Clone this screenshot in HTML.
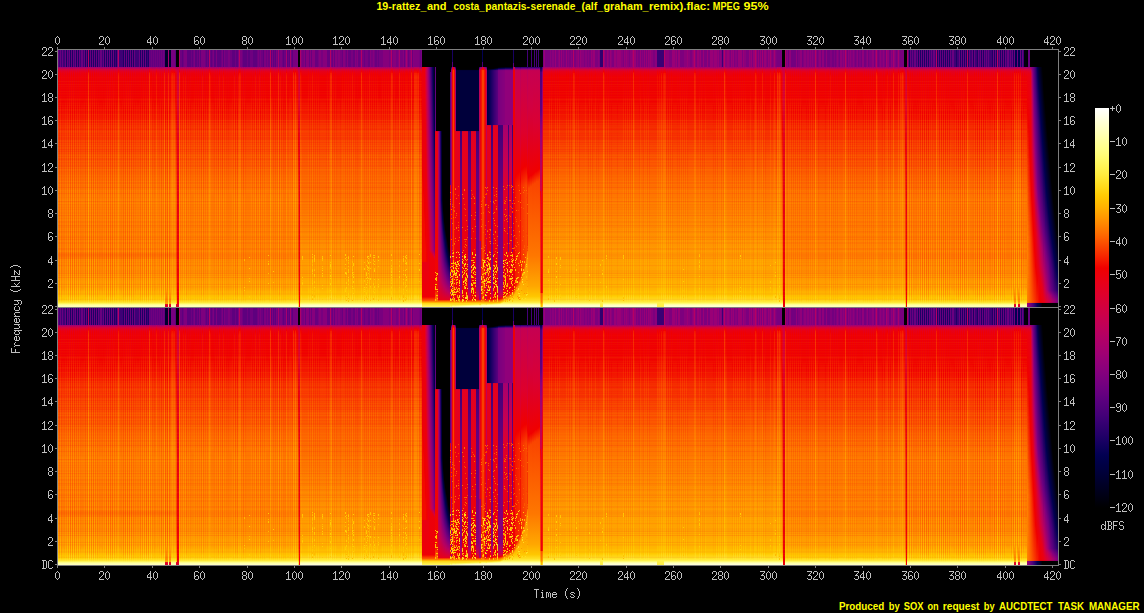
<!DOCTYPE html><html><head><meta charset="utf-8"><title>spectrogram</title><style>html,body{margin:0;padding:0;background:#000;overflow:hidden}svg{display:block}.t{font-family:"Liberation Sans",sans-serif;font-weight:bold;font-size:11px;fill:#ffff00}</style></head><body>
<svg width="1144" height="613" viewBox="0 0 1144 613" shape-rendering="crispEdges">
<defs><linearGradient id="G" gradientUnits="userSpaceOnUse" x1="0" y1="67" x2="0" y2="307"/>
<linearGradient id="g0" href="#G"><stop offset=".002" stop-color="#a8006d"/><stop offset=".01" stop-color="#d4003d"/><stop offset=".019" stop-color="#e70019"/><stop offset=".027" stop-color="#ed0008"/><stop offset=".052" stop-color="#f00001"/><stop offset=".127" stop-color="#f10300"/><stop offset=".256" stop-color="#f93b00"/><stop offset=".527" stop-color="#ff8300"/><stop offset=".773" stop-color="#ff8a00"/><stop offset=".881" stop-color="#ff9f00"/><stop offset=".956" stop-color="#ffc700"/><stop offset=".973" stop-color="#ffd715"/><stop offset=".981" stop-color="#ffe732"/><stop offset=".985" stop-color="#fff556"/><stop offset=".99" stop-color="#ffff90"/><stop offset=".994" stop-color="#ffffad"/><stop offset=".998" stop-color="#ffffb7"/></linearGradient>
<linearGradient id="g1" href="#G"><stop offset=".002" stop-color="#9f0072"/><stop offset=".006" stop-color="#bc005c"/><stop offset=".015" stop-color="#da0033"/><stop offset=".027" stop-color="#ea0012"/><stop offset=".04" stop-color="#ec000c"/><stop offset=".169" stop-color="#f00000"/><stop offset=".26" stop-color="#f62600"/><stop offset=".544" stop-color="#fd6d00"/><stop offset=".819" stop-color="#fd6d00"/><stop offset=".931" stop-color="#ff9000"/><stop offset=".956" stop-color="#fa0"/><stop offset=".969" stop-color="#ffc400"/><stop offset=".973" stop-color="#ffce06"/><stop offset=".981" stop-color="#ffe42d"/><stop offset=".985" stop-color="#fff556"/><stop offset=".99" stop-color="#ffff90"/><stop offset=".994" stop-color="#ffffad"/><stop offset=".998" stop-color="#ffffb7"/></linearGradient>
<linearGradient id="g2" href="#G"><stop offset=".002" stop-color="#a30070"/><stop offset=".01" stop-color="#d10042"/><stop offset=".019" stop-color="#e4001e"/><stop offset=".027" stop-color="#eb000e"/><stop offset=".044" stop-color="#ee0007"/><stop offset=".144" stop-color="#f00000"/><stop offset=".294" stop-color="#f93b00"/><stop offset=".556" stop-color="#fe7c00"/><stop offset=".769" stop-color="#fe7700"/><stop offset=".819" stop-color="#fe8000"/><stop offset=".923" stop-color="#ff9d00"/><stop offset=".965" stop-color="#ffc600"/><stop offset=".973" stop-color="#ffd30e"/><stop offset=".981" stop-color="#ffe52f"/><stop offset=".985" stop-color="#fff556"/><stop offset=".99" stop-color="#ffff90"/><stop offset=".994" stop-color="#ffffad"/><stop offset=".998" stop-color="#ffffb7"/></linearGradient>
<linearGradient id="g3" href="#G"><stop offset=".002" stop-color="#a10071"/><stop offset=".01" stop-color="#cf0045"/><stop offset=".019" stop-color="#e30021"/><stop offset=".04" stop-color="#ed000a"/><stop offset=".156" stop-color="#f00000"/><stop offset=".269" stop-color="#f72e00"/><stop offset=".552" stop-color="#fe7500"/><stop offset=".798" stop-color="#fe7200"/><stop offset=".931" stop-color="#f90"/><stop offset=".969" stop-color="#ffc900"/><stop offset=".981" stop-color="#ffe42d"/><stop offset=".985" stop-color="#fff556"/><stop offset=".99" stop-color="#ffff90"/><stop offset=".994" stop-color="#ffffad"/><stop offset=".998" stop-color="#ffffb7"/></linearGradient>
<linearGradient id="g4" href="#G"><stop offset=".002" stop-color="#a6006e"/><stop offset=".01" stop-color="#d20040"/><stop offset=".019" stop-color="#e6001c"/><stop offset=".027" stop-color="#ec000b"/><stop offset=".048" stop-color="#ef0004"/><stop offset=".131" stop-color="#f00000"/><stop offset=".265" stop-color="#f93800"/><stop offset=".531" stop-color="#fe7e00"/><stop offset=".798" stop-color="#ff8500"/><stop offset=".906" stop-color="#ff9f00"/><stop offset=".96" stop-color="#ffc400"/><stop offset=".973" stop-color="#ffd612"/><stop offset=".981" stop-color="#ffe732"/><stop offset=".985" stop-color="#fff556"/><stop offset=".99" stop-color="#ffff90"/><stop offset=".994" stop-color="#ffffad"/><stop offset=".998" stop-color="#ffffb7"/></linearGradient>
<linearGradient id="g5" href="#G"><stop offset=".002" stop-color="#a9006c"/><stop offset=".01" stop-color="#d4003c"/><stop offset=".019" stop-color="#e70018"/><stop offset=".027" stop-color="#ee0006"/><stop offset=".04" stop-color="#f00000"/><stop offset=".127" stop-color="#f20800"/><stop offset=".265" stop-color="#fa4300"/><stop offset=".531" stop-color="#ff8a00"/><stop offset=".765" stop-color="#ff9000"/><stop offset=".89" stop-color="#fa0"/><stop offset=".948" stop-color="#ffc600"/><stop offset=".977" stop-color="#ffdf23"/><stop offset=".981" stop-color="#ffe834"/><stop offset=".985" stop-color="#fff556"/><stop offset=".99" stop-color="#ffff90"/><stop offset=".994" stop-color="#ffffad"/><stop offset=".998" stop-color="#ffffb7"/></linearGradient>
<linearGradient id="g6" href="#G"><stop offset=".002" stop-color="#9e0073"/><stop offset=".01" stop-color="#cc0048"/><stop offset=".019" stop-color="#e10025"/><stop offset=".04" stop-color="#eb000f"/><stop offset=".181" stop-color="#f00000"/><stop offset=".281" stop-color="#f62600"/><stop offset=".552" stop-color="#fd6900"/><stop offset=".806" stop-color="#fd6100"/><stop offset=".931" stop-color="#ff8700"/><stop offset=".956" stop-color="#ffa200"/><stop offset=".969" stop-color="#ffc000"/><stop offset=".973" stop-color="#ffcb01"/><stop offset=".981" stop-color="#ffe32a"/><stop offset=".99" stop-color="#ffff90"/><stop offset=".994" stop-color="#ffffad"/><stop offset=".998" stop-color="#ffffb7"/></linearGradient>
<linearGradient id="g7" href="#G"><stop offset=".002" stop-color="#bc005c"/><stop offset=".01" stop-color="#e20024"/><stop offset=".019" stop-color="#f10500"/><stop offset=".027" stop-color="#f62600"/><stop offset=".04" stop-color="#f83300"/><stop offset=".123" stop-color="#f83500"/><stop offset=".26" stop-color="#fd6900"/><stop offset=".402" stop-color="#ff8a00"/><stop offset=".552" stop-color="#ffa600"/><stop offset=".769" stop-color="#ffa400"/><stop offset=".935" stop-color="#ffc700"/><stop offset=".977" stop-color="#ffe228"/><stop offset=".985" stop-color="#fff556"/><stop offset=".99" stop-color="#ffff90"/><stop offset=".994" stop-color="#ffffad"/><stop offset=".998" stop-color="#ffffb7"/></linearGradient>
<linearGradient id="g8" href="#G"><stop offset=".002" stop-color="#a7006e"/><stop offset=".01" stop-color="#d3003f"/><stop offset=".019" stop-color="#e6001a"/><stop offset=".04" stop-color="#ef0004"/><stop offset=".135" stop-color="#f00000"/><stop offset=".269" stop-color="#f83300"/><stop offset=".556" stop-color="#fe7500"/><stop offset=".74" stop-color="#fd6600"/><stop offset=".823" stop-color="#fd6d00"/><stop offset=".931" stop-color="#ff8e00"/><stop offset=".952" stop-color="#ffa200"/><stop offset=".969" stop-color="#ffc400"/><stop offset=".973" stop-color="#ffcc04"/><stop offset=".981" stop-color="#ffe42d"/><stop offset=".985" stop-color="#fff556"/><stop offset=".99" stop-color="#ffff90"/><stop offset=".994" stop-color="#ffffad"/><stop offset=".998" stop-color="#ffffb7"/></linearGradient>
<linearGradient id="g9" href="#G"><stop offset=".002" stop-color="#b70061"/><stop offset=".006" stop-color="#d00043"/><stop offset=".015" stop-color="#e90015"/><stop offset=".023" stop-color="#f20800"/><stop offset=".027" stop-color="#f41800"/><stop offset=".04" stop-color="#f62300"/><stop offset=".123" stop-color="#f62600"/><stop offset=".265" stop-color="#fc5a00"/><stop offset=".448" stop-color="#ff8300"/><stop offset=".548" stop-color="#ff9500"/><stop offset=".79" stop-color="#ff8e00"/><stop offset=".906" stop-color="#ffa600"/><stop offset=".96" stop-color="#ffc900"/><stop offset=".973" stop-color="#ffd715"/><stop offset=".981" stop-color="#ffe732"/><stop offset=".985" stop-color="#fff556"/><stop offset=".99" stop-color="#ffff90"/><stop offset=".994" stop-color="#ffffad"/><stop offset=".998" stop-color="#ffffb7"/></linearGradient>
<linearGradient id="g10" href="#G"><stop offset=".002" stop-color="#aa006c"/><stop offset=".01" stop-color="#d5003b"/><stop offset=".019" stop-color="#e80016"/><stop offset=".04" stop-color="#f10300"/><stop offset=".123" stop-color="#f10500"/><stop offset=".273" stop-color="#f94000"/><stop offset=".535" stop-color="#fe7e00"/><stop offset=".769" stop-color="#fe7700"/><stop offset=".823" stop-color="#fe8000"/><stop offset=".923" stop-color="#ff9b00"/><stop offset=".965" stop-color="#ffc400"/><stop offset=".973" stop-color="#ffd10b"/><stop offset=".981" stop-color="#ffe52f"/><stop offset=".985" stop-color="#fff556"/><stop offset=".99" stop-color="#ffff90"/><stop offset=".994" stop-color="#ffffad"/><stop offset=".998" stop-color="#ffffb7"/></linearGradient>
<linearGradient id="g11" href="#G"><stop offset=".002" stop-color="#ba005e"/><stop offset=".01" stop-color="#e10026"/><stop offset=".019" stop-color="#f10300"/><stop offset=".027" stop-color="#f62300"/><stop offset=".04" stop-color="#f72e00"/><stop offset=".123" stop-color="#f83000"/><stop offset=".215" stop-color="#fc5500"/><stop offset=".394" stop-color="#ff8300"/><stop offset=".544" stop-color="#ff9f00"/><stop offset=".765" stop-color="#ff9b00"/><stop offset=".906" stop-color="#ffb500"/><stop offset=".944" stop-color="#ffc700"/><stop offset=".973" stop-color="#ffdb1c"/><stop offset=".981" stop-color="#ffe834"/><stop offset=".985" stop-color="#fff556"/><stop offset=".99" stop-color="#ffff90"/><stop offset=".994" stop-color="#ffffad"/><stop offset=".998" stop-color="#ffffb7"/></linearGradient>
<linearGradient id="g12" href="#G"><stop offset=".002" stop-color="#a8006d"/><stop offset=".01" stop-color="#d4003d"/><stop offset=".019" stop-color="#e70018"/><stop offset=".04" stop-color="#f00001"/><stop offset=".123" stop-color="#f00000"/><stop offset=".265" stop-color="#f93800"/><stop offset=".527" stop-color="#fe7700"/><stop offset=".765" stop-color="#fd6d00"/><stop offset=".835" stop-color="#fe7900"/><stop offset=".931" stop-color="#ff9700"/><stop offset=".969" stop-color="#ffc700"/><stop offset=".981" stop-color="#ffe42d"/><stop offset=".985" stop-color="#fff556"/><stop offset=".99" stop-color="#ffff90"/><stop offset=".994" stop-color="#ffffad"/><stop offset=".998" stop-color="#ffffb7"/></linearGradient>
<linearGradient id="g13" href="#G"><stop offset=".002" stop-color="#b20065"/><stop offset=".01" stop-color="#db0031"/><stop offset=".019" stop-color="#ec000b"/><stop offset=".027" stop-color="#f20b00"/><stop offset=".04" stop-color="#f41600"/><stop offset=".123" stop-color="#f41800"/><stop offset=".277" stop-color="#fb5200"/><stop offset=".523" stop-color="#ff8a00"/><stop offset=".765" stop-color="#ff8500"/><stop offset=".877" stop-color="#f90"/><stop offset=".931" stop-color="#ffac00"/><stop offset=".96" stop-color="#ffc600"/><stop offset=".973" stop-color="#ffd612"/><stop offset=".981" stop-color="#ffe732"/><stop offset=".985" stop-color="#fff556"/><stop offset=".99" stop-color="#ffff90"/><stop offset=".994" stop-color="#ffffad"/><stop offset=".998" stop-color="#ffffb7"/></linearGradient>
<linearGradient id="g14" href="#G"><stop offset=".002" stop-color="#b70061"/><stop offset=".006" stop-color="#d00043"/><stop offset=".015" stop-color="#e90015"/><stop offset=".023" stop-color="#f20800"/><stop offset=".027" stop-color="#f41800"/><stop offset=".04" stop-color="#f62300"/><stop offset=".123" stop-color="#f72800"/><stop offset=".265" stop-color="#fc5f00"/><stop offset=".494" stop-color="#ff9500"/><stop offset=".773" stop-color="#ff9f00"/><stop offset=".94" stop-color="#ffc700"/><stop offset=".973" stop-color="#ffdd1e"/><stop offset=".981" stop-color="#ffe834"/><stop offset=".985" stop-color="#fff556"/><stop offset=".99" stop-color="#ffff90"/><stop offset=".994" stop-color="#ffffad"/><stop offset=".998" stop-color="#ffffb7"/></linearGradient>
<linearGradient id="g15" href="#G"><stop offset=".002" stop-color="#9c0074"/><stop offset=".006" stop-color="#b9005f"/><stop offset=".015" stop-color="#d80037"/><stop offset=".027" stop-color="#e70018"/><stop offset=".04" stop-color="#ea0012"/><stop offset=".198" stop-color="#f00000"/><stop offset=".273" stop-color="#f51e00"/><stop offset=".548" stop-color="#fd6100"/><stop offset=".806" stop-color="#fc5700"/><stop offset=".89" stop-color="#fd6b00"/><stop offset=".948" stop-color="#ff8e00"/><stop offset=".973" stop-color="#ff8c00"/><stop offset=".981" stop-color="#ff9b00"/><stop offset=".985" stop-color="#ffb400"/><stop offset=".99" stop-color="#de002c"/><stop offset=".998" stop-color="#de002c"/></linearGradient>
<linearGradient id="g16" href="#G"><stop offset=".002" stop-color="#a8006d"/><stop offset=".01" stop-color="#d4003d"/><stop offset=".019" stop-color="#e70019"/><stop offset=".027" stop-color="#ed0008"/><stop offset=".052" stop-color="#f00001"/><stop offset=".127" stop-color="#f10300"/><stop offset=".256" stop-color="#f93b00"/><stop offset=".527" stop-color="#ff8300"/><stop offset=".752" stop-color="#ff8700"/><stop offset=".919" stop-color="#ffae00"/><stop offset=".948" stop-color="#ff8e00"/><stop offset=".969" stop-color="#ff8a00"/><stop offset=".977" stop-color="#ff9000"/><stop offset=".985" stop-color="#ffb400"/><stop offset=".99" stop-color="#de002c"/><stop offset=".998" stop-color="#de002c"/></linearGradient>
<linearGradient id="g17" href="#G"><stop offset=".002" stop-color="#9e0073"/><stop offset=".01" stop-color="#cc0048"/><stop offset=".019" stop-color="#e10025"/><stop offset=".04" stop-color="#eb000f"/><stop offset=".181" stop-color="#f00000"/><stop offset=".281" stop-color="#f62600"/><stop offset=".552" stop-color="#fd6900"/><stop offset=".806" stop-color="#fd6100"/><stop offset=".89" stop-color="#fe7500"/><stop offset=".944" stop-color="#ff9300"/><stop offset=".969" stop-color="#ff8a00"/><stop offset=".977" stop-color="#ff9000"/><stop offset=".985" stop-color="#ffb400"/><stop offset=".99" stop-color="#de002c"/><stop offset=".998" stop-color="#de002c"/></linearGradient>
<linearGradient id="g18" href="#G"><stop offset=".002" stop-color="#a6006e"/><stop offset=".01" stop-color="#d20040"/><stop offset=".019" stop-color="#e6001c"/><stop offset=".027" stop-color="#ec000b"/><stop offset=".048" stop-color="#ef0004"/><stop offset=".131" stop-color="#f00000"/><stop offset=".265" stop-color="#f93800"/><stop offset=".531" stop-color="#fe7e00"/><stop offset=".773" stop-color="#fe8000"/><stop offset=".919" stop-color="#ffa600"/><stop offset=".969" stop-color="#ff8a00"/><stop offset=".977" stop-color="#ff9000"/><stop offset=".985" stop-color="#ffb400"/><stop offset=".99" stop-color="#de002c"/><stop offset=".998" stop-color="#de002c"/></linearGradient>
<linearGradient id="g19" href="#G"><stop offset=".002" stop-color="#b20065"/><stop offset=".01" stop-color="#db0031"/><stop offset=".019" stop-color="#ec000b"/><stop offset=".027" stop-color="#f20b00"/><stop offset=".04" stop-color="#f41800"/><stop offset=".127" stop-color="#f51b00"/><stop offset=".26" stop-color="#fb4d00"/><stop offset=".531" stop-color="#ff8a00"/><stop offset=".773" stop-color="#fe8000"/><stop offset=".865" stop-color="#ff9000"/><stop offset=".935" stop-color="#ffa800"/><stop offset=".965" stop-color="#ffc700"/><stop offset=".981" stop-color="#ffe52f"/><stop offset=".985" stop-color="#fff556"/><stop offset=".99" stop-color="#ffff90"/><stop offset=".994" stop-color="#ffffad"/><stop offset=".998" stop-color="#ffffb7"/></linearGradient>
<linearGradient id="g20" href="#G"><stop offset=".002" stop-color="#b60062"/><stop offset=".006" stop-color="#cf0045"/><stop offset=".015" stop-color="#e80016"/><stop offset=".023" stop-color="#f10500"/><stop offset=".027" stop-color="#f41600"/><stop offset=".04" stop-color="#f52000"/><stop offset=".127" stop-color="#f62600"/><stop offset=".265" stop-color="#fc5a00"/><stop offset=".519" stop-color="#ff9300"/><stop offset=".765" stop-color="#ff9000"/><stop offset=".894" stop-color="#ffa800"/><stop offset=".952" stop-color="#ffc600"/><stop offset=".973" stop-color="#ffd817"/><stop offset=".981" stop-color="#ffe732"/><stop offset=".985" stop-color="#fff556"/><stop offset=".99" stop-color="#ffff90"/><stop offset=".994" stop-color="#ffffad"/><stop offset=".998" stop-color="#ffffb7"/></linearGradient>
<linearGradient id="g21" href="#G"><stop offset=".002" stop-color="#b40063"/><stop offset=".01" stop-color="#dd002e"/><stop offset=".023" stop-color="#f00000"/><stop offset=".027" stop-color="#f31000"/><stop offset=".04" stop-color="#f51b00"/><stop offset=".127" stop-color="#f52000"/><stop offset=".269" stop-color="#fc5500"/><stop offset=".402" stop-color="#fe7500"/><stop offset=".544" stop-color="#ff9000"/><stop offset=".794" stop-color="#ff8c00"/><stop offset=".894" stop-color="#ff9f00"/><stop offset=".96" stop-color="#ffc700"/><stop offset=".973" stop-color="#ffd612"/><stop offset=".981" stop-color="#ffe732"/><stop offset=".985" stop-color="#fff556"/><stop offset=".99" stop-color="#ffff90"/><stop offset=".994" stop-color="#ffffad"/><stop offset=".998" stop-color="#ffffb7"/></linearGradient>
<linearGradient id="g22" href="#G"><stop offset=".002" stop-color="#9a0075"/><stop offset=".01" stop-color="#c9004d"/><stop offset=".019" stop-color="#df002a"/><stop offset=".027" stop-color="#e6001a"/><stop offset=".052" stop-color="#e90013"/><stop offset=".21" stop-color="#f00000"/><stop offset=".556" stop-color="#fc5c00"/><stop offset=".765" stop-color="#fa4800"/><stop offset=".819" stop-color="#fb4f00"/><stop offset=".89" stop-color="#fd6100"/><stop offset=".94" stop-color="#fe7c00"/><stop offset=".96" stop-color="#ff9700"/><stop offset=".981" stop-color="#ffc900"/><stop offset=".985" stop-color="#ffe126"/><stop offset=".99" stop-color="#de002c"/><stop offset=".998" stop-color="#de002c"/></linearGradient>
<linearGradient id="g23" href="#G"><stop offset=".002" stop-color="#ae0068"/><stop offset=".015" stop-color="#d20040"/><stop offset=".344" stop-color="#e70019"/><stop offset=".985" stop-color="#ef0003"/><stop offset=".99" stop-color="#de002c"/><stop offset=".998" stop-color="#de002c"/></linearGradient>
<linearGradient id="g24" href="#G"><stop offset=".002" stop-color="#ba005e"/><stop offset=".01" stop-color="#e10026"/><stop offset=".019" stop-color="#f00000"/><stop offset=".027" stop-color="#f52000"/><stop offset=".04" stop-color="#f72b00"/><stop offset=".123" stop-color="#f72e00"/><stop offset=".277" stop-color="#fd6400"/><stop offset=".394" stop-color="#fe7e00"/><stop offset=".54" stop-color="#f90"/><stop offset=".794" stop-color="#f90"/><stop offset=".894" stop-color="#ffac00"/><stop offset=".952" stop-color="#ffc900"/><stop offset=".973" stop-color="#ffdb1c"/><stop offset=".981" stop-color="#ffe937"/><stop offset=".985" stop-color="#fff65b"/><stop offset=".99" stop-color="#ffff95"/><stop offset=".994" stop-color="#ffffb2"/><stop offset=".998" stop-color="#ffb"/></linearGradient>
<linearGradient id="g25" href="#G"><stop offset=".002" stop-color="#a10071"/><stop offset=".01" stop-color="#cf0045"/><stop offset=".019" stop-color="#e30021"/><stop offset=".027" stop-color="#ea0011"/><stop offset=".048" stop-color="#ed000a"/><stop offset=".16" stop-color="#f00000"/><stop offset=".294" stop-color="#f83300"/><stop offset=".54" stop-color="#fe7000"/><stop offset=".798" stop-color="#fe7700"/><stop offset=".923" stop-color="#f90"/><stop offset=".965" stop-color="#ffc400"/><stop offset=".973" stop-color="#ffd30e"/><stop offset=".981" stop-color="#ffe732"/><stop offset=".985" stop-color="#fff65b"/><stop offset=".99" stop-color="#ffff95"/><stop offset=".994" stop-color="#ffffb2"/><stop offset=".998" stop-color="#ffb"/></linearGradient>
<linearGradient id="g26" href="#G"><stop offset=".002" stop-color="#aa006c"/><stop offset=".01" stop-color="#d5003b"/><stop offset=".019" stop-color="#e80016"/><stop offset=".04" stop-color="#f00000"/><stop offset=".123" stop-color="#f10500"/><stop offset=".277" stop-color="#fa4300"/><stop offset=".54" stop-color="#ff8300"/><stop offset=".769" stop-color="#ff8500"/><stop offset=".881" stop-color="#ff9b00"/><stop offset=".931" stop-color="#ffae00"/><stop offset=".96" stop-color="#ffc700"/><stop offset=".973" stop-color="#ffd817"/><stop offset=".981" stop-color="#ffe937"/><stop offset=".985" stop-color="#fff65b"/><stop offset=".99" stop-color="#ffff95"/><stop offset=".994" stop-color="#ffffb2"/><stop offset=".998" stop-color="#ffb"/></linearGradient>
<linearGradient id="g27" href="#G"><stop offset=".002" stop-color="#ae0068"/><stop offset=".01" stop-color="#d80036"/><stop offset=".019" stop-color="#ea0011"/><stop offset=".027" stop-color="#f00000"/><stop offset=".048" stop-color="#f30d00"/><stop offset=".123" stop-color="#f31000"/><stop offset=".244" stop-color="#fa4300"/><stop offset=".494" stop-color="#ff8300"/><stop offset=".556" stop-color="#ff8e00"/><stop offset=".785" stop-color="#ff9000"/><stop offset=".89" stop-color="#ffa600"/><stop offset=".952" stop-color="#ffc700"/><stop offset=".973" stop-color="#ffda1a"/><stop offset=".981" stop-color="#ffe937"/><stop offset=".985" stop-color="#fff65b"/><stop offset=".99" stop-color="#ffff95"/><stop offset=".994" stop-color="#ffffb2"/><stop offset=".998" stop-color="#ffb"/></linearGradient>
<linearGradient id="g28" href="#G"><stop offset=".002" stop-color="#9d0074"/><stop offset=".01" stop-color="#cc0049"/><stop offset=".019" stop-color="#e10026"/><stop offset=".027" stop-color="#e80016"/><stop offset=".048" stop-color="#eb000f"/><stop offset=".185" stop-color="#f00000"/><stop offset=".285" stop-color="#f62600"/><stop offset=".556" stop-color="#fd6900"/><stop offset=".798" stop-color="#fd6d00"/><stop offset=".923" stop-color="#ff9000"/><stop offset=".944" stop-color="#ff9f00"/><stop offset=".969" stop-color="#ffc700"/><stop offset=".981" stop-color="#ffe732"/><stop offset=".985" stop-color="#fff65b"/><stop offset=".99" stop-color="#ffff95"/><stop offset=".994" stop-color="#ffffb2"/><stop offset=".998" stop-color="#ffb"/></linearGradient>
<linearGradient id="g29" href="#G"><stop offset=".002" stop-color="#a6006e"/><stop offset=".01" stop-color="#d20040"/><stop offset=".019" stop-color="#e6001c"/><stop offset=".027" stop-color="#ec000b"/><stop offset=".048" stop-color="#ef0004"/><stop offset=".135" stop-color="#f00000"/><stop offset=".285" stop-color="#f93b00"/><stop offset=".515" stop-color="#fe7500"/><stop offset=".798" stop-color="#fe8000"/><stop offset=".923" stop-color="#ffa200"/><stop offset=".965" stop-color="#ffc900"/><stop offset=".981" stop-color="#ffe834"/><stop offset=".985" stop-color="#fff65b"/><stop offset=".99" stop-color="#ffff95"/><stop offset=".994" stop-color="#ffffb2"/><stop offset=".998" stop-color="#ffb"/></linearGradient>
<linearGradient id="g30" href="#G"><stop offset=".002" stop-color="#b9005f"/><stop offset=".015" stop-color="#ea0012"/><stop offset=".023" stop-color="#f30d00"/><stop offset=".027" stop-color="#f51e00"/><stop offset=".04" stop-color="#f72800"/><stop offset=".127" stop-color="#f72b00"/><stop offset=".24" stop-color="#fc5500"/><stop offset=".373" stop-color="#fe7500"/><stop offset=".548" stop-color="#ff9500"/><stop offset=".773" stop-color="#ff9000"/><stop offset=".894" stop-color="#ffa600"/><stop offset=".935" stop-color="#ffb500"/><stop offset=".956" stop-color="#ffc900"/><stop offset=".973" stop-color="#ffda1a"/><stop offset=".981" stop-color="#ffe937"/><stop offset=".985" stop-color="#fff65b"/><stop offset=".99" stop-color="#ffff95"/><stop offset=".994" stop-color="#ffffb2"/><stop offset=".998" stop-color="#ffb"/></linearGradient>
<linearGradient id="g31" href="#G"><stop offset=".002" stop-color="#ae0068"/><stop offset=".01" stop-color="#d80036"/><stop offset=".019" stop-color="#ea0011"/><stop offset=".027" stop-color="#f00000"/><stop offset=".04" stop-color="#f20b00"/><stop offset=".123" stop-color="#f31000"/><stop offset=".273" stop-color="#fa4800"/><stop offset=".527" stop-color="#ff8300"/><stop offset=".773" stop-color="#ff8500"/><stop offset=".89" stop-color="#ff9b00"/><stop offset=".931" stop-color="#ffac00"/><stop offset=".96" stop-color="#ffc600"/><stop offset=".973" stop-color="#ffd715"/><stop offset=".981" stop-color="#ffe834"/><stop offset=".985" stop-color="#fff65b"/><stop offset=".99" stop-color="#ffff95"/><stop offset=".994" stop-color="#ffffb2"/><stop offset=".998" stop-color="#ffb"/></linearGradient>
<linearGradient id="g32" href="#G"><stop offset=".002" stop-color="#b50063"/><stop offset=".01" stop-color="#dd002d"/><stop offset=".019" stop-color="#ee0007"/><stop offset=".023" stop-color="#f10300"/><stop offset=".027" stop-color="#f31300"/><stop offset=".04" stop-color="#f51e00"/><stop offset=".127" stop-color="#f52000"/><stop offset=".265" stop-color="#fb5200"/><stop offset=".419" stop-color="#fe7500"/><stop offset=".548" stop-color="#ff8c00"/><stop offset=".773" stop-color="#ff8700"/><stop offset=".894" stop-color="#ff9d00"/><stop offset=".935" stop-color="#ffae00"/><stop offset=".96" stop-color="#ffc600"/><stop offset=".973" stop-color="#ffd715"/><stop offset=".981" stop-color="#ffe834"/><stop offset=".985" stop-color="#fff65b"/><stop offset=".99" stop-color="#ffff95"/><stop offset=".994" stop-color="#ffffb2"/><stop offset=".998" stop-color="#ffb"/></linearGradient>
<linearGradient id="g33" href="#G"><stop offset=".002" stop-color="#b20065"/><stop offset=".01" stop-color="#db0031"/><stop offset=".019" stop-color="#ec000b"/><stop offset=".027" stop-color="#f20b00"/><stop offset=".04" stop-color="#f41600"/><stop offset=".123" stop-color="#f51b00"/><stop offset=".281" stop-color="#fc5500"/><stop offset=".515" stop-color="#ff8a00"/><stop offset=".79" stop-color="#ff9000"/><stop offset=".89" stop-color="#ffa400"/><stop offset=".956" stop-color="#ffc900"/><stop offset=".973" stop-color="#ffda1a"/><stop offset=".981" stop-color="#ffe937"/><stop offset=".985" stop-color="#fff65b"/><stop offset=".99" stop-color="#ffff95"/><stop offset=".994" stop-color="#ffffb2"/><stop offset=".998" stop-color="#ffb"/></linearGradient>
<linearGradient id="g34" href="#G"><stop offset=".002" stop-color="#bd005b"/><stop offset=".01" stop-color="#e30022"/><stop offset=".019" stop-color="#f20800"/><stop offset=".027" stop-color="#f72800"/><stop offset=".04" stop-color="#f83300"/><stop offset=".127" stop-color="#f83500"/><stop offset=".256" stop-color="#fd6400"/><stop offset=".431" stop-color="#ff8a00"/><stop offset=".548" stop-color="#ff9d00"/><stop offset=".773" stop-color="#f90"/><stop offset=".894" stop-color="#ffae00"/><stop offset=".948" stop-color="#ffc700"/><stop offset=".973" stop-color="#ffdb1c"/><stop offset=".981" stop-color="#ffe937"/><stop offset=".985" stop-color="#fff65b"/><stop offset=".99" stop-color="#ffff95"/><stop offset=".994" stop-color="#ffffb2"/><stop offset=".998" stop-color="#ffb"/></linearGradient>
<linearGradient id="g35" href="#G"><stop offset=".002" stop-color="#aa006c"/><stop offset=".01" stop-color="#d5003b"/><stop offset=".019" stop-color="#e80016"/><stop offset=".04" stop-color="#f00000"/><stop offset=".123" stop-color="#f10500"/><stop offset=".281" stop-color="#f94000"/><stop offset=".54" stop-color="#fe7c00"/><stop offset=".773" stop-color="#fe7c00"/><stop offset=".835" stop-color="#ff8700"/><stop offset=".923" stop-color="#ff9f00"/><stop offset=".965" stop-color="#ffc700"/><stop offset=".973" stop-color="#ffd410"/><stop offset=".981" stop-color="#ffe834"/><stop offset=".985" stop-color="#fff65b"/><stop offset=".99" stop-color="#ffff95"/><stop offset=".994" stop-color="#ffffb2"/><stop offset=".998" stop-color="#ffb"/></linearGradient>
<linearGradient id="g36" href="#G"><stop offset=".002" stop-color="#b80060"/><stop offset=".006" stop-color="#d10042"/><stop offset=".015" stop-color="#e90013"/><stop offset=".023" stop-color="#f20b00"/><stop offset=".027" stop-color="#f51b00"/><stop offset=".04" stop-color="#f62600"/><stop offset=".127" stop-color="#f72800"/><stop offset=".277" stop-color="#fc5f00"/><stop offset=".44" stop-color="#ff8300"/><stop offset=".552" stop-color="#ff9700"/><stop offset=".798" stop-color="#ff9700"/><stop offset=".894" stop-color="#fa0"/><stop offset=".952" stop-color="#ffc700"/><stop offset=".973" stop-color="#ffdb1c"/><stop offset=".981" stop-color="#ffe937"/><stop offset=".985" stop-color="#fff65b"/><stop offset=".99" stop-color="#ffff95"/><stop offset=".994" stop-color="#ffffb2"/><stop offset=".998" stop-color="#ffb"/></linearGradient>
<linearGradient id="g37" href="#G"><stop offset=".002" stop-color="#b40063"/><stop offset=".01" stop-color="#dd002e"/><stop offset=".023" stop-color="#f00000"/><stop offset=".027" stop-color="#f31000"/><stop offset=".04" stop-color="#f51b00"/><stop offset=".127" stop-color="#f51e00"/><stop offset=".277" stop-color="#fc5500"/><stop offset=".394" stop-color="#fe7000"/><stop offset=".552" stop-color="#ff8e00"/><stop offset=".798" stop-color="#ff8e00"/><stop offset=".923" stop-color="#ffac00"/><stop offset=".96" stop-color="#ffc900"/><stop offset=".973" stop-color="#ffd817"/><stop offset=".981" stop-color="#ffe937"/><stop offset=".985" stop-color="#fff65b"/><stop offset=".99" stop-color="#ffff95"/><stop offset=".994" stop-color="#ffffb2"/><stop offset=".998" stop-color="#ffb"/></linearGradient>
<linearGradient id="g38" href="#G"><stop offset=".002" stop-color="#ac006a"/><stop offset=".01" stop-color="#d70038"/><stop offset=".019" stop-color="#e90013"/><stop offset=".035" stop-color="#f00000"/><stop offset=".127" stop-color="#f20800"/><stop offset=".277" stop-color="#f94000"/><stop offset=".552" stop-color="#fe7c00"/><stop offset=".765" stop-color="#fe7700"/><stop offset=".877" stop-color="#ff8c00"/><stop offset=".931" stop-color="#ff9f00"/><stop offset=".965" stop-color="#ffc600"/><stop offset=".973" stop-color="#ffd30e"/><stop offset=".981" stop-color="#ffe834"/><stop offset=".985" stop-color="#fff65b"/><stop offset=".99" stop-color="#ffff95"/><stop offset=".994" stop-color="#ffffb2"/><stop offset=".998" stop-color="#ffb"/></linearGradient>
<linearGradient id="g39" href="#G"><stop offset=".002" stop-color="#ae0068"/><stop offset=".01" stop-color="#d80036"/><stop offset=".019" stop-color="#ea0011"/><stop offset=".027" stop-color="#f00000"/><stop offset=".04" stop-color="#f20b00"/><stop offset=".123" stop-color="#f30d00"/><stop offset=".265" stop-color="#fa4300"/><stop offset=".527" stop-color="#fe7c00"/><stop offset=".777" stop-color="#fe7c00"/><stop offset=".877" stop-color="#ff8e00"/><stop offset=".935" stop-color="#ffa400"/><stop offset=".965" stop-color="#ffc600"/><stop offset=".973" stop-color="#ffd410"/><stop offset=".981" stop-color="#ffe834"/><stop offset=".985" stop-color="#fff65b"/><stop offset=".99" stop-color="#ffff95"/><stop offset=".994" stop-color="#ffffb2"/><stop offset=".998" stop-color="#ffb"/></linearGradient>
<linearGradient id="g40" href="#G"><stop offset=".002" stop-color="#8b007b"/><stop offset=".006" stop-color="#aa006c"/><stop offset=".015" stop-color="#cc0049"/><stop offset=".027" stop-color="#de002c"/><stop offset=".04" stop-color="#e10026"/><stop offset=".123" stop-color="#e20024"/><stop offset=".31" stop-color="#f00000"/><stop offset=".556" stop-color="#f94000"/><stop offset=".769" stop-color="#f94000"/><stop offset=".84" stop-color="#fb4f00"/><stop offset=".931" stop-color="#fe7000"/><stop offset=".96" stop-color="#ff9300"/><stop offset=".981" stop-color="#ffc600"/><stop offset=".99" stop-color="#fff047"/><stop offset=".998" stop-color="#fff047"/></linearGradient>
<linearGradient id="g41" href="#G"><stop offset=".002" stop-color="#ae0068"/><stop offset=".015" stop-color="#d20040"/><stop offset=".29" stop-color="#e4001e"/><stop offset=".998" stop-color="#ef0003"/></linearGradient>
<linearGradient id="g42" href="#G"><stop offset=".002" stop-color="#b20065"/><stop offset=".01" stop-color="#db0031"/><stop offset=".019" stop-color="#ec000b"/><stop offset=".027" stop-color="#f20b00"/><stop offset=".04" stop-color="#f41600"/><stop offset=".123" stop-color="#f41800"/><stop offset=".265" stop-color="#fb4d00"/><stop offset=".515" stop-color="#ff8300"/><stop offset=".777" stop-color="#ff8500"/><stop offset=".877" stop-color="#ff9700"/><stop offset=".935" stop-color="#ffac00"/><stop offset=".96" stop-color="#ffc400"/><stop offset=".973" stop-color="#ffd715"/><stop offset=".981" stop-color="#ffe834"/><stop offset=".985" stop-color="#fff65b"/><stop offset=".99" stop-color="#ffff95"/><stop offset=".994" stop-color="#ffffb2"/><stop offset=".998" stop-color="#ffb"/></linearGradient>
<linearGradient id="g43" href="#G"><stop offset=".002" stop-color="#ad0069"/><stop offset=".01" stop-color="#d80037"/><stop offset=".019" stop-color="#ea0012"/><stop offset=".031" stop-color="#f10300"/><stop offset=".131" stop-color="#f30d00"/><stop offset=".381" stop-color="#fc5f00"/><stop offset=".802" stop-color="#ff9b00"/><stop offset=".89" stop-color="#ffae00"/><stop offset=".948" stop-color="#ffc900"/><stop offset=".977" stop-color="#ffe937"/><stop offset=".981" stop-color="#fff14a"/><stop offset=".985" stop-color="#fffb6e"/><stop offset=".99" stop-color="#ffffa8"/><stop offset=".994" stop-color="#ffffc5"/><stop offset=".998" stop-color="#ffffcf"/></linearGradient>
<linearGradient id="g44" href="#G"><stop offset=".002" stop-color="#a9006c"/><stop offset=".01" stop-color="#d4003c"/><stop offset=".019" stop-color="#e70018"/><stop offset=".04" stop-color="#f00001"/><stop offset=".123" stop-color="#f00000"/><stop offset=".273" stop-color="#f93800"/><stop offset=".431" stop-color="#fc5f00"/><stop offset=".86" stop-color="#ff9f00"/><stop offset=".931" stop-color="#ffb500"/><stop offset=".952" stop-color="#ffc700"/><stop offset=".96" stop-color="#ffcf09"/><stop offset=".977" stop-color="#ffe834"/><stop offset=".981" stop-color="#fff047"/><stop offset=".985" stop-color="#fffb6e"/><stop offset=".99" stop-color="#ffffa8"/><stop offset=".994" stop-color="#ffffc5"/><stop offset=".998" stop-color="#ffffcf"/></linearGradient>
<linearGradient id="g45" href="#G"><stop offset=".002" stop-color="#a5006f"/><stop offset=".01" stop-color="#d10041"/><stop offset=".019" stop-color="#e5001d"/><stop offset=".027" stop-color="#ec000c"/><stop offset=".04" stop-color="#ee0007"/><stop offset=".152" stop-color="#f00000"/><stop offset=".273" stop-color="#f72e00"/><stop offset=".431" stop-color="#fc5500"/><stop offset=".79" stop-color="#ff8700"/><stop offset=".89" stop-color="#ff9d00"/><stop offset=".956" stop-color="#ffc400"/><stop offset=".973" stop-color="#ffde21"/><stop offset=".981" stop-color="#ffef45"/><stop offset=".985" stop-color="#fffb6e"/><stop offset=".99" stop-color="#ffffa8"/><stop offset=".994" stop-color="#ffffc5"/><stop offset=".998" stop-color="#ffffcf"/></linearGradient>
<linearGradient id="g46" href="#G"><stop offset=".002" stop-color="#b10066"/><stop offset=".01" stop-color="#da0032"/><stop offset=".019" stop-color="#ec000c"/><stop offset=".027" stop-color="#f20800"/><stop offset=".04" stop-color="#f31300"/><stop offset=".131" stop-color="#f41800"/><stop offset=".381" stop-color="#fd6900"/><stop offset=".777" stop-color="#ff9f00"/><stop offset=".94" stop-color="#ffc900"/><stop offset=".977" stop-color="#ffea39"/><stop offset=".981" stop-color="#fff14a"/><stop offset=".985" stop-color="#fffb6e"/><stop offset=".99" stop-color="#ffffa8"/><stop offset=".994" stop-color="#ffffc5"/><stop offset=".998" stop-color="#ffffcf"/></linearGradient>
<linearGradient id="g47" href="#G"><stop offset=".002" stop-color="#b80060"/><stop offset=".006" stop-color="#d10042"/><stop offset=".015" stop-color="#e90013"/><stop offset=".023" stop-color="#f20b00"/><stop offset=".027" stop-color="#f51b00"/><stop offset=".04" stop-color="#f62600"/><stop offset=".123" stop-color="#f62300"/><stop offset=".36" stop-color="#fd6900"/><stop offset=".798" stop-color="#ff9b00"/><stop offset=".894" stop-color="#ffae00"/><stop offset=".948" stop-color="#ffc700"/><stop offset=".969" stop-color="#ffdd1e"/><stop offset=".981" stop-color="#fff047"/><stop offset=".985" stop-color="#fffb6e"/><stop offset=".99" stop-color="#ffffa8"/><stop offset=".994" stop-color="#ffffc5"/><stop offset=".998" stop-color="#ffffcf"/></linearGradient>
<linearGradient id="g48" href="#G"><stop offset=".002" stop-color="#b9005f"/><stop offset=".015" stop-color="#ea0012"/><stop offset=".023" stop-color="#f30d00"/><stop offset=".027" stop-color="#f51e00"/><stop offset=".04" stop-color="#f72800"/><stop offset=".123" stop-color="#f72800"/><stop offset=".348" stop-color="#fe7000"/><stop offset=".523" stop-color="#ff8e00"/><stop offset=".71" stop-color="#ff9d00"/><stop offset=".931" stop-color="#ffc900"/><stop offset=".977" stop-color="#ffeb3b"/><stop offset=".981" stop-color="#fff24c"/><stop offset=".985" stop-color="#fffb6e"/><stop offset=".99" stop-color="#ffffa8"/><stop offset=".994" stop-color="#ffffc5"/><stop offset=".998" stop-color="#ffffcf"/></linearGradient>
<linearGradient id="g49" href="#G"><stop offset=".002" stop-color="#bc005c"/><stop offset=".01" stop-color="#e20024"/><stop offset=".019" stop-color="#f10500"/><stop offset=".027" stop-color="#f62600"/><stop offset=".04" stop-color="#f83000"/><stop offset=".123" stop-color="#f72e00"/><stop offset=".373" stop-color="#fe7500"/><stop offset=".765" stop-color="#ff9f00"/><stop offset=".94" stop-color="#ffc700"/><stop offset=".96" stop-color="#ffd817"/><stop offset=".977" stop-color="#ffea39"/><stop offset=".981" stop-color="#fff14a"/><stop offset=".985" stop-color="#fffb6e"/><stop offset=".99" stop-color="#ffffa8"/><stop offset=".994" stop-color="#ffffc5"/><stop offset=".998" stop-color="#ffffcf"/></linearGradient>
<linearGradient id="g50" href="#G"><stop offset=".002" stop-color="#ad0069"/><stop offset=".01" stop-color="#d80037"/><stop offset=".019" stop-color="#ea0012"/><stop offset=".031" stop-color="#f10300"/><stop offset=".123" stop-color="#f20800"/><stop offset=".26" stop-color="#f93b00"/><stop offset=".41" stop-color="#fc5f00"/><stop offset=".869" stop-color="#ff9f00"/><stop offset=".923" stop-color="#ffb000"/><stop offset=".956" stop-color="#ffc900"/><stop offset=".973" stop-color="#ffdf23"/><stop offset=".981" stop-color="#fff047"/><stop offset=".985" stop-color="#fffb6e"/><stop offset=".99" stop-color="#ffffa8"/><stop offset=".994" stop-color="#ffffc5"/><stop offset=".998" stop-color="#ffffcf"/></linearGradient>
<linearGradient id="g51" href="#G"><stop offset=".002" stop-color="#b50063"/><stop offset=".01" stop-color="#dd002d"/><stop offset=".019" stop-color="#ee0007"/><stop offset=".023" stop-color="#f10300"/><stop offset=".027" stop-color="#f31300"/><stop offset=".04" stop-color="#f51e00"/><stop offset=".123" stop-color="#f51e00"/><stop offset=".36" stop-color="#fd6900"/><stop offset=".781" stop-color="#ff9f00"/><stop offset=".94" stop-color="#ffc700"/><stop offset=".96" stop-color="#ffd817"/><stop offset=".977" stop-color="#ffea39"/><stop offset=".981" stop-color="#fff14a"/><stop offset=".985" stop-color="#fffb6e"/><stop offset=".99" stop-color="#ffffa8"/><stop offset=".994" stop-color="#ffffc5"/><stop offset=".998" stop-color="#ffffcf"/></linearGradient>
<linearGradient id="g52" href="#G"><stop offset=".002" stop-color="#b70061"/><stop offset=".006" stop-color="#d00043"/><stop offset=".015" stop-color="#e90015"/><stop offset=".023" stop-color="#f20800"/><stop offset=".027" stop-color="#f41800"/><stop offset=".04" stop-color="#f52000"/><stop offset=".123" stop-color="#f52000"/><stop offset=".36" stop-color="#fd6900"/><stop offset=".802" stop-color="#ff9f00"/><stop offset=".944" stop-color="#ffc700"/><stop offset=".96" stop-color="#ffd612"/><stop offset=".977" stop-color="#ffe937"/><stop offset=".981" stop-color="#fff14a"/><stop offset=".985" stop-color="#fffb6e"/><stop offset=".99" stop-color="#ffffa8"/><stop offset=".994" stop-color="#ffffc5"/><stop offset=".998" stop-color="#ffffcf"/></linearGradient>
<linearGradient id="g53" href="#G"><stop offset=".002" stop-color="#af0068"/><stop offset=".01" stop-color="#d90035"/><stop offset=".019" stop-color="#eb000f"/><stop offset=".027" stop-color="#f10300"/><stop offset=".131" stop-color="#f30d00"/><stop offset=".385" stop-color="#fc5a00"/><stop offset=".89" stop-color="#ff9f00"/><stop offset=".956" stop-color="#ffc600"/><stop offset=".96" stop-color="#ffcb01"/><stop offset=".977" stop-color="#ffe732"/><stop offset=".981" stop-color="#fff047"/><stop offset=".985" stop-color="#fffb6e"/><stop offset=".99" stop-color="#ffffa8"/><stop offset=".994" stop-color="#ffffc5"/><stop offset=".998" stop-color="#ffffcf"/></linearGradient>
<linearGradient id="g54" href="#G"><stop offset=".002" stop-color="#bb005d"/><stop offset=".01" stop-color="#e10025"/><stop offset=".019" stop-color="#f10300"/><stop offset=".027" stop-color="#f62300"/><stop offset=".04" stop-color="#f72b00"/><stop offset=".123" stop-color="#f72b00"/><stop offset=".348" stop-color="#fe7000"/><stop offset=".531" stop-color="#ff8e00"/><stop offset=".744" stop-color="#ff9f00"/><stop offset=".935" stop-color="#ffc700"/><stop offset=".96" stop-color="#ffda1a"/><stop offset=".977" stop-color="#ffea39"/><stop offset=".981" stop-color="#fff14a"/><stop offset=".985" stop-color="#fffb6e"/><stop offset=".99" stop-color="#ffffa8"/><stop offset=".994" stop-color="#ffffc5"/><stop offset=".998" stop-color="#ffffcf"/></linearGradient>
<linearGradient id="g55" href="#G"><stop offset=".002" stop-color="#b9005f"/><stop offset=".015" stop-color="#ea0012"/><stop offset=".023" stop-color="#f30d00"/><stop offset=".027" stop-color="#f51e00"/><stop offset=".04" stop-color="#f72800"/><stop offset=".127" stop-color="#f72800"/><stop offset=".348" stop-color="#fd6b00"/><stop offset=".54" stop-color="#ff8a00"/><stop offset=".785" stop-color="#ff9f00"/><stop offset=".906" stop-color="#ffb700"/><stop offset=".944" stop-color="#ffc900"/><stop offset=".977" stop-color="#ffea39"/><stop offset=".981" stop-color="#fff14a"/><stop offset=".985" stop-color="#fffb6e"/><stop offset=".99" stop-color="#ffffa8"/><stop offset=".994" stop-color="#ffffc5"/><stop offset=".998" stop-color="#ffffcf"/></linearGradient>
<linearGradient id="g56" href="#G"><stop offset=".002" stop-color="#b50063"/><stop offset=".01" stop-color="#dd002d"/><stop offset=".019" stop-color="#ee0007"/><stop offset=".023" stop-color="#f10300"/><stop offset=".027" stop-color="#f31300"/><stop offset=".04" stop-color="#f51e00"/><stop offset=".127" stop-color="#f51e00"/><stop offset=".36" stop-color="#fd6400"/><stop offset=".81" stop-color="#ff9b00"/><stop offset=".923" stop-color="#ffb500"/><stop offset=".952" stop-color="#ffc900"/><stop offset=".977" stop-color="#ffe834"/><stop offset=".981" stop-color="#fff047"/><stop offset=".985" stop-color="#fffb6e"/><stop offset=".99" stop-color="#ffffa8"/><stop offset=".994" stop-color="#ffffc5"/><stop offset=".998" stop-color="#ffffcf"/></linearGradient>
<linearGradient id="g57" href="#G"><stop offset=".002" stop-color="#ec000b"/><stop offset=".373" stop-color="#ec000b"/><stop offset=".452" stop-color="#f00000"/><stop offset=".49" stop-color="#f20b00"/><stop offset=".81" stop-color="#f20b00"/><stop offset=".815" stop-color="#ea0011"/><stop offset=".956" stop-color="#ee0006"/><stop offset=".96" stop-color="#f30d00"/><stop offset=".973" stop-color="#fc5500"/><stop offset=".981" stop-color="#ffb000"/><stop offset=".985" stop-color="#ffd817"/><stop offset=".998" stop-color="#fff65b"/></linearGradient>
<linearGradient id="g58" href="#G"><stop offset=".002" stop-color="#ec000b"/><stop offset=".431" stop-color="#ec000b"/><stop offset=".515" stop-color="#f00000"/><stop offset=".556" stop-color="#f20b00"/><stop offset=".81" stop-color="#f20b00"/><stop offset=".815" stop-color="#ea0011"/><stop offset=".956" stop-color="#ee0006"/><stop offset=".96" stop-color="#f30d00"/><stop offset=".973" stop-color="#fc5500"/><stop offset=".981" stop-color="#ffb000"/><stop offset=".985" stop-color="#ffd817"/><stop offset=".998" stop-color="#fff65b"/></linearGradient>
<linearGradient id="g59" href="#G"><stop offset=".002" stop-color="#ec000b"/><stop offset=".494" stop-color="#ec000b"/><stop offset=".602" stop-color="#f00000"/><stop offset=".656" stop-color="#f20b00"/><stop offset=".81" stop-color="#f20b00"/><stop offset=".815" stop-color="#ea0011"/><stop offset=".956" stop-color="#ee0006"/><stop offset=".96" stop-color="#f30d00"/><stop offset=".973" stop-color="#fc5500"/><stop offset=".981" stop-color="#ffb000"/><stop offset=".985" stop-color="#ffd817"/><stop offset=".998" stop-color="#fff65b"/></linearGradient>
<linearGradient id="g60" href="#G"><stop offset=".002" stop-color="#dd002e"/><stop offset=".281" stop-color="#ec000b"/><stop offset=".702" stop-color="#f00000"/><stop offset=".756" stop-color="#f20b00"/><stop offset=".81" stop-color="#f20b00"/><stop offset=".815" stop-color="#ea0011"/><stop offset=".956" stop-color="#ee0006"/><stop offset=".96" stop-color="#f30d00"/><stop offset=".973" stop-color="#fc5500"/><stop offset=".981" stop-color="#ffb000"/><stop offset=".985" stop-color="#ffd817"/><stop offset=".998" stop-color="#fff65b"/></linearGradient>
<linearGradient id="g61" href="#G"><stop offset=".002" stop-color="#c8004e"/><stop offset=".49" stop-color="#ec000b"/><stop offset=".81" stop-color="#f10300"/><stop offset=".815" stop-color="#ea0011"/><stop offset=".823" stop-color="#ea0011"/><stop offset=".956" stop-color="#ee0006"/><stop offset=".96" stop-color="#f30d00"/><stop offset=".973" stop-color="#fc5500"/><stop offset=".981" stop-color="#ffb000"/><stop offset=".985" stop-color="#ffd817"/><stop offset=".998" stop-color="#fff65b"/></linearGradient>
<linearGradient id="g62" href="#G"><stop offset=".002" stop-color="#b00067"/><stop offset=".456" stop-color="#dc0030"/><stop offset=".606" stop-color="#ec000b"/><stop offset=".81" stop-color="#ee0007"/><stop offset=".823" stop-color="#ea0011"/><stop offset=".956" stop-color="#ee0006"/><stop offset=".96" stop-color="#f30d00"/><stop offset=".973" stop-color="#fc5500"/><stop offset=".981" stop-color="#ffb000"/><stop offset=".985" stop-color="#ffd817"/><stop offset=".998" stop-color="#fff65b"/></linearGradient>
<linearGradient id="g63" href="#G"><stop offset=".002" stop-color="#940078"/><stop offset=".498" stop-color="#cf0045"/><stop offset=".71" stop-color="#ec000b"/><stop offset=".823" stop-color="#ea0011"/><stop offset=".956" stop-color="#ee0006"/><stop offset=".96" stop-color="#f30d00"/><stop offset=".973" stop-color="#fc5500"/><stop offset=".981" stop-color="#ffb000"/><stop offset=".985" stop-color="#ffd817"/><stop offset=".998" stop-color="#fff65b"/></linearGradient>
<linearGradient id="g64" href="#G"><stop offset=".002" stop-color="#75007f"/><stop offset=".448" stop-color="#b50063"/><stop offset=".756" stop-color="#e6001c"/><stop offset=".765" stop-color="#e70019"/><stop offset=".769" stop-color="#ec000b"/><stop offset=".956" stop-color="#ee0006"/><stop offset=".96" stop-color="#f30d00"/><stop offset=".973" stop-color="#fc5500"/><stop offset=".981" stop-color="#ffb000"/><stop offset=".985" stop-color="#ffd817"/><stop offset=".998" stop-color="#fff65b"/></linearGradient>
<linearGradient id="g65" href="#G"><stop offset=".002" stop-color="#54007c"/><stop offset=".281" stop-color="#81007e"/><stop offset=".523" stop-color="#aa006c"/><stop offset=".76" stop-color="#d90035"/><stop offset=".765" stop-color="#da0033"/><stop offset=".777" stop-color="#ec000b"/><stop offset=".956" stop-color="#ee0006"/><stop offset=".96" stop-color="#f30d00"/><stop offset=".973" stop-color="#fc5500"/><stop offset=".981" stop-color="#ffb000"/><stop offset=".985" stop-color="#ffd817"/><stop offset=".998" stop-color="#fff65b"/></linearGradient>
<linearGradient id="g66" href="#G"><stop offset=".002" stop-color="#310070"/><stop offset=".26" stop-color="#60007f"/><stop offset=".515" stop-color="#90007a"/><stop offset=".76" stop-color="#c9004d"/><stop offset=".765" stop-color="#ca004b"/><stop offset=".781" stop-color="#eb000f"/><stop offset=".785" stop-color="#ec000b"/><stop offset=".956" stop-color="#ee0006"/><stop offset=".96" stop-color="#f30d00"/><stop offset=".973" stop-color="#fc5500"/><stop offset=".981" stop-color="#ffb000"/><stop offset=".985" stop-color="#ffd817"/><stop offset=".998" stop-color="#fff65b"/></linearGradient>
<linearGradient id="g67" href="#G"><stop offset=".002" stop-color="#0d005a"/><stop offset=".331" stop-color="#50007c"/><stop offset=".581" stop-color="#8a007c"/><stop offset=".765" stop-color="#b80060"/><stop offset=".79" stop-color="#ec000b"/><stop offset=".956" stop-color="#ee0006"/><stop offset=".96" stop-color="#f30d00"/><stop offset=".973" stop-color="#fc5500"/><stop offset=".981" stop-color="#ffb000"/><stop offset=".985" stop-color="#ffd817"/><stop offset=".998" stop-color="#fff65b"/></linearGradient>
<linearGradient id="g68" href="#G"><stop offset=".002" stop-color="#00003d"/><stop offset=".127" stop-color="#020052"/><stop offset=".39" stop-color="#3f0076"/><stop offset=".64" stop-color="#81007e"/><stop offset=".765" stop-color="#a30070"/><stop offset=".781" stop-color="#d00043"/><stop offset=".798" stop-color="#ec000b"/><stop offset=".956" stop-color="#ee0006"/><stop offset=".96" stop-color="#f30d00"/><stop offset=".973" stop-color="#fc5500"/><stop offset=".981" stop-color="#ffb000"/><stop offset=".985" stop-color="#ffd817"/><stop offset=".998" stop-color="#fff65b"/></linearGradient>
<linearGradient id="g69" href="#G"><stop offset=".002" stop-color="#00001c"/><stop offset=".269" stop-color="#000050"/><stop offset=".569" stop-color="#50007c"/><stop offset=".702" stop-color="#7b007f"/><stop offset=".765" stop-color="#8d007a"/><stop offset=".79" stop-color="#d20040"/><stop offset=".806" stop-color="#ec000b"/><stop offset=".956" stop-color="#ee0006"/><stop offset=".96" stop-color="#f30d00"/><stop offset=".973" stop-color="#fc5500"/><stop offset=".981" stop-color="#ffb000"/><stop offset=".985" stop-color="#ffd817"/><stop offset=".998" stop-color="#fff65b"/></linearGradient>
<linearGradient id="g70" href="#G"><stop offset=".002" stop-color="#64007f"/><stop offset=".265" stop-color="#64007f"/><stop offset=".269" stop-color="#e80016"/><stop offset=".873" stop-color="#f10500"/><stop offset=".931" stop-color="#f41600"/><stop offset=".973" stop-color="#fe7c00"/><stop offset=".977" stop-color="#fe7c00"/><stop offset=".981" stop-color="#ffb000"/><stop offset=".985" stop-color="#ffd817"/><stop offset=".998" stop-color="#fff65b"/></linearGradient>
<linearGradient id="g71" href="#G"><stop offset=".002" stop-color="#000"/><stop offset=".265" stop-color="#000"/><stop offset=".269" stop-color="#e80016"/><stop offset=".873" stop-color="#f10500"/><stop offset=".931" stop-color="#f41600"/><stop offset=".973" stop-color="#fe7c00"/><stop offset=".977" stop-color="#fe7c00"/><stop offset=".981" stop-color="#ffb000"/><stop offset=".985" stop-color="#ffd817"/><stop offset=".998" stop-color="#fff65b"/></linearGradient>
<linearGradient id="g72" href="#G"><stop offset=".002" stop-color="#000"/><stop offset=".265" stop-color="#000"/><stop offset=".269" stop-color="#ac006a"/><stop offset=".798" stop-color="#be0059"/><stop offset=".969" stop-color="#e70019"/><stop offset=".973" stop-color="#f94000"/><stop offset=".981" stop-color="#ffb000"/><stop offset=".985" stop-color="#ffd817"/><stop offset=".998" stop-color="#fff65b"/></linearGradient>
<linearGradient id="g73" href="#G"><stop offset=".002" stop-color="#000"/><stop offset=".265" stop-color="#000"/><stop offset=".269" stop-color="#6b007f"/><stop offset=".306" stop-color="#6e0080"/><stop offset=".556" stop-color="#7e007e"/><stop offset=".802" stop-color="#af0068"/><stop offset=".877" stop-color="#c8004e"/><stop offset=".969" stop-color="#e70019"/><stop offset=".973" stop-color="#f94000"/><stop offset=".981" stop-color="#ffb000"/><stop offset=".985" stop-color="#ffd817"/><stop offset=".998" stop-color="#fff65b"/></linearGradient>
<linearGradient id="g74" href="#G"><stop offset=".002" stop-color="#000"/><stop offset=".265" stop-color="#000"/><stop offset=".269" stop-color="#210067"/><stop offset=".552" stop-color="#3f0076"/><stop offset=".656" stop-color="#6e0080"/><stop offset=".823" stop-color="#a7006e"/><stop offset=".894" stop-color="#c60051"/><stop offset=".969" stop-color="#e6001a"/><stop offset=".973" stop-color="#f94000"/><stop offset=".981" stop-color="#ffb000"/><stop offset=".985" stop-color="#ffd817"/><stop offset=".998" stop-color="#fff65b"/></linearGradient>
<linearGradient id="g75" href="#G"><stop offset=".002" stop-color="#000"/><stop offset=".265" stop-color="#000"/><stop offset=".269" stop-color="#000029"/><stop offset=".556" stop-color="#00004f"/><stop offset=".677" stop-color="#50007c"/><stop offset=".798" stop-color="#8a007c"/><stop offset=".89" stop-color="#bb005d"/><stop offset=".969" stop-color="#e6001a"/><stop offset=".973" stop-color="#f94000"/><stop offset=".981" stop-color="#ffb000"/><stop offset=".985" stop-color="#ffd817"/><stop offset=".998" stop-color="#fff65b"/></linearGradient>
<linearGradient id="g76" href="#G"><stop offset=".002" stop-color="#000"/><stop offset=".473" stop-color="#000001"/><stop offset=".556" stop-color="#000012"/><stop offset=".631" stop-color="#00004f"/><stop offset=".71" stop-color="#440078"/><stop offset=".823" stop-color="#85007d"/><stop offset=".898" stop-color="#b70061"/><stop offset=".969" stop-color="#e6001c"/><stop offset=".973" stop-color="#f94000"/><stop offset=".981" stop-color="#ffb000"/><stop offset=".985" stop-color="#ffd817"/><stop offset=".998" stop-color="#fff65b"/></linearGradient>
<linearGradient id="g77" href="#G"><stop offset=".002" stop-color="#000"/><stop offset=".598" stop-color="#000"/><stop offset=".677" stop-color="#00004e"/><stop offset=".74" stop-color="#390074"/><stop offset=".84" stop-color="#81007e"/><stop offset=".91" stop-color="#b9005f"/><stop offset=".969" stop-color="#e5001d"/><stop offset=".973" stop-color="#f94000"/><stop offset=".981" stop-color="#ffb000"/><stop offset=".985" stop-color="#ffd817"/><stop offset=".998" stop-color="#fff65b"/></linearGradient>
<linearGradient id="g78" href="#G"><stop offset=".002" stop-color="#000"/><stop offset=".644" stop-color="#000"/><stop offset=".71" stop-color="#00004e"/><stop offset=".777" stop-color="#390074"/><stop offset=".852" stop-color="#7b007f"/><stop offset=".915" stop-color="#b60062"/><stop offset=".969" stop-color="#e5001d"/><stop offset=".973" stop-color="#f94000"/><stop offset=".981" stop-color="#ffb000"/><stop offset=".985" stop-color="#ffd817"/><stop offset=".998" stop-color="#fff65b"/></linearGradient>
<linearGradient id="g79" href="#G"><stop offset=".002" stop-color="#000"/><stop offset=".677" stop-color="#000"/><stop offset=".723" stop-color="#000040"/><stop offset=".744" stop-color="#000050"/><stop offset=".819" stop-color="#49007a"/><stop offset=".873" stop-color="#81007e"/><stop offset=".927" stop-color="#bc005c"/><stop offset=".969" stop-color="#e4001e"/><stop offset=".973" stop-color="#f94000"/><stop offset=".981" stop-color="#ffb000"/><stop offset=".985" stop-color="#ffd817"/><stop offset=".998" stop-color="#fff65b"/></linearGradient>
<linearGradient id="g80" href="#G"><stop offset=".002" stop-color="#000"/><stop offset=".702" stop-color="#000"/><stop offset=".723" stop-color="#000021"/><stop offset=".769" stop-color="#00004e"/><stop offset=".831" stop-color="#440078"/><stop offset=".885" stop-color="#80007e"/><stop offset=".927" stop-color="#b60062"/><stop offset=".969" stop-color="#e40020"/><stop offset=".973" stop-color="#f94000"/><stop offset=".981" stop-color="#ffb000"/><stop offset=".985" stop-color="#ffd817"/><stop offset=".998" stop-color="#fff65b"/></linearGradient>
<linearGradient id="g81" href="#G"><stop offset=".002" stop-color="#000"/><stop offset=".723" stop-color="#000"/><stop offset=".79" stop-color="#00004d"/><stop offset=".856" stop-color="#50007c"/><stop offset=".894" stop-color="#7f007e"/><stop offset=".935" stop-color="#bb005d"/><stop offset=".969" stop-color="#e40020"/><stop offset=".973" stop-color="#f94000"/><stop offset=".981" stop-color="#ffb000"/><stop offset=".985" stop-color="#ffd817"/><stop offset=".998" stop-color="#fff65b"/></linearGradient>
<linearGradient id="g82" href="#G"><stop offset=".002" stop-color="#000"/><stop offset=".748" stop-color="#000"/><stop offset=".81" stop-color="#000050"/><stop offset=".852" stop-color="#3b0074"/><stop offset=".898" stop-color="#7b007f"/><stop offset=".935" stop-color="#b60062"/><stop offset=".969" stop-color="#e30021"/><stop offset=".973" stop-color="#f94000"/><stop offset=".981" stop-color="#ffb000"/><stop offset=".985" stop-color="#ffd817"/><stop offset=".998" stop-color="#fff65b"/></linearGradient>
<linearGradient id="g83" href="#G"><stop offset=".002" stop-color="#000"/><stop offset=".765" stop-color="#000"/><stop offset=".823" stop-color="#00004e"/><stop offset=".865" stop-color="#3c0075"/><stop offset=".906" stop-color="#80007e"/><stop offset=".944" stop-color="#be005a"/><stop offset=".969" stop-color="#e30022"/><stop offset=".973" stop-color="#f94000"/><stop offset=".981" stop-color="#ffb000"/><stop offset=".985" stop-color="#ffd817"/><stop offset=".998" stop-color="#fff65b"/></linearGradient>
<linearGradient id="g84" href="#G"><stop offset=".002" stop-color="#000"/><stop offset=".019" stop-color="#000"/><stop offset=".023" stop-color="#64007f"/><stop offset=".49" stop-color="#64007f"/><stop offset=".494" stop-color="#f00000"/><stop offset=".969" stop-color="#f00000"/><stop offset=".981" stop-color="#ffb000"/><stop offset=".985" stop-color="#ffd817"/><stop offset=".994" stop-color="#fff24f"/><stop offset=".998" stop-color="#ffff90"/></linearGradient>
<linearGradient id="g85" href="#G"><stop offset=".002" stop-color="#1e0065"/><stop offset=".006" stop-color="#4f007b"/><stop offset=".01" stop-color="#7d007e"/><stop offset=".015" stop-color="#a6006e"/><stop offset=".969" stop-color="#a6006e"/><stop offset=".973" stop-color="#f94000"/><stop offset=".981" stop-color="#ffb000"/><stop offset=".985" stop-color="#ffd817"/><stop offset=".994" stop-color="#ffef45"/><stop offset=".998" stop-color="#fffc75"/></linearGradient>
<linearGradient id="g86" href="#G"><stop offset=".002" stop-color="#d5003b"/><stop offset=".015" stop-color="#f20b00"/><stop offset=".969" stop-color="#f20b00"/><stop offset=".981" stop-color="#ffb000"/><stop offset=".985" stop-color="#ffd817"/><stop offset=".99" stop-color="#ffe42d"/><stop offset=".994" stop-color="#fff658"/><stop offset=".998" stop-color="#ffff97"/></linearGradient>
<linearGradient id="g87" href="#G"><stop offset=".002" stop-color="#e30021"/><stop offset=".006" stop-color="#ec000b"/><stop offset=".01" stop-color="#f41600"/><stop offset=".015" stop-color="#f94000"/><stop offset=".969" stop-color="#f94000"/><stop offset=".973" stop-color="#fa4500"/><stop offset=".981" stop-color="#ffb000"/><stop offset=".985" stop-color="#ffd817"/><stop offset=".99" stop-color="#ffe42d"/><stop offset=".998" stop-color="#ffffa1"/></linearGradient>
<linearGradient id="g88" href="#G"><stop offset=".002" stop-color="#9d0074"/><stop offset=".006" stop-color="#c10056"/><stop offset=".015" stop-color="#f20b00"/><stop offset=".969" stop-color="#f20b00"/><stop offset=".981" stop-color="#ffb000"/><stop offset=".985" stop-color="#ffd817"/><stop offset=".99" stop-color="#ffe42d"/><stop offset=".994" stop-color="#fff75d"/><stop offset=".998" stop-color="#ffff9e"/></linearGradient>
<linearGradient id="g89" href="#G"><stop offset=".002" stop-color="#29006c"/><stop offset=".006" stop-color="#59007e"/><stop offset=".01" stop-color="#86007c"/><stop offset=".015" stop-color="#ae0068"/><stop offset=".265" stop-color="#ae0068"/><stop offset=".269" stop-color="#e6001c"/><stop offset=".969" stop-color="#e6001c"/><stop offset=".973" stop-color="#f94000"/><stop offset=".981" stop-color="#ffb000"/><stop offset=".985" stop-color="#ffd817"/><stop offset=".99" stop-color="#ffe42d"/><stop offset=".994" stop-color="#fff454"/><stop offset=".998" stop-color="#ffff9c"/></linearGradient>
<linearGradient id="g90" href="#G"><stop offset=".002" stop-color="#000"/><stop offset=".01" stop-color="#000"/><stop offset=".015" stop-color="#00003b"/><stop offset=".265" stop-color="#00003b"/><stop offset=".269" stop-color="#e30021"/><stop offset=".969" stop-color="#ee0006"/><stop offset=".981" stop-color="#ffb000"/><stop offset=".985" stop-color="#ffd817"/><stop offset=".99" stop-color="#ffe42d"/><stop offset=".998" stop-color="#ffffa3"/></linearGradient>
<linearGradient id="g91" href="#G"><stop offset=".002" stop-color="#000"/><stop offset=".01" stop-color="#000"/><stop offset=".015" stop-color="#00003b"/><stop offset=".265" stop-color="#00003b"/><stop offset=".269" stop-color="#e30021"/><stop offset=".969" stop-color="#ee0006"/><stop offset=".981" stop-color="#ffb000"/><stop offset=".985" stop-color="#ffd817"/><stop offset=".99" stop-color="#ffe42d"/><stop offset=".998" stop-color="#ffffa6"/></linearGradient>
<linearGradient id="g92" href="#G"><stop offset=".002" stop-color="#000"/><stop offset=".01" stop-color="#000"/><stop offset=".015" stop-color="#00003b"/><stop offset=".265" stop-color="#00003b"/><stop offset=".269" stop-color="#e30021"/><stop offset=".969" stop-color="#ee0006"/><stop offset=".981" stop-color="#ffb000"/><stop offset=".985" stop-color="#ffd817"/><stop offset=".99" stop-color="#ffe42d"/><stop offset=".998" stop-color="#ffffa8"/></linearGradient>
<linearGradient id="g93" href="#G"><stop offset=".002" stop-color="#000"/><stop offset=".01" stop-color="#000"/><stop offset=".015" stop-color="#00003b"/><stop offset=".265" stop-color="#00003b"/><stop offset=".269" stop-color="#e30021"/><stop offset=".969" stop-color="#ee0006"/><stop offset=".981" stop-color="#ffb000"/><stop offset=".985" stop-color="#ffd817"/><stop offset=".99" stop-color="#ffe42d"/><stop offset=".994" stop-color="#fffa69"/><stop offset=".998" stop-color="#ffffad"/></linearGradient>
<linearGradient id="g94" href="#G"><stop offset=".002" stop-color="#000"/><stop offset=".01" stop-color="#000"/><stop offset=".015" stop-color="#00003b"/><stop offset=".265" stop-color="#00003b"/><stop offset=".269" stop-color="#3f0076"/><stop offset=".44" stop-color="#60007f"/><stop offset=".91" stop-color="#8b007b"/><stop offset=".944" stop-color="#c10056"/><stop offset=".956" stop-color="#d20040"/><stop offset=".969" stop-color="#e70019"/><stop offset=".973" stop-color="#f94000"/><stop offset=".981" stop-color="#ffb000"/><stop offset=".985" stop-color="#ffd817"/><stop offset=".99" stop-color="#ffe42d"/><stop offset=".994" stop-color="#fffa69"/><stop offset=".998" stop-color="#ffffaf"/></linearGradient>
<linearGradient id="g95" href="#G"><stop offset=".002" stop-color="#000"/><stop offset=".01" stop-color="#000"/><stop offset=".015" stop-color="#00003b"/><stop offset=".265" stop-color="#00003b"/><stop offset=".269" stop-color="#3f0076"/><stop offset=".44" stop-color="#60007f"/><stop offset=".91" stop-color="#8b007b"/><stop offset=".944" stop-color="#c10056"/><stop offset=".956" stop-color="#d20040"/><stop offset=".969" stop-color="#e70019"/><stop offset=".973" stop-color="#f94000"/><stop offset=".981" stop-color="#ffb000"/><stop offset=".985" stop-color="#ffd817"/><stop offset=".99" stop-color="#ffe42d"/><stop offset=".994" stop-color="#fffb6c"/><stop offset=".998" stop-color="#ffffb2"/></linearGradient>
<linearGradient id="g96" href="#G"><stop offset=".002" stop-color="#000"/><stop offset=".01" stop-color="#000"/><stop offset=".015" stop-color="#00003b"/><stop offset=".265" stop-color="#00003b"/><stop offset=".269" stop-color="#e30021"/><stop offset=".969" stop-color="#ee0006"/><stop offset=".981" stop-color="#ffb000"/><stop offset=".985" stop-color="#ffd817"/><stop offset=".99" stop-color="#ffe42d"/><stop offset=".994" stop-color="#fffb71"/><stop offset=".998" stop-color="#ffffb4"/></linearGradient>
<linearGradient id="g97" href="#G"><stop offset=".002" stop-color="#000"/><stop offset=".01" stop-color="#000"/><stop offset=".015" stop-color="#00003b"/><stop offset=".265" stop-color="#00003b"/><stop offset=".269" stop-color="#e30021"/><stop offset=".969" stop-color="#ee0006"/><stop offset=".981" stop-color="#ffb000"/><stop offset=".985" stop-color="#ffd817"/><stop offset=".99" stop-color="#ffe42d"/><stop offset=".994" stop-color="#fffc75"/><stop offset=".998" stop-color="#ffffb9"/></linearGradient>
<linearGradient id="g98" href="#G"><stop offset=".002" stop-color="#000"/><stop offset=".01" stop-color="#000"/><stop offset=".015" stop-color="#00003b"/><stop offset=".265" stop-color="#00003b"/><stop offset=".269" stop-color="#e30021"/><stop offset=".969" stop-color="#ee0006"/><stop offset=".981" stop-color="#ffb000"/><stop offset=".985" stop-color="#ffd817"/><stop offset=".99" stop-color="#ffe42d"/><stop offset=".994" stop-color="#fffd78"/><stop offset=".998" stop-color="#ffb"/></linearGradient>
<linearGradient id="g99" href="#G"><stop offset=".002" stop-color="#000"/><stop offset=".01" stop-color="#000"/><stop offset=".015" stop-color="#00003b"/><stop offset=".265" stop-color="#00003b"/><stop offset=".269" stop-color="#e30021"/><stop offset=".969" stop-color="#ee0006"/><stop offset=".981" stop-color="#ffb000"/><stop offset=".985" stop-color="#ffd817"/><stop offset=".99" stop-color="#ffe42d"/><stop offset=".994" stop-color="#fffd7a"/><stop offset=".998" stop-color="#ffffbe"/></linearGradient>
<linearGradient id="g100" href="#G"><stop offset=".002" stop-color="#000"/><stop offset=".01" stop-color="#000"/><stop offset=".015" stop-color="#00003b"/><stop offset=".265" stop-color="#00003b"/><stop offset=".269" stop-color="#e30021"/><stop offset=".969" stop-color="#ee0006"/><stop offset=".981" stop-color="#ffb000"/><stop offset=".985" stop-color="#ffd817"/><stop offset=".99" stop-color="#ffe52f"/><stop offset=".994" stop-color="#fffe7f"/><stop offset=".998" stop-color="#ffffc3"/></linearGradient>
<linearGradient id="g101" href="#G"><stop offset=".002" stop-color="#000"/><stop offset=".01" stop-color="#000"/><stop offset=".015" stop-color="#00003b"/><stop offset=".265" stop-color="#00003b"/><stop offset=".269" stop-color="#e30021"/><stop offset=".969" stop-color="#ee0006"/><stop offset=".981" stop-color="#ffb000"/><stop offset=".985" stop-color="#ffd817"/><stop offset=".99" stop-color="#ffe732"/><stop offset=".994" stop-color="#fffe81"/><stop offset=".998" stop-color="#ffffc5"/></linearGradient>
<linearGradient id="g102" href="#G"><stop offset=".002" stop-color="#000"/><stop offset=".01" stop-color="#000"/><stop offset=".015" stop-color="#00003b"/><stop offset=".265" stop-color="#00003b"/><stop offset=".269" stop-color="#3f0076"/><stop offset=".44" stop-color="#60007f"/><stop offset=".91" stop-color="#8b007b"/><stop offset=".944" stop-color="#c10056"/><stop offset=".956" stop-color="#d20040"/><stop offset=".969" stop-color="#e70019"/><stop offset=".973" stop-color="#f94000"/><stop offset=".981" stop-color="#ffb000"/><stop offset=".985" stop-color="#ffd817"/><stop offset=".99" stop-color="#ffe732"/><stop offset=".994" stop-color="#fffe81"/><stop offset=".998" stop-color="#ffffc7"/></linearGradient>
<linearGradient id="g103" href="#G"><stop offset=".002" stop-color="#000"/><stop offset=".01" stop-color="#000"/><stop offset=".015" stop-color="#00003b"/><stop offset=".265" stop-color="#00003b"/><stop offset=".269" stop-color="#3f0076"/><stop offset=".44" stop-color="#60007f"/><stop offset=".91" stop-color="#8b007b"/><stop offset=".944" stop-color="#c10056"/><stop offset=".956" stop-color="#d20040"/><stop offset=".969" stop-color="#e70019"/><stop offset=".973" stop-color="#f94000"/><stop offset=".981" stop-color="#ffb000"/><stop offset=".985" stop-color="#ffd817"/><stop offset=".99" stop-color="#ffe834"/><stop offset=".994" stop-color="#fffe86"/><stop offset=".998" stop-color="#ffffca"/></linearGradient>
<linearGradient id="g104" href="#G"><stop offset=".002" stop-color="#000"/><stop offset=".01" stop-color="#000"/><stop offset=".015" stop-color="#00003b"/><stop offset=".265" stop-color="#00003b"/><stop offset=".269" stop-color="#3f0076"/><stop offset=".44" stop-color="#60007f"/><stop offset=".91" stop-color="#8b007b"/><stop offset=".952" stop-color="#cc0048"/><stop offset=".969" stop-color="#e70018"/><stop offset=".973" stop-color="#f94000"/><stop offset=".981" stop-color="#ffb000"/><stop offset=".985" stop-color="#ffd817"/><stop offset=".99" stop-color="#ffea39"/><stop offset=".994" stop-color="#ffff89"/><stop offset=".998" stop-color="#ffffca"/></linearGradient>
<linearGradient id="g105" href="#G"><stop offset=".002" stop-color="#000"/><stop offset=".01" stop-color="#000"/><stop offset=".015" stop-color="#00003b"/><stop offset=".265" stop-color="#00003b"/><stop offset=".269" stop-color="#e30021"/><stop offset=".969" stop-color="#ef0003"/><stop offset=".981" stop-color="#ffb000"/><stop offset=".985" stop-color="#ffd817"/><stop offset=".99" stop-color="#ffec3e"/><stop offset=".994" stop-color="#ffff8e"/><stop offset=".998" stop-color="#ffffca"/></linearGradient>
<linearGradient id="g106" href="#G"><stop offset=".002" stop-color="#000"/><stop offset=".01" stop-color="#000"/><stop offset=".015" stop-color="#00003b"/><stop offset=".265" stop-color="#00003b"/><stop offset=".269" stop-color="#e30021"/><stop offset=".969" stop-color="#ef0003"/><stop offset=".981" stop-color="#ffb000"/><stop offset=".985" stop-color="#ffd817"/><stop offset=".99" stop-color="#ffed40"/><stop offset=".994" stop-color="#ffff90"/><stop offset=".998" stop-color="#ffffca"/></linearGradient>
<linearGradient id="g107" href="#G"><stop offset=".002" stop-color="#000"/><stop offset=".01" stop-color="#000"/><stop offset=".015" stop-color="#00003b"/><stop offset=".265" stop-color="#00003b"/><stop offset=".269" stop-color="#e30021"/><stop offset=".969" stop-color="#f00001"/><stop offset=".981" stop-color="#ffb000"/><stop offset=".985" stop-color="#ffd817"/><stop offset=".99" stop-color="#ffee43"/><stop offset=".994" stop-color="#ffff92"/><stop offset=".998" stop-color="#ffffca"/></linearGradient>
<linearGradient id="g108" href="#G"><stop offset=".002" stop-color="#000"/><stop offset=".01" stop-color="#000"/><stop offset=".015" stop-color="#00003b"/><stop offset=".265" stop-color="#00003b"/><stop offset=".269" stop-color="#e30021"/><stop offset=".969" stop-color="#f00000"/><stop offset=".981" stop-color="#ffb000"/><stop offset=".985" stop-color="#ffd817"/><stop offset=".99" stop-color="#ffef45"/><stop offset=".994" stop-color="#ffff97"/><stop offset=".998" stop-color="#ffffca"/></linearGradient>
<linearGradient id="g109" href="#G"><stop offset=".002" stop-color="#000"/><stop offset=".01" stop-color="#000"/><stop offset=".015" stop-color="#00003b"/><stop offset=".265" stop-color="#00003b"/><stop offset=".269" stop-color="#e30021"/><stop offset=".965" stop-color="#ee0006"/><stop offset=".969" stop-color="#f10300"/><stop offset=".981" stop-color="#ffb000"/><stop offset=".985" stop-color="#ffd817"/><stop offset=".99" stop-color="#fff14a"/><stop offset=".994" stop-color="#ffff9a"/><stop offset=".998" stop-color="#ffffca"/></linearGradient>
<linearGradient id="g110" href="#G"><stop offset=".002" stop-color="#000"/><stop offset=".01" stop-color="#000"/><stop offset=".015" stop-color="#00003b"/><stop offset=".265" stop-color="#00003b"/><stop offset=".269" stop-color="#3f0076"/><stop offset=".44" stop-color="#60007f"/><stop offset=".91" stop-color="#8b007b"/><stop offset=".952" stop-color="#cc0048"/><stop offset=".969" stop-color="#ea0011"/><stop offset=".973" stop-color="#f94000"/><stop offset=".981" stop-color="#ffb000"/><stop offset=".985" stop-color="#ffd817"/><stop offset=".99" stop-color="#fff14a"/><stop offset=".994" stop-color="#ffff9c"/><stop offset=".998" stop-color="#ffffca"/></linearGradient>
<linearGradient id="g111" href="#G"><stop offset=".002" stop-color="#000"/><stop offset=".01" stop-color="#000"/><stop offset=".015" stop-color="#00003b"/><stop offset=".265" stop-color="#00003b"/><stop offset=".269" stop-color="#3f0076"/><stop offset=".44" stop-color="#60007f"/><stop offset=".91" stop-color="#8b007b"/><stop offset=".952" stop-color="#cc0048"/><stop offset=".965" stop-color="#e10026"/><stop offset=".969" stop-color="#eb000f"/><stop offset=".973" stop-color="#f94000"/><stop offset=".981" stop-color="#ffb000"/><stop offset=".985" stop-color="#ffd817"/><stop offset=".99" stop-color="#fff24c"/><stop offset=".994" stop-color="#ffff9e"/><stop offset=".998" stop-color="#ffffca"/></linearGradient>
<linearGradient id="g112" href="#G"><stop offset=".002" stop-color="#000"/><stop offset=".01" stop-color="#000"/><stop offset=".015" stop-color="#00003b"/><stop offset=".265" stop-color="#00003b"/><stop offset=".269" stop-color="#3f0076"/><stop offset=".44" stop-color="#60007f"/><stop offset=".91" stop-color="#8b007b"/><stop offset=".952" stop-color="#cc0048"/><stop offset=".965" stop-color="#e10026"/><stop offset=".969" stop-color="#eb000e"/><stop offset=".973" stop-color="#f94000"/><stop offset=".981" stop-color="#ffb000"/><stop offset=".985" stop-color="#ffd817"/><stop offset=".99" stop-color="#fff24f"/><stop offset=".994" stop-color="#ffffa3"/><stop offset=".998" stop-color="#ffffca"/></linearGradient>
<linearGradient id="g113" href="#G"><stop offset=".002" stop-color="#3f0076"/><stop offset=".006" stop-color="#6e0080"/><stop offset=".01" stop-color="#990076"/><stop offset=".015" stop-color="#be005a"/><stop offset=".723" stop-color="#be005a"/><stop offset=".727" stop-color="#9d0074"/><stop offset=".965" stop-color="#9d0074"/><stop offset=".969" stop-color="#ae0068"/><stop offset=".973" stop-color="#f94000"/><stop offset=".981" stop-color="#ffb000"/><stop offset=".985" stop-color="#ffd817"/><stop offset=".99" stop-color="#ffe42d"/><stop offset=".994" stop-color="#ffff97"/><stop offset=".998" stop-color="#ffffca"/></linearGradient>
<linearGradient id="g114" href="#G"><stop offset=".002" stop-color="#8b007b"/><stop offset=".006" stop-color="#b20065"/><stop offset=".015" stop-color="#ea0011"/><stop offset=".723" stop-color="#ea0011"/><stop offset=".727" stop-color="#9d0074"/><stop offset=".965" stop-color="#9d0074"/><stop offset=".969" stop-color="#af0068"/><stop offset=".973" stop-color="#f94000"/><stop offset=".981" stop-color="#ffb000"/><stop offset=".985" stop-color="#ffd817"/><stop offset=".99" stop-color="#ffe42d"/><stop offset=".994" stop-color="#ffff9c"/><stop offset=".998" stop-color="#ffffca"/></linearGradient>
<linearGradient id="g115" href="#G"><stop offset=".002" stop-color="#a10071"/><stop offset=".01" stop-color="#e10026"/><stop offset=".015" stop-color="#f41600"/><stop offset=".965" stop-color="#f41600"/><stop offset=".973" stop-color="#fb4f00"/><stop offset=".981" stop-color="#ffb000"/><stop offset=".985" stop-color="#ffd817"/><stop offset=".99" stop-color="#fff860"/><stop offset=".994" stop-color="#ffffad"/><stop offset=".998" stop-color="#ffffca"/></linearGradient>
<linearGradient id="g116" href="#G"><stop offset=".002" stop-color="#db0031"/><stop offset=".01" stop-color="#f20b00"/><stop offset=".015" stop-color="#f94000"/><stop offset=".965" stop-color="#f94000"/><stop offset=".969" stop-color="#fb5200"/><stop offset=".981" stop-color="#ffb000"/><stop offset=".985" stop-color="#ffd817"/><stop offset=".99" stop-color="#fffa69"/><stop offset=".994" stop-color="#ffffb2"/><stop offset=".998" stop-color="#ffffca"/></linearGradient>
<linearGradient id="g117" href="#G"><stop offset=".002" stop-color="#db0031"/><stop offset=".01" stop-color="#f20b00"/><stop offset=".015" stop-color="#f94000"/><stop offset=".965" stop-color="#f94000"/><stop offset=".981" stop-color="#ffb000"/><stop offset=".985" stop-color="#ffd817"/><stop offset=".99" stop-color="#fffb6c"/><stop offset=".994" stop-color="#ffffb4"/><stop offset=".998" stop-color="#ffffca"/></linearGradient>
<linearGradient id="g118" href="#G"><stop offset=".002" stop-color="#a10071"/><stop offset=".01" stop-color="#e10026"/><stop offset=".015" stop-color="#f41600"/><stop offset=".965" stop-color="#f41600"/><stop offset=".973" stop-color="#fc5500"/><stop offset=".981" stop-color="#ffb000"/><stop offset=".985" stop-color="#ffd817"/><stop offset=".99" stop-color="#fff967"/><stop offset=".994" stop-color="#ffffb7"/><stop offset=".998" stop-color="#ffffca"/></linearGradient>
<linearGradient id="g119" href="#G"><stop offset=".002" stop-color="#8b007b"/><stop offset=".006" stop-color="#b20065"/><stop offset=".015" stop-color="#ea0011"/><stop offset=".965" stop-color="#ea0011"/><stop offset=".969" stop-color="#f10300"/><stop offset=".981" stop-color="#ffb000"/><stop offset=".985" stop-color="#ffd817"/><stop offset=".99" stop-color="#fff862"/><stop offset=".994" stop-color="#ffffb9"/><stop offset=".998" stop-color="#ffffca"/></linearGradient>
<linearGradient id="g120" href="#G"><stop offset=".002" stop-color="#49007a"/><stop offset=".006" stop-color="#78007f"/><stop offset=".01" stop-color="#a10071"/><stop offset=".015" stop-color="#c50052"/><stop offset=".965" stop-color="#c50052"/><stop offset=".969" stop-color="#d6003a"/><stop offset=".973" stop-color="#f94000"/><stop offset=".981" stop-color="#ffb000"/><stop offset=".985" stop-color="#ffd817"/><stop offset=".99" stop-color="#fff351"/><stop offset=".994" stop-color="#ffffb9"/><stop offset=".998" stop-color="#ffffca"/></linearGradient>
<linearGradient id="g121" href="#G"><stop offset=".002" stop-color="#000"/><stop offset=".01" stop-color="#000004"/><stop offset=".015" stop-color="#000043"/><stop offset=".24" stop-color="#000043"/><stop offset=".244" stop-color="#e30021"/><stop offset=".965" stop-color="#ee0006"/><stop offset=".973" stop-color="#fa4300"/><stop offset=".981" stop-color="#ffb000"/><stop offset=".985" stop-color="#ffd817"/><stop offset=".99" stop-color="#fffb6c"/><stop offset=".994" stop-color="#ffffbe"/><stop offset=".998" stop-color="#ffffca"/></linearGradient>
<linearGradient id="g122" href="#G"><stop offset=".002" stop-color="#000"/><stop offset=".01" stop-color="#00000f"/><stop offset=".015" stop-color="#00004d"/><stop offset=".24" stop-color="#00004d"/><stop offset=".244" stop-color="#e30021"/><stop offset=".965" stop-color="#ee0006"/><stop offset=".973" stop-color="#fa4500"/><stop offset=".981" stop-color="#ffb000"/><stop offset=".985" stop-color="#ffd817"/><stop offset=".99" stop-color="#fffb6e"/><stop offset=".994" stop-color="#ffffc0"/><stop offset=".998" stop-color="#ffffca"/></linearGradient>
<linearGradient id="g123" href="#G"><stop offset=".002" stop-color="#000"/><stop offset=".006" stop-color="#000"/><stop offset=".01" stop-color="#00001a"/><stop offset=".015" stop-color="#060055"/><stop offset=".24" stop-color="#060055"/><stop offset=".244" stop-color="#e30021"/><stop offset=".965" stop-color="#ef0004"/><stop offset=".973" stop-color="#fb4a00"/><stop offset=".981" stop-color="#ffb000"/><stop offset=".985" stop-color="#ffd817"/><stop offset=".99" stop-color="#fffc73"/><stop offset=".994" stop-color="#ffffc0"/><stop offset=".998" stop-color="#ffffca"/></linearGradient>
<linearGradient id="g124" href="#G"><stop offset=".002" stop-color="#000"/><stop offset=".006" stop-color="#000"/><stop offset=".01" stop-color="#000024"/><stop offset=".015" stop-color="#10005c"/><stop offset=".24" stop-color="#10005c"/><stop offset=".244" stop-color="#e30021"/><stop offset=".965" stop-color="#f00001"/><stop offset=".973" stop-color="#fb4d00"/><stop offset=".981" stop-color="#ffb000"/><stop offset=".985" stop-color="#ffd817"/><stop offset=".99" stop-color="#fffd78"/><stop offset=".994" stop-color="#ffffc0"/><stop offset=".998" stop-color="#ffffca"/></linearGradient>
<linearGradient id="g125" href="#G"><stop offset=".002" stop-color="#000"/><stop offset=".006" stop-color="#000"/><stop offset=".01" stop-color="#00002e"/><stop offset=".015" stop-color="#1b0063"/><stop offset=".24" stop-color="#1b0063"/><stop offset=".244" stop-color="#3f0076"/><stop offset=".394" stop-color="#59007e"/><stop offset=".523" stop-color="#6f007f"/><stop offset=".91" stop-color="#8b007b"/><stop offset=".944" stop-color="#c10056"/><stop offset=".956" stop-color="#d20040"/><stop offset=".965" stop-color="#e40020"/><stop offset=".969" stop-color="#f20800"/><stop offset=".981" stop-color="#ffb000"/><stop offset=".985" stop-color="#ffd817"/><stop offset=".99" stop-color="#fffd7d"/><stop offset=".994" stop-color="#ffffc0"/><stop offset=".998" stop-color="#ffffca"/></linearGradient>
<linearGradient id="g126" href="#G"><stop offset=".002" stop-color="#000"/><stop offset=".006" stop-color="#000"/><stop offset=".01" stop-color="#000037"/><stop offset=".015" stop-color="#250069"/><stop offset=".24" stop-color="#250069"/><stop offset=".244" stop-color="#3f0076"/><stop offset=".394" stop-color="#59007e"/><stop offset=".523" stop-color="#6f007f"/><stop offset=".91" stop-color="#8b007b"/><stop offset=".952" stop-color="#cc0048"/><stop offset=".965" stop-color="#e4001e"/><stop offset=".969" stop-color="#f20b00"/><stop offset=".973" stop-color="#fb4d00"/><stop offset=".981" stop-color="#ffb000"/><stop offset=".985" stop-color="#ffdb1c"/><stop offset=".99" stop-color="#fffe81"/><stop offset=".994" stop-color="#ffffc0"/><stop offset=".998" stop-color="#ffffca"/></linearGradient>
<linearGradient id="g127" href="#G"><stop offset=".002" stop-color="#000"/><stop offset=".006" stop-color="#000001"/><stop offset=".01" stop-color="#000041"/><stop offset=".015" stop-color="#30006f"/><stop offset=".24" stop-color="#30006f"/><stop offset=".244" stop-color="#e30021"/><stop offset=".96" stop-color="#ee0006"/><stop offset=".965" stop-color="#f10500"/><stop offset=".981" stop-color="#ffb000"/><stop offset=".985" stop-color="#ffde21"/><stop offset=".99" stop-color="#fffe86"/><stop offset=".994" stop-color="#ffffc0"/><stop offset=".998" stop-color="#ffffca"/></linearGradient>
<linearGradient id="g128" href="#G"><stop offset=".002" stop-color="#000"/><stop offset=".006" stop-color="#00000c"/><stop offset=".01" stop-color="#00004a"/><stop offset=".015" stop-color="#3b0074"/><stop offset=".24" stop-color="#3b0074"/><stop offset=".244" stop-color="#e30021"/><stop offset=".96" stop-color="#ee0006"/><stop offset=".965" stop-color="#f20800"/><stop offset=".981" stop-color="#ffb200"/><stop offset=".985" stop-color="#ffe126"/><stop offset=".99" stop-color="#ffff8b"/><stop offset=".994" stop-color="#ffffc0"/><stop offset=".998" stop-color="#ffffca"/></linearGradient>
<linearGradient id="g129" href="#G"><stop offset=".002" stop-color="#000"/><stop offset=".006" stop-color="#000016"/><stop offset=".01" stop-color="#020052"/><stop offset=".015" stop-color="#440078"/><stop offset=".24" stop-color="#440078"/><stop offset=".244" stop-color="#e30021"/><stop offset=".96" stop-color="#ee0006"/><stop offset=".965" stop-color="#f20b00"/><stop offset=".981" stop-color="#ffb400"/><stop offset=".985" stop-color="#ffe32a"/><stop offset=".99" stop-color="#ffff90"/><stop offset=".994" stop-color="#ffffc0"/><stop offset=".998" stop-color="#ffffca"/></linearGradient>
<linearGradient id="g130" href="#G"><stop offset=".002" stop-color="#000"/><stop offset=".006" stop-color="#000021"/><stop offset=".01" stop-color="#0d005a"/><stop offset=".015" stop-color="#4f007b"/><stop offset=".24" stop-color="#4f007b"/><stop offset=".244" stop-color="#e30021"/><stop offset=".96" stop-color="#ee0006"/><stop offset=".965" stop-color="#f30d00"/><stop offset=".981" stop-color="#ffb500"/><stop offset=".985" stop-color="#ffe42d"/><stop offset=".99" stop-color="#ffff92"/><stop offset=".994" stop-color="#ffffc0"/><stop offset=".998" stop-color="#ffffca"/></linearGradient>
<linearGradient id="g131" href="#G"><stop offset=".002" stop-color="#000"/><stop offset=".006" stop-color="#00002a"/><stop offset=".01" stop-color="#170061"/><stop offset=".015" stop-color="#58007d"/><stop offset=".24" stop-color="#58007d"/><stop offset=".244" stop-color="#e30021"/><stop offset=".96" stop-color="#ee0006"/><stop offset=".965" stop-color="#f31300"/><stop offset=".981" stop-color="#ffb900"/><stop offset=".985" stop-color="#ffe732"/><stop offset=".99" stop-color="#ffff97"/><stop offset=".994" stop-color="#ffffc0"/><stop offset=".998" stop-color="#ffffca"/></linearGradient>
<linearGradient id="g132" href="#G"><stop offset=".002" stop-color="#00000c"/><stop offset=".006" stop-color="#00004a"/><stop offset=".01" stop-color="#3b0074"/><stop offset=".015" stop-color="#79007f"/><stop offset=".24" stop-color="#79007f"/><stop offset=".244" stop-color="#3f0076"/><stop offset=".523" stop-color="#6f007f"/><stop offset=".91" stop-color="#8b007b"/><stop offset=".935" stop-color="#b50063"/><stop offset=".956" stop-color="#d20040"/><stop offset=".96" stop-color="#da0033"/><stop offset=".965" stop-color="#ea0012"/><stop offset=".969" stop-color="#f62300"/><stop offset=".973" stop-color="#fc5f00"/><stop offset=".981" stop-color="#ffb900"/><stop offset=".985" stop-color="#ffe834"/><stop offset=".99" stop-color="#ffff9c"/><stop offset=".994" stop-color="#ffffc0"/><stop offset=".998" stop-color="#ffffca"/></linearGradient>
<linearGradient id="g133" href="#G"><stop offset=".002" stop-color="#00000f"/><stop offset=".006" stop-color="#00004d"/><stop offset=".01" stop-color="#3d0075"/><stop offset=".015" stop-color="#7b007f"/><stop offset=".24" stop-color="#7b007f"/><stop offset=".244" stop-color="#3f0076"/><stop offset=".523" stop-color="#6f007f"/><stop offset=".91" stop-color="#8b007b"/><stop offset=".935" stop-color="#b50063"/><stop offset=".956" stop-color="#d20040"/><stop offset=".96" stop-color="#da0033"/><stop offset=".965" stop-color="#ea0011"/><stop offset=".969" stop-color="#f62600"/><stop offset=".973" stop-color="#fd6400"/><stop offset=".981" stop-color="#fb0"/><stop offset=".985" stop-color="#ffe937"/><stop offset=".99" stop-color="#ffffa1"/><stop offset=".994" stop-color="#ffffc0"/><stop offset=".998" stop-color="#ffffca"/></linearGradient>
<linearGradient id="g134" href="#G"><stop offset=".002" stop-color="#000012"/><stop offset=".006" stop-color="#00004f"/><stop offset=".01" stop-color="#400076"/><stop offset=".015" stop-color="#7e007e"/><stop offset=".24" stop-color="#7e007e"/><stop offset=".244" stop-color="#3f0076"/><stop offset=".523" stop-color="#6f007f"/><stop offset=".91" stop-color="#8b007b"/><stop offset=".935" stop-color="#b50063"/><stop offset=".956" stop-color="#d20040"/><stop offset=".96" stop-color="#dd002d"/><stop offset=".965" stop-color="#ed0008"/><stop offset=".973" stop-color="#fe7000"/><stop offset=".981" stop-color="#ffc600"/><stop offset=".985" stop-color="#fff047"/><stop offset=".99" stop-color="#ffffa3"/><stop offset=".994" stop-color="#ffffc0"/><stop offset=".998" stop-color="#ffffca"/></linearGradient>
<linearGradient id="g135" href="#G"><stop offset=".002" stop-color="#000015"/><stop offset=".006" stop-color="#010051"/><stop offset=".01" stop-color="#430077"/><stop offset=".015" stop-color="#80007e"/><stop offset=".24" stop-color="#80007e"/><stop offset=".244" stop-color="#3f0076"/><stop offset=".523" stop-color="#6f007f"/><stop offset=".91" stop-color="#8b007b"/><stop offset=".952" stop-color="#cc0048"/><stop offset=".956" stop-color="#d20040"/><stop offset=".96" stop-color="#e40020"/><stop offset=".965" stop-color="#f20b00"/><stop offset=".973" stop-color="#ff8300"/><stop offset=".977" stop-color="#ffae00"/><stop offset=".981" stop-color="#ffd612"/><stop offset=".985" stop-color="#fff862"/><stop offset=".99" stop-color="#ffffa3"/><stop offset=".994" stop-color="#ffffc0"/><stop offset=".998" stop-color="#ffffca"/></linearGradient>
<linearGradient id="g136" href="#G"><stop offset=".002" stop-color="#000018"/><stop offset=".006" stop-color="#040053"/><stop offset=".01" stop-color="#450078"/><stop offset=".015" stop-color="#83007d"/><stop offset=".24" stop-color="#83007d"/><stop offset=".244" stop-color="#3f0076"/><stop offset=".523" stop-color="#6f007f"/><stop offset=".91" stop-color="#8b007b"/><stop offset=".952" stop-color="#cc0048"/><stop offset=".956" stop-color="#d80036"/><stop offset=".96" stop-color="#ea0011"/><stop offset=".965" stop-color="#f62600"/><stop offset=".969" stop-color="#fd6400"/><stop offset=".977" stop-color="#ffbf00"/><stop offset=".981" stop-color="#ffe32a"/><stop offset=".985" stop-color="#fffa69"/><stop offset=".99" stop-color="#ffffa3"/><stop offset=".994" stop-color="#ffffc0"/><stop offset=".998" stop-color="#ffffca"/></linearGradient>
<linearGradient id="g137" href="#G"><stop offset=".002" stop-color="#00001a"/><stop offset=".006" stop-color="#060055"/><stop offset=".01" stop-color="#480079"/><stop offset=".015" stop-color="#85007d"/><stop offset=".24" stop-color="#85007d"/><stop offset=".244" stop-color="#a6006e"/><stop offset=".394" stop-color="#c60051"/><stop offset=".494" stop-color="#de002c"/><stop offset=".952" stop-color="#ee0007"/><stop offset=".956" stop-color="#f41600"/><stop offset=".977" stop-color="#ffcf09"/><stop offset=".981" stop-color="#ffee43"/><stop offset=".985" stop-color="#fffa69"/><stop offset=".99" stop-color="#ffffa3"/><stop offset=".994" stop-color="#ffffc0"/><stop offset=".998" stop-color="#ffffca"/></linearGradient>
<linearGradient id="g138" href="#G"><stop offset=".002" stop-color="#00001d"/><stop offset=".006" stop-color="#090057"/><stop offset=".01" stop-color="#4b007a"/><stop offset=".015" stop-color="#87007c"/><stop offset=".24" stop-color="#87007c"/><stop offset=".244" stop-color="#a6006e"/><stop offset=".394" stop-color="#c60051"/><stop offset=".494" stop-color="#de002c"/><stop offset=".948" stop-color="#ee0007"/><stop offset=".952" stop-color="#f10500"/><stop offset=".973" stop-color="#ffbd00"/><stop offset=".977" stop-color="#ffdd1e"/><stop offset=".985" stop-color="#fffa69"/><stop offset=".99" stop-color="#ffffa3"/><stop offset=".994" stop-color="#ffffc0"/><stop offset=".998" stop-color="#ffffca"/></linearGradient>
<linearGradient id="g139" href="#G"><stop offset=".002" stop-color="#000026"/><stop offset=".006" stop-color="#13005e"/><stop offset=".01" stop-color="#54007c"/><stop offset=".015" stop-color="#90007a"/><stop offset=".24" stop-color="#90007a"/><stop offset=".244" stop-color="#a6006e"/><stop offset=".394" stop-color="#c60051"/><stop offset=".494" stop-color="#de002c"/><stop offset=".948" stop-color="#ee0006"/><stop offset=".952" stop-color="#f41800"/><stop offset=".973" stop-color="#ffcb01"/><stop offset=".977" stop-color="#ffe52f"/><stop offset=".981" stop-color="#ffee43"/><stop offset=".985" stop-color="#fffa69"/><stop offset=".99" stop-color="#ffffa3"/><stop offset=".994" stop-color="#ffffc0"/><stop offset=".998" stop-color="#ffffca"/></linearGradient>
<linearGradient id="g140" href="#G"><stop offset=".002" stop-color="#000026"/><stop offset=".006" stop-color="#13005e"/><stop offset=".01" stop-color="#54007c"/><stop offset=".015" stop-color="#90007a"/><stop offset=".24" stop-color="#90007a"/><stop offset=".244" stop-color="#a6006e"/><stop offset=".394" stop-color="#c60051"/><stop offset=".494" stop-color="#de002c"/><stop offset=".944" stop-color="#ed0008"/><stop offset=".948" stop-color="#f20800"/><stop offset=".969" stop-color="#ffb900"/><stop offset=".973" stop-color="#ffd817"/><stop offset=".981" stop-color="#ffee43"/><stop offset=".985" stop-color="#fffa69"/><stop offset=".99" stop-color="#ffffa3"/><stop offset=".994" stop-color="#ffffc0"/><stop offset=".998" stop-color="#ffffca"/></linearGradient>
<linearGradient id="g141" href="#G"><stop offset=".002" stop-color="#000026"/><stop offset=".006" stop-color="#13005e"/><stop offset=".01" stop-color="#54007c"/><stop offset=".015" stop-color="#90007a"/><stop offset=".24" stop-color="#90007a"/><stop offset=".244" stop-color="#a6006e"/><stop offset=".394" stop-color="#c60051"/><stop offset=".494" stop-color="#de002c"/><stop offset=".944" stop-color="#ef0003"/><stop offset=".969" stop-color="#ffc900"/><stop offset=".973" stop-color="#ffde21"/><stop offset=".981" stop-color="#ffee43"/><stop offset=".985" stop-color="#fffa69"/><stop offset=".99" stop-color="#ffffa3"/><stop offset=".994" stop-color="#ffffc0"/><stop offset=".998" stop-color="#ffffca"/></linearGradient>
<linearGradient id="g142" href="#G"><stop offset=".002" stop-color="#000026"/><stop offset=".006" stop-color="#13005e"/><stop offset=".01" stop-color="#54007c"/><stop offset=".015" stop-color="#90007a"/><stop offset=".24" stop-color="#90007a"/><stop offset=".244" stop-color="#3f0076"/><stop offset=".506" stop-color="#6d007f"/><stop offset=".769" stop-color="#81007e"/><stop offset=".773" stop-color="#e80016"/><stop offset=".94" stop-color="#e80016"/><stop offset=".944" stop-color="#ee0007"/><stop offset=".948" stop-color="#f41800"/><stop offset=".965" stop-color="#ffb400"/><stop offset=".969" stop-color="#ffd410"/><stop offset=".981" stop-color="#ffee43"/><stop offset=".985" stop-color="#fffa69"/><stop offset=".99" stop-color="#ffffa3"/><stop offset=".994" stop-color="#ffffc0"/><stop offset=".998" stop-color="#ffffca"/></linearGradient>
<linearGradient id="g143" href="#G"><stop offset=".002" stop-color="#000026"/><stop offset=".006" stop-color="#13005e"/><stop offset=".01" stop-color="#54007c"/><stop offset=".015" stop-color="#90007a"/><stop offset=".24" stop-color="#90007a"/><stop offset=".244" stop-color="#a6006e"/><stop offset=".394" stop-color="#c60051"/><stop offset=".494" stop-color="#de002c"/><stop offset=".94" stop-color="#f00001"/><stop offset=".965" stop-color="#ffc600"/><stop offset=".981" stop-color="#ffee43"/><stop offset=".985" stop-color="#fffa69"/><stop offset=".99" stop-color="#ffffa3"/><stop offset=".994" stop-color="#ffffc0"/><stop offset=".998" stop-color="#ffffca"/></linearGradient>
<linearGradient id="g144" href="#G"><stop offset=".002" stop-color="#000026"/><stop offset=".006" stop-color="#13005e"/><stop offset=".01" stop-color="#54007c"/><stop offset=".015" stop-color="#90007a"/><stop offset=".24" stop-color="#90007a"/><stop offset=".244" stop-color="#a6006e"/><stop offset=".394" stop-color="#c60051"/><stop offset=".494" stop-color="#de002c"/><stop offset=".935" stop-color="#ed0008"/><stop offset=".94" stop-color="#f31000"/><stop offset=".96" stop-color="#ffb400"/><stop offset=".965" stop-color="#ffd30e"/><stop offset=".981" stop-color="#ffee43"/><stop offset=".985" stop-color="#fffa69"/><stop offset=".99" stop-color="#ffffa3"/><stop offset=".994" stop-color="#ffffc0"/><stop offset=".998" stop-color="#ffffca"/></linearGradient>
<linearGradient id="g145" href="#G"><stop offset=".002" stop-color="#000026"/><stop offset=".006" stop-color="#13005e"/><stop offset=".01" stop-color="#54007c"/><stop offset=".015" stop-color="#90007a"/><stop offset=".24" stop-color="#90007a"/><stop offset=".244" stop-color="#a6006e"/><stop offset=".394" stop-color="#c60051"/><stop offset=".494" stop-color="#de002c"/><stop offset=".927" stop-color="#ed000a"/><stop offset=".935" stop-color="#f00000"/><stop offset=".96" stop-color="#ffc200"/><stop offset=".965" stop-color="#ffd30e"/><stop offset=".981" stop-color="#ffee43"/><stop offset=".985" stop-color="#fffa69"/><stop offset=".99" stop-color="#ffffa3"/><stop offset=".994" stop-color="#ffffc0"/><stop offset=".998" stop-color="#ffffca"/></linearGradient>
<linearGradient id="g146" href="#G"><stop offset=".002" stop-color="#000026"/><stop offset=".006" stop-color="#13005e"/><stop offset=".01" stop-color="#54007c"/><stop offset=".015" stop-color="#90007a"/><stop offset=".24" stop-color="#90007a"/><stop offset=".244" stop-color="#3f0076"/><stop offset=".506" stop-color="#6d007f"/><stop offset=".769" stop-color="#81007e"/><stop offset=".773" stop-color="#e80016"/><stop offset=".927" stop-color="#e80016"/><stop offset=".931" stop-color="#e90015"/><stop offset=".935" stop-color="#ef0003"/><stop offset=".96" stop-color="#ffcc04"/><stop offset=".973" stop-color="#ffde21"/><stop offset=".981" stop-color="#ffee43"/><stop offset=".985" stop-color="#fffa69"/><stop offset=".99" stop-color="#ffffa3"/><stop offset=".994" stop-color="#ffffc0"/><stop offset=".998" stop-color="#ffffca"/></linearGradient>
<linearGradient id="g147" href="#G"><stop offset=".002" stop-color="#ba005e"/><stop offset=".015" stop-color="#ee0006"/><stop offset=".927" stop-color="#ef0003"/><stop offset=".956" stop-color="#ffc700"/><stop offset=".973" stop-color="#ffde21"/><stop offset=".981" stop-color="#ffee43"/><stop offset=".985" stop-color="#fffa69"/><stop offset=".99" stop-color="#ffffa3"/><stop offset=".994" stop-color="#ffffc0"/><stop offset=".998" stop-color="#ffffca"/></linearGradient>
<linearGradient id="g148" href="#G"><stop offset=".002" stop-color="#ba005e"/><stop offset=".015" stop-color="#ee0006"/><stop offset=".919" stop-color="#ee0006"/><stop offset=".923" stop-color="#f30d00"/><stop offset=".948" stop-color="#fb0"/><stop offset=".96" stop-color="#ffcc04"/><stop offset=".973" stop-color="#ffde21"/><stop offset=".981" stop-color="#ffee43"/><stop offset=".985" stop-color="#fffa69"/><stop offset=".99" stop-color="#ffffa3"/><stop offset=".994" stop-color="#ffffc0"/><stop offset=".998" stop-color="#ffffca"/></linearGradient>
<linearGradient id="g149" href="#G"><stop offset=".002" stop-color="#390074"/><stop offset=".006" stop-color="#6e0080"/><stop offset=".01" stop-color="#9e0073"/><stop offset=".015" stop-color="#c60051"/><stop offset=".169" stop-color="#d20040"/><stop offset=".456" stop-color="#f00000"/><stop offset=".494" stop-color="#f31300"/><stop offset=".91" stop-color="#f51b00"/><stop offset=".915" stop-color="#f62300"/><stop offset=".94" stop-color="#ffae00"/><stop offset=".956" stop-color="#ffc700"/><stop offset=".969" stop-color="#ffd817"/><stop offset=".981" stop-color="#ffee43"/><stop offset=".985" stop-color="#fffa69"/><stop offset=".99" stop-color="#ffffa3"/><stop offset=".994" stop-color="#ffffc0"/><stop offset=".998" stop-color="#ffffca"/></linearGradient>
<linearGradient id="g150" href="#G"><stop offset=".002" stop-color="#390074"/><stop offset=".006" stop-color="#6e0080"/><stop offset=".01" stop-color="#9e0073"/><stop offset=".015" stop-color="#c60051"/><stop offset=".169" stop-color="#d20040"/><stop offset=".448" stop-color="#f00000"/><stop offset=".498" stop-color="#f41800"/><stop offset=".906" stop-color="#f52000"/><stop offset=".935" stop-color="#ffb500"/><stop offset=".96" stop-color="#ffcc04"/><stop offset=".973" stop-color="#ffde21"/><stop offset=".981" stop-color="#ffee43"/><stop offset=".985" stop-color="#fffa69"/><stop offset=".99" stop-color="#ffffa3"/><stop offset=".994" stop-color="#ffffc0"/><stop offset=".998" stop-color="#ffffca"/></linearGradient>
<linearGradient id="g151" href="#G"><stop offset=".002" stop-color="#390074"/><stop offset=".006" stop-color="#6e0080"/><stop offset=".01" stop-color="#9e0073"/><stop offset=".015" stop-color="#c60051"/><stop offset=".227" stop-color="#d90035"/><stop offset=".444" stop-color="#f00000"/><stop offset=".485" stop-color="#f41800"/><stop offset=".523" stop-color="#f51e00"/><stop offset=".894" stop-color="#f62300"/><stop offset=".902" stop-color="#f83000"/><stop offset=".927" stop-color="#fa0"/><stop offset=".956" stop-color="#ffc700"/><stop offset=".973" stop-color="#ffde21"/><stop offset=".981" stop-color="#ffee43"/><stop offset=".985" stop-color="#fffa69"/><stop offset=".99" stop-color="#ffffa3"/><stop offset=".994" stop-color="#ffffc0"/><stop offset=".998" stop-color="#ffffca"/></linearGradient>
<linearGradient id="g152" href="#G"><stop offset=".002" stop-color="#390074"/><stop offset=".006" stop-color="#6e0080"/><stop offset=".01" stop-color="#9e0073"/><stop offset=".015" stop-color="#c60051"/><stop offset=".227" stop-color="#d90035"/><stop offset=".44" stop-color="#f00000"/><stop offset=".494" stop-color="#f52000"/><stop offset=".89" stop-color="#f72800"/><stop offset=".894" stop-color="#f72e00"/><stop offset=".923" stop-color="#ffb000"/><stop offset=".956" stop-color="#ffc700"/><stop offset=".973" stop-color="#ffde21"/><stop offset=".981" stop-color="#ffee43"/><stop offset=".985" stop-color="#fffa69"/><stop offset=".99" stop-color="#ffffa3"/><stop offset=".994" stop-color="#ffffc0"/><stop offset=".998" stop-color="#ffffca"/></linearGradient>
<linearGradient id="g153" href="#G"><stop offset=".002" stop-color="#390074"/><stop offset=".006" stop-color="#6e0080"/><stop offset=".01" stop-color="#9e0073"/><stop offset=".015" stop-color="#c60051"/><stop offset=".227" stop-color="#d90035"/><stop offset=".435" stop-color="#f00000"/><stop offset=".494" stop-color="#f62600"/><stop offset=".881" stop-color="#f72e00"/><stop offset=".885" stop-color="#f83300"/><stop offset=".915" stop-color="#ffac00"/><stop offset=".956" stop-color="#ffc700"/><stop offset=".973" stop-color="#ffde21"/><stop offset=".981" stop-color="#ffee43"/><stop offset=".985" stop-color="#fffa69"/><stop offset=".99" stop-color="#ffffa3"/><stop offset=".994" stop-color="#ffffc0"/><stop offset=".998" stop-color="#ffffca"/></linearGradient>
<linearGradient id="g154" href="#G"><stop offset=".002" stop-color="#2c006d"/><stop offset=".006" stop-color="#61007f"/><stop offset=".01" stop-color="#930078"/><stop offset=".015" stop-color="#bd005b"/><stop offset=".331" stop-color="#dd002d"/><stop offset=".469" stop-color="#f00000"/><stop offset=".494" stop-color="#f31000"/><stop offset=".873" stop-color="#f41800"/><stop offset=".902" stop-color="#ffa400"/><stop offset=".96" stop-color="#ffcc04"/><stop offset=".973" stop-color="#ffde21"/><stop offset=".981" stop-color="#ffee43"/><stop offset=".985" stop-color="#fffa69"/><stop offset=".99" stop-color="#ffffa3"/><stop offset=".994" stop-color="#ffffc0"/><stop offset=".998" stop-color="#ffffca"/></linearGradient>
<linearGradient id="g155" href="#G"><stop offset=".002" stop-color="#390074"/><stop offset=".006" stop-color="#6e0080"/><stop offset=".01" stop-color="#9e0073"/><stop offset=".015" stop-color="#c60051"/><stop offset=".273" stop-color="#de002c"/><stop offset=".427" stop-color="#f00000"/><stop offset=".494" stop-color="#f83000"/><stop offset=".86" stop-color="#f83500"/><stop offset=".865" stop-color="#f93b00"/><stop offset=".894" stop-color="#ffa600"/><stop offset=".956" stop-color="#ffc700"/><stop offset=".973" stop-color="#ffde21"/><stop offset=".981" stop-color="#ffee43"/><stop offset=".985" stop-color="#fffa69"/><stop offset=".99" stop-color="#ffffa3"/><stop offset=".994" stop-color="#ffffc0"/><stop offset=".998" stop-color="#ffffca"/></linearGradient>
<linearGradient id="g156" href="#G"><stop offset=".002" stop-color="#390074"/><stop offset=".006" stop-color="#6e0080"/><stop offset=".01" stop-color="#9e0073"/><stop offset=".015" stop-color="#c60051"/><stop offset=".273" stop-color="#de002c"/><stop offset=".423" stop-color="#f00000"/><stop offset=".494" stop-color="#f83300"/><stop offset=".852" stop-color="#f93b00"/><stop offset=".885" stop-color="#ffa400"/><stop offset=".931" stop-color="#ffb200"/><stop offset=".956" stop-color="#ffc700"/><stop offset=".973" stop-color="#ffde21"/><stop offset=".981" stop-color="#ffee43"/><stop offset=".985" stop-color="#fffa69"/><stop offset=".99" stop-color="#ffffa3"/><stop offset=".994" stop-color="#ffffc0"/><stop offset=".998" stop-color="#ffffca"/></linearGradient>
<linearGradient id="g157" href="#G"><stop offset=".002" stop-color="#390074"/><stop offset=".006" stop-color="#6e0080"/><stop offset=".01" stop-color="#9e0073"/><stop offset=".015" stop-color="#c60051"/><stop offset=".273" stop-color="#de002c"/><stop offset=".419" stop-color="#f00000"/><stop offset=".494" stop-color="#f93800"/><stop offset=".84" stop-color="#f94000"/><stop offset=".848" stop-color="#fb4f00"/><stop offset=".873" stop-color="#ffa200"/><stop offset=".927" stop-color="#ffb000"/><stop offset=".956" stop-color="#ffc700"/><stop offset=".973" stop-color="#ffde21"/><stop offset=".981" stop-color="#ffee43"/><stop offset=".985" stop-color="#fffa69"/><stop offset=".99" stop-color="#ffffa3"/><stop offset=".994" stop-color="#ffffc0"/><stop offset=".998" stop-color="#ffffca"/></linearGradient>
<linearGradient id="g158" href="#G"><stop offset=".002" stop-color="#390074"/><stop offset=".006" stop-color="#6e0080"/><stop offset=".01" stop-color="#9e0073"/><stop offset=".015" stop-color="#c60051"/><stop offset=".273" stop-color="#de002c"/><stop offset=".415" stop-color="#f00000"/><stop offset=".494" stop-color="#f93d00"/><stop offset=".819" stop-color="#fa4300"/><stop offset=".827" stop-color="#fa4500"/><stop offset=".856" stop-color="#ff9d00"/><stop offset=".927" stop-color="#ffb000"/><stop offset=".956" stop-color="#ffc700"/><stop offset=".973" stop-color="#ffde21"/><stop offset=".981" stop-color="#ffee43"/><stop offset=".985" stop-color="#fffa69"/><stop offset=".99" stop-color="#ffffa3"/><stop offset=".994" stop-color="#ffffc0"/><stop offset=".998" stop-color="#ffffca"/></linearGradient>
<linearGradient id="g159" href="#G"><stop offset=".002" stop-color="#390074"/><stop offset=".006" stop-color="#6e0080"/><stop offset=".01" stop-color="#9e0073"/><stop offset=".015" stop-color="#c60051"/><stop offset=".273" stop-color="#de002c"/><stop offset=".415" stop-color="#f00000"/><stop offset=".494" stop-color="#fa4300"/><stop offset=".802" stop-color="#fa4800"/><stop offset=".806" stop-color="#fb4a00"/><stop offset=".835" stop-color="#f90"/><stop offset=".927" stop-color="#ffb000"/><stop offset=".956" stop-color="#ffc700"/><stop offset=".973" stop-color="#ffde21"/><stop offset=".981" stop-color="#ffee43"/><stop offset=".985" stop-color="#fffa69"/><stop offset=".99" stop-color="#ffffa3"/><stop offset=".994" stop-color="#ffffc0"/><stop offset=".998" stop-color="#ffffca"/></linearGradient>
<linearGradient id="g160" href="#G"><stop offset=".002" stop-color="#390074"/><stop offset=".006" stop-color="#6e0080"/><stop offset=".01" stop-color="#9e0073"/><stop offset=".015" stop-color="#c60051"/><stop offset=".273" stop-color="#de002c"/><stop offset=".41" stop-color="#f00000"/><stop offset=".498" stop-color="#fa4800"/><stop offset=".781" stop-color="#fb4d00"/><stop offset=".81" stop-color="#ff9300"/><stop offset=".927" stop-color="#ffb000"/><stop offset=".956" stop-color="#ffc700"/><stop offset=".973" stop-color="#ffde21"/><stop offset=".981" stop-color="#ffee43"/><stop offset=".985" stop-color="#fffa69"/><stop offset=".99" stop-color="#ffffa3"/><stop offset=".994" stop-color="#ffffc0"/><stop offset=".998" stop-color="#ffffca"/></linearGradient>
<linearGradient id="g161" href="#G"><stop offset=".002" stop-color="#2c006d"/><stop offset=".006" stop-color="#61007f"/><stop offset=".01" stop-color="#930078"/><stop offset=".015" stop-color="#bd005b"/><stop offset=".331" stop-color="#dd002d"/><stop offset=".44" stop-color="#f00000"/><stop offset=".494" stop-color="#f83000"/><stop offset=".748" stop-color="#f83500"/><stop offset=".781" stop-color="#ff9000"/><stop offset=".898" stop-color="#ffa600"/><stop offset=".956" stop-color="#ffc700"/><stop offset=".973" stop-color="#ffde21"/><stop offset=".981" stop-color="#ffee43"/><stop offset=".985" stop-color="#fffa69"/><stop offset=".99" stop-color="#ffffa3"/><stop offset=".994" stop-color="#ffffc0"/><stop offset=".998" stop-color="#ffffca"/></linearGradient>
<linearGradient id="g162" href="#G"><stop offset=".002" stop-color="#390074"/><stop offset=".006" stop-color="#6e0080"/><stop offset=".01" stop-color="#9e0073"/><stop offset=".015" stop-color="#c60051"/><stop offset=".169" stop-color="#d20040"/><stop offset=".423" stop-color="#f00000"/><stop offset=".46" stop-color="#f00000"/><stop offset=".506" stop-color="#fb4a00"/><stop offset=".785" stop-color="#fe7700"/><stop offset=".915" stop-color="#ffa800"/><stop offset=".956" stop-color="#ffc700"/><stop offset=".973" stop-color="#ffde21"/><stop offset=".981" stop-color="#ffee43"/><stop offset=".985" stop-color="#fffa69"/><stop offset=".99" stop-color="#ffffa3"/><stop offset=".994" stop-color="#ffffc0"/><stop offset=".998" stop-color="#ffffca"/></linearGradient>
<linearGradient id="g163" href="#G"><stop offset=".002" stop-color="#390074"/><stop offset=".006" stop-color="#6e0080"/><stop offset=".01" stop-color="#9e0073"/><stop offset=".015" stop-color="#c60051"/><stop offset=".169" stop-color="#d20040"/><stop offset=".456" stop-color="#f00000"/><stop offset=".506" stop-color="#fb4a00"/><stop offset=".785" stop-color="#fe7700"/><stop offset=".915" stop-color="#ffa800"/><stop offset=".956" stop-color="#ffc700"/><stop offset=".973" stop-color="#ffde21"/><stop offset=".981" stop-color="#ffee43"/><stop offset=".985" stop-color="#fffa69"/><stop offset=".99" stop-color="#ffffa3"/><stop offset=".994" stop-color="#ffffc0"/><stop offset=".998" stop-color="#ffffca"/></linearGradient>
<linearGradient id="g164" href="#G"><stop offset=".002" stop-color="#390074"/><stop offset=".006" stop-color="#6e0080"/><stop offset=".01" stop-color="#9e0073"/><stop offset=".015" stop-color="#c60051"/><stop offset=".169" stop-color="#d20040"/><stop offset=".452" stop-color="#f00000"/><stop offset=".498" stop-color="#fa4800"/><stop offset=".785" stop-color="#fe7700"/><stop offset=".915" stop-color="#ffa800"/><stop offset=".956" stop-color="#ffc700"/><stop offset=".973" stop-color="#ffde21"/><stop offset=".981" stop-color="#ffee43"/><stop offset=".985" stop-color="#fffa69"/><stop offset=".99" stop-color="#ffffa3"/><stop offset=".994" stop-color="#ffffc0"/><stop offset=".998" stop-color="#ffffca"/></linearGradient>
<linearGradient id="g165" href="#G"><stop offset=".002" stop-color="#390074"/><stop offset=".006" stop-color="#6e0080"/><stop offset=".01" stop-color="#9e0073"/><stop offset=".015" stop-color="#c60051"/><stop offset=".169" stop-color="#d20040"/><stop offset=".448" stop-color="#f00000"/><stop offset=".49" stop-color="#fa4500"/><stop offset=".785" stop-color="#fe7700"/><stop offset=".915" stop-color="#ffa800"/><stop offset=".956" stop-color="#ffc700"/><stop offset=".973" stop-color="#ffde21"/><stop offset=".981" stop-color="#ffee43"/><stop offset=".985" stop-color="#fffa69"/><stop offset=".99" stop-color="#ffffa3"/><stop offset=".994" stop-color="#ffffc0"/><stop offset=".998" stop-color="#ffffca"/></linearGradient>
<linearGradient id="g166" href="#G"><stop offset=".002" stop-color="#390074"/><stop offset=".006" stop-color="#6e0080"/><stop offset=".01" stop-color="#9e0073"/><stop offset=".015" stop-color="#c60051"/><stop offset=".227" stop-color="#d90035"/><stop offset=".444" stop-color="#f00000"/><stop offset=".49" stop-color="#fa4500"/><stop offset=".785" stop-color="#fe7700"/><stop offset=".915" stop-color="#ffa800"/><stop offset=".956" stop-color="#ffc700"/><stop offset=".973" stop-color="#ffde21"/><stop offset=".981" stop-color="#ffee43"/><stop offset=".985" stop-color="#fffa69"/><stop offset=".99" stop-color="#ffffa3"/><stop offset=".994" stop-color="#ffffc0"/><stop offset=".998" stop-color="#ffffca"/></linearGradient>
<linearGradient id="g167" href="#G"><stop offset=".002" stop-color="#390074"/><stop offset=".006" stop-color="#6e0080"/><stop offset=".01" stop-color="#9e0073"/><stop offset=".015" stop-color="#c60051"/><stop offset=".227" stop-color="#d90035"/><stop offset=".44" stop-color="#f00000"/><stop offset=".485" stop-color="#fa4500"/><stop offset=".785" stop-color="#fe7700"/><stop offset=".915" stop-color="#ffa800"/><stop offset=".956" stop-color="#ffc700"/><stop offset=".973" stop-color="#ffde21"/><stop offset=".981" stop-color="#ffee43"/><stop offset=".985" stop-color="#fffa69"/><stop offset=".99" stop-color="#ffffa3"/><stop offset=".994" stop-color="#ffffc0"/><stop offset=".998" stop-color="#ffffca"/></linearGradient>
<linearGradient id="g168" href="#G"><stop offset=".002" stop-color="#390074"/><stop offset=".006" stop-color="#6e0080"/><stop offset=".01" stop-color="#9e0073"/><stop offset=".015" stop-color="#c60051"/><stop offset=".227" stop-color="#d90035"/><stop offset=".435" stop-color="#f00000"/><stop offset=".485" stop-color="#fa4500"/><stop offset=".785" stop-color="#fe7700"/><stop offset=".915" stop-color="#ffa800"/><stop offset=".956" stop-color="#ffc700"/><stop offset=".973" stop-color="#ffde21"/><stop offset=".981" stop-color="#ffee43"/><stop offset=".985" stop-color="#fffa69"/><stop offset=".99" stop-color="#ffffa3"/><stop offset=".994" stop-color="#ffffc0"/><stop offset=".998" stop-color="#ffffca"/></linearGradient>
<linearGradient id="g169" href="#G"><stop offset=".002" stop-color="#390074"/><stop offset=".006" stop-color="#6e0080"/><stop offset=".01" stop-color="#9e0073"/><stop offset=".015" stop-color="#c60051"/><stop offset=".227" stop-color="#d90035"/><stop offset=".435" stop-color="#f00000"/><stop offset=".477" stop-color="#fa4300"/><stop offset=".785" stop-color="#fe7700"/><stop offset=".915" stop-color="#ffa800"/><stop offset=".956" stop-color="#ffc700"/><stop offset=".973" stop-color="#ffde21"/><stop offset=".981" stop-color="#ffee43"/><stop offset=".985" stop-color="#fffa69"/><stop offset=".99" stop-color="#ffffa3"/><stop offset=".994" stop-color="#ffffc0"/><stop offset=".998" stop-color="#ffffca"/></linearGradient>
<linearGradient id="g170" href="#G"><stop offset=".002" stop-color="#390074"/><stop offset=".006" stop-color="#6e0080"/><stop offset=".01" stop-color="#9e0073"/><stop offset=".015" stop-color="#c60051"/><stop offset=".227" stop-color="#d90035"/><stop offset=".431" stop-color="#f00000"/><stop offset=".477" stop-color="#fa4300"/><stop offset=".785" stop-color="#fe7700"/><stop offset=".915" stop-color="#ffa800"/><stop offset=".956" stop-color="#ffc700"/><stop offset=".973" stop-color="#ffde21"/><stop offset=".981" stop-color="#ffee43"/><stop offset=".985" stop-color="#fffa69"/><stop offset=".99" stop-color="#ffffa3"/><stop offset=".994" stop-color="#ffffc0"/><stop offset=".998" stop-color="#ffffca"/></linearGradient>
<linearGradient id="g171" href="#G"><stop offset=".002" stop-color="#390074"/><stop offset=".006" stop-color="#6e0080"/><stop offset=".01" stop-color="#9e0073"/><stop offset=".015" stop-color="#c60051"/><stop offset=".227" stop-color="#d90035"/><stop offset=".427" stop-color="#f00000"/><stop offset=".477" stop-color="#fa4300"/><stop offset=".785" stop-color="#fe7700"/><stop offset=".915" stop-color="#ffa800"/><stop offset=".956" stop-color="#ffc700"/><stop offset=".973" stop-color="#ffde21"/><stop offset=".981" stop-color="#ffee43"/><stop offset=".985" stop-color="#fffa69"/><stop offset=".99" stop-color="#ffffa3"/><stop offset=".994" stop-color="#ffffc0"/><stop offset=".998" stop-color="#ffffca"/></linearGradient>
<linearGradient id="g172" href="#G"><stop offset=".002" stop-color="#390074"/><stop offset=".006" stop-color="#6e0080"/><stop offset=".01" stop-color="#9e0073"/><stop offset=".015" stop-color="#c60051"/><stop offset=".227" stop-color="#d90035"/><stop offset=".423" stop-color="#f00000"/><stop offset=".469" stop-color="#f94000"/><stop offset=".785" stop-color="#fe7700"/><stop offset=".915" stop-color="#ffa800"/><stop offset=".956" stop-color="#ffc700"/><stop offset=".973" stop-color="#ffde21"/><stop offset=".981" stop-color="#ffee43"/><stop offset=".985" stop-color="#fffa69"/><stop offset=".99" stop-color="#ffffa3"/><stop offset=".994" stop-color="#ffffc0"/><stop offset=".998" stop-color="#ffffca"/></linearGradient>
<linearGradient id="g173" href="#G"><stop offset=".002" stop-color="#00004e"/><stop offset=".023" stop-color="#4f007b"/><stop offset=".181" stop-color="#5e007e"/><stop offset=".24" stop-color="#89007c"/><stop offset=".306" stop-color="#9d0074"/><stop offset=".502" stop-color="#cf0045"/><stop offset=".515" stop-color="#d4003c"/><stop offset=".519" stop-color="#ee0006"/><stop offset=".573" stop-color="#f41600"/><stop offset=".89" stop-color="#f94000"/><stop offset=".94" stop-color="#fb5200"/><stop offset=".944" stop-color="#ff8500"/><stop offset=".965" stop-color="#ff9b00"/><stop offset=".981" stop-color="#ffbd00"/><stop offset=".985" stop-color="#ffd10b"/><stop offset=".99" stop-color="#ffe937"/><stop offset=".998" stop-color="#fff454"/></linearGradient>
<linearGradient id="g174" href="#G"><stop offset=".002" stop-color="#00004e"/><stop offset=".023" stop-color="#4f007b"/><stop offset=".181" stop-color="#5e007e"/><stop offset=".244" stop-color="#8b007b"/><stop offset=".331" stop-color="#a30070"/><stop offset=".494" stop-color="#cc0049"/><stop offset=".548" stop-color="#e10026"/><stop offset=".94" stop-color="#ec000c"/><stop offset=".944" stop-color="#fc5500"/><stop offset=".977" stop-color="#fe7700"/><stop offset=".981" stop-color="#fe8000"/><stop offset=".99" stop-color="#ffac00"/><stop offset=".998" stop-color="#fb0"/></linearGradient>
<linearGradient id="g175" href="#G"><stop offset=".002" stop-color="#49007a"/><stop offset=".023" stop-color="#940078"/><stop offset=".181" stop-color="#a10071"/><stop offset=".244" stop-color="#c50052"/><stop offset=".344" stop-color="#da0033"/><stop offset=".465" stop-color="#ec000b"/><stop offset=".515" stop-color="#ec000b"/><stop offset=".519" stop-color="#f20800"/><stop offset=".923" stop-color="#f51b00"/><stop offset=".94" stop-color="#f52000"/><stop offset=".944" stop-color="#fd6d00"/><stop offset=".981" stop-color="#ff9f00"/><stop offset=".99" stop-color="#ffcf09"/><stop offset=".998" stop-color="#ffde21"/></linearGradient>
<linearGradient id="g176" href="#G"><stop offset=".002" stop-color="#a7006e"/><stop offset=".01" stop-color="#d3003f"/><stop offset=".019" stop-color="#e6001a"/><stop offset=".04" stop-color="#ef0004"/><stop offset=".14" stop-color="#f00000"/><stop offset=".394" stop-color="#fc5500"/><stop offset=".527" stop-color="#fe7500"/><stop offset=".881" stop-color="#ffa800"/><stop offset=".931" stop-color="#ffb700"/><stop offset=".952" stop-color="#ffc900"/><stop offset=".973" stop-color="#ffe228"/><stop offset=".981" stop-color="#fff14a"/><stop offset=".985" stop-color="#fffb71"/><stop offset=".99" stop-color="#ffa"/><stop offset=".994" stop-color="#ffffc7"/><stop offset=".998" stop-color="#ffffd1"/></linearGradient>
<linearGradient id="g177" href="#G"><stop offset=".002" stop-color="#ab006b"/><stop offset=".01" stop-color="#d6003a"/><stop offset=".019" stop-color="#e90015"/><stop offset=".035" stop-color="#f00000"/><stop offset=".123" stop-color="#f10500"/><stop offset=".265" stop-color="#f93b00"/><stop offset=".515" stop-color="#fe7c00"/><stop offset=".881" stop-color="#ffb000"/><stop offset=".944" stop-color="#ffc900"/><stop offset=".977" stop-color="#ffea39"/><stop offset=".981" stop-color="#fff24c"/><stop offset=".985" stop-color="#fffb71"/><stop offset=".99" stop-color="#ffa"/><stop offset=".994" stop-color="#ffffc7"/><stop offset=".998" stop-color="#ffffd1"/></linearGradient>
<linearGradient id="g178" href="#G"><stop offset=".002" stop-color="#a20070"/><stop offset=".01" stop-color="#d00043"/><stop offset=".019" stop-color="#e40020"/><stop offset=".027" stop-color="#eb000f"/><stop offset=".04" stop-color="#ed000a"/><stop offset=".169" stop-color="#f00000"/><stop offset=".265" stop-color="#f62600"/><stop offset=".515" stop-color="#fd6900"/><stop offset=".881" stop-color="#ff9f00"/><stop offset=".931" stop-color="#ffb000"/><stop offset=".956" stop-color="#ffc700"/><stop offset=".977" stop-color="#ffe834"/><stop offset=".981" stop-color="#fff14a"/><stop offset=".985" stop-color="#fffb71"/><stop offset=".99" stop-color="#ffa"/><stop offset=".994" stop-color="#ffffc7"/><stop offset=".998" stop-color="#ffffd1"/></linearGradient>
<linearGradient id="g179" href="#G"><stop offset=".002" stop-color="#b60062"/><stop offset=".006" stop-color="#cf0045"/><stop offset=".015" stop-color="#e80016"/><stop offset=".023" stop-color="#f10500"/><stop offset=".027" stop-color="#f41600"/><stop offset=".04" stop-color="#f52000"/><stop offset=".123" stop-color="#f51e00"/><stop offset=".435" stop-color="#fe7500"/><stop offset=".885" stop-color="#ffb000"/><stop offset=".948" stop-color="#ffc900"/><stop offset=".96" stop-color="#ffd410"/><stop offset=".977" stop-color="#ffea39"/><stop offset=".981" stop-color="#fff24c"/><stop offset=".985" stop-color="#fffb71"/><stop offset=".99" stop-color="#ffa"/><stop offset=".994" stop-color="#ffffc7"/><stop offset=".998" stop-color="#ffffd1"/></linearGradient>
<linearGradient id="g180" href="#G"><stop offset=".002" stop-color="#b30064"/><stop offset=".015" stop-color="#e6001a"/><stop offset=".023" stop-color="#f00001"/><stop offset=".027" stop-color="#f30d00"/><stop offset=".04" stop-color="#f41800"/><stop offset=".123" stop-color="#f41800"/><stop offset=".269" stop-color="#fb4d00"/><stop offset=".502" stop-color="#ff8500"/><stop offset=".877" stop-color="#ffb500"/><stop offset=".935" stop-color="#ffc700"/><stop offset=".96" stop-color="#ffda1a"/><stop offset=".977" stop-color="#ffeb3b"/><stop offset=".981" stop-color="#fff24c"/><stop offset=".985" stop-color="#fffb71"/><stop offset=".99" stop-color="#ffa"/><stop offset=".994" stop-color="#ffffc7"/><stop offset=".998" stop-color="#ffffd1"/></linearGradient>
<linearGradient id="g181" href="#G"><stop offset=".002" stop-color="#a7006e"/><stop offset=".006" stop-color="#c20055"/><stop offset=".015" stop-color="#df002a"/><stop offset=".027" stop-color="#ed000a"/><stop offset=".135" stop-color="#f00000"/><stop offset=".394" stop-color="#fc5500"/><stop offset=".527" stop-color="#fe7500"/><stop offset=".881" stop-color="#ffa800"/><stop offset=".931" stop-color="#ffb700"/><stop offset=".952" stop-color="#ffc900"/><stop offset=".973" stop-color="#ffe228"/><stop offset=".981" stop-color="#fff14a"/><stop offset=".998" stop-color="#fff047"/></linearGradient>
<linearGradient id="g182" href="#G"><stop offset=".002" stop-color="#ba005e"/><stop offset=".01" stop-color="#e10026"/><stop offset=".019" stop-color="#f00000"/><stop offset=".027" stop-color="#f52000"/><stop offset=".04" stop-color="#f72b00"/><stop offset=".123" stop-color="#f72800"/><stop offset=".273" stop-color="#fc5a00"/><stop offset=".494" stop-color="#ff8a00"/><stop offset=".794" stop-color="#fa0"/><stop offset=".935" stop-color="#ffc700"/><stop offset=".952" stop-color="#ffd30e"/><stop offset=".977" stop-color="#ffeb3b"/><stop offset=".981" stop-color="#fff24c"/><stop offset=".985" stop-color="#fffb71"/><stop offset=".99" stop-color="#ffa"/><stop offset=".994" stop-color="#ffffc7"/><stop offset=".998" stop-color="#ffffd1"/></linearGradient>
<linearGradient id="g183" href="#G"><stop offset=".002" stop-color="#af0068"/><stop offset=".01" stop-color="#d90035"/><stop offset=".019" stop-color="#eb000f"/><stop offset=".027" stop-color="#f10300"/><stop offset=".04" stop-color="#f30d00"/><stop offset=".123" stop-color="#f30d00"/><stop offset=".269" stop-color="#fa4300"/><stop offset=".502" stop-color="#fe7c00"/><stop offset=".89" stop-color="#ffb000"/><stop offset=".948" stop-color="#ffc900"/><stop offset=".977" stop-color="#ffea39"/><stop offset=".981" stop-color="#fff24c"/><stop offset=".985" stop-color="#fffb71"/><stop offset=".99" stop-color="#ffa"/><stop offset=".994" stop-color="#ffffc7"/><stop offset=".998" stop-color="#ffffd1"/></linearGradient>
<linearGradient id="g184" href="#G"><stop offset=".002" stop-color="#ab006b"/><stop offset=".01" stop-color="#d6003a"/><stop offset=".019" stop-color="#e90015"/><stop offset=".035" stop-color="#f00000"/><stop offset=".123" stop-color="#f10300"/><stop offset=".269" stop-color="#f93800"/><stop offset=".515" stop-color="#fe7500"/><stop offset=".89" stop-color="#ffa800"/><stop offset=".952" stop-color="#ffc700"/><stop offset=".969" stop-color="#ffdb1c"/><stop offset=".981" stop-color="#fff14a"/><stop offset=".985" stop-color="#fffb71"/><stop offset=".99" stop-color="#ffa"/><stop offset=".994" stop-color="#ffffc7"/><stop offset=".998" stop-color="#ffffd1"/></linearGradient>
<linearGradient id="g185" href="#G"><stop offset=".002" stop-color="#af0068"/><stop offset=".01" stop-color="#d90035"/><stop offset=".019" stop-color="#eb000f"/><stop offset=".027" stop-color="#f10300"/><stop offset=".04" stop-color="#f30d00"/><stop offset=".123" stop-color="#f30d00"/><stop offset=".269" stop-color="#fa4300"/><stop offset=".502" stop-color="#fe7c00"/><stop offset=".89" stop-color="#ffb000"/><stop offset=".948" stop-color="#ffc900"/><stop offset=".973" stop-color="#ffe32a"/><stop offset=".981" stop-color="#fff24c"/><stop offset=".998" stop-color="#fff047"/></linearGradient>
<linearGradient id="g186" href="#G"><stop offset=".002" stop-color="#ab006b"/><stop offset=".01" stop-color="#d6003a"/><stop offset=".019" stop-color="#e90015"/><stop offset=".035" stop-color="#f00000"/><stop offset=".123" stop-color="#f10300"/><stop offset=".269" stop-color="#f93800"/><stop offset=".515" stop-color="#fe7500"/><stop offset=".89" stop-color="#ffa800"/><stop offset=".952" stop-color="#ffc700"/><stop offset=".969" stop-color="#ffdb1c"/><stop offset=".981" stop-color="#fff14a"/><stop offset=".998" stop-color="#fff047"/></linearGradient>
<linearGradient id="g187" href="#G"><stop offset=".002" stop-color="#b30064"/><stop offset=".015" stop-color="#e6001a"/><stop offset=".023" stop-color="#f00001"/><stop offset=".027" stop-color="#f30d00"/><stop offset=".04" stop-color="#f41800"/><stop offset=".123" stop-color="#f41800"/><stop offset=".269" stop-color="#fb4d00"/><stop offset=".502" stop-color="#ff8500"/><stop offset=".877" stop-color="#ffb500"/><stop offset=".935" stop-color="#ffc700"/><stop offset=".96" stop-color="#ffda1a"/><stop offset=".973" stop-color="#ffe52f"/><stop offset=".981" stop-color="#fff24c"/><stop offset=".998" stop-color="#fff047"/></linearGradient>
<linearGradient id="g188" href="#G"><stop offset=".002" stop-color="#be005a"/><stop offset=".01" stop-color="#e30021"/><stop offset=".019" stop-color="#f20b00"/><stop offset=".027" stop-color="#f72b00"/><stop offset=".04" stop-color="#f83500"/><stop offset=".123" stop-color="#f83300"/><stop offset=".273" stop-color="#fd6400"/><stop offset=".527" stop-color="#f90"/><stop offset=".923" stop-color="#ffc900"/><stop offset=".948" stop-color="#ffd612"/><stop offset=".977" stop-color="#ffec3e"/><stop offset=".981" stop-color="#fff24f"/><stop offset=".985" stop-color="#fffb71"/><stop offset=".99" stop-color="#ffa"/><stop offset=".994" stop-color="#ffffc7"/><stop offset=".998" stop-color="#ffffd1"/></linearGradient>
<linearGradient id="g189" href="#G"><stop offset=".002" stop-color="#b50063"/><stop offset=".01" stop-color="#dd002d"/><stop offset=".019" stop-color="#ee0007"/><stop offset=".023" stop-color="#f10300"/><stop offset=".027" stop-color="#f31300"/><stop offset=".04" stop-color="#f51b00"/><stop offset=".123" stop-color="#f51b00"/><stop offset=".431" stop-color="#fe7500"/><stop offset=".89" stop-color="#ffb400"/><stop offset=".944" stop-color="#ffc900"/><stop offset=".977" stop-color="#ffea39"/><stop offset=".981" stop-color="#fff24c"/><stop offset=".985" stop-color="#fffb71"/><stop offset=".99" stop-color="#ffa"/><stop offset=".994" stop-color="#ffffc7"/><stop offset=".998" stop-color="#ffffd1"/></linearGradient>
<linearGradient id="g190" href="#G"><stop offset=".002" stop-color="#b10066"/><stop offset=".01" stop-color="#da0032"/><stop offset=".019" stop-color="#ec000c"/><stop offset=".027" stop-color="#f20800"/><stop offset=".123" stop-color="#f31000"/><stop offset=".285" stop-color="#fa4800"/><stop offset=".51" stop-color="#fe7c00"/><stop offset=".89" stop-color="#ffac00"/><stop offset=".948" stop-color="#ffc600"/><stop offset=".956" stop-color="#ffce06"/><stop offset=".977" stop-color="#ffe937"/><stop offset=".981" stop-color="#fff14a"/><stop offset=".985" stop-color="#fffb71"/><stop offset=".99" stop-color="#ffa"/><stop offset=".994" stop-color="#ffffc7"/><stop offset=".998" stop-color="#ffffd1"/></linearGradient>
<linearGradient id="g191" href="#G"><stop offset=".002" stop-color="#bb005d"/><stop offset=".01" stop-color="#e10025"/><stop offset=".019" stop-color="#f10300"/><stop offset=".027" stop-color="#f62300"/><stop offset=".04" stop-color="#f72e00"/><stop offset=".127" stop-color="#f72e00"/><stop offset=".256" stop-color="#fc5a00"/><stop offset=".523" stop-color="#ff9500"/><stop offset=".798" stop-color="#ffb000"/><stop offset=".931" stop-color="#ffc900"/><stop offset=".96" stop-color="#ffdd1e"/><stop offset=".977" stop-color="#ffec3e"/><stop offset=".981" stop-color="#fff24f"/><stop offset=".985" stop-color="#fffb71"/><stop offset=".99" stop-color="#ffa"/><stop offset=".994" stop-color="#ffffc7"/><stop offset=".998" stop-color="#ffffd1"/></linearGradient>
<linearGradient id="g192" href="#G"><stop offset=".002" stop-color="#b30064"/><stop offset=".015" stop-color="#e6001a"/><stop offset=".023" stop-color="#f00001"/><stop offset=".027" stop-color="#f30d00"/><stop offset=".04" stop-color="#f41800"/><stop offset=".127" stop-color="#f41800"/><stop offset=".265" stop-color="#fa4800"/><stop offset=".523" stop-color="#ff8300"/><stop offset=".798" stop-color="#ff9f00"/><stop offset=".89" stop-color="#ffae00"/><stop offset=".948" stop-color="#ffc700"/><stop offset=".965" stop-color="#ffd817"/><stop offset=".981" stop-color="#fff14a"/><stop offset=".985" stop-color="#fffb71"/><stop offset=".99" stop-color="#ffa"/><stop offset=".994" stop-color="#ffffc7"/><stop offset=".998" stop-color="#ffffd1"/></linearGradient>
<linearGradient id="g193" href="#G"><stop offset=".002" stop-color="#950077"/><stop offset=".006" stop-color="#b30064"/><stop offset=".015" stop-color="#d3003f"/><stop offset=".027" stop-color="#e40020"/><stop offset=".04" stop-color="#e6001a"/><stop offset=".131" stop-color="#e70018"/><stop offset=".256" stop-color="#f00000"/><stop offset=".527" stop-color="#fb4d00"/><stop offset=".881" stop-color="#ff8500"/><stop offset=".931" stop-color="#ff9700"/><stop offset=".948" stop-color="#ffa600"/><stop offset=".965" stop-color="#ffc600"/><stop offset=".973" stop-color="#ffd817"/><stop offset=".981" stop-color="#ffef45"/><stop offset=".99" stop-color="#ffa"/><stop offset=".994" stop-color="#ffffc7"/><stop offset=".998" stop-color="#ffffd1"/></linearGradient>
<linearGradient id="g194" href="#G"><stop offset=".002" stop-color="#b60062"/><stop offset=".006" stop-color="#cf0045"/><stop offset=".015" stop-color="#e80016"/><stop offset=".023" stop-color="#f10500"/><stop offset=".027" stop-color="#f41600"/><stop offset=".04" stop-color="#f52000"/><stop offset=".127" stop-color="#f52000"/><stop offset=".423" stop-color="#fe7500"/><stop offset=".544" stop-color="#ff8c00"/><stop offset=".794" stop-color="#ff9000"/><stop offset=".906" stop-color="#ffa800"/><stop offset=".956" stop-color="#ffc700"/><stop offset=".973" stop-color="#ffd817"/><stop offset=".981" stop-color="#ffe937"/><stop offset=".985" stop-color="#fff65b"/><stop offset=".99" stop-color="#ffff95"/><stop offset=".994" stop-color="#ffffb2"/><stop offset=".998" stop-color="#ffb"/></linearGradient>
<linearGradient id="g195" href="#G"><stop offset=".002" stop-color="#a6006e"/><stop offset=".01" stop-color="#d20040"/><stop offset=".019" stop-color="#e6001c"/><stop offset=".027" stop-color="#ec000b"/><stop offset=".04" stop-color="#ee0006"/><stop offset=".148" stop-color="#f00000"/><stop offset=".285" stop-color="#f83300"/><stop offset=".54" stop-color="#fe7500"/><stop offset=".798" stop-color="#fe8000"/><stop offset=".923" stop-color="#ffa200"/><stop offset=".965" stop-color="#ffc900"/><stop offset=".981" stop-color="#ffe834"/><stop offset=".985" stop-color="#fff65b"/><stop offset=".99" stop-color="#ffff95"/><stop offset=".994" stop-color="#ffffb2"/><stop offset=".998" stop-color="#ffb"/></linearGradient>
<linearGradient id="g196" href="#G"><stop offset=".002" stop-color="#a10071"/><stop offset=".01" stop-color="#cf0045"/><stop offset=".019" stop-color="#e30021"/><stop offset=".04" stop-color="#ec000b"/><stop offset=".177" stop-color="#f00000"/><stop offset=".294" stop-color="#f72b00"/><stop offset=".54" stop-color="#fd6b00"/><stop offset=".798" stop-color="#fe7700"/><stop offset=".923" stop-color="#f90"/><stop offset=".965" stop-color="#ffc400"/><stop offset=".973" stop-color="#ffd30e"/><stop offset=".981" stop-color="#ffe732"/><stop offset=".985" stop-color="#fff65b"/><stop offset=".99" stop-color="#ffff95"/><stop offset=".994" stop-color="#ffffb2"/><stop offset=".998" stop-color="#ffb"/></linearGradient>
<linearGradient id="g197" href="#G"><stop offset=".002" stop-color="#aa006c"/><stop offset=".01" stop-color="#d5003b"/><stop offset=".019" stop-color="#e80016"/><stop offset=".04" stop-color="#f00000"/><stop offset=".127" stop-color="#f10300"/><stop offset=".277" stop-color="#f93b00"/><stop offset=".527" stop-color="#fe7c00"/><stop offset=".769" stop-color="#ff8500"/><stop offset=".881" stop-color="#ff9b00"/><stop offset=".931" stop-color="#ffae00"/><stop offset=".96" stop-color="#ffc700"/><stop offset=".973" stop-color="#ffd817"/><stop offset=".981" stop-color="#ffe937"/><stop offset=".985" stop-color="#fff65b"/><stop offset=".99" stop-color="#ffff95"/><stop offset=".994" stop-color="#ffffb2"/><stop offset=".998" stop-color="#ffb"/></linearGradient>
<linearGradient id="g198" href="#G"><stop offset=".002" stop-color="#bd005b"/><stop offset=".01" stop-color="#e30022"/><stop offset=".019" stop-color="#f20800"/><stop offset=".027" stop-color="#f72800"/><stop offset=".04" stop-color="#f83300"/><stop offset=".123" stop-color="#f83000"/><stop offset=".265" stop-color="#fc5f00"/><stop offset=".46" stop-color="#ff8a00"/><stop offset=".548" stop-color="#f90"/><stop offset=".79" stop-color="#ff9b00"/><stop offset=".894" stop-color="#ffae00"/><stop offset=".948" stop-color="#ffc700"/><stop offset=".973" stop-color="#ffdb1c"/><stop offset=".981" stop-color="#ffe937"/><stop offset=".985" stop-color="#fff65b"/><stop offset=".99" stop-color="#ffff95"/><stop offset=".994" stop-color="#ffffb2"/><stop offset=".998" stop-color="#ffb"/></linearGradient>
<linearGradient id="g199" href="#G"><stop offset=".002" stop-color="#aa006c"/><stop offset=".01" stop-color="#d5003b"/><stop offset=".019" stop-color="#e80016"/><stop offset=".04" stop-color="#f00000"/><stop offset=".123" stop-color="#f00000"/><stop offset=".281" stop-color="#f93800"/><stop offset=".527" stop-color="#fe7500"/><stop offset=".835" stop-color="#ff8700"/><stop offset=".923" stop-color="#ff9f00"/><stop offset=".965" stop-color="#ffc700"/><stop offset=".973" stop-color="#ffd410"/><stop offset=".981" stop-color="#ffe834"/><stop offset=".985" stop-color="#fff65b"/><stop offset=".99" stop-color="#ffff95"/><stop offset=".994" stop-color="#ffffb2"/><stop offset=".998" stop-color="#ffb"/></linearGradient>
<linearGradient id="g200" href="#G"><stop offset=".002" stop-color="#ae0068"/><stop offset=".01" stop-color="#d80036"/><stop offset=".019" stop-color="#ea0011"/><stop offset=".027" stop-color="#f00000"/><stop offset=".04" stop-color="#f20b00"/><stop offset=".127" stop-color="#f30d00"/><stop offset=".269" stop-color="#fa4300"/><stop offset=".527" stop-color="#ff8500"/><stop offset=".785" stop-color="#ff9000"/><stop offset=".89" stop-color="#ffa600"/><stop offset=".952" stop-color="#ffc700"/><stop offset=".973" stop-color="#ffda1a"/><stop offset=".981" stop-color="#ffe937"/><stop offset=".985" stop-color="#fff65b"/><stop offset=".99" stop-color="#ffff95"/><stop offset=".994" stop-color="#ffffb2"/><stop offset=".998" stop-color="#ffb"/></linearGradient>
<linearGradient id="g201" href="#G"><stop offset=".002" stop-color="#b9005f"/><stop offset=".015" stop-color="#ea0012"/><stop offset=".023" stop-color="#f30d00"/><stop offset=".027" stop-color="#f51e00"/><stop offset=".04" stop-color="#f72800"/><stop offset=".123" stop-color="#f62600"/><stop offset=".265" stop-color="#fc5500"/><stop offset=".506" stop-color="#ff8a00"/><stop offset=".773" stop-color="#ff9000"/><stop offset=".894" stop-color="#ffa600"/><stop offset=".935" stop-color="#ffb500"/><stop offset=".956" stop-color="#ffc900"/><stop offset=".973" stop-color="#ffda1a"/><stop offset=".981" stop-color="#ffe937"/><stop offset=".985" stop-color="#fff65b"/><stop offset=".99" stop-color="#ffff95"/><stop offset=".994" stop-color="#ffffb2"/><stop offset=".998" stop-color="#ffb"/></linearGradient>
<linearGradient id="g202" href="#G"><stop offset=".002" stop-color="#ae0068"/><stop offset=".01" stop-color="#d80036"/><stop offset=".019" stop-color="#ea0011"/><stop offset=".027" stop-color="#f00000"/><stop offset=".04" stop-color="#f20b00"/><stop offset=".131" stop-color="#f30d00"/><stop offset=".281" stop-color="#fa4300"/><stop offset=".527" stop-color="#fe7e00"/><stop offset=".773" stop-color="#ff8500"/><stop offset=".89" stop-color="#ff9b00"/><stop offset=".931" stop-color="#ffac00"/><stop offset=".96" stop-color="#ffc600"/><stop offset=".973" stop-color="#ffd715"/><stop offset=".981" stop-color="#ffe834"/><stop offset=".985" stop-color="#fff65b"/><stop offset=".99" stop-color="#ffff95"/><stop offset=".994" stop-color="#ffffb2"/><stop offset=".998" stop-color="#ffb"/></linearGradient>
<linearGradient id="g203" href="#G"><stop offset=".002" stop-color="#ac006a"/><stop offset=".01" stop-color="#d70038"/><stop offset=".019" stop-color="#e90015"/><stop offset=".035" stop-color="#f00000"/><stop offset=".123" stop-color="#f10300"/><stop offset=".277" stop-color="#f93800"/><stop offset=".535" stop-color="#fe7500"/><stop offset=".765" stop-color="#fe7700"/><stop offset=".877" stop-color="#ff8c00"/><stop offset=".931" stop-color="#ff9f00"/><stop offset=".965" stop-color="#ffc600"/><stop offset=".973" stop-color="#ffd30e"/><stop offset=".981" stop-color="#ffe834"/><stop offset=".985" stop-color="#fff65b"/><stop offset=".99" stop-color="#ffff95"/><stop offset=".994" stop-color="#ffffb2"/><stop offset=".998" stop-color="#ffb"/></linearGradient>
<linearGradient id="g204" href="#G"><stop offset=".002" stop-color="#b80060"/><stop offset=".006" stop-color="#d10042"/><stop offset=".015" stop-color="#e90013"/><stop offset=".023" stop-color="#f20800"/><stop offset=".027" stop-color="#f41800"/><stop offset=".04" stop-color="#f62300"/><stop offset=".123" stop-color="#f62300"/><stop offset=".269" stop-color="#fc5500"/><stop offset=".51" stop-color="#ff8c00"/><stop offset=".798" stop-color="#ff9700"/><stop offset=".894" stop-color="#fa0"/><stop offset=".952" stop-color="#ffc700"/><stop offset=".973" stop-color="#ffdb1c"/><stop offset=".981" stop-color="#ffe937"/><stop offset=".985" stop-color="#fff65b"/><stop offset=".99" stop-color="#ffff95"/><stop offset=".994" stop-color="#ffffb2"/><stop offset=".998" stop-color="#ffb"/></linearGradient>
<linearGradient id="g205" href="#G"><stop offset=".002" stop-color="#b40063"/><stop offset=".015" stop-color="#e70019"/><stop offset=".023" stop-color="#f00001"/><stop offset=".027" stop-color="#f30d00"/><stop offset=".04" stop-color="#f41800"/><stop offset=".123" stop-color="#f41800"/><stop offset=".277" stop-color="#fb4d00"/><stop offset=".51" stop-color="#ff8300"/><stop offset=".765" stop-color="#ff8a00"/><stop offset=".877" stop-color="#ff9d00"/><stop offset=".931" stop-color="#ffb000"/><stop offset=".96" stop-color="#ffc900"/><stop offset=".973" stop-color="#ffd817"/><stop offset=".981" stop-color="#ffe937"/><stop offset=".985" stop-color="#fff65b"/><stop offset=".99" stop-color="#ffff95"/><stop offset=".994" stop-color="#ffffb2"/><stop offset=".998" stop-color="#ffb"/></linearGradient>
<linearGradient id="g206" href="#G"><stop offset=".002" stop-color="#b20065"/><stop offset=".01" stop-color="#db0031"/><stop offset=".019" stop-color="#ec000b"/><stop offset=".027" stop-color="#f20b00"/><stop offset=".04" stop-color="#f41600"/><stop offset=".127" stop-color="#f41600"/><stop offset=".277" stop-color="#fa4800"/><stop offset=".544" stop-color="#ff8300"/><stop offset=".777" stop-color="#ff8500"/><stop offset=".877" stop-color="#ff9700"/><stop offset=".935" stop-color="#ffac00"/><stop offset=".96" stop-color="#ffc400"/><stop offset=".973" stop-color="#ffd715"/><stop offset=".981" stop-color="#ffe834"/><stop offset=".985" stop-color="#fff65b"/><stop offset=".99" stop-color="#ffff95"/><stop offset=".994" stop-color="#ffffb2"/><stop offset=".998" stop-color="#ffb"/></linearGradient>
<linearGradient id="g207" href="#G"><stop offset=".002" stop-color="#ba005e"/><stop offset=".01" stop-color="#e10026"/><stop offset=".019" stop-color="#f00000"/><stop offset=".027" stop-color="#f52000"/><stop offset=".04" stop-color="#f72b00"/><stop offset=".127" stop-color="#f72b00"/><stop offset=".39" stop-color="#fe7700"/><stop offset=".544" stop-color="#ff9500"/><stop offset=".794" stop-color="#f90"/><stop offset=".894" stop-color="#ffac00"/><stop offset=".952" stop-color="#ffc900"/><stop offset=".973" stop-color="#ffdb1c"/><stop offset=".981" stop-color="#ffe937"/><stop offset=".985" stop-color="#fff65b"/><stop offset=".99" stop-color="#ffff95"/><stop offset=".994" stop-color="#ffffb2"/><stop offset=".998" stop-color="#ffb"/></linearGradient>
<linearGradient id="g208" href="#G"><stop offset=".002" stop-color="#8b007b"/><stop offset=".006" stop-color="#aa006c"/><stop offset=".015" stop-color="#cc0049"/><stop offset=".027" stop-color="#de002c"/><stop offset=".04" stop-color="#e10026"/><stop offset=".127" stop-color="#e10025"/><stop offset=".335" stop-color="#f00000"/><stop offset=".556" stop-color="#f93b00"/><stop offset=".769" stop-color="#f94000"/><stop offset=".84" stop-color="#fb4f00"/><stop offset=".931" stop-color="#fe7000"/><stop offset=".96" stop-color="#ff9300"/><stop offset=".981" stop-color="#ffc600"/><stop offset=".99" stop-color="#fff047"/><stop offset=".998" stop-color="#fff047"/></linearGradient>
<linearGradient id="g209" href="#G"><stop offset=".002" stop-color="#af0068"/><stop offset=".01" stop-color="#d90035"/><stop offset=".019" stop-color="#eb000f"/><stop offset=".027" stop-color="#f10300"/><stop offset=".123" stop-color="#f20b00"/><stop offset=".294" stop-color="#fa4300"/><stop offset=".556" stop-color="#fe7c00"/><stop offset=".815" stop-color="#fe7200"/><stop offset=".923" stop-color="#ff9000"/><stop offset=".952" stop-color="#ffa800"/><stop offset=".969" stop-color="#ffc600"/><stop offset=".973" stop-color="#ffce06"/><stop offset=".981" stop-color="#ffe42d"/><stop offset=".985" stop-color="#fff556"/><stop offset=".99" stop-color="#ffff90"/><stop offset=".994" stop-color="#ffffad"/><stop offset=".998" stop-color="#ffffb7"/></linearGradient>
<linearGradient id="g210" href="#G"><stop offset=".002" stop-color="#a9006c"/><stop offset=".01" stop-color="#d4003c"/><stop offset=".019" stop-color="#e70018"/><stop offset=".027" stop-color="#ee0006"/><stop offset=".04" stop-color="#f00000"/><stop offset=".131" stop-color="#f10500"/><stop offset=".265" stop-color="#f93b00"/><stop offset=".531" stop-color="#ff8500"/><stop offset=".765" stop-color="#ff8e00"/><stop offset=".89" stop-color="#fa0"/><stop offset=".948" stop-color="#ffc600"/><stop offset=".977" stop-color="#ffdf23"/><stop offset=".981" stop-color="#ffe834"/><stop offset=".985" stop-color="#fff556"/><stop offset=".99" stop-color="#ffff90"/><stop offset=".994" stop-color="#ffffad"/><stop offset=".998" stop-color="#ffffb7"/></linearGradient>
<linearGradient id="g211" href="#G"><stop offset=".002" stop-color="#9f0072"/><stop offset=".01" stop-color="#cd0047"/><stop offset=".019" stop-color="#e20024"/><stop offset=".027" stop-color="#e90013"/><stop offset=".048" stop-color="#ec000c"/><stop offset=".185" stop-color="#f00000"/><stop offset=".544" stop-color="#fd6900"/><stop offset=".815" stop-color="#fd6b00"/><stop offset=".931" stop-color="#ff9000"/><stop offset=".956" stop-color="#fa0"/><stop offset=".969" stop-color="#ffc400"/><stop offset=".973" stop-color="#ffce06"/><stop offset=".981" stop-color="#ffe42d"/><stop offset=".985" stop-color="#fff556"/><stop offset=".99" stop-color="#ffff90"/><stop offset=".994" stop-color="#ffffad"/><stop offset=".998" stop-color="#ffffb7"/></linearGradient>
<linearGradient id="g212" href="#G"><stop offset=".002" stop-color="#a8006d"/><stop offset=".01" stop-color="#d4003d"/><stop offset=".019" stop-color="#e70019"/><stop offset=".027" stop-color="#ed0008"/><stop offset=".04" stop-color="#ef0003"/><stop offset=".131" stop-color="#f00000"/><stop offset=".281" stop-color="#f93b00"/><stop offset=".527" stop-color="#fe7e00"/><stop offset=".806" stop-color="#ff8e00"/><stop offset=".919" stop-color="#ffac00"/><stop offset=".956" stop-color="#ffc700"/><stop offset=".973" stop-color="#ffd715"/><stop offset=".981" stop-color="#ffe732"/><stop offset=".985" stop-color="#fff556"/><stop offset=".99" stop-color="#ffff90"/><stop offset=".994" stop-color="#ffffad"/><stop offset=".998" stop-color="#ffffb7"/></linearGradient>
<linearGradient id="g213" href="#G"><stop offset=".002" stop-color="#a10071"/><stop offset=".01" stop-color="#cf0045"/><stop offset=".019" stop-color="#e30021"/><stop offset=".04" stop-color="#ec000b"/><stop offset=".173" stop-color="#f00000"/><stop offset=".269" stop-color="#f62600"/><stop offset=".552" stop-color="#fe7000"/><stop offset=".794" stop-color="#fe7000"/><stop offset=".931" stop-color="#f90"/><stop offset=".969" stop-color="#ffc900"/><stop offset=".981" stop-color="#ffe42d"/><stop offset=".985" stop-color="#fff556"/><stop offset=".99" stop-color="#ffff90"/><stop offset=".994" stop-color="#ffffad"/><stop offset=".998" stop-color="#ffffb7"/></linearGradient>
<linearGradient id="g214" href="#G"><stop offset=".002" stop-color="#a30070"/><stop offset=".01" stop-color="#d10042"/><stop offset=".019" stop-color="#e4001e"/><stop offset=".04" stop-color="#ed0008"/><stop offset=".156" stop-color="#f00000"/><stop offset=".277" stop-color="#f72e00"/><stop offset=".544" stop-color="#fe7500"/><stop offset=".794" stop-color="#fe7900"/><stop offset=".919" stop-color="#ff9b00"/><stop offset=".965" stop-color="#ffc600"/><stop offset=".973" stop-color="#ffd30e"/><stop offset=".981" stop-color="#ffe52f"/><stop offset=".985" stop-color="#fff556"/><stop offset=".99" stop-color="#ffff90"/><stop offset=".994" stop-color="#ffffad"/><stop offset=".998" stop-color="#ffffb7"/></linearGradient>
<linearGradient id="g215" href="#G"><stop offset=".002" stop-color="#a6006e"/><stop offset=".01" stop-color="#d20040"/><stop offset=".019" stop-color="#e6001c"/><stop offset=".027" stop-color="#ec000b"/><stop offset=".04" stop-color="#ee0006"/><stop offset=".144" stop-color="#f00000"/><stop offset=".327" stop-color="#fa4300"/><stop offset=".548" stop-color="#fe7c00"/><stop offset=".806" stop-color="#ff8500"/><stop offset=".902" stop-color="#ff9d00"/><stop offset=".96" stop-color="#ffc400"/><stop offset=".973" stop-color="#ffd612"/><stop offset=".981" stop-color="#ffe732"/><stop offset=".985" stop-color="#fff556"/><stop offset=".99" stop-color="#ffff90"/><stop offset=".994" stop-color="#ffffad"/><stop offset=".998" stop-color="#ffffb7"/></linearGradient>
<linearGradient id="g216" href="#G"><stop offset=".002" stop-color="#9e0073"/><stop offset=".01" stop-color="#cc0048"/><stop offset=".019" stop-color="#e10025"/><stop offset=".04" stop-color="#eb000f"/><stop offset=".202" stop-color="#f00000"/><stop offset=".556" stop-color="#fd6400"/><stop offset=".815" stop-color="#fd6100"/><stop offset=".931" stop-color="#ff8700"/><stop offset=".956" stop-color="#ffa200"/><stop offset=".969" stop-color="#ffc000"/><stop offset=".973" stop-color="#ffcb01"/><stop offset=".981" stop-color="#ffe32a"/><stop offset=".99" stop-color="#ffff90"/><stop offset=".994" stop-color="#ffffad"/><stop offset=".998" stop-color="#ffffb7"/></linearGradient>
<linearGradient id="g217" href="#G"><stop offset=".002" stop-color="#b9005f"/><stop offset=".015" stop-color="#ea0012"/><stop offset=".023" stop-color="#f30d00"/><stop offset=".027" stop-color="#f51e00"/><stop offset=".04" stop-color="#f62600"/><stop offset=".123" stop-color="#f62600"/><stop offset=".273" stop-color="#fc5a00"/><stop offset=".481" stop-color="#ff8a00"/><stop offset=".556" stop-color="#ff9700"/><stop offset=".773" stop-color="#ff9300"/><stop offset=".89" stop-color="#ffa800"/><stop offset=".952" stop-color="#ffc700"/><stop offset=".973" stop-color="#ffd817"/><stop offset=".981" stop-color="#ffe732"/><stop offset=".985" stop-color="#fff556"/><stop offset=".99" stop-color="#ffff90"/><stop offset=".994" stop-color="#ffffad"/><stop offset=".998" stop-color="#ffffb7"/></linearGradient>
<linearGradient id="g218" href="#G"><stop offset=".002" stop-color="#a8006d"/><stop offset=".01" stop-color="#d4003d"/><stop offset=".019" stop-color="#e70019"/><stop offset=".027" stop-color="#ed0008"/><stop offset=".04" stop-color="#ef0003"/><stop offset=".135" stop-color="#f00000"/><stop offset=".265" stop-color="#f83000"/><stop offset=".544" stop-color="#fe7500"/><stop offset=".798" stop-color="#fe7000"/><stop offset=".919" stop-color="#ff9000"/><stop offset=".952" stop-color="#fa0"/><stop offset=".969" stop-color="#ffc700"/><stop offset=".981" stop-color="#ffe42d"/><stop offset=".985" stop-color="#fff556"/><stop offset=".99" stop-color="#ffff90"/><stop offset=".994" stop-color="#ffffad"/><stop offset=".998" stop-color="#ffffb7"/></linearGradient>
<linearGradient id="g219" href="#G"><stop offset=".002" stop-color="#bc005c"/><stop offset=".01" stop-color="#e20024"/><stop offset=".019" stop-color="#f10500"/><stop offset=".027" stop-color="#f62600"/><stop offset=".04" stop-color="#f83000"/><stop offset=".123" stop-color="#f83000"/><stop offset=".26" stop-color="#fd6100"/><stop offset=".481" stop-color="#ff9500"/><stop offset=".552" stop-color="#ffa200"/><stop offset=".765" stop-color="#ffa200"/><stop offset=".935" stop-color="#ffc700"/><stop offset=".977" stop-color="#ffe228"/><stop offset=".985" stop-color="#fff556"/><stop offset=".99" stop-color="#ffff90"/><stop offset=".994" stop-color="#ffffad"/><stop offset=".998" stop-color="#ffffb7"/></linearGradient>
<linearGradient id="g220" href="#G"><stop offset=".002" stop-color="#a7006e"/><stop offset=".01" stop-color="#d3003f"/><stop offset=".019" stop-color="#e6001a"/><stop offset=".04" stop-color="#ef0004"/><stop offset=".148" stop-color="#f00000"/><stop offset=".277" stop-color="#f72e00"/><stop offset=".556" stop-color="#fe7000"/><stop offset=".74" stop-color="#fd6400"/><stop offset=".819" stop-color="#fd6b00"/><stop offset=".935" stop-color="#ff9000"/><stop offset=".956" stop-color="#ffa800"/><stop offset=".969" stop-color="#ffc400"/><stop offset=".973" stop-color="#ffcc04"/><stop offset=".981" stop-color="#ffe42d"/><stop offset=".985" stop-color="#fff556"/><stop offset=".99" stop-color="#ffff90"/><stop offset=".994" stop-color="#ffffad"/><stop offset=".998" stop-color="#ffffb7"/></linearGradient>
<linearGradient id="g221" href="#G"><stop offset=".002" stop-color="#b40063"/><stop offset=".01" stop-color="#dd002e"/><stop offset=".023" stop-color="#f00000"/><stop offset=".027" stop-color="#f31000"/><stop offset=".04" stop-color="#f51b00"/><stop offset=".131" stop-color="#f52000"/><stop offset=".265" stop-color="#fb5200"/><stop offset=".535" stop-color="#ff9500"/><stop offset=".76" stop-color="#f90"/><stop offset=".915" stop-color="#fb0"/><stop offset=".931" stop-color="#ff9f00"/><stop offset=".96" stop-color="#ff8a00"/><stop offset=".977" stop-color="#ff9000"/><stop offset=".985" stop-color="#ffb400"/><stop offset=".99" stop-color="#de002c"/><stop offset=".998" stop-color="#de002c"/></linearGradient>
<linearGradient id="g222" href="#G"><stop offset=".002" stop-color="#a9006c"/><stop offset=".01" stop-color="#d4003c"/><stop offset=".019" stop-color="#e70018"/><stop offset=".04" stop-color="#f00001"/><stop offset=".131" stop-color="#f00000"/><stop offset=".265" stop-color="#f83000"/><stop offset=".527" stop-color="#fe7000"/><stop offset=".819" stop-color="#fd6d00"/><stop offset=".94" stop-color="#ff9700"/><stop offset=".969" stop-color="#ff8a00"/><stop offset=".977" stop-color="#ff9000"/><stop offset=".985" stop-color="#ffb400"/><stop offset=".99" stop-color="#de002c"/><stop offset=".998" stop-color="#de002c"/></linearGradient>
<linearGradient id="g223" href="#G"><stop offset=".002" stop-color="#b40063"/><stop offset=".01" stop-color="#dd002e"/><stop offset=".023" stop-color="#f00000"/><stop offset=".027" stop-color="#f31000"/><stop offset=".04" stop-color="#f51b00"/><stop offset=".131" stop-color="#f52000"/><stop offset=".265" stop-color="#fb5200"/><stop offset=".494" stop-color="#ff8c00"/><stop offset=".552" stop-color="#ff9700"/><stop offset=".76" stop-color="#f90"/><stop offset=".902" stop-color="#ffb500"/><stop offset=".944" stop-color="#ffc900"/><stop offset=".973" stop-color="#ffdd1e"/><stop offset=".981" stop-color="#ffe834"/><stop offset=".985" stop-color="#fff556"/><stop offset=".99" stop-color="#ffff90"/><stop offset=".994" stop-color="#ffffad"/><stop offset=".998" stop-color="#ffffb7"/></linearGradient>
<linearGradient id="g224" href="#G"><stop offset=".002" stop-color="#a9006c"/><stop offset=".01" stop-color="#d4003c"/><stop offset=".019" stop-color="#e70018"/><stop offset=".04" stop-color="#f00001"/><stop offset=".131" stop-color="#f00000"/><stop offset=".265" stop-color="#f83000"/><stop offset=".527" stop-color="#fe7000"/><stop offset=".819" stop-color="#fd6d00"/><stop offset=".931" stop-color="#ff9000"/><stop offset=".952" stop-color="#ffa400"/><stop offset=".969" stop-color="#ffc400"/><stop offset=".973" stop-color="#ffcc04"/><stop offset=".981" stop-color="#ffe42d"/><stop offset=".985" stop-color="#fff556"/><stop offset=".99" stop-color="#ffff90"/><stop offset=".994" stop-color="#ffffad"/><stop offset=".998" stop-color="#ffffb7"/></linearGradient>
<linearGradient id="g225" href="#G"><stop offset=".002" stop-color="#ab006b"/><stop offset=".01" stop-color="#d6003a"/><stop offset=".019" stop-color="#e90015"/><stop offset=".035" stop-color="#f00000"/><stop offset=".123" stop-color="#f10300"/><stop offset=".273" stop-color="#f93800"/><stop offset=".535" stop-color="#fe7700"/><stop offset=".773" stop-color="#fe7000"/><stop offset=".935" stop-color="#ff9b00"/><stop offset=".969" stop-color="#ff8a00"/><stop offset=".977" stop-color="#ff9000"/><stop offset=".985" stop-color="#ffb400"/><stop offset=".99" stop-color="#de002c"/><stop offset=".998" stop-color="#de002c"/></linearGradient>
<linearGradient id="g226" href="#G"><stop offset=".002" stop-color="#b20065"/><stop offset=".01" stop-color="#db0031"/><stop offset=".019" stop-color="#ec000b"/><stop offset=".027" stop-color="#f20b00"/><stop offset=".04" stop-color="#f41600"/><stop offset=".123" stop-color="#f41800"/><stop offset=".285" stop-color="#fb5200"/><stop offset=".519" stop-color="#ff8c00"/><stop offset=".773" stop-color="#ff9300"/><stop offset=".89" stop-color="#fa0"/><stop offset=".952" stop-color="#ffc900"/><stop offset=".977" stop-color="#ffdf23"/><stop offset=".981" stop-color="#ffe834"/><stop offset=".985" stop-color="#fff556"/><stop offset=".99" stop-color="#ffff90"/><stop offset=".994" stop-color="#ffffad"/><stop offset=".998" stop-color="#ffffb7"/></linearGradient>
<linearGradient id="g227" href="#G"><stop offset=".002" stop-color="#a00072"/><stop offset=".01" stop-color="#ce0046"/><stop offset=".019" stop-color="#e30022"/><stop offset=".04" stop-color="#ec000c"/><stop offset=".194" stop-color="#f00000"/><stop offset=".531" stop-color="#fc5f00"/><stop offset=".715" stop-color="#fe7c00"/><stop offset=".89" stop-color="#fe8000"/><stop offset=".981" stop-color="#fe8000"/><stop offset=".985" stop-color="#990076"/><stop offset=".998" stop-color="#990076"/></linearGradient>
<linearGradient id="g228" href="#G"><stop offset=".002" stop-color="#9f0072"/><stop offset=".01" stop-color="#cd0047"/><stop offset=".019" stop-color="#e20024"/><stop offset=".027" stop-color="#e90013"/><stop offset=".04" stop-color="#eb000f"/><stop offset=".244" stop-color="#f00000"/><stop offset=".706" stop-color="#fd6900"/><stop offset=".981" stop-color="#fe7700"/><stop offset=".985" stop-color="#8b007b"/><stop offset=".998" stop-color="#8b007b"/></linearGradient>
<linearGradient id="g229" href="#G"><stop offset=".002" stop-color="#9e0073"/><stop offset=".006" stop-color="#bb005d"/><stop offset=".015" stop-color="#d90035"/><stop offset=".031" stop-color="#e90013"/><stop offset=".344" stop-color="#f00000"/><stop offset=".723" stop-color="#fc5a00"/><stop offset=".981" stop-color="#fd6d00"/><stop offset=".985" stop-color="#7d007e"/><stop offset=".998" stop-color="#7d007e"/></linearGradient>
<linearGradient id="g230" href="#G"><stop offset=".002" stop-color="#9d0074"/><stop offset=".01" stop-color="#cc0049"/><stop offset=".019" stop-color="#e10026"/><stop offset=".027" stop-color="#e80016"/><stop offset=".444" stop-color="#f00000"/><stop offset=".727" stop-color="#fa4800"/><stop offset=".981" stop-color="#fd6400"/><stop offset=".985" stop-color="#6e0080"/><stop offset=".998" stop-color="#6e0080"/></linearGradient>
<linearGradient id="g231" href="#G"><stop offset=".002" stop-color="#8e007a"/><stop offset=".015" stop-color="#b80060"/><stop offset=".027" stop-color="#c7004f"/><stop offset=".144" stop-color="#da0033"/><stop offset=".535" stop-color="#f00000"/><stop offset=".719" stop-color="#f83300"/><stop offset=".981" stop-color="#fc5a00"/><stop offset=".985" stop-color="#5e007e"/><stop offset=".998" stop-color="#5e007e"/></linearGradient>
<linearGradient id="g232" href="#G"><stop offset=".002" stop-color="#7f007e"/><stop offset=".027" stop-color="#9a0075"/><stop offset=".156" stop-color="#be005a"/><stop offset=".348" stop-color="#d6003a"/><stop offset=".448" stop-color="#e70019"/><stop offset=".61" stop-color="#f00000"/><stop offset=".748" stop-color="#f62600"/><stop offset=".981" stop-color="#fb4f00"/><stop offset=".985" stop-color="#4f007b"/><stop offset=".998" stop-color="#4f007b"/></linearGradient>
<linearGradient id="g233" href="#G"><stop offset=".002" stop-color="#6b007f"/><stop offset=".115" stop-color="#8a007c"/><stop offset=".34" stop-color="#be0059"/><stop offset=".548" stop-color="#e80016"/><stop offset=".681" stop-color="#f00000"/><stop offset=".981" stop-color="#fa4500"/><stop offset=".985" stop-color="#3f0076"/><stop offset=".998" stop-color="#3f0076"/></linearGradient>
<linearGradient id="g234" href="#G"><stop offset=".002" stop-color="#51007c"/><stop offset=".19" stop-color="#7b007f"/><stop offset=".352" stop-color="#a7006e"/><stop offset=".515" stop-color="#cf0045"/><stop offset=".602" stop-color="#e70019"/><stop offset=".756" stop-color="#f00000"/><stop offset=".981" stop-color="#f93b00"/><stop offset=".985" stop-color="#2e006e"/><stop offset=".998" stop-color="#2e006e"/></linearGradient>
<linearGradient id="g235" href="#G"><stop offset=".002" stop-color="#370072"/><stop offset=".16" stop-color="#60007f"/><stop offset=".352" stop-color="#8a007c"/><stop offset=".515" stop-color="#ba005e"/><stop offset=".685" stop-color="#e90013"/><stop offset=".831" stop-color="#f00000"/><stop offset=".898" stop-color="#f51e00"/><stop offset=".981" stop-color="#f83000"/><stop offset=".985" stop-color="#1e0065"/><stop offset=".998" stop-color="#1e0065"/></linearGradient>
<linearGradient id="g236" href="#G"><stop offset=".002" stop-color="#1b0063"/><stop offset=".181" stop-color="#50007c"/><stop offset=".44" stop-color="#8a007c"/><stop offset=".531" stop-color="#aa006c"/><stop offset=".698" stop-color="#e30022"/><stop offset=".86" stop-color="#f00000"/><stop offset=".981" stop-color="#f62600"/><stop offset=".985" stop-color="#0d005a"/><stop offset=".998" stop-color="#0d005a"/></linearGradient>
<linearGradient id="g237" href="#G"><stop offset=".002" stop-color="#000050"/><stop offset=".223" stop-color="#470079"/><stop offset=".502" stop-color="#81007e"/><stop offset=".59" stop-color="#af0068"/><stop offset=".698" stop-color="#d70038"/><stop offset=".89" stop-color="#f00000"/><stop offset=".969" stop-color="#f51b00"/><stop offset=".981" stop-color="#f51b00"/><stop offset=".985" stop-color="#00004e"/><stop offset=".998" stop-color="#00004e"/></linearGradient>
<linearGradient id="g238" href="#G"><stop offset=".002" stop-color="#000038"/><stop offset=".073" stop-color="#000050"/><stop offset=".231" stop-color="#350072"/><stop offset=".54" stop-color="#7a007f"/><stop offset=".619" stop-color="#a7006e"/><stop offset=".719" stop-color="#d00043"/><stop offset=".869" stop-color="#ec000c"/><stop offset=".96" stop-color="#f30d00"/><stop offset=".981" stop-color="#f31000"/><stop offset=".985" stop-color="#000040"/><stop offset=".998" stop-color="#000040"/></linearGradient>
<linearGradient id="g239" href="#G"><stop offset=".002" stop-color="#000025"/><stop offset=".131" stop-color="#00004f"/><stop offset=".26" stop-color="#29006c"/><stop offset=".581" stop-color="#7a007f"/><stop offset=".64" stop-color="#9b0075"/><stop offset=".731" stop-color="#c70050"/><stop offset=".823" stop-color="#dc0030"/><stop offset=".869" stop-color="#e90013"/><stop offset=".96" stop-color="#f10300"/><stop offset=".981" stop-color="#f10500"/><stop offset=".985" stop-color="#000031"/><stop offset=".998" stop-color="#000031"/></linearGradient>
<linearGradient id="g240" href="#G"><stop offset=".002" stop-color="#000019"/><stop offset=".194" stop-color="#000050"/><stop offset=".36" stop-color="#310070"/><stop offset=".59" stop-color="#6e0080"/><stop offset=".635" stop-color="#81007e"/><stop offset=".74" stop-color="#bc005c"/><stop offset=".827" stop-color="#d3003f"/><stop offset=".885" stop-color="#e80016"/><stop offset=".96" stop-color="#ef0004"/><stop offset=".981" stop-color="#ef0003"/><stop offset=".985" stop-color="#000021"/><stop offset=".998" stop-color="#000021"/></linearGradient>
<linearGradient id="g241" href="#G"><stop offset=".002" stop-color="#00000c"/><stop offset=".252" stop-color="#000050"/><stop offset=".406" stop-color="#2d006e"/><stop offset=".631" stop-color="#6e0080"/><stop offset=".756" stop-color="#b40063"/><stop offset=".827" stop-color="#c9004d"/><stop offset=".91" stop-color="#e80016"/><stop offset=".965" stop-color="#ed000a"/><stop offset=".981" stop-color="#ed0008"/><stop offset=".985" stop-color="#001"/><stop offset=".998" stop-color="#001"/></linearGradient>
<linearGradient id="g242" href="#G"><stop offset=".002" stop-color="#000"/><stop offset=".31" stop-color="#000050"/><stop offset=".452" stop-color="#29006c"/><stop offset=".66" stop-color="#6e0080"/><stop offset=".765" stop-color="#a9006c"/><stop offset=".835" stop-color="#c10056"/><stop offset=".931" stop-color="#e80016"/><stop offset=".965" stop-color="#eb000f"/><stop offset=".981" stop-color="#eb000e"/><stop offset=".985" stop-color="#000"/><stop offset=".998" stop-color="#000"/></linearGradient>
<linearGradient id="g243" href="#G"><stop offset=".002" stop-color="#000"/><stop offset=".077" stop-color="#000001"/><stop offset=".369" stop-color="#000050"/><stop offset=".531" stop-color="#2e006e"/><stop offset=".69" stop-color="#6e0080"/><stop offset=".844" stop-color="#b9005f"/><stop offset=".965" stop-color="#e90015"/><stop offset=".981" stop-color="#e90013"/><stop offset=".985" stop-color="#000"/><stop offset=".998" stop-color="#000"/></linearGradient>
<linearGradient id="g244" href="#G"><stop offset=".002" stop-color="#000"/><stop offset=".123" stop-color="#000"/><stop offset=".423" stop-color="#000050"/><stop offset=".69" stop-color="#60007f"/><stop offset=".777" stop-color="#90007a"/><stop offset=".869" stop-color="#b60062"/><stop offset=".923" stop-color="#ce0046"/><stop offset=".973" stop-color="#e6001c"/><stop offset=".981" stop-color="#e6001c"/><stop offset=".985" stop-color="#000"/><stop offset=".998" stop-color="#000"/></linearGradient>
<linearGradient id="g245" href="#G"><stop offset=".002" stop-color="#000"/><stop offset=".173" stop-color="#000"/><stop offset=".481" stop-color="#010051"/><stop offset=".644" stop-color="#390074"/><stop offset=".769" stop-color="#7b007f"/><stop offset=".898" stop-color="#b50063"/><stop offset=".931" stop-color="#c50052"/><stop offset=".973" stop-color="#e00028"/><stop offset=".981" stop-color="#e00028"/><stop offset=".985" stop-color="#000"/><stop offset=".998" stop-color="#000"/></linearGradient>
<linearGradient id="g246" href="#G"><stop offset=".002" stop-color="#000"/><stop offset=".231" stop-color="#000001"/><stop offset=".523" stop-color="#00004f"/><stop offset=".702" stop-color="#49007a"/><stop offset=".798" stop-color="#7b007f"/><stop offset=".931" stop-color="#b60062"/><stop offset=".973" stop-color="#da0032"/><stop offset=".981" stop-color="#da0032"/><stop offset=".985" stop-color="#000"/><stop offset=".998" stop-color="#000"/></linearGradient>
<linearGradient id="g247" href="#G"><stop offset=".002" stop-color="#000"/><stop offset=".277" stop-color="#000"/><stop offset=".565" stop-color="#00004f"/><stop offset=".715" stop-color="#410077"/><stop offset=".823" stop-color="#7a007f"/><stop offset=".927" stop-color="#a30070"/><stop offset=".952" stop-color="#c60051"/><stop offset=".973" stop-color="#d4003d"/><stop offset=".981" stop-color="#d4003d"/><stop offset=".985" stop-color="#000"/><stop offset=".998" stop-color="#000"/></linearGradient>
<linearGradient id="g248" href="#G"><stop offset=".002" stop-color="#000"/><stop offset=".327" stop-color="#000"/><stop offset=".606" stop-color="#00004f"/><stop offset=".744" stop-color="#410077"/><stop offset=".827" stop-color="#6e0080"/><stop offset=".931" stop-color="#940078"/><stop offset=".948" stop-color="#b60062"/><stop offset=".973" stop-color="#cc0048"/><stop offset=".981" stop-color="#cc0048"/><stop offset=".985" stop-color="#000"/><stop offset=".998" stop-color="#000"/></linearGradient>
<linearGradient id="g249" href="#G"><stop offset=".002" stop-color="#000"/><stop offset=".377" stop-color="#000"/><stop offset=".648" stop-color="#000050"/><stop offset=".777" stop-color="#440078"/><stop offset=".869" stop-color="#6e0080"/><stop offset=".931" stop-color="#81007e"/><stop offset=".948" stop-color="#aa006c"/><stop offset=".973" stop-color="#c60051"/><stop offset=".981" stop-color="#c60051"/><stop offset=".985" stop-color="#000"/><stop offset=".998" stop-color="#000"/></linearGradient>
<linearGradient id="g250" href="#G"><stop offset=".002" stop-color="#000"/><stop offset=".423" stop-color="#000"/><stop offset=".677" stop-color="#000050"/><stop offset=".806" stop-color="#440078"/><stop offset=".931" stop-color="#73007f"/><stop offset=".952" stop-color="#a5006f"/><stop offset=".973" stop-color="#be005a"/><stop offset=".981" stop-color="#be005a"/><stop offset=".985" stop-color="#000"/><stop offset=".998" stop-color="#000"/></linearGradient>
<linearGradient id="g251" href="#G"><stop offset=".002" stop-color="#000"/><stop offset=".473" stop-color="#000"/><stop offset=".706" stop-color="#00004f"/><stop offset=".835" stop-color="#440078"/><stop offset=".931" stop-color="#67007f"/><stop offset=".952" stop-color="#990076"/><stop offset=".973" stop-color="#b60062"/><stop offset=".981" stop-color="#b60062"/><stop offset=".985" stop-color="#000"/><stop offset=".998" stop-color="#000"/></linearGradient>
<linearGradient id="g252" href="#G"><stop offset=".002" stop-color="#000"/><stop offset=".519" stop-color="#000"/><stop offset=".735" stop-color="#00004f"/><stop offset=".844" stop-color="#390074"/><stop offset=".931" stop-color="#5d007e"/><stop offset=".948" stop-color="#81007e"/><stop offset=".973" stop-color="#ad0069"/><stop offset=".981" stop-color="#ad0069"/><stop offset=".985" stop-color="#000"/><stop offset=".998" stop-color="#000"/></linearGradient>
<linearGradient id="g253" href="#G"><stop offset=".002" stop-color="#000"/><stop offset=".56" stop-color="#000"/><stop offset=".769" stop-color="#000050"/><stop offset=".856" stop-color="#310070"/><stop offset=".931" stop-color="#51007c"/><stop offset=".952" stop-color="#7f007e"/><stop offset=".973" stop-color="#a5006f"/><stop offset=".981" stop-color="#a5006f"/><stop offset=".985" stop-color="#000"/><stop offset=".998" stop-color="#000"/></linearGradient>
<linearGradient id="g254" href="#G"><stop offset=".002" stop-color="#000"/><stop offset=".602" stop-color="#000"/><stop offset=".798" stop-color="#000050"/><stop offset=".931" stop-color="#450078"/><stop offset=".956" stop-color="#7b007f"/><stop offset=".973" stop-color="#9b0075"/><stop offset=".981" stop-color="#9b0075"/><stop offset=".985" stop-color="#000"/><stop offset=".998" stop-color="#000"/></linearGradient>
<linearGradient id="g255" href="#G"><stop offset=".002" stop-color="#000"/><stop offset=".64" stop-color="#000"/><stop offset=".827" stop-color="#00004f"/><stop offset=".931" stop-color="#3b0074"/><stop offset=".948" stop-color="#61007f"/><stop offset=".973" stop-color="#910079"/><stop offset=".981" stop-color="#910079"/><stop offset=".985" stop-color="#000"/><stop offset=".998" stop-color="#000"/></linearGradient>
<linearGradient id="g256" href="#G"><stop offset=".002" stop-color="#000"/><stop offset=".673" stop-color="#000"/><stop offset=".848" stop-color="#000050"/><stop offset=".931" stop-color="#2e006e"/><stop offset=".952" stop-color="#60007f"/><stop offset=".973" stop-color="#87007c"/><stop offset=".981" stop-color="#87007c"/><stop offset=".985" stop-color="#000"/><stop offset=".998" stop-color="#000"/></linearGradient>
<linearGradient id="g257" href="#G"><stop offset=".002" stop-color="#000"/><stop offset=".702" stop-color="#000"/><stop offset=".806" stop-color="#000029"/><stop offset=".869" stop-color="#000050"/><stop offset=".931" stop-color="#230068"/><stop offset=".965" stop-color="#6e0080"/><stop offset=".981" stop-color="#7d007e"/><stop offset=".985" stop-color="#000"/><stop offset=".998" stop-color="#000"/></linearGradient>
<linearGradient id="L" x1="0" y1="0" x2="0" y2="1"><stop offset="0" stop-color="#fff"/><stop offset=".017" stop-color="#ffffec"/><stop offset=".033" stop-color="#ffffd8"/><stop offset=".05" stop-color="#ffffc5"/><stop offset=".067" stop-color="#ffffb2"/><stop offset=".083" stop-color="#ffff9e"/><stop offset=".1" stop-color="#ffff8b"/><stop offset=".117" stop-color="#fffd78"/><stop offset=".133" stop-color="#fff964"/><stop offset=".15" stop-color="#fff351"/><stop offset=".167" stop-color="#ffec3e"/><stop offset=".183" stop-color="#ffe32a"/><stop offset=".2" stop-color="#ffd817"/><stop offset=".217" stop-color="#ffcc04"/><stop offset=".233" stop-color="#ffbf00"/><stop offset=".25" stop-color="#ffb000"/><stop offset=".267" stop-color="#ff9f00"/><stop offset=".283" stop-color="#ff8e00"/><stop offset=".3" stop-color="#fe7c00"/><stop offset=".317" stop-color="#fd6900"/><stop offset=".333" stop-color="#fc5500"/><stop offset=".35" stop-color="#f94000"/><stop offset=".367" stop-color="#f72b00"/><stop offset=".383" stop-color="#f41600"/><stop offset=".4" stop-color="#f00000"/><stop offset=".417" stop-color="#ec000b"/><stop offset=".433" stop-color="#e80016"/><stop offset=".45" stop-color="#e30021"/><stop offset=".467" stop-color="#de002c"/><stop offset=".483" stop-color="#d80036"/><stop offset=".5" stop-color="#d20040"/><stop offset=".517" stop-color="#cc0049"/><stop offset=".533" stop-color="#c50052"/><stop offset=".55" stop-color="#be005a"/><stop offset=".567" stop-color="#b60062"/><stop offset=".583" stop-color="#ae0068"/><stop offset=".6" stop-color="#a6006e"/><stop offset=".617" stop-color="#9d0074"/><stop offset=".633" stop-color="#940078"/><stop offset=".65" stop-color="#8b007b"/><stop offset=".667" stop-color="#81007e"/><stop offset=".683" stop-color="#78007f"/><stop offset=".7" stop-color="#6e0080"/><stop offset=".717" stop-color="#64007f"/><stop offset=".733" stop-color="#59007e"/><stop offset=".75" stop-color="#4f007b"/><stop offset=".767" stop-color="#440078"/><stop offset=".783" stop-color="#390074"/><stop offset=".8" stop-color="#2e006e"/><stop offset=".817" stop-color="#230068"/><stop offset=".833" stop-color="#180062"/><stop offset=".85" stop-color="#0d005a"/><stop offset=".867" stop-color="#020052"/><stop offset=".883" stop-color="#000049"/><stop offset=".9" stop-color="#000040"/><stop offset=".917" stop-color="#000036"/><stop offset=".933" stop-color="#00002c"/><stop offset=".95" stop-color="#000021"/><stop offset=".967" stop-color="#000016"/><stop offset=".983" stop-color="#00000b"/><stop offset="1" stop-color="#000"/></linearGradient>
<path id="c48" d="M2 0h1v1h-1zM1 1h1v1h-1zM3 1h1v1h-1zM0 2h1v1h-1zM4 2h1v1h-1zM0 3h1v1h-1zM4 3h1v1h-1zM0 4h1v1h-1zM4 4h1v1h-1zM0 5h1v1h-1zM4 5h1v1h-1zM0 6h1v1h-1zM4 6h1v1h-1zM1 7h1v1h-1zM3 7h1v1h-1zM2 8h1v1h-1z"/>
<path id="c49" d="M2 0h1v1h-1zM1 1h2v1h-2zM0 2h1v1h-1zM2 2h1v1h-1zM2 3h1v1h-1zM2 4h1v1h-1zM2 5h1v1h-1zM2 6h1v1h-1zM2 7h1v1h-1zM0 8h5v1h-5z"/>
<path id="c50" d="M1 0h3v1h-3zM0 1h1v1h-1zM4 1h1v1h-1zM0 2h1v1h-1zM4 2h1v1h-1zM4 3h1v1h-1zM3 4h1v1h-1zM2 5h1v1h-1zM1 6h1v1h-1zM0 7h1v1h-1zM0 8h5v1h-5z"/>
<path id="c51" d="M0 0h5v1h-5zM4 1h1v1h-1zM3 2h1v1h-1zM2 3h1v1h-1zM1 4h3v1h-3zM4 5h1v1h-1zM4 6h1v1h-1zM0 7h1v1h-1zM4 7h1v1h-1zM1 8h3v1h-3z"/>
<path id="c52" d="M3 0h1v1h-1zM3 1h1v1h-1zM2 2h2v1h-2zM1 3h1v1h-1zM3 3h1v1h-1zM0 4h1v1h-1zM3 4h1v1h-1zM0 5h1v1h-1zM3 5h1v1h-1zM0 6h5v1h-5zM3 7h1v1h-1zM3 8h1v1h-1z"/>
<path id="c53" d="M0 0h5v1h-5zM0 1h1v1h-1zM0 2h1v1h-1zM0 3h1v1h-1zM2 3h2v1h-2zM0 4h2v1h-2zM4 4h1v1h-1zM4 5h1v1h-1zM4 6h1v1h-1zM0 7h1v1h-1zM4 7h1v1h-1zM1 8h3v1h-3z"/>
<path id="c54" d="M1 0h3v1h-3zM0 1h1v1h-1zM4 1h1v1h-1zM0 2h1v1h-1zM0 3h1v1h-1zM0 4h1v1h-1zM2 4h2v1h-2zM0 5h2v1h-2zM4 5h1v1h-1zM0 6h1v1h-1zM4 6h1v1h-1zM0 7h1v1h-1zM4 7h1v1h-1zM1 8h3v1h-3z"/>
<path id="c55" d="M0 0h5v1h-5zM4 1h1v1h-1zM3 2h1v1h-1zM3 3h1v1h-1zM2 4h1v1h-1zM2 5h1v1h-1zM1 6h1v1h-1zM1 7h1v1h-1zM1 8h1v1h-1z"/>
<path id="c56" d="M1 0h3v1h-3zM0 1h1v1h-1zM4 1h1v1h-1zM0 2h1v1h-1zM4 2h1v1h-1zM0 3h1v1h-1zM4 3h1v1h-1zM1 4h3v1h-3zM0 5h1v1h-1zM4 5h1v1h-1zM0 6h1v1h-1zM4 6h1v1h-1zM0 7h1v1h-1zM4 7h1v1h-1zM1 8h3v1h-3z"/>
<path id="c57" d="M1 0h3v1h-3zM0 1h1v1h-1zM4 1h1v1h-1zM0 2h1v1h-1zM4 2h1v1h-1zM0 3h1v1h-1zM3 3h2v1h-2zM1 4h2v1h-2zM4 4h1v1h-1zM4 5h1v1h-1zM4 6h1v1h-1zM0 7h1v1h-1zM4 7h1v1h-1zM1 8h3v1h-3z"/>
<path id="c43" d="M2 2h1v1h-1zM2 3h1v1h-1zM0 4h5v1h-5zM2 5h1v1h-1zM2 6h1v1h-1z"/>
<path id="c45" d="M0 4h5v1h-5z"/>
<path id="c68" d="M0 0h4v1h-4zM1 1h1v1h-1zM4 1h1v1h-1zM1 2h1v1h-1zM4 2h1v1h-1zM1 3h1v1h-1zM4 3h1v1h-1zM1 4h1v1h-1zM4 4h1v1h-1zM1 5h1v1h-1zM4 5h1v1h-1zM1 6h1v1h-1zM4 6h1v1h-1zM1 7h1v1h-1zM4 7h1v1h-1zM0 8h4v1h-4z"/>
<path id="c67" d="M1 0h3v1h-3zM0 1h1v1h-1zM4 1h1v1h-1zM0 2h1v1h-1zM0 3h1v1h-1zM0 4h1v1h-1zM0 5h1v1h-1zM0 6h1v1h-1zM0 7h1v1h-1zM4 7h1v1h-1zM1 8h3v1h-3z"/>
<path id="c66" d="M0 0h4v1h-4zM1 1h1v1h-1zM4 1h1v1h-1zM1 2h1v1h-1zM4 2h1v1h-1zM1 3h1v1h-1zM4 3h1v1h-1zM1 4h3v1h-3zM1 5h1v1h-1zM4 5h1v1h-1zM1 6h1v1h-1zM4 6h1v1h-1zM1 7h1v1h-1zM4 7h1v1h-1zM0 8h4v1h-4z"/>
<path id="c70" d="M0 0h5v1h-5zM0 1h1v1h-1zM0 2h1v1h-1zM0 3h1v1h-1zM0 4h4v1h-4zM0 5h1v1h-1zM0 6h1v1h-1zM0 7h1v1h-1zM0 8h1v1h-1z"/>
<path id="c83" d="M1 0h3v1h-3zM0 1h1v1h-1zM4 1h1v1h-1zM0 2h1v1h-1zM0 3h1v1h-1zM1 4h3v1h-3zM4 5h1v1h-1zM4 6h1v1h-1zM0 7h1v1h-1zM4 7h1v1h-1zM1 8h3v1h-3z"/>
<path id="c84" d="M0 0h5v1h-5zM2 1h1v1h-1zM2 2h1v1h-1zM2 3h1v1h-1zM2 4h1v1h-1zM2 5h1v1h-1zM2 6h1v1h-1zM2 7h1v1h-1zM2 8h1v1h-1z"/>
<path id="c72" d="M0 0h1v1h-1zM4 0h1v1h-1zM0 1h1v1h-1zM4 1h1v1h-1zM0 2h1v1h-1zM4 2h1v1h-1zM0 3h1v1h-1zM4 3h1v1h-1zM0 4h5v1h-5zM0 5h1v1h-1zM4 5h1v1h-1zM0 6h1v1h-1zM4 6h1v1h-1zM0 7h1v1h-1zM4 7h1v1h-1zM0 8h1v1h-1zM4 8h1v1h-1z"/>
<path id="c100" d="M4 0h1v1h-1zM4 1h1v1h-1zM4 2h1v1h-1zM1 3h2v1h-2zM4 3h1v1h-1zM0 4h1v1h-1zM3 4h2v1h-2zM0 5h1v1h-1zM4 5h1v1h-1zM0 6h1v1h-1zM4 6h1v1h-1zM0 7h1v1h-1zM3 7h2v1h-2zM1 8h2v1h-2zM4 8h1v1h-1z"/>
<path id="c107" d="M0 0h1v1h-1zM0 1h1v1h-1zM0 2h1v1h-1zM0 3h1v1h-1zM3 3h1v1h-1zM0 4h1v1h-1zM2 4h1v1h-1zM0 5h2v1h-2zM0 6h1v1h-1zM2 6h1v1h-1zM0 7h1v1h-1zM3 7h1v1h-1zM0 8h1v1h-1zM4 8h1v1h-1z"/>
<path id="c105" d="M2 1h1v1h-1zM1 3h2v1h-2zM2 4h1v1h-1zM2 5h1v1h-1zM2 6h1v1h-1zM2 7h1v1h-1zM1 8h3v1h-3z"/>
<path id="c109" d="M0 3h2v1h-2zM3 3h1v1h-1zM0 4h1v1h-1zM2 4h1v1h-1zM4 4h1v1h-1zM0 5h1v1h-1zM2 5h1v1h-1zM4 5h1v1h-1zM0 6h1v1h-1zM2 6h1v1h-1zM4 6h1v1h-1zM0 7h1v1h-1zM2 7h1v1h-1zM4 7h1v1h-1zM0 8h1v1h-1zM4 8h1v1h-1z"/>
<path id="c101" d="M1 3h3v1h-3zM0 4h1v1h-1zM4 4h1v1h-1zM0 5h5v1h-5zM0 6h1v1h-1zM0 7h1v1h-1zM4 7h1v1h-1zM1 8h3v1h-3z"/>
<path id="c115" d="M1 3h3v1h-3zM0 4h1v1h-1zM4 4h1v1h-1zM1 5h2v1h-2zM3 6h1v1h-1zM0 7h1v1h-1zM4 7h1v1h-1zM1 8h3v1h-3z"/>
<path id="c114" d="M0 3h1v1h-1zM2 3h2v1h-2zM1 4h1v1h-1zM4 4h1v1h-1zM1 5h1v1h-1zM1 6h1v1h-1zM1 7h1v1h-1zM1 8h1v1h-1z"/>
<path id="c113" d="M1 3h2v1h-2zM4 3h1v1h-1zM0 4h1v1h-1zM3 4h2v1h-2zM0 5h1v1h-1zM4 5h1v1h-1zM0 6h1v1h-1zM4 6h1v1h-1zM0 7h1v1h-1zM3 7h2v1h-2zM1 8h2v1h-2zM4 8h1v1h-1zM4 9h1v1h-1zM4 10h1v1h-1z"/>
<path id="c117" d="M0 3h1v1h-1zM4 3h1v1h-1zM0 4h1v1h-1zM4 4h1v1h-1zM0 5h1v1h-1zM4 5h1v1h-1zM0 6h1v1h-1zM4 6h1v1h-1zM0 7h1v1h-1zM3 7h2v1h-2zM1 8h2v1h-2zM4 8h1v1h-1z"/>
<path id="c110" d="M0 3h1v1h-1zM2 3h2v1h-2zM0 4h2v1h-2zM4 4h1v1h-1zM0 5h1v1h-1zM4 5h1v1h-1zM0 6h1v1h-1zM4 6h1v1h-1zM0 7h1v1h-1zM4 7h1v1h-1zM0 8h1v1h-1zM4 8h1v1h-1z"/>
<path id="c99" d="M1 3h3v1h-3zM0 4h1v1h-1zM4 4h1v1h-1zM0 5h1v1h-1zM0 6h1v1h-1zM0 7h1v1h-1zM4 7h1v1h-1zM1 8h3v1h-3z"/>
<path id="c121" d="M0 3h1v1h-1zM4 3h1v1h-1zM0 4h1v1h-1zM4 4h1v1h-1zM0 5h1v1h-1zM4 5h1v1h-1zM0 6h1v1h-1zM3 6h2v1h-2zM1 7h2v1h-2zM4 7h1v1h-1zM4 8h1v1h-1zM0 9h1v1h-1zM4 9h1v1h-1zM1 10h3v1h-3z"/>
<path id="c122" d="M0 3h5v1h-5zM3 4h1v1h-1zM2 5h1v1h-1zM1 6h1v1h-1zM0 7h1v1h-1zM0 8h5v1h-5z"/>
<path id="c40" d="M3 -1h1v1h-1zM2 0h1v1h-1zM2 1h1v1h-1zM1 2h1v1h-1zM1 3h1v1h-1zM1 4h1v1h-1zM1 5h1v1h-1zM1 6h1v1h-1zM2 7h1v1h-1zM2 8h1v1h-1zM3 9h1v1h-1z"/>
<path id="c41" d="M1 -1h1v1h-1zM2 0h1v1h-1zM2 1h1v1h-1zM3 2h1v1h-1zM3 3h1v1h-1zM3 4h1v1h-1zM3 5h1v1h-1zM3 6h1v1h-1zM2 7h1v1h-1zM2 8h1v1h-1zM1 9h1v1h-1z"/>
</defs>
<rect width="1144" height="613" fill="#000"/>
<g id="ch">
<rect x="58" y="50" width="1" height="17" fill="#69007f"/>
<rect x="59" y="50" width="1" height="17" fill="#3f0076"/>
<rect x="60" y="50" width="1" height="17" fill="#69007f"/>
<rect x="61" y="50" width="1" height="17" fill="#3f0076"/>
<rect x="62" y="50" width="1" height="17" fill="#69007f"/>
<rect x="63" y="50" width="2" height="17" fill="#3f0076"/>
<rect x="65" y="50" width="1" height="17" fill="#69007f"/>
<rect x="66" y="50" width="1" height="17" fill="#1e0065"/>
<rect x="67" y="50" width="1" height="17" fill="#69007f"/>
<rect x="68" y="50" width="1" height="17" fill="#3f0076"/>
<rect x="69" y="50" width="1" height="17" fill="#69007f"/>
<rect x="70" y="50" width="1" height="17" fill="#1e0065"/>
<rect x="71" y="50" width="1" height="17" fill="#69007f"/>
<rect x="72" y="50" width="1" height="17" fill="#1e0065"/>
<rect x="73" y="50" width="1" height="17" fill="#69007f"/>
<rect x="74" y="50" width="1" height="17" fill="#3f0076"/>
<rect x="75" y="50" width="1" height="17" fill="#69007f"/>
<rect x="76" y="50" width="1" height="17" fill="#1e0065"/>
<rect x="77" y="50" width="1" height="17" fill="#69007f"/>
<rect x="78" y="50" width="1" height="17" fill="#1e0065"/>
<rect x="79" y="50" width="1" height="17" fill="#69007f"/>
<rect x="80" y="50" width="1" height="17" fill="#3f0076"/>
<rect x="81" y="50" width="2" height="17" fill="#69007f"/>
<rect x="83" y="50" width="1" height="17" fill="#3f0076"/>
<rect x="84" y="50" width="1" height="17" fill="#69007f"/>
<rect x="85" y="50" width="1" height="17" fill="#1e0065"/>
<rect x="86" y="50" width="1" height="17" fill="#69007f"/>
<rect x="87" y="50" width="1" height="17" fill="#1e0065"/>
<rect x="88" y="50" width="1" height="17" fill="#b60062"/>
<rect x="89" y="50" width="1" height="17" fill="#1e0065"/>
<rect x="90" y="50" width="1" height="17" fill="#69007f"/>
<rect x="91" y="50" width="1" height="17" fill="#1e0065"/>
<rect x="92" y="50" width="1" height="17" fill="#69007f"/>
<rect x="93" y="50" width="1" height="17" fill="#1e0065"/>
<rect x="94" y="50" width="1" height="17" fill="#69007f"/>
<rect x="95" y="50" width="1" height="17" fill="#1e0065"/>
<rect x="96" y="50" width="1" height="17" fill="#69007f"/>
<rect x="97" y="50" width="1" height="17" fill="#1e0065"/>
<rect x="98" y="50" width="1" height="17" fill="#69007f"/>
<rect x="99" y="50" width="1" height="17" fill="#3f0076"/>
<rect x="100" y="50" width="2" height="17" fill="#69007f"/>
<rect x="102" y="50" width="1" height="17" fill="#3f0076"/>
<rect x="103" y="50" width="1" height="17" fill="#69007f"/>
<rect x="104" y="50" width="1" height="17" fill="#1e0065"/>
<rect x="105" y="50" width="1" height="17" fill="#69007f"/>
<rect x="106" y="50" width="1" height="17" fill="#1e0065"/>
<rect x="107" y="50" width="1" height="17" fill="#69007f"/>
<rect x="108" y="50" width="1" height="17" fill="#1e0065"/>
<rect x="109" y="50" width="1" height="17" fill="#69007f"/>
<rect x="110" y="50" width="1" height="17" fill="#1e0065"/>
<rect x="111" y="50" width="1" height="17" fill="#69007f"/>
<rect x="112" y="50" width="1" height="17" fill="#1e0065"/>
<rect x="113" y="50" width="1" height="17" fill="#69007f"/>
<rect x="114" y="50" width="1" height="17" fill="#1e0065"/>
<rect x="115" y="50" width="1" height="17" fill="#3f0076"/>
<rect x="116" y="50" width="1" height="17" fill="#1e0065"/>
<rect x="117" y="50" width="1" height="17" fill="#69007f"/>
<rect x="118" y="50" width="1" height="17" fill="#b60062"/>
<rect x="119" y="50" width="4" height="17" fill="#3f0076"/>
<rect x="123" y="50" width="1" height="17" fill="#1e0065"/>
<rect x="124" y="50" width="1" height="17" fill="#69007f"/>
<rect x="125" y="50" width="1" height="17" fill="#1e0065"/>
<rect x="126" y="50" width="1" height="17" fill="#69007f"/>
<rect x="127" y="50" width="1" height="17" fill="#1e0065"/>
<rect x="128" y="50" width="1" height="17" fill="#69007f"/>
<rect x="129" y="50" width="1" height="17" fill="#1e0065"/>
<rect x="130" y="50" width="1" height="17" fill="#69007f"/>
<rect x="131" y="50" width="1" height="17" fill="#1e0065"/>
<rect x="132" y="50" width="1" height="17" fill="#69007f"/>
<rect x="133" y="50" width="1" height="17" fill="#1e0065"/>
<rect x="134" y="50" width="1" height="17" fill="#69007f"/>
<rect x="135" y="50" width="4" height="17" fill="#3f0076"/>
<rect x="139" y="50" width="1" height="17" fill="#69007f"/>
<rect x="140" y="50" width="1" height="17" fill="#1e0065"/>
<rect x="141" y="50" width="1" height="17" fill="#69007f"/>
<rect x="142" y="50" width="1" height="17" fill="#1e0065"/>
<rect x="143" y="50" width="1" height="17" fill="#69007f"/>
<rect x="144" y="50" width="1" height="17" fill="#1e0065"/>
<rect x="145" y="50" width="1" height="17" fill="#69007f"/>
<rect x="146" y="50" width="1" height="17" fill="#1e0065"/>
<rect x="147" y="50" width="1" height="17" fill="#3f0076"/>
<rect x="148" y="50" width="1" height="17" fill="#1e0065"/>
<rect x="149" y="50" width="1" height="17" fill="#70007f"/>
<rect x="150" y="50" width="1" height="17" fill="#61007f"/>
<rect x="151" y="50" width="1" height="17" fill="#70007f"/>
<rect x="152" y="50" width="1" height="17" fill="#61007f"/>
<rect x="153" y="50" width="1" height="17" fill="#70007f"/>
<rect x="154" y="50" width="1" height="17" fill="#61007f"/>
<rect x="155" y="50" width="1" height="17" fill="#70007f"/>
<rect x="156" y="50" width="1" height="17" fill="#61007f"/>
<rect x="157" y="50" width="1" height="17" fill="#70007f"/>
<rect x="158" y="50" width="1" height="17" fill="#61007f"/>
<rect x="159" y="50" width="1" height="17" fill="#70007f"/>
<rect x="160" y="50" width="1" height="17" fill="#61007f"/>
<rect x="161" y="50" width="1" height="17" fill="#70007f"/>
<rect x="162" y="50" width="1" height="17" fill="#61007f"/>
<rect x="163" y="50" width="1" height="17" fill="#70007f"/>
<rect x="164" y="50" width="1" height="17" fill="#61007f"/>
<rect x="165" y="50" width="3" height="17" fill="#00002c"/>
<rect x="168" y="50" width="1" height="17" fill="#a6006e"/>
<rect x="169" y="50" width="2" height="17" fill="#00002c"/>
<rect x="171" y="50" width="4" height="17" fill="#78007f"/>
<rect x="175" y="50" width="1" height="17" fill="#5e007e"/>
<rect x="179" y="50" width="1" height="17" fill="#ae0068"/>
<rect x="180" y="50" width="2" height="17" fill="#6e0080"/>
<rect x="182" y="50" width="1" height="17" fill="#5e007e"/>
<rect x="183" y="50" width="1" height="17" fill="#6e0080"/>
<rect x="184" y="50" width="3" height="17" fill="#7d007e"/>
<rect x="187" y="50" width="4" height="17" fill="#5e007e"/>
<rect x="191" y="50" width="1" height="17" fill="#6e0080"/>
<rect x="192" y="50" width="1" height="17" fill="#5e007e"/>
<rect x="193" y="50" width="1" height="17" fill="#6e0080"/>
<rect x="194" y="50" width="1" height="17" fill="#7d007e"/>
<rect x="195" y="50" width="2" height="17" fill="#5e007e"/>
<rect x="197" y="50" width="1" height="17" fill="#6e0080"/>
<rect x="198" y="50" width="1" height="17" fill="#5e007e"/>
<rect x="199" y="50" width="1" height="17" fill="#7d007e"/>
<rect x="200" y="50" width="1" height="17" fill="#5e007e"/>
<rect x="201" y="50" width="4" height="17" fill="#7d007e"/>
<rect x="205" y="50" width="1" height="17" fill="#6e0080"/>
<rect x="206" y="50" width="1" height="17" fill="#5e007e"/>
<rect x="207" y="50" width="1" height="17" fill="#6e0080"/>
<rect x="208" y="50" width="1" height="17" fill="#5e007e"/>
<rect x="209" y="50" width="1" height="17" fill="#b60062"/>
<rect x="210" y="50" width="1" height="17" fill="#6e0080"/>
<rect x="211" y="50" width="1" height="17" fill="#5e007e"/>
<rect x="212" y="50" width="1" height="17" fill="#6e0080"/>
<rect x="213" y="50" width="1" height="17" fill="#7d007e"/>
<rect x="214" y="50" width="2" height="17" fill="#5e007e"/>
<rect x="216" y="50" width="1" height="17" fill="#7d007e"/>
<rect x="217" y="50" width="4" height="17" fill="#5e007e"/>
<rect x="221" y="50" width="1" height="17" fill="#6e0080"/>
<rect x="222" y="50" width="1" height="17" fill="#7d007e"/>
<rect x="223" y="50" width="1" height="17" fill="#5e007e"/>
<rect x="224" y="50" width="1" height="17" fill="#7d007e"/>
<rect x="225" y="50" width="3" height="17" fill="#6e0080"/>
<rect x="228" y="50" width="2" height="17" fill="#7d007e"/>
<rect x="230" y="50" width="2" height="17" fill="#6e0080"/>
<rect x="232" y="50" width="3" height="17" fill="#5e007e"/>
<rect x="235" y="50" width="1" height="17" fill="#6e0080"/>
<rect x="236" y="50" width="2" height="17" fill="#5e007e"/>
<rect x="238" y="50" width="1" height="17" fill="#7d007e"/>
<rect x="239" y="50" width="1" height="17" fill="#b60062"/>
<rect x="240" y="50" width="2" height="17" fill="#7d007e"/>
<rect x="242" y="50" width="1" height="17" fill="#6e0080"/>
<rect x="243" y="50" width="4" height="17" fill="#5e007e"/>
<rect x="247" y="50" width="1" height="17" fill="#6e0080"/>
<rect x="248" y="50" width="2" height="17" fill="#5e007e"/>
<rect x="250" y="50" width="3" height="17" fill="#6e0080"/>
<rect x="253" y="50" width="4" height="17" fill="#5e007e"/>
<rect x="257" y="50" width="1" height="17" fill="#6e0080"/>
<rect x="258" y="50" width="1" height="17" fill="#7d007e"/>
<rect x="259" y="50" width="1" height="17" fill="#6e0080"/>
<rect x="260" y="50" width="1" height="17" fill="#7d007e"/>
<rect x="261" y="50" width="2" height="17" fill="#6e0080"/>
<rect x="263" y="50" width="1" height="17" fill="#5e007e"/>
<rect x="264" y="50" width="2" height="17" fill="#7d007e"/>
<rect x="266" y="50" width="1" height="17" fill="#6e0080"/>
<rect x="267" y="50" width="1" height="17" fill="#7d007e"/>
<rect x="268" y="50" width="2" height="17" fill="#6e0080"/>
<rect x="270" y="50" width="1" height="17" fill="#b60062"/>
<rect x="271" y="50" width="1" height="17" fill="#5e007e"/>
<rect x="272" y="50" width="1" height="17" fill="#7d007e"/>
<rect x="273" y="50" width="1" height="17" fill="#5e007e"/>
<rect x="274" y="50" width="1" height="17" fill="#6e0080"/>
<rect x="275" y="50" width="1" height="17" fill="#5e007e"/>
<rect x="276" y="50" width="1" height="17" fill="#7d007e"/>
<rect x="277" y="50" width="1" height="17" fill="#6e0080"/>
<rect x="278" y="50" width="1" height="17" fill="#a6006e"/>
<rect x="279" y="50" width="1" height="17" fill="#6e0080"/>
<rect x="280" y="50" width="2" height="17" fill="#7d007e"/>
<rect x="282" y="50" width="1" height="17" fill="#6e0080"/>
<rect x="283" y="50" width="1" height="17" fill="#5e007e"/>
<rect x="284" y="50" width="2" height="17" fill="#6e0080"/>
<rect x="286" y="50" width="1" height="17" fill="#a6006e"/>
<rect x="287" y="50" width="1" height="17" fill="#5e007e"/>
<rect x="288" y="50" width="1" height="17" fill="#6e0080"/>
<rect x="289" y="50" width="1" height="17" fill="#5e007e"/>
<rect x="290" y="50" width="1" height="17" fill="#a6006e"/>
<rect x="291" y="50" width="1" height="17" fill="#6e0080"/>
<rect x="292" y="50" width="1" height="17" fill="#5e007e"/>
<rect x="293" y="50" width="4" height="17" fill="#78007f"/>
<rect x="297" y="50" width="1" height="17" fill="#7d007e"/>
<rect x="300" y="50" width="1" height="17" fill="#ae0068"/>
<rect x="301" y="50" width="1" height="17" fill="#86007c"/>
<rect x="302" y="50" width="2" height="17" fill="#78007f"/>
<rect x="304" y="50" width="1" height="17" fill="#86007c"/>
<rect x="305" y="50" width="1" height="17" fill="#69007f"/>
<rect x="306" y="50" width="3" height="17" fill="#86007c"/>
<rect x="309" y="50" width="1" height="17" fill="#69007f"/>
<rect x="310" y="50" width="1" height="17" fill="#86007c"/>
<rect x="311" y="50" width="1" height="17" fill="#69007f"/>
<rect x="312" y="50" width="3" height="17" fill="#86007c"/>
<rect x="315" y="50" width="3" height="17" fill="#69007f"/>
<rect x="318" y="50" width="1" height="17" fill="#78007f"/>
<rect x="319" y="50" width="2" height="17" fill="#86007c"/>
<rect x="321" y="50" width="2" height="17" fill="#78007f"/>
<rect x="323" y="50" width="4" height="17" fill="#86007c"/>
<rect x="327" y="50" width="3" height="17" fill="#69007f"/>
<rect x="330" y="50" width="1" height="17" fill="#b60062"/>
<rect x="331" y="50" width="1" height="17" fill="#78007f"/>
<rect x="332" y="50" width="1" height="17" fill="#69007f"/>
<rect x="333" y="50" width="1" height="17" fill="#86007c"/>
<rect x="334" y="50" width="1" height="17" fill="#69007f"/>
<rect x="335" y="50" width="2" height="17" fill="#86007c"/>
<rect x="337" y="50" width="1" height="17" fill="#78007f"/>
<rect x="338" y="50" width="2" height="17" fill="#86007c"/>
<rect x="340" y="50" width="2" height="17" fill="#78007f"/>
<rect x="342" y="50" width="1" height="17" fill="#69007f"/>
<rect x="343" y="50" width="2" height="17" fill="#86007c"/>
<rect x="345" y="50" width="1" height="17" fill="#78007f"/>
<rect x="346" y="50" width="1" height="17" fill="#69007f"/>
<rect x="347" y="50" width="1" height="17" fill="#86007c"/>
<rect x="348" y="50" width="3" height="17" fill="#69007f"/>
<rect x="351" y="50" width="2" height="17" fill="#78007f"/>
<rect x="353" y="50" width="2" height="17" fill="#69007f"/>
<rect x="355" y="50" width="1" height="17" fill="#86007c"/>
<rect x="356" y="50" width="1" height="17" fill="#78007f"/>
<rect x="357" y="50" width="1" height="17" fill="#86007c"/>
<rect x="358" y="50" width="2" height="17" fill="#69007f"/>
<rect x="360" y="50" width="1" height="17" fill="#78007f"/>
<rect x="361" y="50" width="1" height="17" fill="#b60062"/>
<rect x="362" y="50" width="2" height="17" fill="#78007f"/>
<rect x="364" y="50" width="1" height="17" fill="#69007f"/>
<rect x="365" y="50" width="3" height="17" fill="#78007f"/>
<rect x="368" y="50" width="2" height="17" fill="#69007f"/>
<rect x="370" y="50" width="1" height="17" fill="#86007c"/>
<rect x="371" y="50" width="2" height="17" fill="#78007f"/>
<rect x="373" y="50" width="1" height="17" fill="#86007c"/>
<rect x="374" y="50" width="1" height="17" fill="#78007f"/>
<rect x="375" y="50" width="2" height="17" fill="#69007f"/>
<rect x="377" y="50" width="1" height="17" fill="#78007f"/>
<rect x="378" y="50" width="1" height="17" fill="#69007f"/>
<rect x="379" y="50" width="4" height="17" fill="#78007f"/>
<rect x="383" y="50" width="6" height="17" fill="#86007c"/>
<rect x="389" y="50" width="1" height="17" fill="#78007f"/>
<rect x="390" y="50" width="1" height="17" fill="#86007c"/>
<rect x="391" y="50" width="1" height="17" fill="#b60062"/>
<rect x="392" y="50" width="1" height="17" fill="#78007f"/>
<rect x="393" y="50" width="3" height="17" fill="#86007c"/>
<rect x="396" y="50" width="2" height="17" fill="#78007f"/>
<rect x="398" y="50" width="1" height="17" fill="#86007c"/>
<rect x="399" y="50" width="1" height="17" fill="#a6006e"/>
<rect x="400" y="50" width="3" height="17" fill="#78007f"/>
<rect x="403" y="50" width="1" height="17" fill="#86007c"/>
<rect x="404" y="50" width="1" height="17" fill="#69007f"/>
<rect x="405" y="50" width="1" height="17" fill="#86007c"/>
<rect x="406" y="50" width="1" height="17" fill="#a6006e"/>
<rect x="407" y="50" width="1" height="17" fill="#86007c"/>
<rect x="408" y="50" width="1" height="17" fill="#69007f"/>
<rect x="409" y="50" width="1" height="17" fill="#78007f"/>
<rect x="410" y="50" width="1" height="17" fill="#86007c"/>
<rect x="411" y="50" width="1" height="17" fill="#a6006e"/>
<rect x="412" y="50" width="1" height="17" fill="#69007f"/>
<rect x="413" y="50" width="1" height="17" fill="#86007c"/>
<rect x="414" y="50" width="5" height="17" fill="#81007e"/>
<rect x="419" y="50" width="1" height="17" fill="#78007f"/>
<rect x="420" y="50" width="1" height="17" fill="#69007f"/>
<rect x="421" y="50" width="1" height="17" fill="#78007f"/>
<rect x="452" y="50" width="1" height="12" fill="#180062"/>
<rect x="452" y="62" width="1" height="5" fill="#4f007b"/>
<rect x="482" y="50" width="1" height="12" fill="#020052"/>
<rect x="482" y="62" width="1" height="5" fill="#440078"/>
<rect x="513" y="50" width="1" height="13" fill="#180062"/>
<rect x="513" y="63" width="1" height="4" fill="#59007e"/>
<rect x="527" y="50" width="1" height="17" fill="#440078"/>
<rect x="531" y="50" width="1" height="17" fill="#440078"/>
<rect x="534" y="50" width="1" height="17" fill="#440078"/>
<rect x="536" y="50" width="1" height="17" fill="#440078"/>
<rect x="538" y="50" width="1" height="17" fill="#440078"/>
<rect x="543" y="50" width="1" height="17" fill="#7d007e"/>
<rect x="544" y="50" width="1" height="17" fill="#990076"/>
<rect x="545" y="50" width="5" height="17" fill="#7d007e"/>
<rect x="550" y="50" width="1" height="17" fill="#8b007b"/>
<rect x="551" y="50" width="1" height="17" fill="#7d007e"/>
<rect x="552" y="50" width="2" height="17" fill="#8b007b"/>
<rect x="554" y="50" width="1" height="17" fill="#7d007e"/>
<rect x="555" y="50" width="1" height="17" fill="#990076"/>
<rect x="556" y="50" width="2" height="17" fill="#7d007e"/>
<rect x="558" y="50" width="1" height="17" fill="#8b007b"/>
<rect x="559" y="50" width="1" height="17" fill="#990076"/>
<rect x="560" y="50" width="1" height="17" fill="#7d007e"/>
<rect x="561" y="50" width="1" height="17" fill="#990076"/>
<rect x="562" y="50" width="1" height="17" fill="#7d007e"/>
<rect x="563" y="50" width="1" height="17" fill="#8b007b"/>
<rect x="564" y="50" width="2" height="17" fill="#7d007e"/>
<rect x="566" y="50" width="1" height="17" fill="#990076"/>
<rect x="567" y="50" width="1" height="17" fill="#7d007e"/>
<rect x="568" y="50" width="1" height="17" fill="#8b007b"/>
<rect x="569" y="50" width="2" height="17" fill="#7d007e"/>
<rect x="571" y="50" width="1" height="17" fill="#8b007b"/>
<rect x="572" y="50" width="1" height="17" fill="#7d007e"/>
<rect x="573" y="50" width="1" height="17" fill="#b60062"/>
<rect x="574" y="50" width="2" height="17" fill="#7d007e"/>
<rect x="576" y="50" width="2" height="17" fill="#8b007b"/>
<rect x="578" y="50" width="1" height="17" fill="#990076"/>
<rect x="579" y="50" width="1" height="17" fill="#7d007e"/>
<rect x="580" y="50" width="1" height="17" fill="#990076"/>
<rect x="581" y="50" width="3" height="17" fill="#8b007b"/>
<rect x="584" y="50" width="1" height="17" fill="#7d007e"/>
<rect x="585" y="50" width="2" height="17" fill="#8b007b"/>
<rect x="587" y="50" width="1" height="17" fill="#7d007e"/>
<rect x="588" y="50" width="1" height="17" fill="#8b007b"/>
<rect x="589" y="50" width="2" height="17" fill="#7d007e"/>
<rect x="591" y="50" width="1" height="17" fill="#990076"/>
<rect x="592" y="50" width="1" height="17" fill="#8b007b"/>
<rect x="593" y="50" width="2" height="17" fill="#990076"/>
<rect x="595" y="50" width="3" height="17" fill="#7d007e"/>
<rect x="598" y="50" width="1" height="17" fill="#8b007b"/>
<rect x="599" y="50" width="1" height="17" fill="#7d007e"/>
<rect x="600" y="50" width="3" height="17" fill="#2e006e"/>
<rect x="603" y="50" width="1" height="17" fill="#b60062"/>
<rect x="604" y="50" width="1" height="17" fill="#990076"/>
<rect x="605" y="50" width="2" height="17" fill="#7d007e"/>
<rect x="607" y="50" width="1" height="17" fill="#990076"/>
<rect x="608" y="50" width="1" height="17" fill="#8b007b"/>
<rect x="609" y="50" width="1" height="17" fill="#7d007e"/>
<rect x="610" y="50" width="1" height="17" fill="#990076"/>
<rect x="611" y="50" width="1" height="17" fill="#8b007b"/>
<rect x="612" y="50" width="2" height="17" fill="#7d007e"/>
<rect x="614" y="50" width="2" height="17" fill="#990076"/>
<rect x="616" y="50" width="1" height="17" fill="#8b007b"/>
<rect x="617" y="50" width="4" height="17" fill="#990076"/>
<rect x="621" y="50" width="2" height="17" fill="#8b007b"/>
<rect x="623" y="50" width="1" height="17" fill="#7d007e"/>
<rect x="624" y="50" width="1" height="17" fill="#990076"/>
<rect x="625" y="50" width="1" height="17" fill="#8b007b"/>
<rect x="626" y="50" width="1" height="17" fill="#990076"/>
<rect x="627" y="50" width="2" height="17" fill="#8b007b"/>
<rect x="629" y="50" width="1" height="17" fill="#7d007e"/>
<rect x="630" y="50" width="2" height="17" fill="#8b007b"/>
<rect x="632" y="50" width="1" height="17" fill="#990076"/>
<rect x="633" y="50" width="1" height="17" fill="#b60062"/>
<rect x="634" y="50" width="2" height="17" fill="#990076"/>
<rect x="636" y="50" width="1" height="17" fill="#7d007e"/>
<rect x="637" y="50" width="1" height="17" fill="#8b007b"/>
<rect x="638" y="50" width="2" height="17" fill="#7d007e"/>
<rect x="640" y="50" width="1" height="17" fill="#990076"/>
<rect x="641" y="50" width="1" height="17" fill="#7d007e"/>
<rect x="642" y="50" width="1" height="17" fill="#8b007b"/>
<rect x="643" y="50" width="1" height="17" fill="#7d007e"/>
<rect x="644" y="50" width="1" height="17" fill="#990076"/>
<rect x="645" y="50" width="1" height="17" fill="#7d007e"/>
<rect x="646" y="50" width="1" height="17" fill="#990076"/>
<rect x="647" y="50" width="1" height="17" fill="#7d007e"/>
<rect x="648" y="50" width="1" height="17" fill="#990076"/>
<rect x="649" y="50" width="1" height="17" fill="#8b007b"/>
<rect x="650" y="50" width="1" height="17" fill="#990076"/>
<rect x="651" y="50" width="2" height="17" fill="#8b007b"/>
<rect x="653" y="50" width="2" height="17" fill="#7d007e"/>
<rect x="655" y="50" width="2" height="17" fill="#8b007b"/>
<rect x="657" y="50" width="7" height="17" fill="#390074"/>
<rect x="664" y="50" width="1" height="17" fill="#b60062"/>
<rect x="665" y="50" width="4" height="17" fill="#8b007b"/>
<rect x="669" y="50" width="3" height="17" fill="#7d007e"/>
<rect x="672" y="50" width="3" height="17" fill="#990076"/>
<rect x="675" y="50" width="1" height="17" fill="#8b007b"/>
<rect x="676" y="50" width="1" height="17" fill="#990076"/>
<rect x="677" y="50" width="1" height="17" fill="#7d007e"/>
<rect x="678" y="50" width="2" height="17" fill="#990076"/>
<rect x="680" y="50" width="4" height="17" fill="#7d007e"/>
<rect x="684" y="50" width="3" height="17" fill="#8b007b"/>
<rect x="687" y="50" width="1" height="17" fill="#990076"/>
<rect x="688" y="50" width="2" height="17" fill="#8b007b"/>
<rect x="690" y="50" width="2" height="17" fill="#7d007e"/>
<rect x="692" y="50" width="1" height="17" fill="#8b007b"/>
<rect x="693" y="50" width="1" height="17" fill="#990076"/>
<rect x="694" y="50" width="1" height="17" fill="#b60062"/>
<rect x="695" y="50" width="1" height="17" fill="#8b007b"/>
<rect x="696" y="50" width="1" height="17" fill="#7d007e"/>
<rect x="697" y="50" width="2" height="17" fill="#990076"/>
<rect x="699" y="50" width="1" height="17" fill="#8b007b"/>
<rect x="700" y="50" width="1" height="17" fill="#990076"/>
<rect x="701" y="50" width="2" height="17" fill="#7d007e"/>
<rect x="703" y="50" width="1" height="17" fill="#990076"/>
<rect x="704" y="50" width="3" height="17" fill="#7d007e"/>
<rect x="707" y="50" width="1" height="17" fill="#990076"/>
<rect x="708" y="50" width="2" height="17" fill="#7d007e"/>
<rect x="710" y="50" width="3" height="17" fill="#990076"/>
<rect x="713" y="50" width="1" height="17" fill="#8b007b"/>
<rect x="714" y="50" width="3" height="17" fill="#990076"/>
<rect x="717" y="50" width="1" height="17" fill="#8b007b"/>
<rect x="718" y="50" width="1" height="17" fill="#990076"/>
<rect x="719" y="50" width="1" height="17" fill="#7d007e"/>
<rect x="720" y="50" width="1" height="17" fill="#8b007b"/>
<rect x="721" y="50" width="1" height="17" fill="#7d007e"/>
<rect x="722" y="50" width="1" height="17" fill="#390074"/>
<rect x="723" y="50" width="1" height="17" fill="#8b007b"/>
<rect x="724" y="50" width="1" height="17" fill="#b60062"/>
<rect x="725" y="50" width="2" height="17" fill="#8b007b"/>
<rect x="727" y="50" width="2" height="17" fill="#990076"/>
<rect x="729" y="50" width="1" height="17" fill="#8b007b"/>
<rect x="730" y="50" width="1" height="17" fill="#7d007e"/>
<rect x="731" y="50" width="1" height="17" fill="#990076"/>
<rect x="732" y="50" width="1" height="17" fill="#8b007b"/>
<rect x="733" y="50" width="1" height="17" fill="#990076"/>
<rect x="734" y="50" width="1" height="17" fill="#7d007e"/>
<rect x="735" y="50" width="2" height="17" fill="#8b007b"/>
<rect x="737" y="50" width="1" height="17" fill="#7d007e"/>
<rect x="738" y="50" width="4" height="17" fill="#990076"/>
<rect x="742" y="50" width="1" height="17" fill="#7d007e"/>
<rect x="743" y="50" width="1" height="17" fill="#990076"/>
<rect x="744" y="50" width="2" height="17" fill="#8b007b"/>
<rect x="746" y="50" width="3" height="17" fill="#7d007e"/>
<rect x="749" y="50" width="1" height="17" fill="#990076"/>
<rect x="750" y="50" width="1" height="17" fill="#8b007b"/>
<rect x="751" y="50" width="1" height="17" fill="#990076"/>
<rect x="752" y="50" width="1" height="17" fill="#7d007e"/>
<rect x="753" y="50" width="2" height="17" fill="#990076"/>
<rect x="755" y="50" width="1" height="17" fill="#b60062"/>
<rect x="756" y="50" width="1" height="17" fill="#990076"/>
<rect x="757" y="50" width="1" height="17" fill="#7d007e"/>
<rect x="758" y="50" width="1" height="17" fill="#990076"/>
<rect x="759" y="50" width="1" height="17" fill="#7d007e"/>
<rect x="760" y="50" width="1" height="17" fill="#990076"/>
<rect x="761" y="50" width="1" height="17" fill="#7d007e"/>
<rect x="762" y="50" width="1" height="17" fill="#a6006e"/>
<rect x="763" y="50" width="1" height="17" fill="#7d007e"/>
<rect x="764" y="50" width="2" height="17" fill="#990076"/>
<rect x="766" y="50" width="1" height="17" fill="#8b007b"/>
<rect x="767" y="50" width="1" height="17" fill="#7d007e"/>
<rect x="768" y="50" width="1" height="17" fill="#990076"/>
<rect x="769" y="50" width="1" height="17" fill="#8b007b"/>
<rect x="770" y="50" width="1" height="17" fill="#a6006e"/>
<rect x="771" y="50" width="1" height="17" fill="#8b007b"/>
<rect x="772" y="50" width="1" height="17" fill="#7d007e"/>
<rect x="773" y="50" width="1" height="17" fill="#8b007b"/>
<rect x="774" y="50" width="1" height="17" fill="#a6006e"/>
<rect x="775" y="50" width="1" height="17" fill="#8b007b"/>
<rect x="776" y="50" width="1" height="17" fill="#7d007e"/>
<rect x="777" y="50" width="4" height="17" fill="#78007f"/>
<rect x="781" y="50" width="1" height="17" fill="#7d007e"/>
<rect x="785" y="50" width="1" height="17" fill="#ae0068"/>
<rect x="786" y="50" width="1" height="17" fill="#81007e"/>
<rect x="787" y="50" width="1" height="17" fill="#90007a"/>
<rect x="788" y="50" width="1" height="17" fill="#73007f"/>
<rect x="789" y="50" width="2" height="17" fill="#90007a"/>
<rect x="791" y="50" width="5" height="17" fill="#73007f"/>
<rect x="796" y="50" width="1" height="17" fill="#90007a"/>
<rect x="797" y="50" width="1" height="17" fill="#73007f"/>
<rect x="798" y="50" width="2" height="17" fill="#81007e"/>
<rect x="800" y="50" width="2" height="17" fill="#90007a"/>
<rect x="802" y="50" width="1" height="17" fill="#73007f"/>
<rect x="803" y="50" width="1" height="17" fill="#81007e"/>
<rect x="804" y="50" width="2" height="17" fill="#90007a"/>
<rect x="806" y="50" width="1" height="17" fill="#81007e"/>
<rect x="807" y="50" width="2" height="17" fill="#90007a"/>
<rect x="809" y="50" width="1" height="17" fill="#81007e"/>
<rect x="810" y="50" width="1" height="17" fill="#90007a"/>
<rect x="811" y="50" width="1" height="17" fill="#81007e"/>
<rect x="812" y="50" width="1" height="17" fill="#90007a"/>
<rect x="813" y="50" width="2" height="17" fill="#81007e"/>
<rect x="815" y="50" width="1" height="17" fill="#b60062"/>
<rect x="816" y="50" width="1" height="17" fill="#90007a"/>
<rect x="817" y="50" width="1" height="17" fill="#73007f"/>
<rect x="818" y="50" width="1" height="17" fill="#81007e"/>
<rect x="819" y="50" width="2" height="17" fill="#90007a"/>
<rect x="821" y="50" width="1" height="17" fill="#73007f"/>
<rect x="822" y="50" width="2" height="17" fill="#90007a"/>
<rect x="824" y="50" width="2" height="17" fill="#73007f"/>
<rect x="826" y="50" width="1" height="17" fill="#90007a"/>
<rect x="827" y="50" width="3" height="17" fill="#73007f"/>
<rect x="830" y="50" width="2" height="17" fill="#81007e"/>
<rect x="832" y="50" width="2" height="17" fill="#73007f"/>
<rect x="834" y="50" width="1" height="17" fill="#81007e"/>
<rect x="835" y="50" width="1" height="17" fill="#73007f"/>
<rect x="836" y="50" width="1" height="17" fill="#81007e"/>
<rect x="837" y="50" width="1" height="17" fill="#90007a"/>
<rect x="838" y="50" width="1" height="17" fill="#81007e"/>
<rect x="839" y="50" width="1" height="17" fill="#73007f"/>
<rect x="840" y="50" width="2" height="17" fill="#90007a"/>
<rect x="842" y="50" width="1" height="17" fill="#81007e"/>
<rect x="843" y="50" width="1" height="17" fill="#90007a"/>
<rect x="844" y="50" width="1" height="17" fill="#81007e"/>
<rect x="845" y="50" width="1" height="17" fill="#b60062"/>
<rect x="846" y="50" width="1" height="17" fill="#90007a"/>
<rect x="847" y="50" width="1" height="17" fill="#73007f"/>
<rect x="848" y="50" width="1" height="17" fill="#90007a"/>
<rect x="849" y="50" width="1" height="17" fill="#81007e"/>
<rect x="850" y="50" width="1" height="17" fill="#90007a"/>
<rect x="851" y="50" width="2" height="17" fill="#81007e"/>
<rect x="853" y="50" width="1" height="17" fill="#90007a"/>
<rect x="854" y="50" width="1" height="17" fill="#81007e"/>
<rect x="855" y="50" width="1" height="17" fill="#73007f"/>
<rect x="856" y="50" width="1" height="17" fill="#81007e"/>
<rect x="857" y="50" width="1" height="17" fill="#90007a"/>
<rect x="858" y="50" width="1" height="17" fill="#73007f"/>
<rect x="859" y="50" width="2" height="17" fill="#81007e"/>
<rect x="861" y="50" width="1" height="17" fill="#73007f"/>
<rect x="862" y="50" width="2" height="17" fill="#90007a"/>
<rect x="864" y="50" width="2" height="17" fill="#73007f"/>
<rect x="866" y="50" width="1" height="17" fill="#81007e"/>
<rect x="867" y="50" width="1" height="17" fill="#90007a"/>
<rect x="868" y="50" width="1" height="17" fill="#73007f"/>
<rect x="869" y="50" width="3" height="17" fill="#81007e"/>
<rect x="872" y="50" width="2" height="17" fill="#90007a"/>
<rect x="874" y="50" width="1" height="17" fill="#73007f"/>
<rect x="875" y="50" width="1" height="17" fill="#90007a"/>
<rect x="876" y="50" width="1" height="17" fill="#b60062"/>
<rect x="877" y="50" width="1" height="17" fill="#81007e"/>
<rect x="878" y="50" width="1" height="17" fill="#73007f"/>
<rect x="879" y="50" width="1" height="17" fill="#81007e"/>
<rect x="880" y="50" width="1" height="17" fill="#90007a"/>
<rect x="881" y="50" width="2" height="17" fill="#81007e"/>
<rect x="883" y="50" width="1" height="17" fill="#90007a"/>
<rect x="884" y="50" width="1" height="17" fill="#81007e"/>
<rect x="885" y="50" width="1" height="17" fill="#73007f"/>
<rect x="886" y="50" width="1" height="17" fill="#a6006e"/>
<rect x="887" y="50" width="2" height="17" fill="#90007a"/>
<rect x="889" y="50" width="2" height="17" fill="#73007f"/>
<rect x="891" y="50" width="1" height="17" fill="#90007a"/>
<rect x="892" y="50" width="1" height="17" fill="#81007e"/>
<rect x="893" y="50" width="1" height="17" fill="#a6006e"/>
<rect x="894" y="50" width="1" height="17" fill="#90007a"/>
<rect x="895" y="50" width="1" height="17" fill="#81007e"/>
<rect x="896" y="50" width="1" height="17" fill="#73007f"/>
<rect x="897" y="50" width="1" height="17" fill="#81007e"/>
<rect x="898" y="50" width="1" height="17" fill="#a6006e"/>
<rect x="899" y="50" width="1" height="17" fill="#81007e"/>
<rect x="900" y="50" width="4" height="17" fill="#78007f"/>
<rect x="907" y="50" width="1" height="17" fill="#ae0068"/>
<rect x="908" y="50" width="1" height="17" fill="#69007f"/>
<rect x="909" y="50" width="1" height="17" fill="#1e0065"/>
<rect x="910" y="50" width="1" height="17" fill="#69007f"/>
<rect x="911" y="50" width="1" height="17" fill="#3f0076"/>
<rect x="912" y="50" width="1" height="17" fill="#69007f"/>
<rect x="913" y="50" width="1" height="17" fill="#3f0076"/>
<rect x="914" y="50" width="2" height="17" fill="#69007f"/>
<rect x="916" y="50" width="1" height="17" fill="#3f0076"/>
<rect x="917" y="50" width="1" height="17" fill="#69007f"/>
<rect x="918" y="50" width="1" height="17" fill="#1e0065"/>
<rect x="919" y="50" width="1" height="17" fill="#69007f"/>
<rect x="920" y="50" width="1" height="17" fill="#1e0065"/>
<rect x="921" y="50" width="1" height="17" fill="#69007f"/>
<rect x="922" y="50" width="1" height="17" fill="#1e0065"/>
<rect x="923" y="50" width="1" height="17" fill="#69007f"/>
<rect x="924" y="50" width="1" height="17" fill="#1e0065"/>
<rect x="925" y="50" width="1" height="17" fill="#69007f"/>
<rect x="926" y="50" width="1" height="17" fill="#1e0065"/>
<rect x="927" y="50" width="1" height="17" fill="#69007f"/>
<rect x="928" y="50" width="1" height="17" fill="#1e0065"/>
<rect x="929" y="50" width="1" height="17" fill="#69007f"/>
<rect x="930" y="50" width="1" height="17" fill="#3f0076"/>
<rect x="931" y="50" width="1" height="17" fill="#69007f"/>
<rect x="932" y="50" width="1" height="17" fill="#3f0076"/>
<rect x="933" y="50" width="2" height="17" fill="#69007f"/>
<rect x="935" y="50" width="1" height="17" fill="#3f0076"/>
<rect x="936" y="50" width="1" height="17" fill="#b60062"/>
<rect x="937" y="50" width="1" height="17" fill="#1e0065"/>
<rect x="938" y="50" width="1" height="17" fill="#69007f"/>
<rect x="939" y="50" width="1" height="17" fill="#1e0065"/>
<rect x="940" y="50" width="1" height="17" fill="#69007f"/>
<rect x="941" y="50" width="1" height="17" fill="#1e0065"/>
<rect x="942" y="50" width="1" height="17" fill="#69007f"/>
<rect x="943" y="50" width="1" height="17" fill="#1e0065"/>
<rect x="944" y="50" width="1" height="17" fill="#69007f"/>
<rect x="945" y="50" width="1" height="17" fill="#1e0065"/>
<rect x="946" y="50" width="1" height="17" fill="#69007f"/>
<rect x="947" y="50" width="1" height="17" fill="#1e0065"/>
<rect x="948" y="50" width="1" height="17" fill="#69007f"/>
<rect x="949" y="50" width="1" height="17" fill="#1e0065"/>
<rect x="950" y="50" width="1" height="17" fill="#69007f"/>
<rect x="951" y="50" width="1" height="17" fill="#3f0076"/>
<rect x="952" y="50" width="2" height="17" fill="#69007f"/>
<rect x="954" y="50" width="2" height="17" fill="#3f0076"/>
<rect x="956" y="50" width="1" height="17" fill="#1e0065"/>
<rect x="957" y="50" width="2" height="17" fill="#3f0076"/>
<rect x="959" y="50" width="1" height="17" fill="#69007f"/>
<rect x="960" y="50" width="1" height="17" fill="#1e0065"/>
<rect x="961" y="50" width="1" height="17" fill="#69007f"/>
<rect x="962" y="50" width="1" height="17" fill="#1e0065"/>
<rect x="963" y="50" width="1" height="17" fill="#69007f"/>
<rect x="964" y="50" width="1" height="17" fill="#1e0065"/>
<rect x="965" y="50" width="1" height="17" fill="#69007f"/>
<rect x="966" y="50" width="1" height="17" fill="#1e0065"/>
<rect x="967" y="50" width="1" height="17" fill="#b60062"/>
<rect x="968" y="50" width="1" height="17" fill="#1e0065"/>
<rect x="969" y="50" width="1" height="17" fill="#69007f"/>
<rect x="970" y="50" width="2" height="17" fill="#3f0076"/>
<rect x="972" y="50" width="1" height="17" fill="#69007f"/>
<rect x="973" y="50" width="1" height="17" fill="#1e0065"/>
<rect x="974" y="50" width="1" height="17" fill="#69007f"/>
<rect x="975" y="50" width="2" height="17" fill="#3f0076"/>
<rect x="977" y="50" width="1" height="17" fill="#1e0065"/>
<rect x="978" y="50" width="1" height="17" fill="#69007f"/>
<rect x="979" y="50" width="1" height="17" fill="#3f0076"/>
<rect x="980" y="50" width="1" height="17" fill="#69007f"/>
<rect x="981" y="50" width="1" height="17" fill="#1e0065"/>
<rect x="982" y="50" width="1" height="17" fill="#69007f"/>
<rect x="983" y="50" width="1" height="17" fill="#1e0065"/>
<rect x="984" y="50" width="1" height="17" fill="#69007f"/>
<rect x="985" y="50" width="1" height="17" fill="#3f0076"/>
<rect x="986" y="50" width="1" height="17" fill="#69007f"/>
<rect x="987" y="50" width="1" height="17" fill="#3f0076"/>
<rect x="988" y="50" width="1" height="17" fill="#69007f"/>
<rect x="989" y="50" width="3" height="17" fill="#3f0076"/>
<rect x="992" y="50" width="1" height="17" fill="#1e0065"/>
<rect x="993" y="50" width="1" height="17" fill="#69007f"/>
<rect x="994" y="50" width="1" height="17" fill="#1e0065"/>
<rect x="995" y="50" width="1" height="17" fill="#69007f"/>
<rect x="996" y="50" width="1" height="17" fill="#1e0065"/>
<rect x="997" y="50" width="1" height="17" fill="#b60062"/>
<rect x="998" y="50" width="1" height="17" fill="#3f0076"/>
<rect x="999" y="50" width="1" height="17" fill="#69007f"/>
<rect x="1000" y="50" width="1" height="17" fill="#1e0065"/>
<rect x="1001" y="50" width="1" height="17" fill="#69007f"/>
<rect x="1002" y="50" width="1" height="17" fill="#1e0065"/>
<rect x="1003" y="50" width="1" height="17" fill="#69007f"/>
<rect x="1004" y="50" width="1" height="17" fill="#1e0065"/>
<rect x="1005" y="50" width="1" height="17" fill="#69007f"/>
<rect x="1006" y="50" width="1" height="17" fill="#3f0076"/>
<rect x="1007" y="50" width="2" height="17" fill="#69007f"/>
<rect x="1009" y="50" width="1" height="17" fill="#3f0076"/>
<rect x="1010" y="50" width="1" height="17" fill="#69007f"/>
<rect x="1011" y="50" width="1" height="17" fill="#3f0076"/>
<rect x="1012" y="50" width="1" height="17" fill="#69007f"/>
<rect x="1013" y="50" width="1" height="17" fill="#1e0065"/>
<rect x="1014" y="50" width="1" height="17" fill="#6e0080"/>
<rect x="1015" y="50" width="2" height="17" fill="#020052"/>
<rect x="1017" y="50" width="1" height="17" fill="#6e0080"/>
<rect x="1018" y="50" width="2" height="17" fill="#020052"/>
<rect x="1020" y="50" width="1" height="17" fill="#6e0080"/>
<rect x="1021" y="50" width="1" height="17" fill="#1e0065"/>
<rect x="1022" y="50" width="1" height="17" fill="#69007f"/>
<rect x="1023" y="50" width="1" height="17" fill="#3f0076"/>
<rect x="1024" y="50" width="3" height="17" fill="#00000b"/>
<rect x="1028" y="50" width="2" height="17" fill="#64007f"/>
<g id="bd">
<rect y="67" height="240" x="58" width="1" fill="url(#g0)"/>
<rect y="67" height="240" x="59" width="1" fill="url(#g1)"/>
<rect y="67" height="240" x="60" width="1" fill="url(#g0)"/>
<rect y="67" height="240" x="61" width="1" fill="url(#g1)"/>
<rect y="67" height="240" x="62" width="2" fill="url(#g2)"/>
<rect y="67" height="240" x="64" width="1" fill="url(#g3)"/>
<rect y="67" height="240" x="65" width="1" fill="url(#g4)"/>
<rect y="67" height="240" x="66" width="1" fill="url(#g3)"/>
<rect y="67" height="240" x="67" width="1" fill="url(#g0)"/>
<rect y="67" height="240" x="68" width="1" fill="url(#g1)"/>
<rect y="67" height="240" x="69" width="1" fill="url(#g5)"/>
<rect y="67" height="240" x="70" width="1" fill="url(#g6)"/>
<rect y="67" height="240" x="71" width="1" fill="url(#g5)"/>
<rect y="67" height="240" x="72" width="1" fill="url(#g6)"/>
<rect y="67" height="240" x="73" width="1" fill="url(#g5)"/>
<rect y="67" height="240" x="74" width="1" fill="url(#g6)"/>
<rect y="67" height="240" x="75" width="1" fill="url(#g0)"/>
<rect y="67" height="240" x="76" width="1" fill="url(#g1)"/>
<rect y="67" height="240" x="77" width="1" fill="url(#g0)"/>
<rect y="67" height="240" x="78" width="1" fill="url(#g1)"/>
<rect y="67" height="240" x="79" width="1" fill="url(#g0)"/>
<rect y="67" height="240" x="80" width="1" fill="url(#g3)"/>
<rect y="67" height="240" x="81" width="3" fill="url(#g2)"/>
<rect y="67" height="240" x="84" width="1" fill="url(#g4)"/>
<rect y="67" height="240" x="85" width="1" fill="url(#g1)"/>
<rect y="67" height="240" x="86" width="1" fill="url(#g0)"/>
<rect y="67" height="240" x="87" width="1" fill="url(#g1)"/>
<rect y="67" height="240" x="88" width="1" fill="url(#g7)"/>
<rect y="67" height="240" x="89" width="1" fill="url(#g8)"/>
<rect y="67" height="240" x="90" width="1" fill="url(#g5)"/>
<rect y="67" height="240" x="91" width="1" fill="url(#g6)"/>
<rect y="67" height="240" x="92" width="1" fill="url(#g5)"/>
<rect y="67" height="240" x="93" width="1" fill="url(#g6)"/>
<rect y="67" height="240" x="94" width="1" fill="url(#g5)"/>
<rect y="67" height="240" x="95" width="1" fill="url(#g1)"/>
<rect y="67" height="240" x="96" width="1" fill="url(#g0)"/>
<rect y="67" height="240" x="97" width="1" fill="url(#g1)"/>
<rect y="67" height="240" x="98" width="1" fill="url(#g4)"/>
<rect y="67" height="240" x="99" width="1" fill="url(#g3)"/>
<rect y="67" height="240" x="100" width="2" fill="url(#g2)"/>
<rect y="67" height="240" x="102" width="1" fill="url(#g3)"/>
<rect y="67" height="240" x="103" width="1" fill="url(#g4)"/>
<rect y="67" height="240" x="104" width="1" fill="url(#g3)"/>
<rect y="67" height="240" x="105" width="1" fill="url(#g0)"/>
<rect y="67" height="240" x="106" width="1" fill="url(#g6)"/>
<rect y="67" height="240" x="107" width="1" fill="url(#g5)"/>
<rect y="67" height="240" x="108" width="1" fill="url(#g6)"/>
<rect y="67" height="240" x="109" width="1" fill="url(#g5)"/>
<rect y="67" height="240" x="110" width="1" fill="url(#g6)"/>
<rect y="67" height="240" x="111" width="1" fill="url(#g0)"/>
<rect y="67" height="240" x="112" width="1" fill="url(#g6)"/>
<rect y="67" height="240" x="113" width="1" fill="url(#g5)"/>
<rect y="67" height="240" x="114" width="1" fill="url(#g1)"/>
<rect y="67" height="240" x="115" width="1" fill="url(#g0)"/>
<rect y="67" height="240" x="116" width="1" fill="url(#g3)"/>
<rect y="67" height="240" x="117" width="1" fill="url(#g4)"/>
<rect y="67" height="240" x="118" width="1" fill="url(#g9)"/>
<rect y="67" height="240" x="119" width="1" fill="url(#g10)"/>
<rect y="67" height="240" x="120" width="1" fill="url(#g2)"/>
<rect y="67" height="240" x="121" width="1" fill="url(#g3)"/>
<rect y="67" height="240" x="122" width="1" fill="url(#g4)"/>
<rect y="67" height="240" x="123" width="1" fill="url(#g6)"/>
<rect y="67" height="240" x="124" width="1" fill="url(#g0)"/>
<rect y="67" height="240" x="125" width="1" fill="url(#g6)"/>
<rect y="67" height="240" x="126" width="1" fill="url(#g5)"/>
<rect y="67" height="240" x="127" width="1" fill="url(#g6)"/>
<rect y="67" height="240" x="128" width="1" fill="url(#g5)"/>
<rect y="67" height="240" x="129" width="1" fill="url(#g6)"/>
<rect y="67" height="240" x="130" width="1" fill="url(#g5)"/>
<rect y="67" height="240" x="131" width="1" fill="url(#g6)"/>
<rect y="67" height="240" x="132" width="1" fill="url(#g0)"/>
<rect y="67" height="240" x="133" width="1" fill="url(#g1)"/>
<rect y="67" height="240" x="134" width="1" fill="url(#g4)"/>
<rect y="67" height="240" x="135" width="1" fill="url(#g3)"/>
<rect y="67" height="240" x="136" width="1" fill="url(#g4)"/>
<rect y="67" height="240" x="137" width="2" fill="url(#g2)"/>
<rect y="67" height="240" x="139" width="1" fill="url(#g4)"/>
<rect y="67" height="240" x="140" width="1" fill="url(#g1)"/>
<rect y="67" height="240" x="141" width="1" fill="url(#g0)"/>
<rect y="67" height="240" x="142" width="1" fill="url(#g1)"/>
<rect y="67" height="240" x="143" width="1" fill="url(#g5)"/>
<rect y="67" height="240" x="144" width="1" fill="url(#g1)"/>
<rect y="67" height="240" x="145" width="1" fill="url(#g5)"/>
<rect y="67" height="240" x="146" width="1" fill="url(#g6)"/>
<rect y="67" height="240" x="147" width="1" fill="url(#g5)"/>
<rect y="67" height="240" x="148" width="1" fill="url(#g6)"/>
<rect y="67" height="240" x="149" width="1" fill="url(#g11)"/>
<rect y="67" height="240" x="150" width="1" fill="url(#g12)"/>
<rect y="67" height="240" x="151" width="1" fill="url(#g5)"/>
<rect y="67" height="240" x="152" width="1" fill="url(#g3)"/>
<rect y="67" height="240" x="153" width="1" fill="url(#g4)"/>
<rect y="67" height="240" x="154" width="1" fill="url(#g3)"/>
<rect y="67" height="240" x="155" width="1" fill="url(#g2)"/>
<rect y="67" height="240" x="156" width="1" fill="url(#g13)"/>
<rect y="67" height="240" x="157" width="1" fill="url(#g2)"/>
<rect y="67" height="240" x="158" width="1" fill="url(#g4)"/>
<rect y="67" height="240" x="159" width="1" fill="url(#g3)"/>
<rect y="67" height="240" x="160" width="1" fill="url(#g0)"/>
<rect y="67" height="240" x="161" width="1" fill="url(#g6)"/>
<rect y="67" height="240" x="162" width="1" fill="url(#g0)"/>
<rect y="67" height="240" x="163" width="1" fill="url(#g1)"/>
<rect y="67" height="240" x="164" width="1" fill="url(#g14)"/>
<rect y="67" height="240" x="165" width="1" fill="url(#g15)"/>
<rect y="67" height="240" x="166" width="1" fill="url(#g16)"/>
<rect y="67" height="240" x="167" width="1" fill="url(#g15)"/>
<rect y="67" height="240" x="168" width="1" fill="url(#g14)"/>
<rect y="67" height="240" x="169" width="1" fill="url(#g17)"/>
<rect y="67" height="240" x="170" width="1" fill="url(#g18)"/>
<rect y="67" height="240" x="171" width="1" fill="url(#g19)"/>
<rect y="67" height="240" x="172" width="1" fill="url(#g20)"/>
<rect y="67" height="240" x="173" width="1" fill="url(#g19)"/>
<rect y="67" height="240" x="174" width="1" fill="url(#g21)"/>
<rect y="67" height="240" x="175" width="1" fill="url(#g4)"/>
<rect y="67" height="240" x="176" width="1" fill="url(#g22)"/>
<rect y="67" height="240" x="177" width="2" fill="url(#g23)"/>
<rect y="67" height="240" x="179" width="1" fill="url(#g24)"/>
<rect y="67" height="240" x="180" width="1" fill="url(#g25)"/>
<rect y="67" height="240" x="181" width="1" fill="url(#g26)"/>
<rect y="67" height="240" x="182" width="1" fill="url(#g25)"/>
<rect y="67" height="240" x="183" width="1" fill="url(#g27)"/>
<rect y="67" height="240" x="184" width="1" fill="url(#g25)"/>
<rect y="67" height="240" x="185" width="1" fill="url(#g27)"/>
<rect y="67" height="240" x="186" width="1" fill="url(#g28)"/>
<rect y="67" height="240" x="187" width="1" fill="url(#g26)"/>
<rect y="67" height="240" x="188" width="1" fill="url(#g25)"/>
<rect y="67" height="240" x="189" width="1" fill="url(#g26)"/>
<rect y="67" height="240" x="190" width="1" fill="url(#g25)"/>
<rect y="67" height="240" x="191" width="3" fill="url(#g29)"/>
<rect y="67" height="240" x="194" width="1" fill="url(#g26)"/>
<rect y="67" height="240" x="195" width="1" fill="url(#g25)"/>
<rect y="67" height="240" x="196" width="1" fill="url(#g26)"/>
<rect y="67" height="240" x="197" width="1" fill="url(#g25)"/>
<rect y="67" height="240" x="198" width="1" fill="url(#g26)"/>
<rect y="67" height="240" x="199" width="1" fill="url(#g25)"/>
<rect y="67" height="240" x="200" width="1" fill="url(#g26)"/>
<rect y="67" height="240" x="201" width="1" fill="url(#g28)"/>
<rect y="67" height="240" x="202" width="1" fill="url(#g27)"/>
<rect y="67" height="240" x="203" width="1" fill="url(#g28)"/>
<rect y="67" height="240" x="204" width="1" fill="url(#g26)"/>
<rect y="67" height="240" x="205" width="1" fill="url(#g25)"/>
<rect y="67" height="240" x="206" width="1" fill="url(#g26)"/>
<rect y="67" height="240" x="207" width="1" fill="url(#g25)"/>
<rect y="67" height="240" x="208" width="1" fill="url(#g26)"/>
<rect y="67" height="240" x="209" width="1" fill="url(#g30)"/>
<rect y="67" height="240" x="210" width="1" fill="url(#g31)"/>
<rect y="67" height="240" x="211" width="3" fill="url(#g29)"/>
<rect y="67" height="240" x="214" width="1" fill="url(#g25)"/>
<rect y="67" height="240" x="215" width="1" fill="url(#g26)"/>
<rect y="67" height="240" x="216" width="1" fill="url(#g25)"/>
<rect y="67" height="240" x="217" width="1" fill="url(#g26)"/>
<rect y="67" height="240" x="218" width="1" fill="url(#g28)"/>
<rect y="67" height="240" x="219" width="1" fill="url(#g27)"/>
<rect y="67" height="240" x="220" width="1" fill="url(#g25)"/>
<rect y="67" height="240" x="221" width="1" fill="url(#g26)"/>
<rect y="67" height="240" x="222" width="1" fill="url(#g28)"/>
<rect y="67" height="240" x="223" width="1" fill="url(#g27)"/>
<rect y="67" height="240" x="224" width="1" fill="url(#g25)"/>
<rect y="67" height="240" x="225" width="1" fill="url(#g26)"/>
<rect y="67" height="240" x="226" width="1" fill="url(#g25)"/>
<rect y="67" height="240" x="227" width="1" fill="url(#g29)"/>
<rect y="67" height="240" x="228" width="1" fill="url(#g25)"/>
<rect y="67" height="240" x="229" width="3" fill="url(#g29)"/>
<rect y="67" height="240" x="232" width="1" fill="url(#g26)"/>
<rect y="67" height="240" x="233" width="1" fill="url(#g25)"/>
<rect y="67" height="240" x="234" width="1" fill="url(#g27)"/>
<rect y="67" height="240" x="235" width="1" fill="url(#g28)"/>
<rect y="67" height="240" x="236" width="1" fill="url(#g26)"/>
<rect y="67" height="240" x="237" width="1" fill="url(#g28)"/>
<rect y="67" height="240" x="238" width="1" fill="url(#g27)"/>
<rect y="67" height="240" x="239" width="1" fill="url(#g32)"/>
<rect y="67" height="240" x="240" width="1" fill="url(#g33)"/>
<rect y="67" height="240" x="241" width="1" fill="url(#g25)"/>
<rect y="67" height="240" x="242" width="1" fill="url(#g26)"/>
<rect y="67" height="240" x="243" width="1" fill="url(#g28)"/>
<rect y="67" height="240" x="244" width="1" fill="url(#g26)"/>
<rect y="67" height="240" x="245" width="1" fill="url(#g25)"/>
<rect y="67" height="240" x="246" width="5" fill="url(#g29)"/>
<rect y="67" height="240" x="251" width="1" fill="url(#g26)"/>
<rect y="67" height="240" x="252" width="1" fill="url(#g25)"/>
<rect y="67" height="240" x="253" width="1" fill="url(#g26)"/>
<rect y="67" height="240" x="254" width="1" fill="url(#g25)"/>
<rect y="67" height="240" x="255" width="1" fill="url(#g27)"/>
<rect y="67" height="240" x="256" width="1" fill="url(#g28)"/>
<rect y="67" height="240" x="257" width="1" fill="url(#g26)"/>
<rect y="67" height="240" x="258" width="1" fill="url(#g25)"/>
<rect y="67" height="240" x="259" width="1" fill="url(#g27)"/>
<rect y="67" height="240" x="260" width="1" fill="url(#g28)"/>
<rect y="67" height="240" x="261" width="1" fill="url(#g26)"/>
<rect y="67" height="240" x="262" width="1" fill="url(#g25)"/>
<rect y="67" height="240" x="263" width="1" fill="url(#g26)"/>
<rect y="67" height="240" x="264" width="1" fill="url(#g25)"/>
<rect y="67" height="240" x="265" width="1" fill="url(#g26)"/>
<rect y="67" height="240" x="266" width="3" fill="url(#g29)"/>
<rect y="67" height="240" x="269" width="1" fill="url(#g25)"/>
<rect y="67" height="240" x="270" width="1" fill="url(#g34)"/>
<rect y="67" height="240" x="271" width="1" fill="url(#g35)"/>
<rect y="67" height="240" x="272" width="1" fill="url(#g26)"/>
<rect y="67" height="240" x="273" width="1" fill="url(#g25)"/>
<rect y="67" height="240" x="274" width="1" fill="url(#g26)"/>
<rect y="67" height="240" x="275" width="1" fill="url(#g25)"/>
<rect y="67" height="240" x="276" width="1" fill="url(#g26)"/>
<rect y="67" height="240" x="277" width="1" fill="url(#g25)"/>
<rect y="67" height="240" x="278" width="1" fill="url(#g36)"/>
<rect y="67" height="240" x="279" width="1" fill="url(#g28)"/>
<rect y="67" height="240" x="280" width="1" fill="url(#g27)"/>
<rect y="67" height="240" x="281" width="1" fill="url(#g25)"/>
<rect y="67" height="240" x="282" width="1" fill="url(#g26)"/>
<rect y="67" height="240" x="283" width="1" fill="url(#g25)"/>
<rect y="67" height="240" x="284" width="1" fill="url(#g29)"/>
<rect y="67" height="240" x="285" width="1" fill="url(#g25)"/>
<rect y="67" height="240" x="286" width="1" fill="url(#g37)"/>
<rect y="67" height="240" x="287" width="2" fill="url(#g29)"/>
<rect y="67" height="240" x="289" width="1" fill="url(#g26)"/>
<rect y="67" height="240" x="290" width="1" fill="url(#g38)"/>
<rect y="67" height="240" x="291" width="1" fill="url(#g26)"/>
<rect y="67" height="240" x="292" width="1" fill="url(#g25)"/>
<rect y="67" height="240" x="293" width="1" fill="url(#g24)"/>
<rect y="67" height="240" x="294" width="1" fill="url(#g39)"/>
<rect y="67" height="240" x="295" width="1" fill="url(#g24)"/>
<rect y="67" height="240" x="296" width="1" fill="url(#g39)"/>
<rect y="67" height="240" x="297" width="1" fill="url(#g26)"/>
<rect y="67" height="240" x="298" width="1" fill="url(#g40)"/>
<rect y="67" height="240" x="299" width="1" fill="url(#g41)"/>
<rect y="67" height="240" x="300" width="1" fill="url(#g42)"/>
<rect y="67" height="240" x="301" width="1" fill="url(#g43)"/>
<rect y="67" height="240" x="302" width="6" fill="url(#g44)"/>
<rect y="67" height="240" x="308" width="1" fill="url(#g43)"/>
<rect y="67" height="240" x="309" width="1" fill="url(#g45)"/>
<rect y="67" height="240" x="310" width="1" fill="url(#g43)"/>
<rect y="67" height="240" x="311" width="1" fill="url(#g45)"/>
<rect y="67" height="240" x="312" width="1" fill="url(#g46)"/>
<rect y="67" height="240" x="313" width="1" fill="url(#g45)"/>
<rect y="67" height="240" x="314" width="1" fill="url(#g43)"/>
<rect y="67" height="240" x="315" width="1" fill="url(#g45)"/>
<rect y="67" height="240" x="316" width="1" fill="url(#g43)"/>
<rect y="67" height="240" x="317" width="1" fill="url(#g45)"/>
<rect y="67" height="240" x="318" width="1" fill="url(#g43)"/>
<rect y="67" height="240" x="319" width="1" fill="url(#g45)"/>
<rect y="67" height="240" x="320" width="6" fill="url(#g44)"/>
<rect y="67" height="240" x="326" width="1" fill="url(#g45)"/>
<rect y="67" height="240" x="327" width="1" fill="url(#g43)"/>
<rect y="67" height="240" x="328" width="1" fill="url(#g45)"/>
<rect y="67" height="240" x="329" width="1" fill="url(#g43)"/>
<rect y="67" height="240" x="330" width="1" fill="url(#g47)"/>
<rect y="67" height="240" x="331" width="1" fill="url(#g48)"/>
<rect y="67" height="240" x="332" width="1" fill="url(#g45)"/>
<rect y="67" height="240" x="333" width="1" fill="url(#g43)"/>
<rect y="67" height="240" x="334" width="1" fill="url(#g45)"/>
<rect y="67" height="240" x="335" width="1" fill="url(#g43)"/>
<rect y="67" height="240" x="336" width="1" fill="url(#g45)"/>
<rect y="67" height="240" x="337" width="3" fill="url(#g44)"/>
<rect y="67" height="240" x="340" width="1" fill="url(#g45)"/>
<rect y="67" height="240" x="341" width="1" fill="url(#g44)"/>
<rect y="67" height="240" x="342" width="1" fill="url(#g43)"/>
<rect y="67" height="240" x="343" width="1" fill="url(#g44)"/>
<rect y="67" height="240" x="344" width="1" fill="url(#g43)"/>
<rect y="67" height="240" x="345" width="1" fill="url(#g45)"/>
<rect y="67" height="240" x="346" width="1" fill="url(#g43)"/>
<rect y="67" height="240" x="347" width="1" fill="url(#g45)"/>
<rect y="67" height="240" x="348" width="1" fill="url(#g43)"/>
<rect y="67" height="240" x="349" width="1" fill="url(#g45)"/>
<rect y="67" height="240" x="350" width="1" fill="url(#g43)"/>
<rect y="67" height="240" x="351" width="1" fill="url(#g45)"/>
<rect y="67" height="240" x="352" width="1" fill="url(#g46)"/>
<rect y="67" height="240" x="353" width="1" fill="url(#g45)"/>
<rect y="67" height="240" x="354" width="1" fill="url(#g43)"/>
<rect y="67" height="240" x="355" width="1" fill="url(#g45)"/>
<rect y="67" height="240" x="356" width="1" fill="url(#g44)"/>
<rect y="67" height="240" x="357" width="1" fill="url(#g45)"/>
<rect y="67" height="240" x="358" width="3" fill="url(#g44)"/>
<rect y="67" height="240" x="361" width="1" fill="url(#g49)"/>
<rect y="67" height="240" x="362" width="1" fill="url(#g50)"/>
<rect y="67" height="240" x="363" width="1" fill="url(#g43)"/>
<rect y="67" height="240" x="364" width="1" fill="url(#g45)"/>
<rect y="67" height="240" x="365" width="1" fill="url(#g43)"/>
<rect y="67" height="240" x="366" width="1" fill="url(#g45)"/>
<rect y="67" height="240" x="367" width="1" fill="url(#g43)"/>
<rect y="67" height="240" x="368" width="1" fill="url(#g45)"/>
<rect y="67" height="240" x="369" width="1" fill="url(#g46)"/>
<rect y="67" height="240" x="370" width="1" fill="url(#g45)"/>
<rect y="67" height="240" x="371" width="1" fill="url(#g43)"/>
<rect y="67" height="240" x="372" width="1" fill="url(#g45)"/>
<rect y="67" height="240" x="373" width="1" fill="url(#g43)"/>
<rect y="67" height="240" x="374" width="1" fill="url(#g45)"/>
<rect y="67" height="240" x="375" width="1" fill="url(#g43)"/>
<rect y="67" height="240" x="376" width="1" fill="url(#g45)"/>
<rect y="67" height="240" x="377" width="1" fill="url(#g43)"/>
<rect y="67" height="240" x="378" width="3" fill="url(#g44)"/>
<rect y="67" height="240" x="381" width="1" fill="url(#g45)"/>
<rect y="67" height="240" x="382" width="1" fill="url(#g43)"/>
<rect y="67" height="240" x="383" width="1" fill="url(#g45)"/>
<rect y="67" height="240" x="384" width="1" fill="url(#g43)"/>
<rect y="67" height="240" x="385" width="1" fill="url(#g45)"/>
<rect y="67" height="240" x="386" width="1" fill="url(#g43)"/>
<rect y="67" height="240" x="387" width="1" fill="url(#g45)"/>
<rect y="67" height="240" x="388" width="1" fill="url(#g43)"/>
<rect y="67" height="240" x="389" width="1" fill="url(#g45)"/>
<rect y="67" height="240" x="390" width="1" fill="url(#g43)"/>
<rect y="67" height="240" x="391" width="1" fill="url(#g47)"/>
<rect y="67" height="240" x="392" width="1" fill="url(#g51)"/>
<rect y="67" height="240" x="393" width="1" fill="url(#g45)"/>
<rect y="67" height="240" x="394" width="1" fill="url(#g43)"/>
<rect y="67" height="240" x="395" width="1" fill="url(#g45)"/>
<rect y="67" height="240" x="396" width="2" fill="url(#g44)"/>
<rect y="67" height="240" x="398" width="1" fill="url(#g45)"/>
<rect y="67" height="240" x="399" width="1" fill="url(#g52)"/>
<rect y="67" height="240" x="400" width="1" fill="url(#g45)"/>
<rect y="67" height="240" x="401" width="1" fill="url(#g43)"/>
<rect y="67" height="240" x="402" width="1" fill="url(#g45)"/>
<rect y="67" height="240" x="403" width="1" fill="url(#g43)"/>
<rect y="67" height="240" x="404" width="1" fill="url(#g45)"/>
<rect y="67" height="240" x="405" width="1" fill="url(#g43)"/>
<rect y="67" height="240" x="406" width="1" fill="url(#g53)"/>
<rect y="67" height="240" x="407" width="1" fill="url(#g43)"/>
<rect y="67" height="240" x="408" width="1" fill="url(#g45)"/>
<rect y="67" height="240" x="409" width="1" fill="url(#g43)"/>
<rect y="67" height="240" x="410" width="1" fill="url(#g45)"/>
<rect y="67" height="240" x="411" width="1" fill="url(#g54)"/>
<rect y="67" height="240" x="412" width="1" fill="url(#g45)"/>
<rect y="67" height="240" x="413" width="1" fill="url(#g44)"/>
<rect y="67" height="240" x="414" width="3" fill="url(#g55)"/>
<rect y="67" height="240" x="417" width="1" fill="url(#g56)"/>
<rect y="67" height="240" x="418" width="1" fill="url(#g55)"/>
<rect y="67" height="240" x="419" width="1" fill="url(#g45)"/>
<rect y="67" height="240" x="420" width="1" fill="url(#g43)"/>
<rect y="67" height="240" x="421" width="1" fill="url(#g45)"/>
<rect y="67" height="240" x="422" width="1" fill="url(#g57)"/>
<rect y="67" height="240" x="423" width="1" fill="url(#g58)"/>
<rect y="67" height="240" x="424" width="1" fill="url(#g59)"/>
<rect y="67" height="240" x="425" width="1" fill="url(#g60)"/>
<rect y="67" height="240" x="426" width="1" fill="url(#g61)"/>
<rect y="67" height="240" x="427" width="1" fill="url(#g62)"/>
<rect y="67" height="240" x="428" width="1" fill="url(#g63)"/>
<rect y="67" height="240" x="429" width="1" fill="url(#g64)"/>
<rect y="67" height="240" x="430" width="1" fill="url(#g65)"/>
<rect y="67" height="240" x="431" width="1" fill="url(#g66)"/>
<rect y="67" height="240" x="432" width="1" fill="url(#g67)"/>
<rect y="67" height="240" x="433" width="1" fill="url(#g68)"/>
<rect y="67" height="240" x="434" width="1" fill="url(#g69)"/>
<rect y="67" height="240" x="435" width="1" fill="url(#g70)"/>
<rect y="67" height="240" x="436" width="2" fill="url(#g71)"/>
<rect y="67" height="240" x="438" width="1" fill="url(#g72)"/>
<rect y="67" height="240" x="439" width="1" fill="url(#g73)"/>
<rect y="67" height="240" x="440" width="1" fill="url(#g74)"/>
<rect y="67" height="240" x="441" width="1" fill="url(#g75)"/>
<rect y="67" height="240" x="442" width="1" fill="url(#g76)"/>
<rect y="67" height="240" x="443" width="1" fill="url(#g77)"/>
<rect y="67" height="240" x="444" width="1" fill="url(#g78)"/>
<rect y="67" height="240" x="445" width="1" fill="url(#g79)"/>
<rect y="67" height="240" x="446" width="1" fill="url(#g80)"/>
<rect y="67" height="240" x="447" width="1" fill="url(#g81)"/>
<rect y="67" height="240" x="448" width="1" fill="url(#g82)"/>
<rect y="67" height="240" x="449" width="1" fill="url(#g83)"/>
<rect y="67" height="240" x="450" width="1" fill="url(#g84)"/>
<rect y="67" height="240" x="451" width="1" fill="url(#g85)"/>
<rect y="67" height="240" x="452" width="1" fill="url(#g86)"/>
<rect y="67" height="240" x="453" width="1" fill="url(#g87)"/>
<rect y="67" height="240" x="454" width="1" fill="url(#g88)"/>
<rect y="67" height="240" x="455" width="1" fill="url(#g89)"/>
<rect y="67" height="240" x="456" width="1" fill="url(#g90)"/>
<rect y="67" height="240" x="457" width="1" fill="url(#g91)"/>
<rect y="67" height="240" x="458" width="1" fill="url(#g92)"/>
<rect y="67" height="240" x="459" width="1" fill="url(#g93)"/>
<rect y="67" height="240" x="460" width="1" fill="url(#g94)"/>
<rect y="67" height="240" x="461" width="1" fill="url(#g95)"/>
<rect y="67" height="240" x="462" width="1" fill="url(#g96)"/>
<rect y="67" height="240" x="463" width="1" fill="url(#g97)"/>
<rect y="67" height="240" x="464" width="1" fill="url(#g98)"/>
<rect y="67" height="240" x="465" width="1" fill="url(#g99)"/>
<rect y="67" height="240" x="466" width="1" fill="url(#g100)"/>
<rect y="67" height="240" x="467" width="1" fill="url(#g101)"/>
<rect y="67" height="240" x="468" width="1" fill="url(#g102)"/>
<rect y="67" height="240" x="469" width="1" fill="url(#g103)"/>
<rect y="67" height="240" x="470" width="1" fill="url(#g104)"/>
<rect y="67" height="240" x="471" width="1" fill="url(#g105)"/>
<rect y="67" height="240" x="472" width="1" fill="url(#g106)"/>
<rect y="67" height="240" x="473" width="1" fill="url(#g107)"/>
<rect y="67" height="240" x="474" width="1" fill="url(#g108)"/>
<rect y="67" height="240" x="475" width="1" fill="url(#g109)"/>
<rect y="67" height="240" x="476" width="1" fill="url(#g110)"/>
<rect y="67" height="240" x="477" width="1" fill="url(#g111)"/>
<rect y="67" height="240" x="478" width="1" fill="url(#g112)"/>
<rect y="67" height="240" x="479" width="1" fill="url(#g113)"/>
<rect y="67" height="240" x="480" width="1" fill="url(#g114)"/>
<rect y="67" height="240" x="481" width="1" fill="url(#g115)"/>
<rect y="67" height="240" x="482" width="1" fill="url(#g116)"/>
<rect y="67" height="240" x="483" width="1" fill="url(#g117)"/>
<rect y="67" height="240" x="484" width="1" fill="url(#g118)"/>
<rect y="67" height="240" x="485" width="1" fill="url(#g119)"/>
<rect y="67" height="240" x="486" width="1" fill="url(#g120)"/>
<rect y="67" height="240" x="487" width="1" fill="url(#g121)"/>
<rect y="67" height="240" x="488" width="1" fill="url(#g122)"/>
<rect y="67" height="240" x="489" width="1" fill="url(#g123)"/>
<rect y="67" height="240" x="490" width="1" fill="url(#g124)"/>
<rect y="67" height="240" x="491" width="1" fill="url(#g125)"/>
<rect y="67" height="240" x="492" width="1" fill="url(#g126)"/>
<rect y="67" height="240" x="493" width="1" fill="url(#g127)"/>
<rect y="67" height="240" x="494" width="1" fill="url(#g128)"/>
<rect y="67" height="240" x="495" width="1" fill="url(#g129)"/>
<rect y="67" height="240" x="496" width="1" fill="url(#g130)"/>
<rect y="67" height="240" x="497" width="1" fill="url(#g131)"/>
<rect y="67" height="240" x="498" width="1" fill="url(#g132)"/>
<rect y="67" height="240" x="499" width="1" fill="url(#g133)"/>
<rect y="67" height="240" x="500" width="1" fill="url(#g134)"/>
<rect y="67" height="240" x="501" width="1" fill="url(#g135)"/>
<rect y="67" height="240" x="502" width="1" fill="url(#g136)"/>
<rect y="67" height="240" x="503" width="1" fill="url(#g137)"/>
<rect y="67" height="240" x="504" width="1" fill="url(#g138)"/>
<rect y="67" height="240" x="505" width="1" fill="url(#g139)"/>
<rect y="67" height="240" x="506" width="1" fill="url(#g140)"/>
<rect y="67" height="240" x="507" width="1" fill="url(#g141)"/>
<rect y="67" height="240" x="508" width="1" fill="url(#g142)"/>
<rect y="67" height="240" x="509" width="1" fill="url(#g143)"/>
<rect y="67" height="240" x="510" width="1" fill="url(#g144)"/>
<rect y="67" height="240" x="511" width="1" fill="url(#g145)"/>
<rect y="67" height="240" x="512" width="1" fill="url(#g146)"/>
<rect y="67" height="240" x="513" width="1" fill="url(#g147)"/>
<rect y="67" height="240" x="514" width="1" fill="url(#g148)"/>
<rect y="67" height="240" x="515" width="1" fill="url(#g149)"/>
<rect y="67" height="240" x="516" width="1" fill="url(#g150)"/>
<rect y="67" height="240" x="517" width="1" fill="url(#g151)"/>
<rect y="67" height="240" x="518" width="1" fill="url(#g152)"/>
<rect y="67" height="240" x="519" width="1" fill="url(#g153)"/>
<rect y="67" height="240" x="520" width="1" fill="url(#g154)"/>
<rect y="67" height="240" x="521" width="1" fill="url(#g155)"/>
<rect y="67" height="240" x="522" width="1" fill="url(#g156)"/>
<rect y="67" height="240" x="523" width="1" fill="url(#g157)"/>
<rect y="67" height="240" x="524" width="1" fill="url(#g158)"/>
<rect y="67" height="240" x="525" width="1" fill="url(#g159)"/>
<rect y="67" height="240" x="526" width="1" fill="url(#g160)"/>
<rect y="67" height="240" x="527" width="1" fill="url(#g161)"/>
<rect y="67" height="240" x="528" width="1" fill="url(#g162)"/>
<rect y="67" height="240" x="529" width="1" fill="url(#g163)"/>
<rect y="67" height="240" x="530" width="2" fill="url(#g164)"/>
<rect y="67" height="240" x="532" width="1" fill="url(#g165)"/>
<rect y="67" height="240" x="533" width="1" fill="url(#g166)"/>
<rect y="67" height="240" x="534" width="1" fill="url(#g167)"/>
<rect y="67" height="240" x="535" width="1" fill="url(#g168)"/>
<rect y="67" height="240" x="536" width="1" fill="url(#g169)"/>
<rect y="67" height="240" x="537" width="1" fill="url(#g170)"/>
<rect y="67" height="240" x="538" width="1" fill="url(#g171)"/>
<rect y="67" height="240" x="539" width="1" fill="url(#g172)"/>
<rect y="67" height="240" x="540" width="1" fill="url(#g173)"/>
<rect y="67" height="240" x="541" width="1" fill="url(#g174)"/>
<rect y="67" height="240" x="542" width="1" fill="url(#g175)"/>
<rect y="67" height="240" x="543" width="6" fill="url(#g176)"/>
<rect y="67" height="240" x="549" width="1" fill="url(#g177)"/>
<rect y="67" height="240" x="550" width="1" fill="url(#g178)"/>
<rect y="67" height="240" x="551" width="1" fill="url(#g177)"/>
<rect y="67" height="240" x="552" width="1" fill="url(#g178)"/>
<rect y="67" height="240" x="553" width="1" fill="url(#g176)"/>
<rect y="67" height="240" x="554" width="1" fill="url(#g178)"/>
<rect y="67" height="240" x="555" width="1" fill="url(#g177)"/>
<rect y="67" height="240" x="556" width="1" fill="url(#g178)"/>
<rect y="67" height="240" x="557" width="1" fill="url(#g177)"/>
<rect y="67" height="240" x="558" width="1" fill="url(#g178)"/>
<rect y="67" height="240" x="559" width="1" fill="url(#g177)"/>
<rect y="67" height="240" x="560" width="6" fill="url(#g176)"/>
<rect y="67" height="240" x="566" width="1" fill="url(#g177)"/>
<rect y="67" height="240" x="567" width="1" fill="url(#g176)"/>
<rect y="67" height="240" x="568" width="1" fill="url(#g177)"/>
<rect y="67" height="240" x="569" width="1" fill="url(#g178)"/>
<rect y="67" height="240" x="570" width="1" fill="url(#g177)"/>
<rect y="67" height="240" x="571" width="1" fill="url(#g178)"/>
<rect y="67" height="240" x="572" width="1" fill="url(#g177)"/>
<rect y="67" height="240" x="573" width="1" fill="url(#g179)"/>
<rect y="67" height="240" x="574" width="1" fill="url(#g180)"/>
<rect y="67" height="240" x="575" width="1" fill="url(#g178)"/>
<rect y="67" height="240" x="576" width="1" fill="url(#g177)"/>
<rect y="67" height="240" x="577" width="1" fill="url(#g176)"/>
<rect y="67" height="240" x="578" width="1" fill="url(#g177)"/>
<rect y="67" height="240" x="579" width="1" fill="url(#g178)"/>
<rect y="67" height="240" x="580" width="5" fill="url(#g176)"/>
<rect y="67" height="240" x="585" width="1" fill="url(#g177)"/>
<rect y="67" height="240" x="586" width="2" fill="url(#g176)"/>
<rect y="67" height="240" x="588" width="1" fill="url(#g178)"/>
<rect y="67" height="240" x="589" width="1" fill="url(#g177)"/>
<rect y="67" height="240" x="590" width="1" fill="url(#g178)"/>
<rect y="67" height="240" x="591" width="1" fill="url(#g177)"/>
<rect y="67" height="240" x="592" width="1" fill="url(#g178)"/>
<rect y="67" height="240" x="593" width="2" fill="url(#g176)"/>
<rect y="67" height="240" x="595" width="1" fill="url(#g177)"/>
<rect y="67" height="240" x="596" width="1" fill="url(#g178)"/>
<rect y="67" height="240" x="597" width="1" fill="url(#g176)"/>
<rect y="67" height="240" x="598" width="1" fill="url(#g178)"/>
<rect y="67" height="240" x="599" width="1" fill="url(#g176)"/>
<rect y="67" height="240" x="600" width="3" fill="url(#g181)"/>
<rect y="67" height="240" x="603" width="1" fill="url(#g182)"/>
<rect y="67" height="240" x="604" width="1" fill="url(#g183)"/>
<rect y="67" height="240" x="605" width="1" fill="url(#g178)"/>
<rect y="67" height="240" x="606" width="1" fill="url(#g177)"/>
<rect y="67" height="240" x="607" width="1" fill="url(#g178)"/>
<rect y="67" height="240" x="608" width="1" fill="url(#g177)"/>
<rect y="67" height="240" x="609" width="1" fill="url(#g178)"/>
<rect y="67" height="240" x="610" width="1" fill="url(#g176)"/>
<rect y="67" height="240" x="611" width="1" fill="url(#g178)"/>
<rect y="67" height="240" x="612" width="5" fill="url(#g176)"/>
<rect y="67" height="240" x="617" width="1" fill="url(#g178)"/>
<rect y="67" height="240" x="618" width="5" fill="url(#g176)"/>
<rect y="67" height="240" x="623" width="1" fill="url(#g177)"/>
<rect y="67" height="240" x="624" width="1" fill="url(#g178)"/>
<rect y="67" height="240" x="625" width="1" fill="url(#g177)"/>
<rect y="67" height="240" x="626" width="1" fill="url(#g178)"/>
<rect y="67" height="240" x="627" width="1" fill="url(#g177)"/>
<rect y="67" height="240" x="628" width="1" fill="url(#g178)"/>
<rect y="67" height="240" x="629" width="1" fill="url(#g177)"/>
<rect y="67" height="240" x="630" width="1" fill="url(#g178)"/>
<rect y="67" height="240" x="631" width="1" fill="url(#g177)"/>
<rect y="67" height="240" x="632" width="1" fill="url(#g178)"/>
<rect y="67" height="240" x="633" width="1" fill="url(#g182)"/>
<rect y="67" height="240" x="634" width="1" fill="url(#g184)"/>
<rect y="67" height="240" x="635" width="4" fill="url(#g176)"/>
<rect y="67" height="240" x="639" width="1" fill="url(#g178)"/>
<rect y="67" height="240" x="640" width="1" fill="url(#g177)"/>
<rect y="67" height="240" x="641" width="2" fill="url(#g176)"/>
<rect y="67" height="240" x="643" width="1" fill="url(#g178)"/>
<rect y="67" height="240" x="644" width="1" fill="url(#g177)"/>
<rect y="67" height="240" x="645" width="1" fill="url(#g176)"/>
<rect y="67" height="240" x="646" width="1" fill="url(#g177)"/>
<rect y="67" height="240" x="647" width="1" fill="url(#g178)"/>
<rect y="67" height="240" x="648" width="1" fill="url(#g177)"/>
<rect y="67" height="240" x="649" width="1" fill="url(#g178)"/>
<rect y="67" height="240" x="650" width="7" fill="url(#g176)"/>
<rect y="67" height="240" x="657" width="1" fill="url(#g185)"/>
<rect y="67" height="240" x="658" width="1" fill="url(#g186)"/>
<rect y="67" height="240" x="659" width="1" fill="url(#g185)"/>
<rect y="67" height="240" x="660" width="1" fill="url(#g186)"/>
<rect y="67" height="240" x="661" width="1" fill="url(#g187)"/>
<rect y="67" height="240" x="662" width="1" fill="url(#g186)"/>
<rect y="67" height="240" x="663" width="1" fill="url(#g187)"/>
<rect y="67" height="240" x="664" width="1" fill="url(#g179)"/>
<rect y="67" height="240" x="665" width="1" fill="url(#g180)"/>
<rect y="67" height="240" x="666" width="1" fill="url(#g178)"/>
<rect y="67" height="240" x="667" width="1" fill="url(#g177)"/>
<rect y="67" height="240" x="668" width="1" fill="url(#g178)"/>
<rect y="67" height="240" x="669" width="1" fill="url(#g177)"/>
<rect y="67" height="240" x="670" width="1" fill="url(#g178)"/>
<rect y="67" height="240" x="671" width="1" fill="url(#g177)"/>
<rect y="67" height="240" x="672" width="1" fill="url(#g178)"/>
<rect y="67" height="240" x="673" width="4" fill="url(#g176)"/>
<rect y="67" height="240" x="677" width="1" fill="url(#g178)"/>
<rect y="67" height="240" x="678" width="1" fill="url(#g176)"/>
<rect y="67" height="240" x="679" width="1" fill="url(#g178)"/>
<rect y="67" height="240" x="680" width="1" fill="url(#g177)"/>
<rect y="67" height="240" x="681" width="1" fill="url(#g178)"/>
<rect y="67" height="240" x="682" width="1" fill="url(#g177)"/>
<rect y="67" height="240" x="683" width="1" fill="url(#g178)"/>
<rect y="67" height="240" x="684" width="1" fill="url(#g177)"/>
<rect y="67" height="240" x="685" width="1" fill="url(#g178)"/>
<rect y="67" height="240" x="686" width="1" fill="url(#g177)"/>
<rect y="67" height="240" x="687" width="1" fill="url(#g178)"/>
<rect y="67" height="240" x="688" width="6" fill="url(#g176)"/>
<rect y="67" height="240" x="694" width="1" fill="url(#g179)"/>
<rect y="67" height="240" x="695" width="1" fill="url(#g180)"/>
<rect y="67" height="240" x="696" width="3" fill="url(#g176)"/>
<rect y="67" height="240" x="699" width="1" fill="url(#g177)"/>
<rect y="67" height="240" x="700" width="1" fill="url(#g178)"/>
<rect y="67" height="240" x="701" width="1" fill="url(#g177)"/>
<rect y="67" height="240" x="702" width="1" fill="url(#g178)"/>
<rect y="67" height="240" x="703" width="1" fill="url(#g176)"/>
<rect y="67" height="240" x="704" width="1" fill="url(#g178)"/>
<rect y="67" height="240" x="705" width="1" fill="url(#g177)"/>
<rect y="67" height="240" x="706" width="7" fill="url(#g176)"/>
<rect y="67" height="240" x="713" width="1" fill="url(#g178)"/>
<rect y="67" height="240" x="714" width="1" fill="url(#g176)"/>
<rect y="67" height="240" x="715" width="1" fill="url(#g178)"/>
<rect y="67" height="240" x="716" width="1" fill="url(#g177)"/>
<rect y="67" height="240" x="717" width="1" fill="url(#g178)"/>
<rect y="67" height="240" x="718" width="1" fill="url(#g177)"/>
<rect y="67" height="240" x="719" width="1" fill="url(#g176)"/>
<rect y="67" height="240" x="720" width="1" fill="url(#g177)"/>
<rect y="67" height="240" x="721" width="1" fill="url(#g178)"/>
<rect y="67" height="240" x="722" width="1" fill="url(#g177)"/>
<rect y="67" height="240" x="723" width="1" fill="url(#g178)"/>
<rect y="67" height="240" x="724" width="1" fill="url(#g188)"/>
<rect y="67" height="240" x="725" width="1" fill="url(#g183)"/>
<rect y="67" height="240" x="726" width="1" fill="url(#g177)"/>
<rect y="67" height="240" x="727" width="5" fill="url(#g176)"/>
<rect y="67" height="240" x="732" width="1" fill="url(#g178)"/>
<rect y="67" height="240" x="733" width="1" fill="url(#g177)"/>
<rect y="67" height="240" x="734" width="1" fill="url(#g178)"/>
<rect y="67" height="240" x="735" width="1" fill="url(#g177)"/>
<rect y="67" height="240" x="736" width="1" fill="url(#g178)"/>
<rect y="67" height="240" x="737" width="1" fill="url(#g177)"/>
<rect y="67" height="240" x="738" width="1" fill="url(#g178)"/>
<rect y="67" height="240" x="739" width="1" fill="url(#g177)"/>
<rect y="67" height="240" x="740" width="1" fill="url(#g178)"/>
<rect y="67" height="240" x="741" width="1" fill="url(#g177)"/>
<rect y="67" height="240" x="742" width="1" fill="url(#g178)"/>
<rect y="67" height="240" x="743" width="1" fill="url(#g177)"/>
<rect y="67" height="240" x="744" width="1" fill="url(#g178)"/>
<rect y="67" height="240" x="745" width="1" fill="url(#g177)"/>
<rect y="67" height="240" x="746" width="4" fill="url(#g176)"/>
<rect y="67" height="240" x="750" width="1" fill="url(#g177)"/>
<rect y="67" height="240" x="751" width="2" fill="url(#g176)"/>
<rect y="67" height="240" x="753" width="1" fill="url(#g178)"/>
<rect y="67" height="240" x="754" width="1" fill="url(#g177)"/>
<rect y="67" height="240" x="755" width="1" fill="url(#g179)"/>
<rect y="67" height="240" x="756" width="1" fill="url(#g183)"/>
<rect y="67" height="240" x="757" width="1" fill="url(#g178)"/>
<rect y="67" height="240" x="758" width="1" fill="url(#g177)"/>
<rect y="67" height="240" x="759" width="1" fill="url(#g176)"/>
<rect y="67" height="240" x="760" width="1" fill="url(#g177)"/>
<rect y="67" height="240" x="761" width="1" fill="url(#g176)"/>
<rect y="67" height="240" x="762" width="1" fill="url(#g189)"/>
<rect y="67" height="240" x="763" width="1" fill="url(#g178)"/>
<rect y="67" height="240" x="764" width="1" fill="url(#g177)"/>
<rect y="67" height="240" x="765" width="1" fill="url(#g178)"/>
<rect y="67" height="240" x="766" width="4" fill="url(#g176)"/>
<rect y="67" height="240" x="770" width="1" fill="url(#g190)"/>
<rect y="67" height="240" x="771" width="2" fill="url(#g176)"/>
<rect y="67" height="240" x="773" width="1" fill="url(#g177)"/>
<rect y="67" height="240" x="774" width="1" fill="url(#g189)"/>
<rect y="67" height="240" x="775" width="1" fill="url(#g177)"/>
<rect y="67" height="240" x="776" width="1" fill="url(#g178)"/>
<rect y="67" height="240" x="777" width="1" fill="url(#g191)"/>
<rect y="67" height="240" x="778" width="1" fill="url(#g192)"/>
<rect y="67" height="240" x="779" width="1" fill="url(#g191)"/>
<rect y="67" height="240" x="780" width="1" fill="url(#g192)"/>
<rect y="67" height="240" x="781" width="1" fill="url(#g176)"/>
<rect y="67" height="240" x="782" width="1" fill="url(#g193)"/>
<rect y="67" height="240" x="783" width="2" fill="url(#g41)"/>
<rect y="67" height="240" x="785" width="1" fill="url(#g194)"/>
<rect y="67" height="240" x="786" width="1" fill="url(#g195)"/>
<rect y="67" height="240" x="787" width="1" fill="url(#g196)"/>
<rect y="67" height="240" x="788" width="1" fill="url(#g197)"/>
<rect y="67" height="240" x="789" width="1" fill="url(#g195)"/>
<rect y="67" height="240" x="790" width="1" fill="url(#g197)"/>
<rect y="67" height="240" x="791" width="1" fill="url(#g196)"/>
<rect y="67" height="240" x="792" width="1" fill="url(#g197)"/>
<rect y="67" height="240" x="793" width="1" fill="url(#g196)"/>
<rect y="67" height="240" x="794" width="1" fill="url(#g197)"/>
<rect y="67" height="240" x="795" width="1" fill="url(#g196)"/>
<rect y="67" height="240" x="796" width="1" fill="url(#g197)"/>
<rect y="67" height="240" x="797" width="1" fill="url(#g196)"/>
<rect y="67" height="240" x="798" width="1" fill="url(#g197)"/>
<rect y="67" height="240" x="799" width="1" fill="url(#g196)"/>
<rect y="67" height="240" x="800" width="1" fill="url(#g197)"/>
<rect y="67" height="240" x="801" width="1" fill="url(#g196)"/>
<rect y="67" height="240" x="802" width="4" fill="url(#g195)"/>
<rect y="67" height="240" x="806" width="1" fill="url(#g196)"/>
<rect y="67" height="240" x="807" width="1" fill="url(#g195)"/>
<rect y="67" height="240" x="808" width="1" fill="url(#g196)"/>
<rect y="67" height="240" x="809" width="1" fill="url(#g197)"/>
<rect y="67" height="240" x="810" width="1" fill="url(#g196)"/>
<rect y="67" height="240" x="811" width="1" fill="url(#g197)"/>
<rect y="67" height="240" x="812" width="1" fill="url(#g196)"/>
<rect y="67" height="240" x="813" width="1" fill="url(#g197)"/>
<rect y="67" height="240" x="814" width="1" fill="url(#g196)"/>
<rect y="67" height="240" x="815" width="1" fill="url(#g198)"/>
<rect y="67" height="240" x="816" width="1" fill="url(#g199)"/>
<rect y="67" height="240" x="817" width="1" fill="url(#g197)"/>
<rect y="67" height="240" x="818" width="1" fill="url(#g196)"/>
<rect y="67" height="240" x="819" width="6" fill="url(#g195)"/>
<rect y="67" height="240" x="825" width="1" fill="url(#g196)"/>
<rect y="67" height="240" x="826" width="2" fill="url(#g195)"/>
<rect y="67" height="240" x="828" width="1" fill="url(#g197)"/>
<rect y="67" height="240" x="829" width="1" fill="url(#g196)"/>
<rect y="67" height="240" x="830" width="1" fill="url(#g200)"/>
<rect y="67" height="240" x="831" width="1" fill="url(#g196)"/>
<rect y="67" height="240" x="832" width="1" fill="url(#g197)"/>
<rect y="67" height="240" x="833" width="1" fill="url(#g196)"/>
<rect y="67" height="240" x="834" width="1" fill="url(#g197)"/>
<rect y="67" height="240" x="835" width="1" fill="url(#g196)"/>
<rect y="67" height="240" x="836" width="1" fill="url(#g197)"/>
<rect y="67" height="240" x="837" width="1" fill="url(#g196)"/>
<rect y="67" height="240" x="838" width="1" fill="url(#g197)"/>
<rect y="67" height="240" x="839" width="4" fill="url(#g195)"/>
<rect y="67" height="240" x="843" width="1" fill="url(#g197)"/>
<rect y="67" height="240" x="844" width="1" fill="url(#g195)"/>
<rect y="67" height="240" x="845" width="1" fill="url(#g198)"/>
<rect y="67" height="240" x="846" width="1" fill="url(#g199)"/>
<rect y="67" height="240" x="847" width="1" fill="url(#g197)"/>
<rect y="67" height="240" x="848" width="1" fill="url(#g196)"/>
<rect y="67" height="240" x="849" width="1" fill="url(#g197)"/>
<rect y="67" height="240" x="850" width="1" fill="url(#g196)"/>
<rect y="67" height="240" x="851" width="1" fill="url(#g197)"/>
<rect y="67" height="240" x="852" width="1" fill="url(#g196)"/>
<rect y="67" height="240" x="853" width="1" fill="url(#g197)"/>
<rect y="67" height="240" x="854" width="1" fill="url(#g196)"/>
<rect y="67" height="240" x="855" width="1" fill="url(#g197)"/>
<rect y="67" height="240" x="856" width="1" fill="url(#g196)"/>
<rect y="67" height="240" x="857" width="6" fill="url(#g195)"/>
<rect y="67" height="240" x="863" width="1" fill="url(#g196)"/>
<rect y="67" height="240" x="864" width="1" fill="url(#g197)"/>
<rect y="67" height="240" x="865" width="1" fill="url(#g196)"/>
<rect y="67" height="240" x="866" width="1" fill="url(#g197)"/>
<rect y="67" height="240" x="867" width="1" fill="url(#g196)"/>
<rect y="67" height="240" x="868" width="1" fill="url(#g197)"/>
<rect y="67" height="240" x="869" width="1" fill="url(#g196)"/>
<rect y="67" height="240" x="870" width="1" fill="url(#g197)"/>
<rect y="67" height="240" x="871" width="1" fill="url(#g196)"/>
<rect y="67" height="240" x="872" width="1" fill="url(#g197)"/>
<rect y="67" height="240" x="873" width="1" fill="url(#g196)"/>
<rect y="67" height="240" x="874" width="1" fill="url(#g197)"/>
<rect y="67" height="240" x="875" width="1" fill="url(#g195)"/>
<rect y="67" height="240" x="876" width="1" fill="url(#g201)"/>
<rect y="67" height="240" x="877" width="1" fill="url(#g202)"/>
<rect y="67" height="240" x="878" width="4" fill="url(#g195)"/>
<rect y="67" height="240" x="882" width="1" fill="url(#g196)"/>
<rect y="67" height="240" x="883" width="1" fill="url(#g197)"/>
<rect y="67" height="240" x="884" width="1" fill="url(#g196)"/>
<rect y="67" height="240" x="885" width="1" fill="url(#g197)"/>
<rect y="67" height="240" x="886" width="1" fill="url(#g203)"/>
<rect y="67" height="240" x="887" width="1" fill="url(#g200)"/>
<rect y="67" height="240" x="888" width="1" fill="url(#g196)"/>
<rect y="67" height="240" x="889" width="1" fill="url(#g197)"/>
<rect y="67" height="240" x="890" width="1" fill="url(#g196)"/>
<rect y="67" height="240" x="891" width="1" fill="url(#g197)"/>
<rect y="67" height="240" x="892" width="1" fill="url(#g195)"/>
<rect y="67" height="240" x="893" width="1" fill="url(#g204)"/>
<rect y="67" height="240" x="894" width="4" fill="url(#g195)"/>
<rect y="67" height="240" x="898" width="1" fill="url(#g205)"/>
<rect y="67" height="240" x="899" width="1" fill="url(#g195)"/>
<rect y="67" height="240" x="900" width="1" fill="url(#g194)"/>
<rect y="67" height="240" x="901" width="1" fill="url(#g206)"/>
<rect y="67" height="240" x="902" width="1" fill="url(#g207)"/>
<rect y="67" height="240" x="903" width="1" fill="url(#g206)"/>
<rect y="67" height="240" x="904" width="1" fill="url(#g197)"/>
<rect y="67" height="240" x="905" width="1" fill="url(#g208)"/>
<rect y="67" height="240" x="906" width="1" fill="url(#g41)"/>
<rect y="67" height="240" x="907" width="1" fill="url(#g209)"/>
<rect y="67" height="240" x="908" width="1" fill="url(#g210)"/>
<rect y="67" height="240" x="909" width="1" fill="url(#g211)"/>
<rect y="67" height="240" x="910" width="1" fill="url(#g210)"/>
<rect y="67" height="240" x="911" width="1" fill="url(#g211)"/>
<rect y="67" height="240" x="912" width="1" fill="url(#g212)"/>
<rect y="67" height="240" x="913" width="1" fill="url(#g213)"/>
<rect y="67" height="240" x="914" width="2" fill="url(#g214)"/>
<rect y="67" height="240" x="916" width="1" fill="url(#g213)"/>
<rect y="67" height="240" x="917" width="1" fill="url(#g215)"/>
<rect y="67" height="240" x="918" width="1" fill="url(#g213)"/>
<rect y="67" height="240" x="919" width="1" fill="url(#g212)"/>
<rect y="67" height="240" x="920" width="1" fill="url(#g211)"/>
<rect y="67" height="240" x="921" width="1" fill="url(#g210)"/>
<rect y="67" height="240" x="922" width="1" fill="url(#g216)"/>
<rect y="67" height="240" x="923" width="1" fill="url(#g210)"/>
<rect y="67" height="240" x="924" width="1" fill="url(#g216)"/>
<rect y="67" height="240" x="925" width="1" fill="url(#g210)"/>
<rect y="67" height="240" x="926" width="1" fill="url(#g216)"/>
<rect y="67" height="240" x="927" width="1" fill="url(#g212)"/>
<rect y="67" height="240" x="928" width="1" fill="url(#g216)"/>
<rect y="67" height="240" x="929" width="1" fill="url(#g212)"/>
<rect y="67" height="240" x="930" width="1" fill="url(#g213)"/>
<rect y="67" height="240" x="931" width="1" fill="url(#g212)"/>
<rect y="67" height="240" x="932" width="1" fill="url(#g213)"/>
<rect y="67" height="240" x="933" width="1" fill="url(#g215)"/>
<rect y="67" height="240" x="934" width="1" fill="url(#g214)"/>
<rect y="67" height="240" x="935" width="1" fill="url(#g213)"/>
<rect y="67" height="240" x="936" width="1" fill="url(#g217)"/>
<rect y="67" height="240" x="937" width="1" fill="url(#g218)"/>
<rect y="67" height="240" x="938" width="1" fill="url(#g210)"/>
<rect y="67" height="240" x="939" width="1" fill="url(#g211)"/>
<rect y="67" height="240" x="940" width="1" fill="url(#g210)"/>
<rect y="67" height="240" x="941" width="1" fill="url(#g216)"/>
<rect y="67" height="240" x="942" width="1" fill="url(#g210)"/>
<rect y="67" height="240" x="943" width="1" fill="url(#g216)"/>
<rect y="67" height="240" x="944" width="1" fill="url(#g210)"/>
<rect y="67" height="240" x="945" width="1" fill="url(#g216)"/>
<rect y="67" height="240" x="946" width="1" fill="url(#g212)"/>
<rect y="67" height="240" x="947" width="1" fill="url(#g211)"/>
<rect y="67" height="240" x="948" width="1" fill="url(#g212)"/>
<rect y="67" height="240" x="949" width="1" fill="url(#g211)"/>
<rect y="67" height="240" x="950" width="1" fill="url(#g215)"/>
<rect y="67" height="240" x="951" width="3" fill="url(#g214)"/>
<rect y="67" height="240" x="954" width="1" fill="url(#g213)"/>
<rect y="67" height="240" x="955" width="1" fill="url(#g212)"/>
<rect y="67" height="240" x="956" width="1" fill="url(#g211)"/>
<rect y="67" height="240" x="957" width="1" fill="url(#g212)"/>
<rect y="67" height="240" x="958" width="1" fill="url(#g216)"/>
<rect y="67" height="240" x="959" width="1" fill="url(#g212)"/>
<rect y="67" height="240" x="960" width="1" fill="url(#g216)"/>
<rect y="67" height="240" x="961" width="1" fill="url(#g210)"/>
<rect y="67" height="240" x="962" width="1" fill="url(#g216)"/>
<rect y="67" height="240" x="963" width="1" fill="url(#g210)"/>
<rect y="67" height="240" x="964" width="1" fill="url(#g216)"/>
<rect y="67" height="240" x="965" width="1" fill="url(#g212)"/>
<rect y="67" height="240" x="966" width="1" fill="url(#g211)"/>
<rect y="67" height="240" x="967" width="1" fill="url(#g217)"/>
<rect y="67" height="240" x="968" width="1" fill="url(#g218)"/>
<rect y="67" height="240" x="969" width="1" fill="url(#g215)"/>
<rect y="67" height="240" x="970" width="3" fill="url(#g214)"/>
<rect y="67" height="240" x="973" width="1" fill="url(#g213)"/>
<rect y="67" height="240" x="974" width="1" fill="url(#g212)"/>
<rect y="67" height="240" x="975" width="1" fill="url(#g211)"/>
<rect y="67" height="240" x="976" width="1" fill="url(#g212)"/>
<rect y="67" height="240" x="977" width="1" fill="url(#g216)"/>
<rect y="67" height="240" x="978" width="1" fill="url(#g210)"/>
<rect y="67" height="240" x="979" width="1" fill="url(#g216)"/>
<rect y="67" height="240" x="980" width="1" fill="url(#g210)"/>
<rect y="67" height="240" x="981" width="1" fill="url(#g216)"/>
<rect y="67" height="240" x="982" width="1" fill="url(#g210)"/>
<rect y="67" height="240" x="983" width="1" fill="url(#g216)"/>
<rect y="67" height="240" x="984" width="1" fill="url(#g212)"/>
<rect y="67" height="240" x="985" width="1" fill="url(#g211)"/>
<rect y="67" height="240" x="986" width="1" fill="url(#g212)"/>
<rect y="67" height="240" x="987" width="1" fill="url(#g213)"/>
<rect y="67" height="240" x="988" width="1" fill="url(#g215)"/>
<rect y="67" height="240" x="989" width="2" fill="url(#g213)"/>
<rect y="67" height="240" x="991" width="1" fill="url(#g215)"/>
<rect y="67" height="240" x="992" width="1" fill="url(#g213)"/>
<rect y="67" height="240" x="993" width="1" fill="url(#g212)"/>
<rect y="67" height="240" x="994" width="1" fill="url(#g216)"/>
<rect y="67" height="240" x="995" width="1" fill="url(#g210)"/>
<rect y="67" height="240" x="996" width="1" fill="url(#g211)"/>
<rect y="67" height="240" x="997" width="1" fill="url(#g219)"/>
<rect y="67" height="240" x="998" width="1" fill="url(#g220)"/>
<rect y="67" height="240" x="999" width="1" fill="url(#g210)"/>
<rect y="67" height="240" x="1000" width="1" fill="url(#g216)"/>
<rect y="67" height="240" x="1001" width="1" fill="url(#g210)"/>
<rect y="67" height="240" x="1002" width="1" fill="url(#g211)"/>
<rect y="67" height="240" x="1003" width="1" fill="url(#g212)"/>
<rect y="67" height="240" x="1004" width="1" fill="url(#g211)"/>
<rect y="67" height="240" x="1005" width="1" fill="url(#g215)"/>
<rect y="67" height="240" x="1006" width="4" fill="url(#g214)"/>
<rect y="67" height="240" x="1010" width="1" fill="url(#g215)"/>
<rect y="67" height="240" x="1011" width="1" fill="url(#g211)"/>
<rect y="67" height="240" x="1012" width="1" fill="url(#g210)"/>
<rect y="67" height="240" x="1013" width="1" fill="url(#g211)"/>
<rect y="67" height="240" x="1014" width="1" fill="url(#g221)"/>
<rect y="67" height="240" x="1015" width="1" fill="url(#g222)"/>
<rect y="67" height="240" x="1016" width="1" fill="url(#g223)"/>
<rect y="67" height="240" x="1017" width="1" fill="url(#g224)"/>
<rect y="67" height="240" x="1018" width="1" fill="url(#g221)"/>
<rect y="67" height="240" x="1019" width="1" fill="url(#g225)"/>
<rect y="67" height="240" x="1020" width="1" fill="url(#g226)"/>
<rect y="67" height="240" x="1021" width="1" fill="url(#g216)"/>
<rect y="67" height="240" x="1022" width="1" fill="url(#g212)"/>
<rect y="67" height="240" x="1023" width="1" fill="url(#g213)"/>
<rect y="67" height="240" x="1024" width="1" fill="url(#g215)"/>
<rect y="67" height="240" x="1025" width="2" fill="url(#g214)"/>
<rect y="67" height="240" x="1027" width="1" fill="url(#g227)"/>
<rect y="67" height="240" x="1028" width="1" fill="url(#g228)"/>
<rect y="67" height="240" x="1029" width="1" fill="url(#g229)"/>
<rect y="67" height="240" x="1030" width="1" fill="url(#g230)"/>
<rect y="67" height="240" x="1031" width="1" fill="url(#g231)"/>
<rect y="67" height="240" x="1032" width="1" fill="url(#g232)"/>
<rect y="67" height="240" x="1033" width="1" fill="url(#g233)"/>
<rect y="67" height="240" x="1034" width="1" fill="url(#g234)"/>
<rect y="67" height="240" x="1035" width="1" fill="url(#g235)"/>
<rect y="67" height="240" x="1036" width="1" fill="url(#g236)"/>
<rect y="67" height="240" x="1037" width="1" fill="url(#g237)"/>
<rect y="67" height="240" x="1038" width="1" fill="url(#g238)"/>
<rect y="67" height="240" x="1039" width="1" fill="url(#g239)"/>
<rect y="67" height="240" x="1040" width="1" fill="url(#g240)"/>
<rect y="67" height="240" x="1041" width="1" fill="url(#g241)"/>
<rect y="67" height="240" x="1042" width="1" fill="url(#g242)"/>
<rect y="67" height="240" x="1043" width="1" fill="url(#g243)"/>
<rect y="67" height="240" x="1044" width="1" fill="url(#g244)"/>
<rect y="67" height="240" x="1045" width="1" fill="url(#g245)"/>
<rect y="67" height="240" x="1046" width="1" fill="url(#g246)"/>
<rect y="67" height="240" x="1047" width="1" fill="url(#g247)"/>
<rect y="67" height="240" x="1048" width="1" fill="url(#g248)"/>
<rect y="67" height="240" x="1049" width="1" fill="url(#g249)"/>
<rect y="67" height="240" x="1050" width="1" fill="url(#g250)"/>
<rect y="67" height="240" x="1051" width="1" fill="url(#g251)"/>
<rect y="67" height="240" x="1052" width="1" fill="url(#g252)"/>
<rect y="67" height="240" x="1053" width="1" fill="url(#g253)"/>
<rect y="67" height="240" x="1054" width="1" fill="url(#g254)"/>
<rect y="67" height="240" x="1055" width="1" fill="url(#g255)"/>
<rect y="67" height="240" x="1056" width="1" fill="url(#g256)"/>
<rect y="67" height="240" x="1057" width="1" fill="url(#g257)"/>
</g>
<rect x="58" y="74" width="364" height="1" fill="#e80010" opacity="0.04"/>
<rect x="543" y="74" width="484" height="1" fill="#e80010" opacity="0.04"/>
<rect x="58" y="77" width="364" height="1" fill="#ffe000" opacity="0.01"/>
<rect x="543" y="77" width="484" height="1" fill="#ffe000" opacity="0.01"/>
<rect x="58" y="79" width="364" height="1" fill="#e80010" opacity="0.10"/>
<rect x="543" y="79" width="484" height="1" fill="#e80010" opacity="0.10"/>
<rect x="58" y="80" width="364" height="1" fill="#e80010" opacity="0.08"/>
<rect x="543" y="80" width="484" height="1" fill="#e80010" opacity="0.08"/>
<rect x="58" y="81" width="364" height="1" fill="#ffe000" opacity="0.05"/>
<rect x="543" y="81" width="484" height="1" fill="#ffe000" opacity="0.05"/>
<rect x="58" y="82" width="364" height="1" fill="#e80010" opacity="0.04"/>
<rect x="543" y="82" width="484" height="1" fill="#e80010" opacity="0.04"/>
<rect x="58" y="83" width="364" height="1" fill="#e80010" opacity="0.06"/>
<rect x="543" y="83" width="484" height="1" fill="#e80010" opacity="0.06"/>
<rect x="58" y="84" width="364" height="1" fill="#ffe000" opacity="0.05"/>
<rect x="543" y="84" width="484" height="1" fill="#ffe000" opacity="0.05"/>
<rect x="58" y="86" width="364" height="1" fill="#ffe000" opacity="0.03"/>
<rect x="543" y="86" width="484" height="1" fill="#ffe000" opacity="0.03"/>
<rect x="58" y="88" width="364" height="1" fill="#ffe000" opacity="0.01"/>
<rect x="543" y="88" width="484" height="1" fill="#ffe000" opacity="0.01"/>
<rect x="58" y="89" width="364" height="1" fill="#e80010" opacity="0.08"/>
<rect x="543" y="89" width="484" height="1" fill="#e80010" opacity="0.08"/>
<rect x="58" y="91" width="364" height="1" fill="#ffe000" opacity="0.05"/>
<rect x="543" y="91" width="484" height="1" fill="#ffe000" opacity="0.05"/>
<rect x="58" y="93" width="364" height="1" fill="#ffe000" opacity="0.03"/>
<rect x="543" y="93" width="484" height="1" fill="#ffe000" opacity="0.03"/>
<rect x="58" y="94" width="364" height="1" fill="#ffe000" opacity="0.02"/>
<rect x="543" y="94" width="484" height="1" fill="#ffe000" opacity="0.02"/>
<rect x="58" y="95" width="364" height="1" fill="#e80010" opacity="0.10"/>
<rect x="543" y="95" width="484" height="1" fill="#e80010" opacity="0.10"/>
<rect x="58" y="96" width="364" height="1" fill="#ffe000" opacity="0.03"/>
<rect x="543" y="96" width="484" height="1" fill="#ffe000" opacity="0.03"/>
<rect x="58" y="98" width="364" height="1" fill="#ffe000" opacity="0.04"/>
<rect x="543" y="98" width="484" height="1" fill="#ffe000" opacity="0.04"/>
<rect x="58" y="99" width="364" height="1" fill="#ffe000" opacity="0.08"/>
<rect x="543" y="99" width="484" height="1" fill="#ffe000" opacity="0.08"/>
<rect x="58" y="100" width="364" height="1" fill="#ffe000" opacity="0.04"/>
<rect x="543" y="100" width="484" height="1" fill="#ffe000" opacity="0.04"/>
<rect x="58" y="102" width="364" height="1" fill="#ffe000" opacity="0.02"/>
<rect x="543" y="102" width="484" height="1" fill="#ffe000" opacity="0.02"/>
<rect x="58" y="103" width="364" height="1" fill="#ffe000" opacity="0.05"/>
<rect x="543" y="103" width="484" height="1" fill="#ffe000" opacity="0.05"/>
<rect x="58" y="104" width="364" height="1" fill="#ffe000" opacity="0.02"/>
<rect x="543" y="104" width="484" height="1" fill="#ffe000" opacity="0.02"/>
<rect x="58" y="105" width="364" height="1" fill="#ffe000" opacity="0.06"/>
<rect x="543" y="105" width="484" height="1" fill="#ffe000" opacity="0.06"/>
<rect x="58" y="107" width="364" height="1" fill="#ffe000" opacity="0.04"/>
<rect x="543" y="107" width="484" height="1" fill="#ffe000" opacity="0.04"/>
<rect x="58" y="109" width="364" height="1" fill="#ffe000" opacity="0.06"/>
<rect x="543" y="109" width="484" height="1" fill="#ffe000" opacity="0.06"/>
<rect x="58" y="110" width="364" height="1" fill="#ffe000" opacity="0.04"/>
<rect x="543" y="110" width="484" height="1" fill="#ffe000" opacity="0.04"/>
<rect x="58" y="111" width="364" height="1" fill="#e80010" opacity="0.09"/>
<rect x="543" y="111" width="484" height="1" fill="#e80010" opacity="0.09"/>
<rect x="58" y="112" width="364" height="1" fill="#e80010" opacity="0.06"/>
<rect x="543" y="112" width="484" height="1" fill="#e80010" opacity="0.06"/>
<rect x="58" y="113" width="364" height="1" fill="#e80010" opacity="0.06"/>
<rect x="543" y="113" width="484" height="1" fill="#e80010" opacity="0.06"/>
<rect x="58" y="114" width="364" height="1" fill="#ffe000" opacity="0.05"/>
<rect x="543" y="114" width="484" height="1" fill="#ffe000" opacity="0.05"/>
<rect x="58" y="117" width="364" height="1" fill="#e80010" opacity="0.04"/>
<rect x="543" y="117" width="484" height="1" fill="#e80010" opacity="0.04"/>
<rect x="58" y="119" width="364" height="1" fill="#e80010" opacity="0.03"/>
<rect x="543" y="119" width="484" height="1" fill="#e80010" opacity="0.03"/>
<rect x="58" y="120" width="364" height="1" fill="#ffe000" opacity="0.08"/>
<rect x="543" y="120" width="484" height="1" fill="#ffe000" opacity="0.08"/>
<rect x="58" y="123" width="364" height="1" fill="#ffe000" opacity="0.06"/>
<rect x="543" y="123" width="484" height="1" fill="#ffe000" opacity="0.06"/>
<rect x="58" y="124" width="364" height="1" fill="#ffe000" opacity="0.02"/>
<rect x="543" y="124" width="484" height="1" fill="#ffe000" opacity="0.02"/>
<rect x="58" y="125" width="364" height="1" fill="#ffe000" opacity="0.06"/>
<rect x="543" y="125" width="484" height="1" fill="#ffe000" opacity="0.06"/>
<rect x="58" y="126" width="364" height="1" fill="#ffe000" opacity="0.04"/>
<rect x="543" y="126" width="484" height="1" fill="#ffe000" opacity="0.04"/>
<rect x="58" y="127" width="364" height="1" fill="#ffe000" opacity="0.06"/>
<rect x="543" y="127" width="484" height="1" fill="#ffe000" opacity="0.06"/>
<rect x="58" y="128" width="364" height="1" fill="#ffe000" opacity="0.02"/>
<rect x="543" y="128" width="484" height="1" fill="#ffe000" opacity="0.02"/>
<rect x="58" y="129" width="364" height="1" fill="#e80010" opacity="0.07"/>
<rect x="543" y="129" width="484" height="1" fill="#e80010" opacity="0.07"/>
<rect x="58" y="130" width="364" height="1" fill="#ffe000" opacity="0.04"/>
<rect x="543" y="130" width="484" height="1" fill="#ffe000" opacity="0.04"/>
<rect x="58" y="131" width="364" height="1" fill="#ffe000" opacity="0.07"/>
<rect x="543" y="131" width="484" height="1" fill="#ffe000" opacity="0.07"/>
<rect x="58" y="132" width="364" height="1" fill="#ffe000" opacity="0.04"/>
<rect x="543" y="132" width="484" height="1" fill="#ffe000" opacity="0.04"/>
<rect x="58" y="134" width="364" height="1" fill="#ffe000" opacity="0.02"/>
<rect x="543" y="134" width="484" height="1" fill="#ffe000" opacity="0.02"/>
<rect x="58" y="135" width="364" height="1" fill="#e80010" opacity="0.06"/>
<rect x="543" y="135" width="484" height="1" fill="#e80010" opacity="0.06"/>
<rect x="58" y="136" width="364" height="1" fill="#ffe000" opacity="0.03"/>
<rect x="543" y="136" width="484" height="1" fill="#ffe000" opacity="0.03"/>
<rect x="58" y="137" width="364" height="1" fill="#e80010" opacity="0.07"/>
<rect x="543" y="137" width="484" height="1" fill="#e80010" opacity="0.07"/>
<rect x="58" y="138" width="364" height="1" fill="#e80010" opacity="0.09"/>
<rect x="543" y="138" width="484" height="1" fill="#e80010" opacity="0.09"/>
<rect x="58" y="139" width="364" height="1" fill="#e80010" opacity="0.07"/>
<rect x="543" y="139" width="484" height="1" fill="#e80010" opacity="0.07"/>
<rect x="58" y="140" width="364" height="1" fill="#ffe000" opacity="0.04"/>
<rect x="543" y="140" width="484" height="1" fill="#ffe000" opacity="0.04"/>
<rect x="58" y="141" width="364" height="1" fill="#ffe000" opacity="0.05"/>
<rect x="543" y="141" width="484" height="1" fill="#ffe000" opacity="0.05"/>
<rect x="58" y="142" width="364" height="1" fill="#e80010" opacity="0.06"/>
<rect x="543" y="142" width="484" height="1" fill="#e80010" opacity="0.06"/>
<rect x="58" y="143" width="364" height="1" fill="#ffe000" opacity="0.04"/>
<rect x="543" y="143" width="484" height="1" fill="#ffe000" opacity="0.04"/>
<rect x="58" y="145" width="364" height="1" fill="#ffe000" opacity="0.06"/>
<rect x="543" y="145" width="484" height="1" fill="#ffe000" opacity="0.06"/>
<rect x="58" y="146" width="364" height="1" fill="#e80010" opacity="0.03"/>
<rect x="543" y="146" width="484" height="1" fill="#e80010" opacity="0.03"/>
<rect x="58" y="147" width="364" height="1" fill="#ffe000" opacity="0.04"/>
<rect x="543" y="147" width="484" height="1" fill="#ffe000" opacity="0.04"/>
<rect x="58" y="148" width="364" height="1" fill="#ffe000" opacity="0.04"/>
<rect x="543" y="148" width="484" height="1" fill="#ffe000" opacity="0.04"/>
<rect x="58" y="149" width="364" height="1" fill="#e80010" opacity="0.10"/>
<rect x="543" y="149" width="484" height="1" fill="#e80010" opacity="0.10"/>
<rect x="58" y="151" width="364" height="1" fill="#e80010" opacity="0.10"/>
<rect x="543" y="151" width="484" height="1" fill="#e80010" opacity="0.10"/>
<rect x="58" y="152" width="364" height="1" fill="#ffe000" opacity="0.02"/>
<rect x="543" y="152" width="484" height="1" fill="#ffe000" opacity="0.02"/>
<rect x="58" y="153" width="364" height="1" fill="#e80010" opacity="0.04"/>
<rect x="543" y="153" width="484" height="1" fill="#e80010" opacity="0.04"/>
<rect x="58" y="154" width="364" height="1" fill="#ffe000" opacity="0.04"/>
<rect x="543" y="154" width="484" height="1" fill="#ffe000" opacity="0.04"/>
<rect x="58" y="155" width="364" height="1" fill="#ffe000" opacity="0.07"/>
<rect x="543" y="155" width="484" height="1" fill="#ffe000" opacity="0.07"/>
<rect x="58" y="157" width="364" height="1" fill="#ffe000" opacity="0.07"/>
<rect x="543" y="157" width="484" height="1" fill="#ffe000" opacity="0.07"/>
<rect x="58" y="158" width="364" height="1" fill="#e80010" opacity="0.03"/>
<rect x="543" y="158" width="484" height="1" fill="#e80010" opacity="0.03"/>
<rect x="58" y="159" width="364" height="1" fill="#e80010" opacity="0.09"/>
<rect x="543" y="159" width="484" height="1" fill="#e80010" opacity="0.09"/>
<rect x="58" y="161" width="364" height="1" fill="#ffe000" opacity="0.05"/>
<rect x="543" y="161" width="484" height="1" fill="#ffe000" opacity="0.05"/>
<rect x="58" y="162" width="364" height="1" fill="#e80010" opacity="0.05"/>
<rect x="543" y="162" width="484" height="1" fill="#e80010" opacity="0.05"/>
<rect x="58" y="165" width="364" height="1" fill="#e80010" opacity="0.08"/>
<rect x="543" y="165" width="484" height="1" fill="#e80010" opacity="0.08"/>
<rect x="58" y="166" width="364" height="1" fill="#e80010" opacity="0.07"/>
<rect x="543" y="166" width="484" height="1" fill="#e80010" opacity="0.07"/>
<rect x="58" y="167" width="364" height="1" fill="#ffe000" opacity="0.05"/>
<rect x="543" y="167" width="484" height="1" fill="#ffe000" opacity="0.05"/>
<rect x="58" y="168" width="364" height="1" fill="#e80010" opacity="0.03"/>
<rect x="543" y="168" width="484" height="1" fill="#e80010" opacity="0.03"/>
<rect x="58" y="169" width="364" height="1" fill="#ffe000" opacity="0.07"/>
<rect x="543" y="169" width="484" height="1" fill="#ffe000" opacity="0.07"/>
<rect x="58" y="170" width="364" height="1" fill="#ffe000" opacity="0.04"/>
<rect x="543" y="170" width="484" height="1" fill="#ffe000" opacity="0.04"/>
<rect x="58" y="171" width="364" height="1" fill="#e80010" opacity="0.03"/>
<rect x="543" y="171" width="484" height="1" fill="#e80010" opacity="0.03"/>
<rect x="58" y="174" width="364" height="1" fill="#ffe000" opacity="0.01"/>
<rect x="543" y="174" width="484" height="1" fill="#ffe000" opacity="0.01"/>
<rect x="58" y="175" width="364" height="1" fill="#ffe000" opacity="0.05"/>
<rect x="543" y="175" width="484" height="1" fill="#ffe000" opacity="0.05"/>
<rect x="58" y="177" width="364" height="1" fill="#ffe000" opacity="0.02"/>
<rect x="543" y="177" width="484" height="1" fill="#ffe000" opacity="0.02"/>
<rect x="58" y="178" width="364" height="1" fill="#ffe000" opacity="0.04"/>
<rect x="543" y="178" width="484" height="1" fill="#ffe000" opacity="0.04"/>
<rect x="58" y="181" width="364" height="1" fill="#ffe000" opacity="0.07"/>
<rect x="543" y="181" width="484" height="1" fill="#ffe000" opacity="0.07"/>
<rect x="58" y="182" width="364" height="1" fill="#e80010" opacity="0.04"/>
<rect x="543" y="182" width="484" height="1" fill="#e80010" opacity="0.04"/>
<rect x="58" y="183" width="364" height="1" fill="#e80010" opacity="0.04"/>
<rect x="543" y="183" width="484" height="1" fill="#e80010" opacity="0.04"/>
<rect x="58" y="184" width="364" height="1" fill="#ffe000" opacity="0.05"/>
<rect x="543" y="184" width="484" height="1" fill="#ffe000" opacity="0.05"/>
<rect x="58" y="187" width="364" height="1" fill="#e80010" opacity="0.11"/>
<rect x="543" y="187" width="484" height="1" fill="#e80010" opacity="0.11"/>
<rect x="58" y="190" width="364" height="1" fill="#ffe000" opacity="0.06"/>
<rect x="543" y="190" width="484" height="1" fill="#ffe000" opacity="0.06"/>
<rect x="58" y="191" width="364" height="1" fill="#ffe000" opacity="0.02"/>
<rect x="543" y="191" width="484" height="1" fill="#ffe000" opacity="0.02"/>
<rect x="58" y="193" width="364" height="1" fill="#e80010" opacity="0.10"/>
<rect x="543" y="193" width="484" height="1" fill="#e80010" opacity="0.10"/>
<rect x="58" y="196" width="364" height="1" fill="#ffe000" opacity="0.02"/>
<rect x="543" y="196" width="484" height="1" fill="#ffe000" opacity="0.02"/>
<rect x="58" y="197" width="364" height="1" fill="#e80010" opacity="0.03"/>
<rect x="543" y="197" width="484" height="1" fill="#e80010" opacity="0.03"/>
<rect x="58" y="198" width="364" height="1" fill="#ffe000" opacity="0.02"/>
<rect x="543" y="198" width="484" height="1" fill="#ffe000" opacity="0.02"/>
<rect x="58" y="199" width="364" height="1" fill="#ffe000" opacity="0.03"/>
<rect x="543" y="199" width="484" height="1" fill="#ffe000" opacity="0.03"/>
<rect x="58" y="200" width="364" height="1" fill="#ffe000" opacity="0.06"/>
<rect x="543" y="200" width="484" height="1" fill="#ffe000" opacity="0.06"/>
<rect x="58" y="201" width="364" height="1" fill="#e80010" opacity="0.10"/>
<rect x="543" y="201" width="484" height="1" fill="#e80010" opacity="0.10"/>
<rect x="58" y="202" width="364" height="1" fill="#ffe000" opacity="0.02"/>
<rect x="543" y="202" width="484" height="1" fill="#ffe000" opacity="0.02"/>
<rect x="58" y="203" width="364" height="1" fill="#ffe000" opacity="0.07"/>
<rect x="543" y="203" width="484" height="1" fill="#ffe000" opacity="0.07"/>
<rect x="58" y="204" width="364" height="1" fill="#e80010" opacity="0.04"/>
<rect x="543" y="204" width="484" height="1" fill="#e80010" opacity="0.04"/>
<rect x="58" y="207" width="364" height="1" fill="#e80010" opacity="0.04"/>
<rect x="543" y="207" width="484" height="1" fill="#e80010" opacity="0.04"/>
<rect x="58" y="209" width="364" height="1" fill="#e80010" opacity="0.04"/>
<rect x="543" y="209" width="484" height="1" fill="#e80010" opacity="0.04"/>
<rect x="58" y="212" width="364" height="1" fill="#e80010" opacity="0.03"/>
<rect x="543" y="212" width="484" height="1" fill="#e80010" opacity="0.03"/>
<rect x="58" y="213" width="364" height="1" fill="#e80010" opacity="0.03"/>
<rect x="543" y="213" width="484" height="1" fill="#e80010" opacity="0.03"/>
<rect x="58" y="214" width="364" height="1" fill="#ffe000" opacity="0.03"/>
<rect x="543" y="214" width="484" height="1" fill="#ffe000" opacity="0.03"/>
<rect x="58" y="215" width="364" height="1" fill="#e80010" opacity="0.10"/>
<rect x="543" y="215" width="484" height="1" fill="#e80010" opacity="0.10"/>
<rect x="58" y="217" width="364" height="1" fill="#ffe000" opacity="0.03"/>
<rect x="543" y="217" width="484" height="1" fill="#ffe000" opacity="0.03"/>
<rect x="58" y="218" width="364" height="1" fill="#e80010" opacity="0.03"/>
<rect x="543" y="218" width="484" height="1" fill="#e80010" opacity="0.03"/>
<rect x="58" y="219" width="364" height="1" fill="#ffe000" opacity="0.05"/>
<rect x="543" y="219" width="484" height="1" fill="#ffe000" opacity="0.05"/>
<rect x="58" y="220" width="364" height="1" fill="#ffe000" opacity="0.03"/>
<rect x="543" y="220" width="484" height="1" fill="#ffe000" opacity="0.03"/>
<rect x="58" y="221" width="364" height="1" fill="#e80010" opacity="0.06"/>
<rect x="543" y="221" width="484" height="1" fill="#e80010" opacity="0.06"/>
<rect x="58" y="222" width="364" height="1" fill="#e80010" opacity="0.05"/>
<rect x="543" y="222" width="484" height="1" fill="#e80010" opacity="0.05"/>
<rect x="58" y="224" width="364" height="1" fill="#ffe000" opacity="0.02"/>
<rect x="543" y="224" width="484" height="1" fill="#ffe000" opacity="0.02"/>
<rect x="58" y="225" width="364" height="1" fill="#e80010" opacity="0.09"/>
<rect x="543" y="225" width="484" height="1" fill="#e80010" opacity="0.09"/>
<rect x="58" y="226" width="364" height="1" fill="#e80010" opacity="0.03"/>
<rect x="543" y="226" width="484" height="1" fill="#e80010" opacity="0.03"/>
<rect x="58" y="227" width="364" height="1" fill="#e80010" opacity="0.04"/>
<rect x="543" y="227" width="484" height="1" fill="#e80010" opacity="0.04"/>
<rect x="58" y="228" width="364" height="1" fill="#ffe000" opacity="0.03"/>
<rect x="543" y="228" width="484" height="1" fill="#ffe000" opacity="0.03"/>
<rect x="58" y="230" width="364" height="1" fill="#ffe000" opacity="0.04"/>
<rect x="543" y="230" width="484" height="1" fill="#ffe000" opacity="0.04"/>
<rect x="58" y="231" width="364" height="1" fill="#e80010" opacity="0.07"/>
<rect x="543" y="231" width="484" height="1" fill="#e80010" opacity="0.07"/>
<rect x="58" y="232" width="364" height="1" fill="#e80010" opacity="0.03"/>
<rect x="543" y="232" width="484" height="1" fill="#e80010" opacity="0.03"/>
<rect x="58" y="233" width="364" height="1" fill="#ffe000" opacity="0.02"/>
<rect x="543" y="233" width="484" height="1" fill="#ffe000" opacity="0.02"/>
<rect x="58" y="234" width="364" height="1" fill="#ffe000" opacity="0.05"/>
<rect x="543" y="234" width="484" height="1" fill="#ffe000" opacity="0.05"/>
<rect x="58" y="236" width="364" height="1" fill="#e80010" opacity="0.04"/>
<rect x="543" y="236" width="484" height="1" fill="#e80010" opacity="0.04"/>
<rect x="58" y="237" width="364" height="1" fill="#e80010" opacity="0.08"/>
<rect x="543" y="237" width="484" height="1" fill="#e80010" opacity="0.08"/>
<rect x="58" y="239" width="364" height="1" fill="#e80010" opacity="0.07"/>
<rect x="543" y="239" width="484" height="1" fill="#e80010" opacity="0.07"/>
<rect x="58" y="240" width="364" height="1" fill="#ffe000" opacity="0.03"/>
<rect x="543" y="240" width="484" height="1" fill="#ffe000" opacity="0.03"/>
<rect x="58" y="241" width="364" height="1" fill="#ffe000" opacity="0.05"/>
<rect x="543" y="241" width="484" height="1" fill="#ffe000" opacity="0.05"/>
<rect x="58" y="242" width="364" height="1" fill="#e80010" opacity="0.05"/>
<rect x="543" y="242" width="484" height="1" fill="#e80010" opacity="0.05"/>
<rect x="58" y="243" width="364" height="1" fill="#e80010" opacity="0.05"/>
<rect x="543" y="243" width="484" height="1" fill="#e80010" opacity="0.05"/>
<rect x="58" y="244" width="364" height="1" fill="#ffe000" opacity="0.03"/>
<rect x="543" y="244" width="484" height="1" fill="#ffe000" opacity="0.03"/>
<rect x="58" y="245" width="364" height="1" fill="#ffe000" opacity="0.02"/>
<rect x="543" y="245" width="484" height="1" fill="#ffe000" opacity="0.02"/>
<rect x="58" y="246" width="364" height="1" fill="#ffe000" opacity="0.03"/>
<rect x="543" y="246" width="484" height="1" fill="#ffe000" opacity="0.03"/>
<rect x="58" y="247" width="364" height="1" fill="#ffe000" opacity="0.04"/>
<rect x="543" y="247" width="484" height="1" fill="#ffe000" opacity="0.04"/>
<rect x="58" y="248" width="364" height="1" fill="#e80010" opacity="0.06"/>
<rect x="543" y="248" width="484" height="1" fill="#e80010" opacity="0.06"/>
<rect x="58" y="249" width="364" height="1" fill="#e80010" opacity="0.05"/>
<rect x="543" y="249" width="484" height="1" fill="#e80010" opacity="0.05"/>
<rect x="58" y="250" width="364" height="1" fill="#ffe000" opacity="0.03"/>
<rect x="543" y="250" width="484" height="1" fill="#ffe000" opacity="0.03"/>
<rect x="58" y="251" width="364" height="1" fill="#ffe000" opacity="0.06"/>
<rect x="543" y="251" width="484" height="1" fill="#ffe000" opacity="0.06"/>
<rect x="58" y="252" width="364" height="1" fill="#e80010" opacity="0.02"/>
<rect x="543" y="252" width="484" height="1" fill="#e80010" opacity="0.02"/>
<rect x="58" y="253" width="364" height="1" fill="#e80010" opacity="0.04"/>
<rect x="543" y="253" width="484" height="1" fill="#e80010" opacity="0.04"/>
<rect x="58" y="254" width="364" height="1" fill="#e80010" opacity="0.06"/>
<rect x="543" y="254" width="484" height="1" fill="#e80010" opacity="0.06"/>
<rect x="58" y="255" width="364" height="1" fill="#e80010" opacity="0.06"/>
<rect x="543" y="255" width="484" height="1" fill="#e80010" opacity="0.06"/>
<rect x="58" y="256" width="364" height="1" fill="#e80010" opacity="0.05"/>
<rect x="543" y="256" width="484" height="1" fill="#e80010" opacity="0.05"/>
<rect x="58" y="257" width="364" height="1" fill="#e80010" opacity="0.03"/>
<rect x="543" y="257" width="484" height="1" fill="#e80010" opacity="0.03"/>
<rect x="58" y="258" width="364" height="1" fill="#e80010" opacity="0.08"/>
<rect x="543" y="258" width="484" height="1" fill="#e80010" opacity="0.08"/>
<rect x="58" y="259" width="364" height="1" fill="#ffe000" opacity="0.06"/>
<rect x="543" y="259" width="484" height="1" fill="#ffe000" opacity="0.06"/>
<rect x="58" y="260" width="364" height="1" fill="#ffe000" opacity="0.04"/>
<rect x="543" y="260" width="484" height="1" fill="#ffe000" opacity="0.04"/>
<rect x="58" y="261" width="364" height="1" fill="#ffe000" opacity="0.07"/>
<rect x="543" y="261" width="484" height="1" fill="#ffe000" opacity="0.07"/>
<rect x="58" y="263" width="364" height="1" fill="#ffe000" opacity="0.06"/>
<rect x="543" y="263" width="484" height="1" fill="#ffe000" opacity="0.06"/>
<rect x="58" y="264" width="364" height="1" fill="#ffe000" opacity="0.04"/>
<rect x="543" y="264" width="484" height="1" fill="#ffe000" opacity="0.04"/>
<rect x="58" y="265" width="364" height="1" fill="#e80010" opacity="0.06"/>
<rect x="543" y="265" width="484" height="1" fill="#e80010" opacity="0.06"/>
<rect x="58" y="266" width="364" height="1" fill="#ffe000" opacity="0.02"/>
<rect x="543" y="266" width="484" height="1" fill="#ffe000" opacity="0.02"/>
<rect x="58" y="267" width="364" height="1" fill="#ffe000" opacity="0.05"/>
<rect x="543" y="267" width="484" height="1" fill="#ffe000" opacity="0.05"/>
<rect x="58" y="268" width="364" height="1" fill="#ffe000" opacity="0.02"/>
<rect x="543" y="268" width="484" height="1" fill="#ffe000" opacity="0.02"/>
<rect x="58" y="270" width="364" height="1" fill="#e80010" opacity="0.03"/>
<rect x="543" y="270" width="484" height="1" fill="#e80010" opacity="0.03"/>
<rect x="58" y="271" width="364" height="1" fill="#e80010" opacity="0.04"/>
<rect x="543" y="271" width="484" height="1" fill="#e80010" opacity="0.04"/>
<rect x="58" y="272" width="364" height="1" fill="#e80010" opacity="0.04"/>
<rect x="543" y="272" width="484" height="1" fill="#e80010" opacity="0.04"/>
<rect x="58" y="273" width="364" height="1" fill="#e80010" opacity="0.10"/>
<rect x="543" y="273" width="484" height="1" fill="#e80010" opacity="0.10"/>
<rect x="58" y="275" width="364" height="1" fill="#e80010" opacity="0.05"/>
<rect x="543" y="275" width="484" height="1" fill="#e80010" opacity="0.05"/>
<rect x="58" y="276" width="364" height="1" fill="#ffe000" opacity="0.03"/>
<rect x="543" y="276" width="484" height="1" fill="#ffe000" opacity="0.03"/>
<rect x="58" y="277" width="364" height="1" fill="#e80010" opacity="0.10"/>
<rect x="543" y="277" width="484" height="1" fill="#e80010" opacity="0.10"/>
<rect x="58" y="278" width="364" height="1" fill="#ffe000" opacity="0.04"/>
<rect x="543" y="278" width="484" height="1" fill="#ffe000" opacity="0.04"/>
<rect x="58" y="279" width="364" height="1" fill="#ffe000" opacity="0.03"/>
<rect x="543" y="279" width="484" height="1" fill="#ffe000" opacity="0.03"/>
<rect x="58" y="280" width="364" height="1" fill="#ffe000" opacity="0.04"/>
<rect x="543" y="280" width="484" height="1" fill="#ffe000" opacity="0.04"/>
<rect x="58" y="281" width="364" height="1" fill="#ffe000" opacity="0.06"/>
<rect x="543" y="281" width="484" height="1" fill="#ffe000" opacity="0.06"/>
<rect x="58" y="282" width="364" height="1" fill="#ffe000" opacity="0.04"/>
<rect x="543" y="282" width="484" height="1" fill="#ffe000" opacity="0.04"/>
<rect x="58" y="284" width="364" height="1" fill="#e80010" opacity="0.08"/>
<rect x="543" y="284" width="484" height="1" fill="#e80010" opacity="0.08"/>
<rect x="58" y="285" width="364" height="1" fill="#ffe000" opacity="0.04"/>
<rect x="543" y="285" width="484" height="1" fill="#ffe000" opacity="0.04"/>
<rect x="58" y="286" width="364" height="1" fill="#e80010" opacity="0.05"/>
<rect x="543" y="286" width="484" height="1" fill="#e80010" opacity="0.05"/>
<rect x="58" y="287" width="364" height="1" fill="#e80010" opacity="0.04"/>
<rect x="543" y="287" width="484" height="1" fill="#e80010" opacity="0.04"/>
<rect x="58" y="288" width="364" height="1" fill="#ffe000" opacity="0.02"/>
<rect x="543" y="288" width="484" height="1" fill="#ffe000" opacity="0.02"/>
<rect x="58" y="291" width="364" height="1" fill="#ffe000" opacity="0.06"/>
<rect x="543" y="291" width="484" height="1" fill="#ffe000" opacity="0.06"/>
<rect x="58" y="293" width="364" height="1" fill="#e80010" opacity="0.04"/>
<rect x="543" y="293" width="484" height="1" fill="#e80010" opacity="0.04"/>
<rect x="58" y="294" width="364" height="1" fill="#e80010" opacity="0.04"/>
<rect x="543" y="294" width="484" height="1" fill="#e80010" opacity="0.04"/>
<rect x="58" y="295" width="364" height="1" fill="#ffe000" opacity="0.05"/>
<rect x="543" y="295" width="484" height="1" fill="#ffe000" opacity="0.05"/>
<rect x="58" y="297" width="364" height="1" fill="#ffe000" opacity="0.04"/>
<rect x="543" y="297" width="484" height="1" fill="#ffe000" opacity="0.04"/>
<rect x="58" y="298" width="364" height="1" fill="#e80010" opacity="0.02"/>
<rect x="543" y="298" width="484" height="1" fill="#e80010" opacity="0.02"/>
<rect x="58" y="299" width="364" height="1" fill="#e80010" opacity="0.07"/>
<rect x="543" y="299" width="484" height="1" fill="#e80010" opacity="0.07"/>
<rect x="58" y="252" width="121" height="1" fill="#e80010" opacity="0.03"/>
<rect x="58" y="253" width="121" height="1" fill="#e80010" opacity="0.06"/>
<rect x="58" y="254" width="121" height="1" fill="#e80010" opacity="0.08"/>
<rect x="58" y="255" width="121" height="1" fill="#e80010" opacity="0.08"/>
<rect x="58" y="256" width="121" height="1" fill="#e80010" opacity="0.06"/>
<rect x="58" y="257" width="121" height="1" fill="#e80010" opacity="0.03"/>
<rect x="450" y="192" width="1" height="1" fill="#fd6900"/>
<rect x="450" y="199" width="1" height="1" fill="#fc5500"/>
<rect x="450" y="201" width="1" height="1" fill="#f94000"/>
<rect x="450" y="203" width="1" height="1" fill="#f94000"/>
<rect x="450" y="204" width="1" height="1" fill="#f94000"/>
<rect x="450" y="256" width="1" height="2" fill="#ffcc04"/>
<rect x="450" y="267" width="1" height="1" fill="#ff9700"/>
<rect x="450" y="272" width="1" height="2" fill="#ffb700"/>
<rect x="450" y="273" width="1" height="2" fill="#ffcc04"/>
<rect x="450" y="275" width="1" height="1" fill="#ffb700"/>
<rect x="450" y="277" width="1" height="1" fill="#ffb700"/>
<rect x="450" y="281" width="1" height="2" fill="#ff9700"/>
<rect x="450" y="286" width="1" height="1" fill="#ffb700"/>
<rect x="450" y="292" width="1" height="1" fill="#ffb700"/>
<rect x="450" y="293" width="1" height="1" fill="#ff9700"/>
<rect x="450" y="298" width="1" height="1" fill="#ffb700"/>
<rect x="450" y="299" width="1" height="2" fill="#ffde21"/>
<rect x="451" y="209" width="1" height="1" fill="#fd6900"/>
<rect x="451" y="214" width="1" height="1" fill="#f94000"/>
<rect x="451" y="218" width="1" height="1" fill="#f94000"/>
<rect x="451" y="239" width="1" height="1" fill="#fc5500"/>
<rect x="451" y="263" width="1" height="1" fill="#ffcc04"/>
<rect x="451" y="266" width="1" height="1" fill="#ffb700"/>
<rect x="451" y="269" width="1" height="1" fill="#ff9700"/>
<rect x="451" y="270" width="1" height="2" fill="#ffb700"/>
<rect x="451" y="276" width="1" height="1" fill="#ffde21"/>
<rect x="451" y="279" width="1" height="1" fill="#ff9700"/>
<rect x="451" y="281" width="1" height="1" fill="#ffcc04"/>
<rect x="451" y="283" width="1" height="2" fill="#ffde21"/>
<rect x="451" y="284" width="1" height="2" fill="#ffde21"/>
<rect x="451" y="289" width="1" height="1" fill="#ffcc04"/>
<rect x="451" y="290" width="1" height="2" fill="#ffcc04"/>
<rect x="451" y="294" width="1" height="2" fill="#ffb700"/>
<rect x="451" y="299" width="1" height="2" fill="#ffb700"/>
<rect x="452" y="204" width="1" height="1" fill="#f94000"/>
<rect x="452" y="206" width="1" height="1" fill="#fd6900"/>
<rect x="452" y="223" width="1" height="1" fill="#fd6900"/>
<rect x="452" y="245" width="1" height="1" fill="#f94000"/>
<rect x="452" y="250" width="1" height="1" fill="#fc5500"/>
<rect x="452" y="253" width="1" height="1" fill="#ff9700"/>
<rect x="452" y="256" width="1" height="1" fill="#ffde21"/>
<rect x="452" y="263" width="1" height="1" fill="#ffb700"/>
<rect x="452" y="266" width="1" height="1" fill="#ffb700"/>
<rect x="452" y="270" width="1" height="2" fill="#ffb700"/>
<rect x="452" y="272" width="1" height="1" fill="#ff9700"/>
<rect x="452" y="276" width="1" height="1" fill="#ffcc04"/>
<rect x="452" y="278" width="1" height="1" fill="#ffb700"/>
<rect x="452" y="279" width="1" height="1" fill="#ffb700"/>
<rect x="452" y="280" width="1" height="2" fill="#ffcc04"/>
<rect x="452" y="282" width="1" height="1" fill="#ffde21"/>
<rect x="452" y="283" width="1" height="1" fill="#ffde21"/>
<rect x="452" y="286" width="1" height="1" fill="#ffde21"/>
<rect x="452" y="288" width="1" height="1" fill="#ffcc04"/>
<rect x="452" y="290" width="1" height="1" fill="#ffcc04"/>
<rect x="452" y="291" width="1" height="2" fill="#ffcc04"/>
<rect x="452" y="293" width="1" height="2" fill="#ffde21"/>
<rect x="452" y="294" width="1" height="1" fill="#ffde21"/>
<rect x="452" y="298" width="1" height="1" fill="#ff9700"/>
<rect x="452" y="299" width="1" height="1" fill="#ffb700"/>
<rect x="453" y="210" width="1" height="1" fill="#fc5500"/>
<rect x="453" y="217" width="1" height="1" fill="#fd6900"/>
<rect x="453" y="233" width="1" height="1" fill="#f94000"/>
<rect x="453" y="249" width="1" height="1" fill="#f94000"/>
<rect x="453" y="252" width="1" height="1" fill="#ffcc04"/>
<rect x="453" y="253" width="1" height="1" fill="#ffb700"/>
<rect x="453" y="256" width="1" height="1" fill="#ffde21"/>
<rect x="453" y="260" width="1" height="2" fill="#ff9700"/>
<rect x="453" y="262" width="1" height="2" fill="#ffcc04"/>
<rect x="453" y="265" width="1" height="1" fill="#ffb700"/>
<rect x="453" y="267" width="1" height="2" fill="#ffde21"/>
<rect x="453" y="271" width="1" height="1" fill="#ffcc04"/>
<rect x="453" y="274" width="1" height="1" fill="#ffde21"/>
<rect x="453" y="275" width="1" height="1" fill="#ffb700"/>
<rect x="453" y="290" width="1" height="1" fill="#ffb700"/>
<rect x="453" y="292" width="1" height="1" fill="#ffde21"/>
<rect x="453" y="294" width="1" height="1" fill="#ffcc04"/>
<rect x="453" y="295" width="1" height="1" fill="#ffde21"/>
<rect x="453" y="297" width="1" height="1" fill="#ffb700"/>
<rect x="453" y="299" width="1" height="1" fill="#ff9700"/>
<rect x="453" y="300" width="1" height="1" fill="#ff9700"/>
<rect x="454" y="207" width="1" height="1" fill="#f94000"/>
<rect x="454" y="210" width="1" height="1" fill="#f94000"/>
<rect x="454" y="211" width="1" height="1" fill="#fc5500"/>
<rect x="454" y="229" width="1" height="1" fill="#f94000"/>
<rect x="454" y="243" width="1" height="1" fill="#fd6900"/>
<rect x="454" y="244" width="1" height="1" fill="#fc5500"/>
<rect x="454" y="263" width="1" height="1" fill="#ffb700"/>
<rect x="454" y="270" width="1" height="2" fill="#ffcc04"/>
<rect x="454" y="272" width="1" height="2" fill="#ffde21"/>
<rect x="454" y="273" width="1" height="2" fill="#ffcc04"/>
<rect x="454" y="279" width="1" height="1" fill="#ffb700"/>
<rect x="454" y="283" width="1" height="1" fill="#ffcc04"/>
<rect x="454" y="287" width="1" height="1" fill="#ff9700"/>
<rect x="454" y="288" width="1" height="1" fill="#ff9700"/>
<rect x="454" y="289" width="1" height="1" fill="#ffcc04"/>
<rect x="454" y="291" width="1" height="2" fill="#ffcc04"/>
<rect x="454" y="294" width="1" height="1" fill="#ffcc04"/>
<rect x="454" y="298" width="1" height="2" fill="#ffcc04"/>
<rect x="454" y="299" width="1" height="1" fill="#ffb700"/>
<rect x="454" y="300" width="1" height="2" fill="#ffb700"/>
<rect x="455" y="188" width="1" height="1" fill="#fc5500"/>
<rect x="455" y="189" width="1" height="1" fill="#fd6900"/>
<rect x="455" y="194" width="1" height="1" fill="#f94000"/>
<rect x="455" y="217" width="1" height="1" fill="#fc5500"/>
<rect x="455" y="238" width="1" height="1" fill="#fd6900"/>
<rect x="455" y="241" width="1" height="1" fill="#f94000"/>
<rect x="455" y="262" width="1" height="1" fill="#ffde21"/>
<rect x="455" y="263" width="1" height="2" fill="#ffb700"/>
<rect x="455" y="267" width="1" height="1" fill="#ff9700"/>
<rect x="455" y="268" width="1" height="1" fill="#ffb700"/>
<rect x="455" y="273" width="1" height="1" fill="#ffde21"/>
<rect x="455" y="274" width="1" height="1" fill="#ff9700"/>
<rect x="455" y="275" width="1" height="1" fill="#ffde21"/>
<rect x="455" y="277" width="1" height="1" fill="#ffcc04"/>
<rect x="455" y="289" width="1" height="1" fill="#ffcc04"/>
<rect x="455" y="292" width="1" height="1" fill="#ffb700"/>
<rect x="455" y="294" width="1" height="1" fill="#ffcc04"/>
<rect x="456" y="198" width="1" height="1" fill="#fc5500"/>
<rect x="456" y="213" width="1" height="1" fill="#fd6900"/>
<rect x="456" y="215" width="1" height="1" fill="#f94000"/>
<rect x="456" y="227" width="1" height="1" fill="#fd6900"/>
<rect x="456" y="228" width="1" height="1" fill="#fd6900"/>
<rect x="456" y="252" width="1" height="1" fill="#ffde21"/>
<rect x="456" y="257" width="1" height="1" fill="#ffcc04"/>
<rect x="456" y="264" width="1" height="2" fill="#ffcc04"/>
<rect x="456" y="265" width="1" height="1" fill="#ff9700"/>
<rect x="456" y="266" width="1" height="1" fill="#ffde21"/>
<rect x="456" y="268" width="1" height="1" fill="#ffcc04"/>
<rect x="456" y="269" width="1" height="1" fill="#ff9700"/>
<rect x="456" y="270" width="1" height="1" fill="#ffb700"/>
<rect x="456" y="272" width="1" height="2" fill="#ffde21"/>
<rect x="456" y="274" width="1" height="2" fill="#ff9700"/>
<rect x="456" y="277" width="1" height="1" fill="#ff9700"/>
<rect x="456" y="279" width="1" height="2" fill="#ff9700"/>
<rect x="456" y="282" width="1" height="1" fill="#ff9700"/>
<rect x="456" y="283" width="1" height="2" fill="#ff9700"/>
<rect x="456" y="287" width="1" height="2" fill="#ff9700"/>
<rect x="456" y="291" width="1" height="2" fill="#ffb700"/>
<rect x="456" y="300" width="1" height="1" fill="#ffde21"/>
<rect x="457" y="251" width="1" height="1" fill="#fc5500"/>
<rect x="457" y="261" width="1" height="2" fill="#ffde21"/>
<rect x="457" y="264" width="1" height="1" fill="#ff9700"/>
<rect x="457" y="266" width="1" height="1" fill="#ffb700"/>
<rect x="457" y="270" width="1" height="2" fill="#ffde21"/>
<rect x="457" y="271" width="1" height="1" fill="#ffb700"/>
<rect x="457" y="276" width="1" height="2" fill="#ffde21"/>
<rect x="457" y="279" width="1" height="1" fill="#ffcc04"/>
<rect x="457" y="282" width="1" height="1" fill="#ffcc04"/>
<rect x="457" y="289" width="1" height="1" fill="#ffcc04"/>
<rect x="457" y="290" width="1" height="2" fill="#ff9700"/>
<rect x="457" y="291" width="1" height="1" fill="#ffde21"/>
<rect x="457" y="295" width="1" height="1" fill="#ff9700"/>
<rect x="457" y="296" width="1" height="2" fill="#ff9700"/>
<rect x="458" y="186" width="1" height="1" fill="#f94000"/>
<rect x="458" y="195" width="1" height="1" fill="#f94000"/>
<rect x="458" y="222" width="1" height="1" fill="#f94000"/>
<rect x="458" y="225" width="1" height="1" fill="#f94000"/>
<rect x="458" y="227" width="1" height="1" fill="#fd6900"/>
<rect x="458" y="230" width="1" height="1" fill="#fc5500"/>
<rect x="458" y="240" width="1" height="1" fill="#fd6900"/>
<rect x="458" y="252" width="1" height="1" fill="#ffde21"/>
<rect x="458" y="261" width="1" height="1" fill="#ff9700"/>
<rect x="458" y="263" width="1" height="1" fill="#ffde21"/>
<rect x="458" y="264" width="1" height="1" fill="#ffde21"/>
<rect x="458" y="268" width="1" height="1" fill="#ffcc04"/>
<rect x="458" y="271" width="1" height="1" fill="#ffb700"/>
<rect x="458" y="288" width="1" height="1" fill="#ffcc04"/>
<rect x="458" y="291" width="1" height="1" fill="#ff9700"/>
<rect x="458" y="297" width="1" height="2" fill="#ffb700"/>
<rect x="458" y="299" width="1" height="2" fill="#ffcc04"/>
<rect x="459" y="203" width="1" height="1" fill="#fc5500"/>
<rect x="459" y="237" width="1" height="1" fill="#fc5500"/>
<rect x="459" y="254" width="1" height="1" fill="#ffde21"/>
<rect x="459" y="257" width="1" height="1" fill="#ffcc04"/>
<rect x="459" y="260" width="1" height="1" fill="#ff9700"/>
<rect x="459" y="265" width="1" height="1" fill="#ffde21"/>
<rect x="459" y="274" width="1" height="2" fill="#ffde21"/>
<rect x="459" y="280" width="1" height="2" fill="#ffcc04"/>
<rect x="459" y="282" width="1" height="2" fill="#ffde21"/>
<rect x="459" y="285" width="1" height="1" fill="#ffde21"/>
<rect x="459" y="288" width="1" height="1" fill="#ffb700"/>
<rect x="459" y="289" width="1" height="2" fill="#ff9700"/>
<rect x="459" y="292" width="1" height="1" fill="#ff9700"/>
<rect x="459" y="295" width="1" height="1" fill="#ffcc04"/>
<rect x="459" y="296" width="1" height="1" fill="#ffde21"/>
<rect x="459" y="297" width="1" height="1" fill="#ffcc04"/>
<rect x="459" y="299" width="1" height="1" fill="#ffcc04"/>
<rect x="459" y="300" width="1" height="2" fill="#ffb700"/>
<rect x="462" y="194" width="1" height="1" fill="#fd6900"/>
<rect x="462" y="227" width="1" height="1" fill="#fd6900"/>
<rect x="462" y="252" width="1" height="1" fill="#ffb700"/>
<rect x="462" y="256" width="1" height="1" fill="#ffb700"/>
<rect x="462" y="259" width="1" height="1" fill="#ffde21"/>
<rect x="462" y="261" width="1" height="2" fill="#ffde21"/>
<rect x="462" y="263" width="1" height="1" fill="#ff9700"/>
<rect x="462" y="267" width="1" height="1" fill="#ffcc04"/>
<rect x="462" y="271" width="1" height="1" fill="#ff9700"/>
<rect x="462" y="272" width="1" height="1" fill="#ffb700"/>
<rect x="462" y="275" width="1" height="2" fill="#ffcc04"/>
<rect x="462" y="276" width="1" height="2" fill="#ffb700"/>
<rect x="462" y="290" width="1" height="2" fill="#ffcc04"/>
<rect x="462" y="292" width="1" height="1" fill="#ffde21"/>
<rect x="462" y="293" width="1" height="1" fill="#ffcc04"/>
<rect x="462" y="295" width="1" height="2" fill="#ff9700"/>
<rect x="462" y="299" width="1" height="1" fill="#ffde21"/>
<rect x="462" y="300" width="1" height="2" fill="#ffde21"/>
<rect x="463" y="198" width="1" height="1" fill="#fd6900"/>
<rect x="463" y="250" width="1" height="1" fill="#fd6900"/>
<rect x="463" y="260" width="1" height="1" fill="#ff9700"/>
<rect x="463" y="263" width="1" height="1" fill="#ffb700"/>
<rect x="463" y="268" width="1" height="1" fill="#ffcc04"/>
<rect x="463" y="274" width="1" height="1" fill="#ffde21"/>
<rect x="463" y="281" width="1" height="2" fill="#ffde21"/>
<rect x="463" y="284" width="1" height="1" fill="#ffb700"/>
<rect x="463" y="295" width="1" height="1" fill="#ffb700"/>
<rect x="463" y="297" width="1" height="1" fill="#ffb700"/>
<rect x="463" y="299" width="1" height="1" fill="#ff9700"/>
<rect x="463" y="300" width="1" height="1" fill="#ffde21"/>
<rect x="464" y="189" width="1" height="1" fill="#fd6900"/>
<rect x="464" y="190" width="1" height="1" fill="#fd6900"/>
<rect x="464" y="204" width="1" height="1" fill="#f94000"/>
<rect x="464" y="208" width="1" height="1" fill="#f94000"/>
<rect x="464" y="239" width="1" height="1" fill="#fc5500"/>
<rect x="464" y="246" width="1" height="1" fill="#f94000"/>
<rect x="464" y="255" width="1" height="1" fill="#ffcc04"/>
<rect x="464" y="256" width="1" height="1" fill="#ffde21"/>
<rect x="464" y="257" width="1" height="1" fill="#ffde21"/>
<rect x="464" y="258" width="1" height="1" fill="#ff9700"/>
<rect x="464" y="264" width="1" height="1" fill="#ffde21"/>
<rect x="464" y="265" width="1" height="2" fill="#ffcc04"/>
<rect x="464" y="270" width="1" height="1" fill="#ffcc04"/>
<rect x="464" y="272" width="1" height="2" fill="#ffcc04"/>
<rect x="464" y="280" width="1" height="2" fill="#ff9700"/>
<rect x="464" y="286" width="1" height="2" fill="#ffcc04"/>
<rect x="464" y="287" width="1" height="2" fill="#ff9700"/>
<rect x="465" y="209" width="1" height="1" fill="#fc5500"/>
<rect x="465" y="215" width="1" height="1" fill="#f94000"/>
<rect x="465" y="230" width="1" height="1" fill="#fc5500"/>
<rect x="465" y="239" width="1" height="1" fill="#fc5500"/>
<rect x="465" y="241" width="1" height="1" fill="#f94000"/>
<rect x="465" y="244" width="1" height="1" fill="#fd6900"/>
<rect x="465" y="247" width="1" height="1" fill="#fc5500"/>
<rect x="465" y="254" width="1" height="1" fill="#ffcc04"/>
<rect x="465" y="256" width="1" height="2" fill="#ffde21"/>
<rect x="465" y="259" width="1" height="1" fill="#ffcc04"/>
<rect x="465" y="263" width="1" height="1" fill="#ffde21"/>
<rect x="465" y="264" width="1" height="1" fill="#ffde21"/>
<rect x="465" y="268" width="1" height="1" fill="#ffde21"/>
<rect x="465" y="271" width="1" height="1" fill="#ff9700"/>
<rect x="465" y="277" width="1" height="1" fill="#ffb700"/>
<rect x="465" y="278" width="1" height="2" fill="#ffb700"/>
<rect x="465" y="279" width="1" height="2" fill="#ffcc04"/>
<rect x="465" y="282" width="1" height="2" fill="#ffde21"/>
<rect x="465" y="285" width="1" height="1" fill="#ff9700"/>
<rect x="465" y="287" width="1" height="1" fill="#ffde21"/>
<rect x="465" y="288" width="1" height="1" fill="#ffde21"/>
<rect x="465" y="297" width="1" height="2" fill="#ffde21"/>
<rect x="466" y="220" width="1" height="1" fill="#fc5500"/>
<rect x="466" y="239" width="1" height="1" fill="#fd6900"/>
<rect x="466" y="245" width="1" height="1" fill="#fd6900"/>
<rect x="466" y="260" width="1" height="1" fill="#ff9700"/>
<rect x="466" y="268" width="1" height="1" fill="#ffcc04"/>
<rect x="466" y="270" width="1" height="1" fill="#ff9700"/>
<rect x="466" y="273" width="1" height="2" fill="#ffde21"/>
<rect x="466" y="274" width="1" height="2" fill="#ffcc04"/>
<rect x="466" y="275" width="1" height="1" fill="#ff9700"/>
<rect x="466" y="278" width="1" height="1" fill="#ff9700"/>
<rect x="466" y="279" width="1" height="1" fill="#ffde21"/>
<rect x="466" y="280" width="1" height="1" fill="#ff9700"/>
<rect x="466" y="281" width="1" height="1" fill="#ffcc04"/>
<rect x="466" y="283" width="1" height="1" fill="#ff9700"/>
<rect x="466" y="284" width="1" height="2" fill="#ff9700"/>
<rect x="466" y="292" width="1" height="2" fill="#ffb700"/>
<rect x="466" y="293" width="1" height="1" fill="#ffde21"/>
<rect x="466" y="294" width="1" height="1" fill="#ff9700"/>
<rect x="466" y="295" width="1" height="1" fill="#ffb700"/>
<rect x="466" y="296" width="1" height="1" fill="#ff9700"/>
<rect x="466" y="297" width="1" height="2" fill="#ffde21"/>
<rect x="466" y="300" width="1" height="2" fill="#ffcc04"/>
<rect x="467" y="226" width="1" height="1" fill="#fc5500"/>
<rect x="467" y="229" width="1" height="1" fill="#f94000"/>
<rect x="467" y="237" width="1" height="1" fill="#f94000"/>
<rect x="467" y="259" width="1" height="1" fill="#ff9700"/>
<rect x="467" y="264" width="1" height="1" fill="#ffcc04"/>
<rect x="467" y="266" width="1" height="1" fill="#ff9700"/>
<rect x="467" y="269" width="1" height="1" fill="#ffcc04"/>
<rect x="467" y="275" width="1" height="1" fill="#ffcc04"/>
<rect x="467" y="276" width="1" height="1" fill="#ffde21"/>
<rect x="467" y="277" width="1" height="1" fill="#ffcc04"/>
<rect x="467" y="288" width="1" height="1" fill="#ffde21"/>
<rect x="467" y="295" width="1" height="1" fill="#ff9700"/>
<rect x="467" y="296" width="1" height="2" fill="#ffde21"/>
<rect x="467" y="298" width="1" height="2" fill="#ffcc04"/>
<rect x="471" y="190" width="1" height="1" fill="#f94000"/>
<rect x="471" y="198" width="1" height="1" fill="#fd6900"/>
<rect x="471" y="215" width="1" height="1" fill="#fd6900"/>
<rect x="471" y="238" width="1" height="1" fill="#fc5500"/>
<rect x="471" y="260" width="1" height="1" fill="#ffb700"/>
<rect x="471" y="266" width="1" height="2" fill="#ffde21"/>
<rect x="471" y="270" width="1" height="2" fill="#ff9700"/>
<rect x="471" y="272" width="1" height="1" fill="#ffb700"/>
<rect x="471" y="275" width="1" height="1" fill="#ffcc04"/>
<rect x="471" y="276" width="1" height="2" fill="#ffb700"/>
<rect x="471" y="283" width="1" height="1" fill="#ffde21"/>
<rect x="471" y="284" width="1" height="2" fill="#ffcc04"/>
<rect x="471" y="288" width="1" height="1" fill="#ffcc04"/>
<rect x="471" y="289" width="1" height="2" fill="#ff9700"/>
<rect x="471" y="290" width="1" height="2" fill="#ffcc04"/>
<rect x="471" y="291" width="1" height="1" fill="#ffcc04"/>
<rect x="471" y="292" width="1" height="1" fill="#ffb700"/>
<rect x="472" y="194" width="1" height="1" fill="#f94000"/>
<rect x="472" y="228" width="1" height="1" fill="#fd6900"/>
<rect x="472" y="252" width="1" height="2" fill="#ffcc04"/>
<rect x="472" y="254" width="1" height="1" fill="#ffcc04"/>
<rect x="472" y="260" width="1" height="1" fill="#ffb700"/>
<rect x="472" y="265" width="1" height="1" fill="#ffde21"/>
<rect x="472" y="269" width="1" height="2" fill="#ff9700"/>
<rect x="472" y="276" width="1" height="2" fill="#ffcc04"/>
<rect x="472" y="280" width="1" height="1" fill="#ffb700"/>
<rect x="472" y="284" width="1" height="2" fill="#ffb700"/>
<rect x="472" y="285" width="1" height="1" fill="#ffde21"/>
<rect x="472" y="287" width="1" height="1" fill="#ffb700"/>
<rect x="472" y="288" width="1" height="2" fill="#ffde21"/>
<rect x="472" y="295" width="1" height="1" fill="#ff9700"/>
<rect x="472" y="299" width="1" height="1" fill="#ffde21"/>
<rect x="472" y="300" width="1" height="1" fill="#ffcc04"/>
<rect x="473" y="196" width="1" height="1" fill="#fc5500"/>
<rect x="473" y="231" width="1" height="1" fill="#f94000"/>
<rect x="473" y="257" width="1" height="1" fill="#ffcc04"/>
<rect x="473" y="260" width="1" height="1" fill="#ff9700"/>
<rect x="473" y="262" width="1" height="1" fill="#ffcc04"/>
<rect x="473" y="264" width="1" height="2" fill="#ffde21"/>
<rect x="473" y="265" width="1" height="1" fill="#ff9700"/>
<rect x="473" y="267" width="1" height="1" fill="#ffb700"/>
<rect x="473" y="268" width="1" height="2" fill="#ffde21"/>
<rect x="473" y="272" width="1" height="1" fill="#ffb700"/>
<rect x="473" y="273" width="1" height="1" fill="#ffcc04"/>
<rect x="473" y="277" width="1" height="1" fill="#ffb700"/>
<rect x="473" y="280" width="1" height="1" fill="#ff9700"/>
<rect x="473" y="282" width="1" height="2" fill="#ffb700"/>
<rect x="473" y="288" width="1" height="2" fill="#ffb700"/>
<rect x="473" y="289" width="1" height="2" fill="#ffb700"/>
<rect x="473" y="291" width="1" height="1" fill="#ffcc04"/>
<rect x="473" y="292" width="1" height="1" fill="#ffcc04"/>
<rect x="473" y="293" width="1" height="1" fill="#ffde21"/>
<rect x="473" y="297" width="1" height="2" fill="#ffb700"/>
<rect x="474" y="197" width="1" height="1" fill="#f94000"/>
<rect x="474" y="198" width="1" height="1" fill="#fd6900"/>
<rect x="474" y="203" width="1" height="1" fill="#fd6900"/>
<rect x="474" y="219" width="1" height="1" fill="#fd6900"/>
<rect x="474" y="249" width="1" height="1" fill="#f94000"/>
<rect x="474" y="257" width="1" height="1" fill="#ffb700"/>
<rect x="474" y="262" width="1" height="1" fill="#ffcc04"/>
<rect x="474" y="266" width="1" height="2" fill="#ffde21"/>
<rect x="474" y="271" width="1" height="1" fill="#ffb700"/>
<rect x="474" y="274" width="1" height="1" fill="#ff9700"/>
<rect x="474" y="282" width="1" height="1" fill="#ff9700"/>
<rect x="474" y="283" width="1" height="1" fill="#ffcc04"/>
<rect x="474" y="295" width="1" height="1" fill="#ff9700"/>
<rect x="474" y="299" width="1" height="1" fill="#ffde21"/>
<rect x="475" y="212" width="1" height="1" fill="#fc5500"/>
<rect x="475" y="215" width="1" height="1" fill="#fc5500"/>
<rect x="475" y="226" width="1" height="1" fill="#fd6900"/>
<rect x="475" y="238" width="1" height="1" fill="#f94000"/>
<rect x="475" y="254" width="1" height="2" fill="#ffde21"/>
<rect x="475" y="267" width="1" height="1" fill="#ffb700"/>
<rect x="475" y="268" width="1" height="1" fill="#ffcc04"/>
<rect x="475" y="272" width="1" height="1" fill="#ffb700"/>
<rect x="475" y="274" width="1" height="1" fill="#ffde21"/>
<rect x="475" y="278" width="1" height="1" fill="#ff9700"/>
<rect x="475" y="280" width="1" height="1" fill="#ffde21"/>
<rect x="475" y="282" width="1" height="2" fill="#ffb700"/>
<rect x="475" y="285" width="1" height="2" fill="#ff9700"/>
<rect x="475" y="292" width="1" height="1" fill="#ff9700"/>
<rect x="475" y="295" width="1" height="2" fill="#ffde21"/>
<rect x="475" y="296" width="1" height="1" fill="#ffb700"/>
<rect x="475" y="299" width="1" height="1" fill="#ffde21"/>
<rect x="475" y="300" width="1" height="1" fill="#ffde21"/>
<rect x="481" y="201" width="1" height="1" fill="#f94000"/>
<rect x="481" y="204" width="1" height="1" fill="#fd6900"/>
<rect x="481" y="206" width="1" height="1" fill="#fd6900"/>
<rect x="481" y="213" width="1" height="1" fill="#fc5500"/>
<rect x="481" y="219" width="1" height="1" fill="#f94000"/>
<rect x="481" y="226" width="1" height="1" fill="#fd6900"/>
<rect x="481" y="248" width="1" height="1" fill="#fd6900"/>
<rect x="481" y="267" width="1" height="1" fill="#ffcc04"/>
<rect x="481" y="276" width="1" height="2" fill="#ffcc04"/>
<rect x="481" y="277" width="1" height="1" fill="#ffb700"/>
<rect x="481" y="278" width="1" height="2" fill="#ffde21"/>
<rect x="481" y="282" width="1" height="1" fill="#ff9700"/>
<rect x="481" y="286" width="1" height="1" fill="#ffde21"/>
<rect x="481" y="287" width="1" height="2" fill="#ffcc04"/>
<rect x="481" y="288" width="1" height="1" fill="#ffb700"/>
<rect x="481" y="289" width="1" height="2" fill="#ffde21"/>
<rect x="481" y="290" width="1" height="1" fill="#ffde21"/>
<rect x="481" y="293" width="1" height="1" fill="#ffb700"/>
<rect x="481" y="300" width="1" height="1" fill="#ff9700"/>
<rect x="482" y="198" width="1" height="1" fill="#f94000"/>
<rect x="482" y="200" width="1" height="1" fill="#fc5500"/>
<rect x="482" y="205" width="1" height="1" fill="#f94000"/>
<rect x="482" y="214" width="1" height="1" fill="#f94000"/>
<rect x="482" y="215" width="1" height="1" fill="#f94000"/>
<rect x="482" y="224" width="1" height="1" fill="#fc5500"/>
<rect x="482" y="248" width="1" height="1" fill="#fc5500"/>
<rect x="482" y="259" width="1" height="2" fill="#ff9700"/>
<rect x="482" y="268" width="1" height="1" fill="#ffb700"/>
<rect x="482" y="274" width="1" height="1" fill="#ffcc04"/>
<rect x="482" y="281" width="1" height="2" fill="#ffb700"/>
<rect x="482" y="286" width="1" height="1" fill="#ffcc04"/>
<rect x="482" y="289" width="1" height="1" fill="#ffb700"/>
<rect x="482" y="291" width="1" height="1" fill="#ff9700"/>
<rect x="482" y="292" width="1" height="1" fill="#ff9700"/>
<rect x="482" y="293" width="1" height="1" fill="#ffb700"/>
<rect x="482" y="297" width="1" height="2" fill="#ff9700"/>
<rect x="483" y="196" width="1" height="1" fill="#fc5500"/>
<rect x="483" y="212" width="1" height="1" fill="#fc5500"/>
<rect x="483" y="213" width="1" height="1" fill="#fc5500"/>
<rect x="483" y="232" width="1" height="1" fill="#fc5500"/>
<rect x="483" y="238" width="1" height="1" fill="#f94000"/>
<rect x="483" y="246" width="1" height="1" fill="#fc5500"/>
<rect x="483" y="251" width="1" height="1" fill="#fd6900"/>
<rect x="483" y="260" width="1" height="1" fill="#ffde21"/>
<rect x="483" y="262" width="1" height="1" fill="#ffcc04"/>
<rect x="483" y="263" width="1" height="2" fill="#ffde21"/>
<rect x="483" y="265" width="1" height="1" fill="#ffde21"/>
<rect x="483" y="266" width="1" height="2" fill="#ffde21"/>
<rect x="483" y="267" width="1" height="1" fill="#ff9700"/>
<rect x="483" y="273" width="1" height="2" fill="#ff9700"/>
<rect x="483" y="274" width="1" height="1" fill="#ff9700"/>
<rect x="483" y="276" width="1" height="2" fill="#ff9700"/>
<rect x="483" y="277" width="1" height="1" fill="#ffcc04"/>
<rect x="483" y="281" width="1" height="1" fill="#ffcc04"/>
<rect x="483" y="282" width="1" height="2" fill="#ff9700"/>
<rect x="483" y="292" width="1" height="1" fill="#ff9700"/>
<rect x="483" y="296" width="1" height="1" fill="#ffcc04"/>
<rect x="483" y="297" width="1" height="1" fill="#ffcc04"/>
<rect x="483" y="298" width="1" height="1" fill="#ffb700"/>
<rect x="484" y="197" width="1" height="1" fill="#fc5500"/>
<rect x="484" y="247" width="1" height="1" fill="#fc5500"/>
<rect x="484" y="250" width="1" height="1" fill="#fd6900"/>
<rect x="484" y="260" width="1" height="1" fill="#ffb700"/>
<rect x="484" y="261" width="1" height="2" fill="#ffde21"/>
<rect x="484" y="266" width="1" height="1" fill="#ffb700"/>
<rect x="484" y="269" width="1" height="2" fill="#ffb700"/>
<rect x="484" y="270" width="1" height="1" fill="#ffb700"/>
<rect x="484" y="273" width="1" height="1" fill="#ffb700"/>
<rect x="484" y="279" width="1" height="2" fill="#ffde21"/>
<rect x="484" y="280" width="1" height="2" fill="#ffde21"/>
<rect x="484" y="283" width="1" height="1" fill="#ffde21"/>
<rect x="484" y="284" width="1" height="2" fill="#ffb700"/>
<rect x="484" y="286" width="1" height="2" fill="#ff9700"/>
<rect x="484" y="290" width="1" height="1" fill="#ffb700"/>
<rect x="485" y="187" width="1" height="1" fill="#fd6900"/>
<rect x="485" y="194" width="1" height="1" fill="#f94000"/>
<rect x="485" y="204" width="1" height="1" fill="#fd6900"/>
<rect x="485" y="205" width="1" height="1" fill="#fd6900"/>
<rect x="485" y="225" width="1" height="1" fill="#f94000"/>
<rect x="485" y="229" width="1" height="1" fill="#f94000"/>
<rect x="485" y="234" width="1" height="1" fill="#f94000"/>
<rect x="485" y="245" width="1" height="1" fill="#f94000"/>
<rect x="485" y="253" width="1" height="1" fill="#ff9700"/>
<rect x="485" y="260" width="1" height="1" fill="#ff9700"/>
<rect x="485" y="262" width="1" height="1" fill="#ff9700"/>
<rect x="485" y="267" width="1" height="1" fill="#ff9700"/>
<rect x="485" y="272" width="1" height="2" fill="#ffb700"/>
<rect x="485" y="274" width="1" height="1" fill="#ffb700"/>
<rect x="485" y="280" width="1" height="2" fill="#ff9700"/>
<rect x="485" y="287" width="1" height="1" fill="#ff9700"/>
<rect x="485" y="294" width="1" height="2" fill="#ffde21"/>
<rect x="485" y="299" width="1" height="1" fill="#ffcc04"/>
<rect x="486" y="188" width="1" height="1" fill="#fc5500"/>
<rect x="486" y="193" width="1" height="1" fill="#f94000"/>
<rect x="486" y="194" width="1" height="1" fill="#f94000"/>
<rect x="486" y="204" width="1" height="1" fill="#fc5500"/>
<rect x="486" y="238" width="1" height="1" fill="#f94000"/>
<rect x="486" y="258" width="1" height="1" fill="#ff9700"/>
<rect x="486" y="264" width="1" height="2" fill="#ffcc04"/>
<rect x="486" y="270" width="1" height="1" fill="#ff9700"/>
<rect x="486" y="272" width="1" height="1" fill="#ffb700"/>
<rect x="486" y="278" width="1" height="1" fill="#ffcc04"/>
<rect x="486" y="279" width="1" height="2" fill="#ffb700"/>
<rect x="486" y="283" width="1" height="1" fill="#ffde21"/>
<rect x="486" y="285" width="1" height="1" fill="#ffde21"/>
<rect x="486" y="292" width="1" height="1" fill="#ffde21"/>
<rect x="486" y="295" width="1" height="1" fill="#ffcc04"/>
<rect x="487" y="187" width="1" height="1" fill="#fd6900"/>
<rect x="487" y="190" width="1" height="1" fill="#fc5500"/>
<rect x="487" y="230" width="1" height="1" fill="#f94000"/>
<rect x="487" y="231" width="1" height="1" fill="#fd6900"/>
<rect x="487" y="254" width="1" height="1" fill="#ff9700"/>
<rect x="487" y="255" width="1" height="1" fill="#ffde21"/>
<rect x="487" y="257" width="1" height="2" fill="#ffb700"/>
<rect x="487" y="261" width="1" height="1" fill="#ffb700"/>
<rect x="487" y="265" width="1" height="2" fill="#ffde21"/>
<rect x="487" y="266" width="1" height="1" fill="#ff9700"/>
<rect x="487" y="268" width="1" height="2" fill="#ffcc04"/>
<rect x="487" y="269" width="1" height="1" fill="#ffde21"/>
<rect x="487" y="270" width="1" height="2" fill="#ff9700"/>
<rect x="487" y="271" width="1" height="2" fill="#ffcc04"/>
<rect x="487" y="272" width="1" height="1" fill="#ff9700"/>
<rect x="487" y="277" width="1" height="1" fill="#ffcc04"/>
<rect x="487" y="281" width="1" height="2" fill="#ffcc04"/>
<rect x="487" y="289" width="1" height="1" fill="#ffcc04"/>
<rect x="487" y="290" width="1" height="1" fill="#ff9700"/>
<rect x="487" y="292" width="1" height="1" fill="#ffcc04"/>
<rect x="488" y="205" width="1" height="1" fill="#fc5500"/>
<rect x="488" y="207" width="1" height="1" fill="#fc5500"/>
<rect x="488" y="211" width="1" height="1" fill="#f94000"/>
<rect x="488" y="221" width="1" height="1" fill="#f94000"/>
<rect x="488" y="257" width="1" height="1" fill="#ffcc04"/>
<rect x="488" y="258" width="1" height="2" fill="#ff9700"/>
<rect x="488" y="262" width="1" height="1" fill="#ff9700"/>
<rect x="488" y="263" width="1" height="2" fill="#ffb700"/>
<rect x="488" y="264" width="1" height="1" fill="#ffde21"/>
<rect x="488" y="268" width="1" height="2" fill="#ffb700"/>
<rect x="488" y="269" width="1" height="1" fill="#ff9700"/>
<rect x="488" y="270" width="1" height="1" fill="#ff9700"/>
<rect x="488" y="273" width="1" height="2" fill="#ffcc04"/>
<rect x="488" y="274" width="1" height="2" fill="#ff9700"/>
<rect x="488" y="278" width="1" height="1" fill="#ffb700"/>
<rect x="488" y="279" width="1" height="1" fill="#ffde21"/>
<rect x="488" y="281" width="1" height="2" fill="#ffcc04"/>
<rect x="488" y="282" width="1" height="1" fill="#ffb700"/>
<rect x="488" y="285" width="1" height="2" fill="#ff9700"/>
<rect x="488" y="286" width="1" height="1" fill="#ffde21"/>
<rect x="488" y="287" width="1" height="1" fill="#ffcc04"/>
<rect x="488" y="290" width="1" height="1" fill="#ffde21"/>
<rect x="489" y="212" width="1" height="1" fill="#fd6900"/>
<rect x="489" y="229" width="1" height="1" fill="#f94000"/>
<rect x="489" y="234" width="1" height="1" fill="#fd6900"/>
<rect x="489" y="237" width="1" height="1" fill="#f94000"/>
<rect x="489" y="241" width="1" height="1" fill="#f94000"/>
<rect x="489" y="251" width="1" height="1" fill="#fd6900"/>
<rect x="489" y="252" width="1" height="1" fill="#ffb700"/>
<rect x="489" y="259" width="1" height="2" fill="#ffb700"/>
<rect x="489" y="263" width="1" height="1" fill="#ff9700"/>
<rect x="489" y="264" width="1" height="2" fill="#ffcc04"/>
<rect x="489" y="266" width="1" height="1" fill="#ffde21"/>
<rect x="489" y="267" width="1" height="1" fill="#ffde21"/>
<rect x="489" y="268" width="1" height="1" fill="#ffde21"/>
<rect x="489" y="269" width="1" height="1" fill="#ff9700"/>
<rect x="489" y="271" width="1" height="1" fill="#ffde21"/>
<rect x="489" y="272" width="1" height="1" fill="#ff9700"/>
<rect x="489" y="277" width="1" height="1" fill="#ffde21"/>
<rect x="489" y="281" width="1" height="2" fill="#ffde21"/>
<rect x="489" y="287" width="1" height="2" fill="#ff9700"/>
<rect x="489" y="289" width="1" height="2" fill="#ffde21"/>
<rect x="489" y="300" width="1" height="2" fill="#ffcc04"/>
<rect x="490" y="201" width="1" height="1" fill="#f94000"/>
<rect x="490" y="229" width="1" height="1" fill="#fd6900"/>
<rect x="490" y="230" width="1" height="1" fill="#fc5500"/>
<rect x="490" y="241" width="1" height="1" fill="#fd6900"/>
<rect x="490" y="243" width="1" height="1" fill="#fd6900"/>
<rect x="490" y="252" width="1" height="1" fill="#ff9700"/>
<rect x="490" y="254" width="1" height="1" fill="#ff9700"/>
<rect x="490" y="258" width="1" height="1" fill="#ffb700"/>
<rect x="490" y="259" width="1" height="1" fill="#ffde21"/>
<rect x="490" y="267" width="1" height="2" fill="#ffcc04"/>
<rect x="490" y="269" width="1" height="1" fill="#ffb700"/>
<rect x="490" y="276" width="1" height="1" fill="#ffcc04"/>
<rect x="490" y="280" width="1" height="1" fill="#ffb700"/>
<rect x="490" y="282" width="1" height="1" fill="#ffde21"/>
<rect x="490" y="286" width="1" height="2" fill="#ffb700"/>
<rect x="490" y="293" width="1" height="1" fill="#ffde21"/>
<rect x="490" y="297" width="1" height="1" fill="#ff9700"/>
<rect x="490" y="298" width="1" height="1" fill="#ffde21"/>
<rect x="493" y="187" width="1" height="1" fill="#fd6900"/>
<rect x="493" y="201" width="1" height="1" fill="#fc5500"/>
<rect x="493" y="202" width="1" height="1" fill="#fc5500"/>
<rect x="493" y="213" width="1" height="1" fill="#fc5500"/>
<rect x="493" y="218" width="1" height="1" fill="#fd6900"/>
<rect x="493" y="234" width="1" height="1" fill="#fd6900"/>
<rect x="493" y="243" width="1" height="1" fill="#f94000"/>
<rect x="493" y="255" width="1" height="2" fill="#ffcc04"/>
<rect x="493" y="265" width="1" height="1" fill="#ffb700"/>
<rect x="493" y="270" width="1" height="2" fill="#ffde21"/>
<rect x="493" y="273" width="1" height="2" fill="#ff9700"/>
<rect x="493" y="274" width="1" height="2" fill="#ffde21"/>
<rect x="493" y="275" width="1" height="1" fill="#ffde21"/>
<rect x="493" y="277" width="1" height="1" fill="#ffde21"/>
<rect x="493" y="278" width="1" height="2" fill="#ffb700"/>
<rect x="493" y="282" width="1" height="1" fill="#ffcc04"/>
<rect x="493" y="283" width="1" height="1" fill="#ffb700"/>
<rect x="493" y="288" width="1" height="1" fill="#ffb700"/>
<rect x="493" y="289" width="1" height="2" fill="#ff9700"/>
<rect x="493" y="297" width="1" height="1" fill="#ffb700"/>
<rect x="493" y="300" width="1" height="2" fill="#ffcc04"/>
<rect x="494" y="195" width="1" height="1" fill="#fc5500"/>
<rect x="494" y="203" width="1" height="1" fill="#fc5500"/>
<rect x="494" y="212" width="1" height="1" fill="#fd6900"/>
<rect x="494" y="220" width="1" height="1" fill="#fd6900"/>
<rect x="494" y="223" width="1" height="1" fill="#fc5500"/>
<rect x="494" y="238" width="1" height="1" fill="#fd6900"/>
<rect x="494" y="254" width="1" height="1" fill="#ffb700"/>
<rect x="494" y="265" width="1" height="2" fill="#ffb700"/>
<rect x="494" y="268" width="1" height="2" fill="#ff9700"/>
<rect x="494" y="272" width="1" height="1" fill="#ffb700"/>
<rect x="494" y="276" width="1" height="1" fill="#ff9700"/>
<rect x="494" y="277" width="1" height="1" fill="#ff9700"/>
<rect x="494" y="283" width="1" height="1" fill="#ffde21"/>
<rect x="494" y="286" width="1" height="2" fill="#ffde21"/>
<rect x="494" y="294" width="1" height="1" fill="#ffb700"/>
<rect x="494" y="295" width="1" height="1" fill="#ff9700"/>
<rect x="494" y="296" width="1" height="1" fill="#ff9700"/>
<rect x="495" y="200" width="1" height="1" fill="#fd6900"/>
<rect x="495" y="225" width="1" height="1" fill="#fd6900"/>
<rect x="495" y="231" width="1" height="1" fill="#fd6900"/>
<rect x="495" y="232" width="1" height="1" fill="#fd6900"/>
<rect x="495" y="240" width="1" height="1" fill="#fd6900"/>
<rect x="495" y="243" width="1" height="1" fill="#fc5500"/>
<rect x="495" y="248" width="1" height="1" fill="#f94000"/>
<rect x="495" y="251" width="1" height="1" fill="#f94000"/>
<rect x="495" y="261" width="1" height="1" fill="#ffcc04"/>
<rect x="495" y="267" width="1" height="2" fill="#ffde21"/>
<rect x="495" y="271" width="1" height="1" fill="#ffb700"/>
<rect x="495" y="274" width="1" height="1" fill="#ffde21"/>
<rect x="495" y="278" width="1" height="1" fill="#ffde21"/>
<rect x="495" y="280" width="1" height="2" fill="#ffcc04"/>
<rect x="495" y="282" width="1" height="1" fill="#ffde21"/>
<rect x="495" y="284" width="1" height="1" fill="#ffde21"/>
<rect x="495" y="292" width="1" height="2" fill="#ffde21"/>
<rect x="495" y="294" width="1" height="1" fill="#ffb700"/>
<rect x="495" y="296" width="1" height="2" fill="#ffb700"/>
<rect x="495" y="300" width="1" height="1" fill="#ff9700"/>
<rect x="496" y="188" width="1" height="1" fill="#fd6900"/>
<rect x="496" y="191" width="1" height="1" fill="#fc5500"/>
<rect x="496" y="194" width="1" height="1" fill="#fd6900"/>
<rect x="496" y="196" width="1" height="1" fill="#fc5500"/>
<rect x="496" y="200" width="1" height="1" fill="#f94000"/>
<rect x="496" y="206" width="1" height="1" fill="#f94000"/>
<rect x="496" y="208" width="1" height="1" fill="#fd6900"/>
<rect x="496" y="209" width="1" height="1" fill="#fc5500"/>
<rect x="496" y="248" width="1" height="1" fill="#fc5500"/>
<rect x="496" y="258" width="1" height="1" fill="#ff9700"/>
<rect x="496" y="261" width="1" height="2" fill="#ffb700"/>
<rect x="496" y="264" width="1" height="1" fill="#ff9700"/>
<rect x="496" y="265" width="1" height="2" fill="#ffcc04"/>
<rect x="496" y="271" width="1" height="2" fill="#ffcc04"/>
<rect x="496" y="281" width="1" height="1" fill="#ffde21"/>
<rect x="496" y="284" width="1" height="2" fill="#ffb700"/>
<rect x="496" y="286" width="1" height="1" fill="#ffde21"/>
<rect x="497" y="226" width="1" height="1" fill="#fc5500"/>
<rect x="497" y="236" width="1" height="1" fill="#fc5500"/>
<rect x="497" y="245" width="1" height="1" fill="#fd6900"/>
<rect x="497" y="252" width="1" height="1" fill="#ffb700"/>
<rect x="497" y="267" width="1" height="1" fill="#ffb700"/>
<rect x="497" y="268" width="1" height="2" fill="#ffcc04"/>
<rect x="497" y="270" width="1" height="1" fill="#ffb700"/>
<rect x="497" y="278" width="1" height="1" fill="#ffde21"/>
<rect x="497" y="286" width="1" height="2" fill="#ffde21"/>
<rect x="497" y="288" width="1" height="2" fill="#ffcc04"/>
<rect x="497" y="290" width="1" height="1" fill="#ffcc04"/>
<rect x="497" y="291" width="1" height="2" fill="#ffcc04"/>
<rect x="497" y="295" width="1" height="2" fill="#ffde21"/>
<rect x="497" y="297" width="1" height="2" fill="#ffb700"/>
<rect x="497" y="298" width="1" height="1" fill="#ffcc04"/>
<rect x="497" y="299" width="1" height="2" fill="#ffde21"/>
<rect x="497" y="300" width="1" height="2" fill="#ffcc04"/>
<rect x="503" y="186" width="1" height="1" fill="#fc5500"/>
<rect x="503" y="247" width="1" height="1" fill="#fd6900"/>
<rect x="503" y="260" width="1" height="2" fill="#ffcc04"/>
<rect x="503" y="263" width="1" height="1" fill="#ffde21"/>
<rect x="503" y="266" width="1" height="1" fill="#ff9700"/>
<rect x="503" y="267" width="1" height="1" fill="#ff9700"/>
<rect x="503" y="272" width="1" height="1" fill="#ffde21"/>
<rect x="503" y="275" width="1" height="2" fill="#ff9700"/>
<rect x="503" y="282" width="1" height="1" fill="#ffb700"/>
<rect x="503" y="283" width="1" height="1" fill="#ff9700"/>
<rect x="503" y="284" width="1" height="1" fill="#ff9700"/>
<rect x="503" y="286" width="1" height="1" fill="#ff9700"/>
<rect x="503" y="289" width="1" height="1" fill="#ffcc04"/>
<rect x="503" y="292" width="1" height="1" fill="#ff9700"/>
<rect x="503" y="294" width="1" height="1" fill="#ff9700"/>
<rect x="503" y="296" width="1" height="2" fill="#ffcc04"/>
<rect x="504" y="189" width="1" height="1" fill="#fd6900"/>
<rect x="504" y="200" width="1" height="1" fill="#f94000"/>
<rect x="504" y="202" width="1" height="1" fill="#f94000"/>
<rect x="504" y="203" width="1" height="1" fill="#fc5500"/>
<rect x="504" y="214" width="1" height="1" fill="#fd6900"/>
<rect x="504" y="220" width="1" height="1" fill="#f94000"/>
<rect x="504" y="228" width="1" height="1" fill="#fd6900"/>
<rect x="504" y="230" width="1" height="1" fill="#fd6900"/>
<rect x="504" y="244" width="1" height="1" fill="#f94000"/>
<rect x="504" y="254" width="1" height="1" fill="#ffb700"/>
<rect x="504" y="260" width="1" height="1" fill="#ff9700"/>
<rect x="504" y="264" width="1" height="1" fill="#ffb700"/>
<rect x="504" y="266" width="1" height="1" fill="#ffb700"/>
<rect x="504" y="269" width="1" height="2" fill="#ff9700"/>
<rect x="504" y="275" width="1" height="2" fill="#ff9700"/>
<rect x="504" y="277" width="1" height="1" fill="#ff9700"/>
<rect x="504" y="280" width="1" height="1" fill="#ff9700"/>
<rect x="504" y="285" width="1" height="2" fill="#ffb700"/>
<rect x="504" y="286" width="1" height="2" fill="#ffb700"/>
<rect x="504" y="292" width="1" height="2" fill="#ffb700"/>
<rect x="504" y="296" width="1" height="1" fill="#ffcc04"/>
<rect x="504" y="299" width="1" height="2" fill="#ffcc04"/>
<rect x="505" y="201" width="1" height="1" fill="#fd6900"/>
<rect x="505" y="203" width="1" height="1" fill="#f94000"/>
<rect x="505" y="209" width="1" height="1" fill="#fd6900"/>
<rect x="505" y="216" width="1" height="1" fill="#fd6900"/>
<rect x="505" y="231" width="1" height="1" fill="#f94000"/>
<rect x="505" y="255" width="1" height="1" fill="#ff9700"/>
<rect x="505" y="260" width="1" height="1" fill="#ffcc04"/>
<rect x="505" y="262" width="1" height="1" fill="#ffb700"/>
<rect x="505" y="273" width="1" height="2" fill="#ffb700"/>
<rect x="505" y="276" width="1" height="2" fill="#ffb700"/>
<rect x="505" y="278" width="1" height="1" fill="#ffb700"/>
<rect x="505" y="279" width="1" height="2" fill="#ffcc04"/>
<rect x="505" y="281" width="1" height="1" fill="#ffcc04"/>
<rect x="505" y="282" width="1" height="1" fill="#ffcc04"/>
<rect x="505" y="283" width="1" height="2" fill="#ffcc04"/>
<rect x="505" y="292" width="1" height="1" fill="#ffb700"/>
<rect x="505" y="295" width="1" height="2" fill="#ffb700"/>
<rect x="505" y="296" width="1" height="1" fill="#ff9700"/>
<rect x="505" y="300" width="1" height="2" fill="#ffb700"/>
<rect x="506" y="187" width="1" height="1" fill="#f94000"/>
<rect x="506" y="197" width="1" height="1" fill="#fc5500"/>
<rect x="506" y="199" width="1" height="1" fill="#f94000"/>
<rect x="506" y="215" width="1" height="1" fill="#fd6900"/>
<rect x="506" y="219" width="1" height="1" fill="#fd6900"/>
<rect x="506" y="252" width="1" height="2" fill="#ffcc04"/>
<rect x="506" y="259" width="1" height="1" fill="#ffde21"/>
<rect x="506" y="263" width="1" height="1" fill="#ffb700"/>
<rect x="506" y="268" width="1" height="1" fill="#ffb700"/>
<rect x="506" y="285" width="1" height="1" fill="#ff9700"/>
<rect x="506" y="286" width="1" height="1" fill="#ff9700"/>
<rect x="506" y="288" width="1" height="1" fill="#ffcc04"/>
<rect x="506" y="293" width="1" height="2" fill="#ffb700"/>
<rect x="506" y="297" width="1" height="1" fill="#ffb700"/>
<rect x="507" y="185" width="1" height="1" fill="#fc5500"/>
<rect x="507" y="218" width="1" height="1" fill="#f94000"/>
<rect x="507" y="221" width="1" height="1" fill="#fc5500"/>
<rect x="507" y="233" width="1" height="1" fill="#fc5500"/>
<rect x="507" y="243" width="1" height="1" fill="#fc5500"/>
<rect x="507" y="255" width="1" height="2" fill="#ffcc04"/>
<rect x="507" y="262" width="1" height="2" fill="#ffde21"/>
<rect x="507" y="265" width="1" height="1" fill="#ffcc04"/>
<rect x="507" y="269" width="1" height="2" fill="#ffde21"/>
<rect x="507" y="271" width="1" height="1" fill="#ffcc04"/>
<rect x="507" y="272" width="1" height="1" fill="#ffb700"/>
<rect x="507" y="275" width="1" height="1" fill="#ffb700"/>
<rect x="507" y="283" width="1" height="2" fill="#ffb700"/>
<rect x="507" y="285" width="1" height="2" fill="#ffb700"/>
<rect x="507" y="290" width="1" height="2" fill="#ffcc04"/>
<rect x="507" y="293" width="1" height="1" fill="#ffde21"/>
<rect x="507" y="298" width="1" height="2" fill="#ff9700"/>
<rect x="507" y="299" width="1" height="1" fill="#ff9700"/>
<rect x="507" y="300" width="1" height="2" fill="#ffcc04"/>
<rect x="509" y="185" width="1" height="1" fill="#f94000"/>
<rect x="509" y="200" width="1" height="1" fill="#fc5500"/>
<rect x="509" y="215" width="1" height="1" fill="#f94000"/>
<rect x="509" y="227" width="1" height="1" fill="#fd6900"/>
<rect x="509" y="243" width="1" height="1" fill="#fc5500"/>
<rect x="509" y="261" width="1" height="1" fill="#ffcc04"/>
<rect x="509" y="267" width="1" height="1" fill="#ff9700"/>
<rect x="509" y="271" width="1" height="1" fill="#ffde21"/>
<rect x="509" y="275" width="1" height="2" fill="#ff9700"/>
<rect x="509" y="278" width="1" height="1" fill="#ff9700"/>
<rect x="509" y="279" width="1" height="1" fill="#ff9700"/>
<rect x="509" y="287" width="1" height="1" fill="#ffb700"/>
<rect x="509" y="288" width="1" height="1" fill="#ffb700"/>
<rect x="509" y="292" width="1" height="1" fill="#ffcc04"/>
<rect x="509" y="299" width="1" height="2" fill="#ff9700"/>
<rect x="510" y="200" width="1" height="1" fill="#fd6900"/>
<rect x="510" y="206" width="1" height="1" fill="#f94000"/>
<rect x="510" y="216" width="1" height="1" fill="#fc5500"/>
<rect x="510" y="240" width="1" height="1" fill="#fd6900"/>
<rect x="510" y="255" width="1" height="1" fill="#ffb700"/>
<rect x="510" y="269" width="1" height="2" fill="#ffcc04"/>
<rect x="510" y="271" width="1" height="2" fill="#ffcc04"/>
<rect x="510" y="278" width="1" height="2" fill="#ffde21"/>
<rect x="510" y="279" width="1" height="1" fill="#ffb700"/>
<rect x="510" y="287" width="1" height="1" fill="#ffcc04"/>
<rect x="510" y="295" width="1" height="1" fill="#ffde21"/>
<rect x="510" y="299" width="1" height="1" fill="#ffb700"/>
<rect x="511" y="185" width="1" height="1" fill="#fc5500"/>
<rect x="511" y="187" width="1" height="1" fill="#fd6900"/>
<rect x="511" y="207" width="1" height="1" fill="#f94000"/>
<rect x="511" y="227" width="1" height="1" fill="#f94000"/>
<rect x="511" y="234" width="1" height="1" fill="#fc5500"/>
<rect x="511" y="240" width="1" height="1" fill="#fd6900"/>
<rect x="511" y="252" width="1" height="1" fill="#ffde21"/>
<rect x="511" y="255" width="1" height="1" fill="#ffcc04"/>
<rect x="511" y="259" width="1" height="1" fill="#ffb700"/>
<rect x="511" y="261" width="1" height="1" fill="#ffb700"/>
<rect x="511" y="264" width="1" height="2" fill="#ffde21"/>
<rect x="511" y="269" width="1" height="1" fill="#ffcc04"/>
<rect x="511" y="270" width="1" height="2" fill="#ff9700"/>
<rect x="511" y="271" width="1" height="2" fill="#ffb700"/>
<rect x="511" y="276" width="1" height="1" fill="#ffb700"/>
<rect x="511" y="278" width="1" height="1" fill="#ffde21"/>
<rect x="511" y="279" width="1" height="1" fill="#ff9700"/>
<rect x="511" y="281" width="1" height="2" fill="#ffcc04"/>
<rect x="511" y="282" width="1" height="1" fill="#ffb700"/>
<rect x="511" y="283" width="1" height="1" fill="#ffde21"/>
<rect x="512" y="186" width="1" height="1" fill="#fd6900"/>
<rect x="512" y="203" width="1" height="1" fill="#f94000"/>
<rect x="512" y="208" width="1" height="1" fill="#f94000"/>
<rect x="512" y="211" width="1" height="1" fill="#f94000"/>
<rect x="512" y="212" width="1" height="1" fill="#f94000"/>
<rect x="512" y="248" width="1" height="1" fill="#fd6900"/>
<rect x="512" y="254" width="1" height="2" fill="#ffb700"/>
<rect x="512" y="256" width="1" height="1" fill="#ffcc04"/>
<rect x="512" y="258" width="1" height="1" fill="#ff9700"/>
<rect x="512" y="260" width="1" height="1" fill="#ffde21"/>
<rect x="512" y="261" width="1" height="2" fill="#ffb700"/>
<rect x="512" y="265" width="1" height="2" fill="#ffde21"/>
<rect x="512" y="266" width="1" height="2" fill="#ff9700"/>
<rect x="512" y="267" width="1" height="1" fill="#ff9700"/>
<rect x="512" y="269" width="1" height="1" fill="#ff9700"/>
<rect x="512" y="270" width="1" height="1" fill="#ffb700"/>
<rect x="512" y="274" width="1" height="1" fill="#ffde21"/>
<rect x="512" y="277" width="1" height="1" fill="#ff9700"/>
<rect x="512" y="278" width="1" height="1" fill="#ffde21"/>
<rect x="512" y="280" width="1" height="1" fill="#ffcc04"/>
<rect x="512" y="284" width="1" height="2" fill="#ffb700"/>
<rect x="512" y="285" width="1" height="1" fill="#ff9700"/>
<rect x="512" y="290" width="1" height="1" fill="#ffb700"/>
<rect x="512" y="292" width="1" height="2" fill="#ffde21"/>
<rect x="512" y="294" width="1" height="1" fill="#ffcc04"/>
<rect x="512" y="297" width="1" height="1" fill="#ff9700"/>
<rect x="512" y="298" width="1" height="1" fill="#ffde21"/>
<rect x="512" y="300" width="1" height="2" fill="#ffcc04"/>
<rect x="513" y="189" width="1" height="1" fill="#fd6900"/>
<rect x="513" y="192" width="1" height="1" fill="#f94000"/>
<rect x="513" y="200" width="1" height="1" fill="#f94000"/>
<rect x="513" y="223" width="1" height="1" fill="#fc5500"/>
<rect x="513" y="230" width="1" height="1" fill="#fc5500"/>
<rect x="513" y="236" width="1" height="1" fill="#f94000"/>
<rect x="513" y="248" width="1" height="1" fill="#fd6900"/>
<rect x="513" y="259" width="1" height="2" fill="#ff9700"/>
<rect x="513" y="264" width="1" height="1" fill="#ffde21"/>
<rect x="513" y="298" width="1" height="1" fill="#ffb700"/>
<rect x="514" y="203" width="1" height="1" fill="#fd6900"/>
<rect x="514" y="235" width="1" height="1" fill="#fd6900"/>
<rect x="514" y="247" width="1" height="1" fill="#f94000"/>
<rect x="514" y="248" width="1" height="1" fill="#f94000"/>
<rect x="514" y="267" width="1" height="1" fill="#ffcc04"/>
<rect x="514" y="283" width="1" height="1" fill="#ff9700"/>
<rect x="514" y="286" width="1" height="2" fill="#ffb700"/>
<rect x="514" y="289" width="1" height="1" fill="#ffcc04"/>
<rect x="514" y="294" width="1" height="1" fill="#ffb700"/>
<rect x="514" y="300" width="1" height="1" fill="#ffde21"/>
<rect x="515" y="197" width="1" height="1" fill="#fc5500"/>
<rect x="515" y="217" width="1" height="1" fill="#fc5500"/>
<rect x="515" y="245" width="1" height="1" fill="#fc5500"/>
<rect x="515" y="250" width="1" height="1" fill="#f94000"/>
<rect x="515" y="260" width="1" height="1" fill="#ffde21"/>
<rect x="515" y="262" width="1" height="1" fill="#ff9700"/>
<rect x="515" y="269" width="1" height="2" fill="#ffcc04"/>
<rect x="515" y="280" width="1" height="2" fill="#ffcc04"/>
<rect x="515" y="281" width="1" height="2" fill="#ff9700"/>
<rect x="516" y="210" width="1" height="1" fill="#fd6900"/>
<rect x="516" y="219" width="1" height="1" fill="#f94000"/>
<rect x="516" y="221" width="1" height="1" fill="#fc5500"/>
<rect x="516" y="238" width="1" height="1" fill="#fc5500"/>
<rect x="516" y="246" width="1" height="1" fill="#fd6900"/>
<rect x="516" y="256" width="1" height="1" fill="#ffde21"/>
<rect x="516" y="258" width="1" height="2" fill="#ffcc04"/>
<rect x="516" y="278" width="1" height="1" fill="#ffde21"/>
<rect x="516" y="279" width="1" height="1" fill="#ff9700"/>
<rect x="516" y="280" width="1" height="2" fill="#ff9700"/>
<rect x="516" y="282" width="1" height="1" fill="#ffb700"/>
<rect x="516" y="287" width="1" height="2" fill="#ff9700"/>
<rect x="516" y="290" width="1" height="1" fill="#ffb700"/>
<rect x="516" y="296" width="1" height="2" fill="#ffcc04"/>
<rect x="517" y="242" width="1" height="1" fill="#fd6900"/>
<rect x="517" y="255" width="1" height="2" fill="#ffb700"/>
<rect x="517" y="277" width="1" height="2" fill="#ffb700"/>
<rect x="517" y="281" width="1" height="2" fill="#ffde21"/>
<rect x="517" y="290" width="1" height="1" fill="#ffcc04"/>
<rect x="517" y="296" width="1" height="1" fill="#ff9700"/>
<rect x="518" y="185" width="1" height="1" fill="#f94000"/>
<rect x="518" y="201" width="1" height="1" fill="#fd6900"/>
<rect x="518" y="210" width="1" height="1" fill="#f94000"/>
<rect x="518" y="225" width="1" height="1" fill="#fc5500"/>
<rect x="518" y="226" width="1" height="1" fill="#fc5500"/>
<rect x="518" y="244" width="1" height="1" fill="#fc5500"/>
<rect x="518" y="253" width="1" height="1" fill="#ffde21"/>
<rect x="518" y="263" width="1" height="1" fill="#ffb700"/>
<rect x="518" y="272" width="1" height="1" fill="#ff9700"/>
<rect x="518" y="277" width="1" height="1" fill="#ffcc04"/>
<rect x="518" y="286" width="1" height="2" fill="#ff9700"/>
<rect x="518" y="287" width="1" height="2" fill="#ff9700"/>
<rect x="518" y="288" width="1" height="2" fill="#ffde21"/>
<rect x="518" y="293" width="1" height="1" fill="#ffde21"/>
<rect x="518" y="297" width="1" height="2" fill="#ff9700"/>
<rect x="519" y="190" width="1" height="1" fill="#fd6900"/>
<rect x="519" y="231" width="1" height="1" fill="#fd6900"/>
<rect x="519" y="232" width="1" height="1" fill="#f94000"/>
<rect x="519" y="235" width="1" height="1" fill="#f94000"/>
<rect x="519" y="252" width="1" height="1" fill="#ffb700"/>
<rect x="519" y="265" width="1" height="1" fill="#ffb700"/>
<rect x="519" y="282" width="1" height="2" fill="#ff9700"/>
<rect x="519" y="292" width="1" height="2" fill="#ff9700"/>
<rect x="519" y="293" width="1" height="1" fill="#ffde21"/>
<rect x="519" y="295" width="1" height="2" fill="#ffde21"/>
<rect x="519" y="297" width="1" height="2" fill="#ff9700"/>
<rect x="519" y="298" width="1" height="2" fill="#ffde21"/>
<rect x="519" y="299" width="1" height="1" fill="#ff9700"/>
<rect x="520" y="193" width="1" height="1" fill="#fd6900"/>
<rect x="520" y="202" width="1" height="1" fill="#fd6900"/>
<rect x="520" y="220" width="1" height="1" fill="#f94000"/>
<rect x="520" y="260" width="1" height="2" fill="#ff9700"/>
<rect x="520" y="261" width="1" height="1" fill="#ff9700"/>
<rect x="520" y="262" width="1" height="1" fill="#ffcc04"/>
<rect x="520" y="289" width="1" height="1" fill="#ffb700"/>
<rect x="520" y="294" width="1" height="1" fill="#ffb700"/>
<rect x="520" y="298" width="1" height="1" fill="#ffcc04"/>
<rect x="520" y="299" width="1" height="1" fill="#ffb700"/>
<rect x="521" y="200" width="1" height="1" fill="#f94000"/>
<rect x="521" y="207" width="1" height="1" fill="#fc5500"/>
<rect x="521" y="264" width="1" height="1" fill="#ffde21"/>
<rect x="521" y="265" width="1" height="2" fill="#ff9700"/>
<rect x="521" y="268" width="1" height="1" fill="#ffb700"/>
<rect x="521" y="269" width="1" height="2" fill="#ffde21"/>
<rect x="521" y="277" width="1" height="1" fill="#ffde21"/>
<rect x="521" y="290" width="1" height="1" fill="#ff9700"/>
<rect x="521" y="296" width="1" height="2" fill="#ffcc04"/>
<rect x="522" y="226" width="1" height="1" fill="#f94000"/>
<rect x="522" y="240" width="1" height="1" fill="#fc5500"/>
<rect x="522" y="261" width="1" height="1" fill="#ffde21"/>
<rect x="522" y="262" width="1" height="1" fill="#ff9700"/>
<rect x="522" y="273" width="1" height="1" fill="#ff9700"/>
<rect x="522" y="274" width="1" height="2" fill="#ffcc04"/>
<rect x="522" y="279" width="1" height="1" fill="#ffde21"/>
<rect x="522" y="281" width="1" height="2" fill="#ffde21"/>
<rect x="522" y="298" width="1" height="1" fill="#ffde21"/>
<rect x="523" y="187" width="1" height="1" fill="#fd6900"/>
<rect x="523" y="192" width="1" height="1" fill="#fd6900"/>
<rect x="523" y="202" width="1" height="1" fill="#f94000"/>
<rect x="523" y="208" width="1" height="1" fill="#fc5500"/>
<rect x="523" y="218" width="1" height="1" fill="#f94000"/>
<rect x="523" y="230" width="1" height="1" fill="#fc5500"/>
<rect x="523" y="236" width="1" height="1" fill="#fc5500"/>
<rect x="523" y="249" width="1" height="1" fill="#fd6900"/>
<rect x="523" y="254" width="1" height="1" fill="#ffcc04"/>
<rect x="523" y="269" width="1" height="2" fill="#ffcc04"/>
<rect x="523" y="272" width="1" height="2" fill="#ffcc04"/>
<rect x="523" y="273" width="1" height="2" fill="#ffb700"/>
<rect x="523" y="284" width="1" height="1" fill="#ffde21"/>
<rect x="523" y="294" width="1" height="1" fill="#ffb700"/>
<rect x="523" y="298" width="1" height="1" fill="#ffcc04"/>
<rect x="524" y="190" width="1" height="1" fill="#fd6900"/>
<rect x="524" y="215" width="1" height="1" fill="#f94000"/>
<rect x="524" y="219" width="1" height="1" fill="#f94000"/>
<rect x="524" y="245" width="1" height="1" fill="#fc5500"/>
<rect x="524" y="246" width="1" height="1" fill="#fc5500"/>
<rect x="524" y="247" width="1" height="1" fill="#fc5500"/>
<rect x="524" y="261" width="1" height="2" fill="#ffb700"/>
<rect x="524" y="272" width="1" height="1" fill="#ffde21"/>
<rect x="524" y="273" width="1" height="1" fill="#ffb700"/>
<rect x="524" y="275" width="1" height="1" fill="#ff9700"/>
<rect x="524" y="292" width="1" height="2" fill="#ffb700"/>
<rect x="524" y="293" width="1" height="1" fill="#ff9700"/>
<rect x="525" y="257" width="1" height="1" fill="#ffb700"/>
<rect x="525" y="265" width="1" height="1" fill="#ff9700"/>
<rect x="525" y="282" width="1" height="2" fill="#ff9700"/>
<rect x="525" y="283" width="1" height="1" fill="#ffb700"/>
<rect x="525" y="298" width="1" height="1" fill="#ffde21"/>
<rect x="526" y="190" width="1" height="1" fill="#fd6900"/>
<rect x="526" y="197" width="1" height="1" fill="#f94000"/>
<rect x="526" y="233" width="1" height="1" fill="#f94000"/>
<rect x="526" y="264" width="1" height="1" fill="#ffde21"/>
<rect x="526" y="266" width="1" height="1" fill="#ffcc04"/>
<rect x="526" y="276" width="1" height="2" fill="#ffb700"/>
<rect x="526" y="280" width="1" height="1" fill="#ff9700"/>
<rect x="526" y="293" width="1" height="1" fill="#ff9700"/>
<rect x="526" y="294" width="1" height="2" fill="#ffde21"/>
<rect x="527" y="193" width="1" height="1" fill="#f94000"/>
<rect x="527" y="204" width="1" height="1" fill="#fd6900"/>
<rect x="527" y="213" width="1" height="1" fill="#fd6900"/>
<rect x="527" y="235" width="1" height="1" fill="#f94000"/>
<rect x="527" y="246" width="1" height="1" fill="#fc5500"/>
<rect x="527" y="250" width="1" height="1" fill="#f94000"/>
<rect x="527" y="258" width="1" height="1" fill="#ffb700"/>
<rect x="527" y="259" width="1" height="1" fill="#ff9700"/>
<rect x="527" y="260" width="1" height="1" fill="#ff9700"/>
<rect x="527" y="261" width="1" height="2" fill="#ff9700"/>
<rect x="527" y="268" width="1" height="2" fill="#ff9700"/>
<rect x="527" y="271" width="1" height="1" fill="#ffcc04"/>
<rect x="527" y="280" width="1" height="1" fill="#ff9700"/>
<rect x="527" y="286" width="1" height="1" fill="#ff9700"/>
<rect x="527" y="292" width="1" height="1" fill="#ffcc04"/>
<rect x="527" y="294" width="1" height="1" fill="#ffde21"/>
<rect x="435" y="272" width="1" height="1" fill="#ffbf00"/>
<rect x="435" y="278" width="1" height="1" fill="#ffbf00"/>
<rect x="435" y="279" width="1" height="1" fill="#ffbf00"/>
<rect x="435" y="284" width="1" height="1" fill="#ffbf00"/>
<rect x="435" y="286" width="1" height="1" fill="#ffbf00"/>
<rect x="435" y="287" width="1" height="1" fill="#ffbf00"/>
<rect x="435" y="288" width="1" height="1" fill="#ffbf00"/>
<rect x="435" y="289" width="1" height="1" fill="#ffbf00"/>
<rect x="435" y="299" width="1" height="1" fill="#ffbf00"/>
<rect x="435" y="300" width="1" height="1" fill="#ffbf00"/>
<rect x="436" y="273" width="1" height="1" fill="#ffbf00"/>
<rect x="436" y="275" width="1" height="1" fill="#ffbf00"/>
<rect x="436" y="277" width="1" height="1" fill="#ffbf00"/>
<rect x="436" y="278" width="1" height="1" fill="#ffbf00"/>
<rect x="436" y="279" width="1" height="1" fill="#ffbf00"/>
<rect x="436" y="280" width="1" height="1" fill="#ffbf00"/>
<rect x="436" y="284" width="1" height="1" fill="#ffbf00"/>
<rect x="436" y="289" width="1" height="1" fill="#ffbf00"/>
<rect x="436" y="295" width="1" height="1" fill="#ffbf00"/>
<rect x="437" y="273" width="1" height="1" fill="#ffbf00"/>
<rect x="437" y="274" width="1" height="1" fill="#ffbf00"/>
<rect x="437" y="289" width="1" height="1" fill="#ffbf00"/>
<rect x="437" y="291" width="1" height="1" fill="#ffbf00"/>
<rect x="437" y="295" width="1" height="1" fill="#ffbf00"/>
<rect x="437" y="298" width="1" height="1" fill="#ffbf00"/>
<rect x="312" y="257" width="1" height="1" fill="#ffc600"/>
<rect x="312" y="261" width="1" height="2" fill="#ffc600"/>
<rect x="312" y="264" width="1" height="2" fill="#fb0"/>
<rect x="312" y="269" width="1" height="1" fill="#ffc600"/>
<rect x="312" y="273" width="1" height="1" fill="#ffc600"/>
<rect x="312" y="279" width="1" height="2" fill="#fb0"/>
<rect x="312" y="281" width="1" height="2" fill="#ffc600"/>
<rect x="312" y="283" width="1" height="2" fill="#ffcc04"/>
<rect x="312" y="284" width="1" height="1" fill="#fb0"/>
<rect x="312" y="298" width="1" height="1" fill="#ffcc04"/>
<rect x="322" y="256" width="1" height="2" fill="#ffc600"/>
<rect x="322" y="257" width="1" height="1" fill="#fb0"/>
<rect x="322" y="258" width="1" height="1" fill="#ffcc04"/>
<rect x="322" y="259" width="1" height="2" fill="#fb0"/>
<rect x="322" y="266" width="1" height="1" fill="#fb0"/>
<rect x="322" y="268" width="1" height="1" fill="#ffc600"/>
<rect x="322" y="270" width="1" height="1" fill="#ffcc04"/>
<rect x="322" y="273" width="1" height="1" fill="#ffcc04"/>
<rect x="322" y="275" width="1" height="2" fill="#ffc600"/>
<rect x="322" y="285" width="1" height="1" fill="#ffc600"/>
<rect x="322" y="288" width="1" height="1" fill="#ffcc04"/>
<rect x="322" y="299" width="1" height="1" fill="#ffcc04"/>
<rect x="370" y="254" width="1" height="1" fill="#fb0"/>
<rect x="370" y="255" width="1" height="2" fill="#ffc600"/>
<rect x="370" y="262" width="1" height="1" fill="#ffc600"/>
<rect x="370" y="268" width="1" height="1" fill="#ffc600"/>
<rect x="370" y="278" width="1" height="2" fill="#ffcc04"/>
<rect x="370" y="286" width="1" height="2" fill="#ffc600"/>
<rect x="370" y="287" width="1" height="2" fill="#fb0"/>
<rect x="370" y="300" width="1" height="1" fill="#ffc600"/>
<rect x="373" y="255" width="1" height="1" fill="#ffc600"/>
<rect x="373" y="257" width="1" height="1" fill="#ffc600"/>
<rect x="373" y="259" width="1" height="2" fill="#fb0"/>
<rect x="373" y="263" width="1" height="1" fill="#ffc600"/>
<rect x="373" y="283" width="1" height="2" fill="#ffc600"/>
<rect x="373" y="285" width="1" height="1" fill="#fb0"/>
<rect x="373" y="288" width="1" height="1" fill="#ffc600"/>
<rect x="373" y="291" width="1" height="1" fill="#ffcc04"/>
<rect x="373" y="294" width="1" height="1" fill="#fb0"/>
<rect x="373" y="298" width="1" height="2" fill="#fb0"/>
<rect x="353" y="256" width="1" height="1" fill="#ffcc04"/>
<rect x="353" y="263" width="1" height="1" fill="#ffc600"/>
<rect x="353" y="264" width="1" height="2" fill="#ffc600"/>
<rect x="353" y="272" width="1" height="1" fill="#fb0"/>
<rect x="353" y="274" width="1" height="1" fill="#ffcc04"/>
<rect x="353" y="276" width="1" height="1" fill="#ffc600"/>
<rect x="353" y="277" width="1" height="1" fill="#ffcc04"/>
<rect x="353" y="281" width="1" height="2" fill="#ffcc04"/>
<rect x="353" y="288" width="1" height="1" fill="#ffcc04"/>
<rect x="353" y="293" width="1" height="1" fill="#ffcc04"/>
<rect x="353" y="298" width="1" height="2" fill="#ffcc04"/>
<rect x="353" y="299" width="1" height="1" fill="#ffcc04"/>
<rect x="399" y="261" width="1" height="1" fill="#fb0"/>
<rect x="399" y="265" width="1" height="2" fill="#fb0"/>
<rect x="399" y="271" width="1" height="1" fill="#ffcc04"/>
<rect x="399" y="274" width="1" height="1" fill="#fb0"/>
<rect x="399" y="276" width="1" height="2" fill="#ffcc04"/>
<rect x="399" y="281" width="1" height="1" fill="#fb0"/>
<rect x="399" y="287" width="1" height="1" fill="#ffc600"/>
<rect x="399" y="290" width="1" height="2" fill="#ffc600"/>
<rect x="399" y="298" width="1" height="2" fill="#ffcc04"/>
<rect x="330" y="255" width="1" height="1" fill="#ffcc04"/>
<rect x="330" y="262" width="1" height="1" fill="#ffc600"/>
<rect x="330" y="264" width="1" height="2" fill="#ffcc04"/>
<rect x="330" y="266" width="1" height="1" fill="#ffcc04"/>
<rect x="330" y="267" width="1" height="2" fill="#fb0"/>
<rect x="330" y="272" width="1" height="1" fill="#fb0"/>
<rect x="330" y="275" width="1" height="2" fill="#ffcc04"/>
<rect x="330" y="278" width="1" height="1" fill="#ffcc04"/>
<rect x="330" y="283" width="1" height="2" fill="#ffcc04"/>
<rect x="330" y="285" width="1" height="1" fill="#fb0"/>
<rect x="330" y="290" width="1" height="1" fill="#ffcc04"/>
<rect x="330" y="298" width="1" height="1" fill="#ffcc04"/>
<rect x="367" y="256" width="1" height="2" fill="#ffc600"/>
<rect x="367" y="257" width="1" height="1" fill="#ffcc04"/>
<rect x="367" y="260" width="1" height="1" fill="#fb0"/>
<rect x="367" y="261" width="1" height="1" fill="#ffc600"/>
<rect x="367" y="266" width="1" height="2" fill="#ffcc04"/>
<rect x="367" y="269" width="1" height="1" fill="#ffc600"/>
<rect x="367" y="277" width="1" height="1" fill="#ffcc04"/>
<rect x="367" y="280" width="1" height="1" fill="#ffcc04"/>
<rect x="367" y="282" width="1" height="1" fill="#ffcc04"/>
<rect x="367" y="290" width="1" height="2" fill="#ffc600"/>
<rect x="367" y="291" width="1" height="2" fill="#ffc600"/>
<rect x="367" y="298" width="1" height="2" fill="#ffcc04"/>
<rect x="348" y="256" width="1" height="1" fill="#fb0"/>
<rect x="348" y="257" width="1" height="2" fill="#ffcc04"/>
<rect x="348" y="260" width="1" height="1" fill="#ffc600"/>
<rect x="348" y="262" width="1" height="1" fill="#fb0"/>
<rect x="348" y="263" width="1" height="1" fill="#fb0"/>
<rect x="348" y="266" width="1" height="1" fill="#ffc600"/>
<rect x="348" y="269" width="1" height="2" fill="#ffc600"/>
<rect x="348" y="270" width="1" height="1" fill="#ffc600"/>
<rect x="348" y="271" width="1" height="2" fill="#fb0"/>
<rect x="348" y="272" width="1" height="1" fill="#ffc600"/>
<rect x="348" y="277" width="1" height="1" fill="#ffcc04"/>
<rect x="348" y="279" width="1" height="2" fill="#ffcc04"/>
<rect x="348" y="281" width="1" height="1" fill="#ffc600"/>
<rect x="348" y="283" width="1" height="1" fill="#fb0"/>
<rect x="348" y="284" width="1" height="1" fill="#ffc600"/>
<rect x="348" y="293" width="1" height="2" fill="#ffcc04"/>
<rect x="348" y="298" width="1" height="1" fill="#fb0"/>
<rect x="348" y="300" width="1" height="2" fill="#ffcc04"/>
<rect x="364" y="262" width="1" height="1" fill="#fb0"/>
<rect x="364" y="268" width="1" height="2" fill="#ffc600"/>
<rect x="364" y="280" width="1" height="2" fill="#fb0"/>
<rect x="364" y="287" width="1" height="1" fill="#ffcc04"/>
<rect x="364" y="289" width="1" height="1" fill="#ffcc04"/>
<rect x="364" y="291" width="1" height="1" fill="#ffcc04"/>
<rect x="364" y="294" width="1" height="2" fill="#fb0"/>
<rect x="364" y="295" width="1" height="1" fill="#ffcc04"/>
<rect x="364" y="298" width="1" height="1" fill="#ffc600"/>
<rect x="364" y="300" width="1" height="1" fill="#fb0"/>
<rect x="314" y="255" width="1" height="1" fill="#ffcc04"/>
<rect x="314" y="256" width="1" height="2" fill="#fb0"/>
<rect x="314" y="258" width="1" height="1" fill="#ffcc04"/>
<rect x="314" y="259" width="1" height="2" fill="#ffcc04"/>
<rect x="314" y="260" width="1" height="2" fill="#ffc600"/>
<rect x="314" y="269" width="1" height="1" fill="#fb0"/>
<rect x="314" y="270" width="1" height="1" fill="#ffc600"/>
<rect x="314" y="274" width="1" height="2" fill="#ffcc04"/>
<rect x="314" y="275" width="1" height="2" fill="#ffc600"/>
<rect x="314" y="281" width="1" height="1" fill="#ffc600"/>
<rect x="314" y="282" width="1" height="1" fill="#ffcc04"/>
<rect x="314" y="287" width="1" height="1" fill="#ffcc04"/>
<rect x="314" y="290" width="1" height="2" fill="#fb0"/>
<rect x="314" y="295" width="1" height="2" fill="#fb0"/>
<rect x="314" y="297" width="1" height="1" fill="#ffcc04"/>
<rect x="374" y="255" width="1" height="1" fill="#ffc600"/>
<rect x="374" y="257" width="1" height="1" fill="#ffcc04"/>
<rect x="374" y="261" width="1" height="1" fill="#ffcc04"/>
<rect x="374" y="264" width="1" height="1" fill="#ffc600"/>
<rect x="374" y="268" width="1" height="2" fill="#fb0"/>
<rect x="374" y="270" width="1" height="1" fill="#ffcc04"/>
<rect x="374" y="271" width="1" height="1" fill="#ffc600"/>
<rect x="374" y="279" width="1" height="1" fill="#ffc600"/>
<rect x="374" y="286" width="1" height="1" fill="#ffc600"/>
<rect x="374" y="287" width="1" height="1" fill="#ffcc04"/>
<rect x="374" y="289" width="1" height="1" fill="#ffc600"/>
<rect x="374" y="292" width="1" height="2" fill="#ffcc04"/>
<rect x="374" y="293" width="1" height="2" fill="#fb0"/>
<rect x="374" y="294" width="1" height="1" fill="#fb0"/>
<rect x="403" y="256" width="1" height="1" fill="#ffc600"/>
<rect x="403" y="258" width="1" height="2" fill="#ffc600"/>
<rect x="403" y="260" width="1" height="1" fill="#ffc600"/>
<rect x="403" y="261" width="1" height="1" fill="#ffc600"/>
<rect x="403" y="270" width="1" height="1" fill="#fb0"/>
<rect x="403" y="274" width="1" height="1" fill="#ffcc04"/>
<rect x="403" y="279" width="1" height="1" fill="#ffcc04"/>
<rect x="403" y="282" width="1" height="2" fill="#ffc600"/>
<rect x="403" y="284" width="1" height="2" fill="#fb0"/>
<rect x="403" y="289" width="1" height="1" fill="#ffcc04"/>
<rect x="403" y="290" width="1" height="2" fill="#ffc600"/>
<rect x="403" y="293" width="1" height="1" fill="#ffcc04"/>
<rect x="403" y="295" width="1" height="1" fill="#fb0"/>
<rect x="403" y="296" width="1" height="2" fill="#fb0"/>
<rect x="403" y="300" width="1" height="2" fill="#fb0"/>
<rect x="346" y="257" width="1" height="1" fill="#ffc600"/>
<rect x="346" y="259" width="1" height="2" fill="#fb0"/>
<rect x="346" y="272" width="1" height="2" fill="#fb0"/>
<rect x="346" y="273" width="1" height="1" fill="#ffcc04"/>
<rect x="346" y="274" width="1" height="1" fill="#ffcc04"/>
<rect x="346" y="276" width="1" height="1" fill="#fb0"/>
<rect x="346" y="282" width="1" height="2" fill="#ffcc04"/>
<rect x="346" y="287" width="1" height="1" fill="#ffcc04"/>
<rect x="346" y="288" width="1" height="1" fill="#ffcc04"/>
<rect x="346" y="296" width="1" height="1" fill="#fb0"/>
<rect x="346" y="300" width="1" height="1" fill="#fb0"/>
<rect x="391" y="265" width="1" height="2" fill="#fb0"/>
<rect x="391" y="271" width="1" height="1" fill="#ffc600"/>
<rect x="391" y="272" width="1" height="1" fill="#ffcc04"/>
<rect x="391" y="277" width="1" height="2" fill="#ffc600"/>
<rect x="391" y="278" width="1" height="1" fill="#fb0"/>
<rect x="391" y="279" width="1" height="2" fill="#ffc600"/>
<rect x="391" y="283" width="1" height="1" fill="#ffcc04"/>
<rect x="391" y="286" width="1" height="1" fill="#fb0"/>
<rect x="391" y="291" width="1" height="2" fill="#ffcc04"/>
<rect x="391" y="295" width="1" height="1" fill="#ffcc04"/>
<rect x="391" y="297" width="1" height="1" fill="#fb0"/>
<rect x="419" y="254" width="1" height="1" fill="#ffcc04"/>
<rect x="419" y="263" width="1" height="1" fill="#ffc600"/>
<rect x="419" y="269" width="1" height="2" fill="#ffcc04"/>
<rect x="419" y="270" width="1" height="1" fill="#ffc600"/>
<rect x="419" y="281" width="1" height="1" fill="#fb0"/>
<rect x="419" y="291" width="1" height="2" fill="#fb0"/>
<rect x="419" y="297" width="1" height="1" fill="#ffcc04"/>
<rect x="405" y="256" width="1" height="2" fill="#ffc600"/>
<rect x="405" y="260" width="1" height="2" fill="#fb0"/>
<rect x="405" y="263" width="1" height="1" fill="#ffcc04"/>
<rect x="405" y="270" width="1" height="1" fill="#ffcc04"/>
<rect x="405" y="274" width="1" height="2" fill="#ffcc04"/>
<rect x="405" y="280" width="1" height="1" fill="#fb0"/>
<rect x="405" y="282" width="1" height="1" fill="#ffc600"/>
<rect x="405" y="283" width="1" height="2" fill="#fb0"/>
<rect x="405" y="286" width="1" height="2" fill="#ffc600"/>
<rect x="405" y="288" width="1" height="1" fill="#fb0"/>
<rect x="405" y="290" width="1" height="2" fill="#fb0"/>
<rect x="405" y="294" width="1" height="1" fill="#ffc600"/>
<rect x="405" y="297" width="1" height="1" fill="#ffcc04"/>
<rect x="405" y="299" width="1" height="1" fill="#ffc600"/>
<rect x="405" y="300" width="1" height="1" fill="#ffcc04"/>
<rect x="312" y="254" width="1" height="1" fill="#ffcc04"/>
<rect x="312" y="256" width="1" height="1" fill="#fb0"/>
<rect x="312" y="259" width="1" height="1" fill="#fb0"/>
<rect x="312" y="260" width="1" height="2" fill="#ffc600"/>
<rect x="312" y="262" width="1" height="1" fill="#fb0"/>
<rect x="312" y="264" width="1" height="1" fill="#fb0"/>
<rect x="312" y="270" width="1" height="1" fill="#ffcc04"/>
<rect x="312" y="271" width="1" height="1" fill="#ffcc04"/>
<rect x="312" y="280" width="1" height="2" fill="#ffc600"/>
<rect x="312" y="287" width="1" height="1" fill="#fb0"/>
<rect x="312" y="290" width="1" height="1" fill="#fb0"/>
<rect x="312" y="294" width="1" height="2" fill="#fb0"/>
<rect x="312" y="299" width="1" height="1" fill="#fb0"/>
<rect x="345" y="254" width="1" height="2" fill="#ffc600"/>
<rect x="345" y="258" width="1" height="1" fill="#ffc600"/>
<rect x="345" y="264" width="1" height="1" fill="#ffc600"/>
<rect x="345" y="268" width="1" height="1" fill="#fb0"/>
<rect x="345" y="272" width="1" height="2" fill="#ffcc04"/>
<rect x="345" y="288" width="1" height="1" fill="#fb0"/>
<rect x="345" y="289" width="1" height="2" fill="#ffc600"/>
<rect x="345" y="291" width="1" height="1" fill="#ffcc04"/>
<rect x="345" y="298" width="1" height="1" fill="#ffcc04"/>
<rect x="352" y="261" width="1" height="2" fill="#fb0"/>
<rect x="352" y="262" width="1" height="1" fill="#fb0"/>
<rect x="352" y="266" width="1" height="2" fill="#ffc600"/>
<rect x="352" y="267" width="1" height="1" fill="#fb0"/>
<rect x="352" y="268" width="1" height="1" fill="#fb0"/>
<rect x="352" y="269" width="1" height="2" fill="#ffc600"/>
<rect x="352" y="272" width="1" height="2" fill="#ffcc04"/>
<rect x="352" y="275" width="1" height="1" fill="#ffcc04"/>
<rect x="352" y="285" width="1" height="1" fill="#fb0"/>
<rect x="352" y="286" width="1" height="1" fill="#ffcc04"/>
<rect x="352" y="288" width="1" height="2" fill="#ffcc04"/>
<rect x="352" y="289" width="1" height="1" fill="#fb0"/>
<rect x="352" y="300" width="1" height="1" fill="#fb0"/>
<rect x="366" y="265" width="1" height="1" fill="#fb0"/>
<rect x="366" y="272" width="1" height="1" fill="#fb0"/>
<rect x="366" y="273" width="1" height="1" fill="#ffc600"/>
<rect x="366" y="274" width="1" height="2" fill="#ffc600"/>
<rect x="366" y="278" width="1" height="1" fill="#ffcc04"/>
<rect x="366" y="284" width="1" height="1" fill="#ffcc04"/>
<rect x="366" y="287" width="1" height="1" fill="#ffc600"/>
<rect x="366" y="290" width="1" height="1" fill="#fb0"/>
<rect x="366" y="292" width="1" height="1" fill="#ffc600"/>
<rect x="366" y="293" width="1" height="2" fill="#ffc600"/>
<rect x="366" y="295" width="1" height="1" fill="#ffc600"/>
<rect x="366" y="297" width="1" height="1" fill="#fb0"/>
<rect x="368" y="256" width="1" height="1" fill="#ffcc04"/>
<rect x="368" y="258" width="1" height="1" fill="#ffcc04"/>
<rect x="368" y="262" width="1" height="2" fill="#ffcc04"/>
<rect x="368" y="267" width="1" height="1" fill="#ffc600"/>
<rect x="368" y="268" width="1" height="1" fill="#ffc600"/>
<rect x="368" y="270" width="1" height="1" fill="#ffc600"/>
<rect x="368" y="273" width="1" height="1" fill="#fb0"/>
<rect x="368" y="278" width="1" height="1" fill="#ffcc04"/>
<rect x="368" y="296" width="1" height="1" fill="#fb0"/>
<rect x="406" y="255" width="1" height="1" fill="#ffcc04"/>
<rect x="406" y="257" width="1" height="1" fill="#fb0"/>
<rect x="406" y="258" width="1" height="1" fill="#ffc600"/>
<rect x="406" y="262" width="1" height="1" fill="#ffc600"/>
<rect x="406" y="263" width="1" height="1" fill="#ffcc04"/>
<rect x="406" y="264" width="1" height="1" fill="#fb0"/>
<rect x="406" y="269" width="1" height="1" fill="#ffcc04"/>
<rect x="406" y="276" width="1" height="1" fill="#fb0"/>
<rect x="406" y="277" width="1" height="1" fill="#ffcc04"/>
<rect x="406" y="279" width="1" height="2" fill="#ffcc04"/>
<rect x="406" y="280" width="1" height="1" fill="#ffc600"/>
<rect x="406" y="285" width="1" height="1" fill="#ffcc04"/>
<rect x="406" y="286" width="1" height="1" fill="#fb0"/>
<rect x="406" y="290" width="1" height="1" fill="#ffcc04"/>
<rect x="406" y="296" width="1" height="1" fill="#ffc600"/>
<rect x="406" y="298" width="1" height="2" fill="#fb0"/>
<rect x="406" y="299" width="1" height="1" fill="#ffcc04"/>
<rect x="391" y="254" width="1" height="2" fill="#ffc600"/>
<rect x="391" y="260" width="1" height="1" fill="#ffcc04"/>
<rect x="391" y="268" width="1" height="1" fill="#ffcc04"/>
<rect x="391" y="269" width="1" height="2" fill="#fb0"/>
<rect x="391" y="271" width="1" height="1" fill="#ffc600"/>
<rect x="391" y="274" width="1" height="2" fill="#ffcc04"/>
<rect x="391" y="278" width="1" height="2" fill="#fb0"/>
<rect x="391" y="281" width="1" height="2" fill="#fb0"/>
<rect x="391" y="287" width="1" height="2" fill="#ffcc04"/>
<rect x="391" y="288" width="1" height="1" fill="#ffc600"/>
<rect x="391" y="293" width="1" height="2" fill="#ffcc04"/>
<rect x="391" y="298" width="1" height="1" fill="#fb0"/>
<rect x="391" y="299" width="1" height="1" fill="#fb0"/>
<rect x="378" y="256" width="1" height="1" fill="#ffcc04"/>
<rect x="378" y="257" width="1" height="1" fill="#ffc600"/>
<rect x="378" y="260" width="1" height="1" fill="#ffcc04"/>
<rect x="378" y="266" width="1" height="1" fill="#fb0"/>
<rect x="378" y="279" width="1" height="1" fill="#ffcc04"/>
<rect x="378" y="284" width="1" height="1" fill="#ffc600"/>
<rect x="378" y="286" width="1" height="1" fill="#ffcc04"/>
<rect x="378" y="287" width="1" height="1" fill="#fb0"/>
<rect x="378" y="296" width="1" height="1" fill="#ffc600"/>
<rect x="378" y="299" width="1" height="2" fill="#ffcc04"/>
<rect x="378" y="300" width="1" height="1" fill="#ffc600"/>
<rect x="302" y="256" width="1" height="2" fill="#ffc600"/>
<rect x="302" y="257" width="1" height="1" fill="#ffc600"/>
<rect x="302" y="258" width="1" height="2" fill="#fb0"/>
<rect x="302" y="277" width="1" height="1" fill="#ffc600"/>
<rect x="302" y="280" width="1" height="1" fill="#fb0"/>
<rect x="302" y="282" width="1" height="1" fill="#ffc600"/>
<rect x="302" y="283" width="1" height="2" fill="#ffcc04"/>
<rect x="302" y="284" width="1" height="1" fill="#fb0"/>
<rect x="683" y="269" width="1" height="1" fill="#ffc600"/>
<rect x="683" y="281" width="1" height="1" fill="#ffcc04"/>
<rect x="683" y="290" width="1" height="2" fill="#fb0"/>
<rect x="683" y="295" width="1" height="1" fill="#ffc600"/>
<rect x="683" y="296" width="1" height="2" fill="#ffc600"/>
<rect x="770" y="265" width="1" height="1" fill="#ffc600"/>
<rect x="770" y="281" width="1" height="2" fill="#ffc600"/>
<rect x="770" y="287" width="1" height="2" fill="#ffc600"/>
<rect x="770" y="291" width="1" height="1" fill="#ffc600"/>
<rect x="560" y="258" width="1" height="2" fill="#ffcc04"/>
<rect x="560" y="276" width="1" height="1" fill="#fb0"/>
<rect x="560" y="284" width="1" height="1" fill="#ffcc04"/>
<rect x="560" y="294" width="1" height="1" fill="#fb0"/>
<rect x="560" y="297" width="1" height="1" fill="#ffcc04"/>
<rect x="576" y="264" width="1" height="2" fill="#fb0"/>
<rect x="576" y="269" width="1" height="2" fill="#ffcc04"/>
<rect x="576" y="279" width="1" height="2" fill="#ffcc04"/>
<rect x="576" y="283" width="1" height="1" fill="#fb0"/>
<rect x="576" y="294" width="1" height="2" fill="#ffc600"/>
<rect x="576" y="297" width="1" height="1" fill="#ffcc04"/>
<rect x="740" y="255" width="1" height="2" fill="#ffcc04"/>
<rect x="740" y="258" width="1" height="1" fill="#fb0"/>
<rect x="740" y="287" width="1" height="1" fill="#ffc600"/>
<rect x="740" y="291" width="1" height="1" fill="#ffcc04"/>
<rect x="740" y="295" width="1" height="1" fill="#ffcc04"/>
<rect x="623" y="255" width="1" height="1" fill="#ffcc04"/>
<rect x="623" y="256" width="1" height="2" fill="#ffc600"/>
<rect x="623" y="258" width="1" height="1" fill="#ffcc04"/>
<rect x="623" y="279" width="1" height="1" fill="#ffc600"/>
<rect x="623" y="297" width="1" height="2" fill="#ffc600"/>
<rect x="623" y="300" width="1" height="1" fill="#fb0"/>
<rect x="606" y="255" width="1" height="2" fill="#ffc600"/>
<rect x="606" y="258" width="1" height="1" fill="#ffcc04"/>
<rect x="606" y="286" width="1" height="2" fill="#ffcc04"/>
<rect x="589" y="266" width="1" height="1" fill="#fb0"/>
<rect x="589" y="274" width="1" height="2" fill="#ffcc04"/>
<rect x="589" y="290" width="1" height="2" fill="#ffc600"/>
<rect x="589" y="291" width="1" height="2" fill="#fb0"/>
<rect x="589" y="300" width="1" height="1" fill="#ffcc04"/>
<rect x="554" y="300" width="1" height="2" fill="#ffc600"/>
<rect x="775" y="262" width="1" height="1" fill="#ffcc04"/>
<rect x="775" y="272" width="1" height="1" fill="#ffc600"/>
<rect x="775" y="275" width="1" height="2" fill="#ffc600"/>
<rect x="775" y="293" width="1" height="1" fill="#fb0"/>
<rect x="775" y="294" width="1" height="1" fill="#ffcc04"/>
<rect x="775" y="296" width="1" height="2" fill="#fb0"/>
<rect x="699" y="260" width="1" height="2" fill="#fb0"/>
<rect x="699" y="262" width="1" height="1" fill="#ffcc04"/>
<rect x="699" y="266" width="1" height="1" fill="#ffc600"/>
<rect x="699" y="288" width="1" height="1" fill="#ffcc04"/>
<rect x="699" y="289" width="1" height="1" fill="#ffc600"/>
<rect x="556" y="257" width="1" height="2" fill="#ffc600"/>
<rect x="556" y="263" width="1" height="2" fill="#ffcc04"/>
<rect x="556" y="271" width="1" height="1" fill="#ffc600"/>
<rect x="556" y="276" width="1" height="2" fill="#ffcc04"/>
<rect x="556" y="282" width="1" height="1" fill="#ffcc04"/>
<rect x="556" y="289" width="1" height="1" fill="#ffc600"/>
<rect x="556" y="296" width="1" height="2" fill="#fb0"/>
<rect x="556" y="297" width="1" height="1" fill="#ffcc04"/>
<rect x="548" y="256" width="1" height="2" fill="#fb0"/>
<rect x="548" y="269" width="1" height="2" fill="#fb0"/>
<rect x="548" y="271" width="1" height="2" fill="#ffcc04"/>
<rect x="548" y="280" width="1" height="1" fill="#ffc600"/>
<rect x="548" y="288" width="1" height="1" fill="#fb0"/>
<rect x="548" y="295" width="1" height="1" fill="#fb0"/>
<rect x="548" y="298" width="1" height="2" fill="#fb0"/>
<rect x="602" y="260" width="1" height="1" fill="#ffc600"/>
<rect x="602" y="270" width="1" height="1" fill="#fb0"/>
<rect x="602" y="273" width="1" height="2" fill="#ffcc04"/>
<rect x="602" y="294" width="1" height="1" fill="#fb0"/>
<rect x="602" y="300" width="1" height="2" fill="#ffc600"/>
<rect x="779" y="278" width="1" height="1" fill="#ffcc04"/>
<rect x="779" y="286" width="1" height="1" fill="#ffcc04"/>
<rect x="779" y="287" width="1" height="1" fill="#ffc600"/>
<rect x="779" y="295" width="1" height="2" fill="#ffcc04"/>
<rect x="779" y="296" width="1" height="1" fill="#ffcc04"/>
<rect x="779" y="297" width="1" height="1" fill="#ffcc04"/>
<rect x="779" y="298" width="1" height="1" fill="#fb0"/>
<rect x="779" y="300" width="1" height="2" fill="#ffc600"/>
<rect x="699" y="254" width="1" height="2" fill="#fb0"/>
<rect x="699" y="256" width="1" height="1" fill="#ffc600"/>
<rect x="699" y="265" width="1" height="2" fill="#ffc600"/>
<rect x="699" y="267" width="1" height="1" fill="#ffc600"/>
<rect x="699" y="269" width="1" height="1" fill="#fb0"/>
<rect x="699" y="276" width="1" height="1" fill="#ffc600"/>
<rect x="600" y="264" width="1" height="2" fill="#ffc600"/>
<rect x="600" y="282" width="1" height="1" fill="#ffc600"/>
<rect x="600" y="292" width="1" height="1" fill="#ffc600"/>
<rect x="560" y="257" width="1" height="2" fill="#ffc600"/>
<rect x="560" y="265" width="1" height="1" fill="#ffcc04"/>
<rect x="560" y="267" width="1" height="1" fill="#ffc600"/>
<rect x="560" y="284" width="1" height="1" fill="#ffc600"/>
<rect x="560" y="294" width="1" height="2" fill="#ffc600"/>
<rect x="560" y="295" width="1" height="1" fill="#ffcc04"/>
<rect x="244" y="259" width="1" height="2" fill="#fb0"/>
<rect x="244" y="287" width="1" height="1" fill="#ffcc04"/>
<rect x="244" y="290" width="1" height="1" fill="#ffcc04"/>
<rect x="249" y="257" width="1" height="1" fill="#fb0"/>
<rect x="249" y="268" width="1" height="1" fill="#ffc600"/>
<rect x="249" y="278" width="1" height="1" fill="#fb0"/>
<rect x="249" y="281" width="1" height="1" fill="#ffcc04"/>
<rect x="249" y="296" width="1" height="2" fill="#ffcc04"/>
<rect x="273" y="271" width="1" height="1" fill="#ffcc04"/>
<rect x="273" y="282" width="1" height="1" fill="#fb0"/>
<rect x="273" y="296" width="1" height="1" fill="#fb0"/>
<rect x="268" y="255" width="1" height="1" fill="#ffcc04"/>
<rect x="268" y="261" width="1" height="1" fill="#fb0"/>
<rect x="268" y="263" width="1" height="2" fill="#ffc600"/>
<rect x="268" y="273" width="1" height="1" fill="#fb0"/>
<rect x="268" y="283" width="1" height="1" fill="#ffcc04"/>
</g>
<use href="#ch" y="258"/>
<g fill="#7f7f7f">
<rect x="57" y="49" width="1002" height="1"/>
<rect x="57" y="307" width="1002" height="1"/>
<rect x="57" y="565" width="1002" height="1"/>
<rect x="57" y="49" width="1" height="517"/>
<rect x="1058" y="49" width="1" height="517"/>
<rect x="57" y="47" width="1" height="2"/><rect x="57" y="566" width="1" height="2"/>
<rect x="104" y="47" width="1" height="2"/><rect x="104" y="566" width="1" height="2"/>
<rect x="152" y="47" width="1" height="2"/><rect x="152" y="566" width="1" height="2"/>
<rect x="199" y="47" width="1" height="2"/><rect x="199" y="566" width="1" height="2"/>
<rect x="247" y="47" width="1" height="2"/><rect x="247" y="566" width="1" height="2"/>
<rect x="294" y="47" width="1" height="2"/><rect x="294" y="566" width="1" height="2"/>
<rect x="341" y="47" width="1" height="2"/><rect x="341" y="566" width="1" height="2"/>
<rect x="389" y="47" width="1" height="2"/><rect x="389" y="566" width="1" height="2"/>
<rect x="436" y="47" width="1" height="2"/><rect x="436" y="566" width="1" height="2"/>
<rect x="483" y="47" width="1" height="2"/><rect x="483" y="566" width="1" height="2"/>
<rect x="531" y="47" width="1" height="2"/><rect x="531" y="566" width="1" height="2"/>
<rect x="578" y="47" width="1" height="2"/><rect x="578" y="566" width="1" height="2"/>
<rect x="626" y="47" width="1" height="2"/><rect x="626" y="566" width="1" height="2"/>
<rect x="673" y="47" width="1" height="2"/><rect x="673" y="566" width="1" height="2"/>
<rect x="720" y="47" width="1" height="2"/><rect x="720" y="566" width="1" height="2"/>
<rect x="768" y="47" width="1" height="2"/><rect x="768" y="566" width="1" height="2"/>
<rect x="815" y="47" width="1" height="2"/><rect x="815" y="566" width="1" height="2"/>
<rect x="862" y="47" width="1" height="2"/><rect x="862" y="566" width="1" height="2"/>
<rect x="910" y="47" width="1" height="2"/><rect x="910" y="566" width="1" height="2"/>
<rect x="957" y="47" width="1" height="2"/><rect x="957" y="566" width="1" height="2"/>
<rect x="1005" y="47" width="1" height="2"/><rect x="1005" y="566" width="1" height="2"/>
<rect x="1052" y="47" width="1" height="2"/><rect x="1052" y="566" width="1" height="2"/>
<rect x="55" y="306" width="2" height="1"/><rect x="1059" y="306" width="2" height="1"/>
<rect x="55" y="283" width="2" height="1"/><rect x="1059" y="283" width="2" height="1"/>
<rect x="55" y="260" width="2" height="1"/><rect x="1059" y="260" width="2" height="1"/>
<rect x="55" y="236" width="2" height="1"/><rect x="1059" y="236" width="2" height="1"/>
<rect x="55" y="213" width="2" height="1"/><rect x="1059" y="213" width="2" height="1"/>
<rect x="55" y="190" width="2" height="1"/><rect x="1059" y="190" width="2" height="1"/>
<rect x="55" y="167" width="2" height="1"/><rect x="1059" y="167" width="2" height="1"/>
<rect x="55" y="143" width="2" height="1"/><rect x="1059" y="143" width="2" height="1"/>
<rect x="55" y="120" width="2" height="1"/><rect x="1059" y="120" width="2" height="1"/>
<rect x="55" y="97" width="2" height="1"/><rect x="1059" y="97" width="2" height="1"/>
<rect x="55" y="74" width="2" height="1"/><rect x="1059" y="74" width="2" height="1"/>
<rect x="55" y="51" width="2" height="1"/><rect x="1059" y="51" width="2" height="1"/>
<rect x="55" y="564" width="2" height="1"/><rect x="1059" y="564" width="2" height="1"/>
<rect x="55" y="541" width="2" height="1"/><rect x="1059" y="541" width="2" height="1"/>
<rect x="55" y="518" width="2" height="1"/><rect x="1059" y="518" width="2" height="1"/>
<rect x="55" y="494" width="2" height="1"/><rect x="1059" y="494" width="2" height="1"/>
<rect x="55" y="471" width="2" height="1"/><rect x="1059" y="471" width="2" height="1"/>
<rect x="55" y="448" width="2" height="1"/><rect x="1059" y="448" width="2" height="1"/>
<rect x="55" y="425" width="2" height="1"/><rect x="1059" y="425" width="2" height="1"/>
<rect x="55" y="401" width="2" height="1"/><rect x="1059" y="401" width="2" height="1"/>
<rect x="55" y="378" width="2" height="1"/><rect x="1059" y="378" width="2" height="1"/>
<rect x="55" y="355" width="2" height="1"/><rect x="1059" y="355" width="2" height="1"/>
<rect x="55" y="332" width="2" height="1"/><rect x="1059" y="332" width="2" height="1"/>
<rect x="55" y="309" width="2" height="1"/><rect x="1059" y="309" width="2" height="1"/>
</g>
<rect x="1095" y="108" width="14" height="400" fill="url(#L)"/>
<g fill="#bfbfbf">
<use href="#c48" x="55" y="36"/>
<use href="#c48" x="55" y="571"/>
<use href="#c50" x="99" y="36"/>
<use href="#c48" x="105" y="36"/>
<use href="#c50" x="99" y="571"/>
<use href="#c48" x="105" y="571"/>
<use href="#c52" x="147" y="36"/>
<use href="#c48" x="153" y="36"/>
<use href="#c52" x="147" y="571"/>
<use href="#c48" x="153" y="571"/>
<use href="#c54" x="194" y="36"/>
<use href="#c48" x="200" y="36"/>
<use href="#c54" x="194" y="571"/>
<use href="#c48" x="200" y="571"/>
<use href="#c56" x="242" y="36"/>
<use href="#c48" x="248" y="36"/>
<use href="#c56" x="242" y="571"/>
<use href="#c48" x="248" y="571"/>
<use href="#c49" x="286" y="36"/>
<use href="#c48" x="292" y="36"/>
<use href="#c48" x="298" y="36"/>
<use href="#c49" x="286" y="571"/>
<use href="#c48" x="292" y="571"/>
<use href="#c48" x="298" y="571"/>
<use href="#c49" x="333" y="36"/>
<use href="#c50" x="339" y="36"/>
<use href="#c48" x="345" y="36"/>
<use href="#c49" x="333" y="571"/>
<use href="#c50" x="339" y="571"/>
<use href="#c48" x="345" y="571"/>
<use href="#c49" x="381" y="36"/>
<use href="#c52" x="387" y="36"/>
<use href="#c48" x="393" y="36"/>
<use href="#c49" x="381" y="571"/>
<use href="#c52" x="387" y="571"/>
<use href="#c48" x="393" y="571"/>
<use href="#c49" x="428" y="36"/>
<use href="#c54" x="434" y="36"/>
<use href="#c48" x="440" y="36"/>
<use href="#c49" x="428" y="571"/>
<use href="#c54" x="434" y="571"/>
<use href="#c48" x="440" y="571"/>
<use href="#c49" x="475" y="36"/>
<use href="#c56" x="481" y="36"/>
<use href="#c48" x="487" y="36"/>
<use href="#c49" x="475" y="571"/>
<use href="#c56" x="481" y="571"/>
<use href="#c48" x="487" y="571"/>
<use href="#c50" x="523" y="36"/>
<use href="#c48" x="529" y="36"/>
<use href="#c48" x="535" y="36"/>
<use href="#c50" x="523" y="571"/>
<use href="#c48" x="529" y="571"/>
<use href="#c48" x="535" y="571"/>
<use href="#c50" x="570" y="36"/>
<use href="#c50" x="576" y="36"/>
<use href="#c48" x="582" y="36"/>
<use href="#c50" x="570" y="571"/>
<use href="#c50" x="576" y="571"/>
<use href="#c48" x="582" y="571"/>
<use href="#c50" x="618" y="36"/>
<use href="#c52" x="624" y="36"/>
<use href="#c48" x="630" y="36"/>
<use href="#c50" x="618" y="571"/>
<use href="#c52" x="624" y="571"/>
<use href="#c48" x="630" y="571"/>
<use href="#c50" x="665" y="36"/>
<use href="#c54" x="671" y="36"/>
<use href="#c48" x="677" y="36"/>
<use href="#c50" x="665" y="571"/>
<use href="#c54" x="671" y="571"/>
<use href="#c48" x="677" y="571"/>
<use href="#c50" x="712" y="36"/>
<use href="#c56" x="718" y="36"/>
<use href="#c48" x="724" y="36"/>
<use href="#c50" x="712" y="571"/>
<use href="#c56" x="718" y="571"/>
<use href="#c48" x="724" y="571"/>
<use href="#c51" x="760" y="36"/>
<use href="#c48" x="766" y="36"/>
<use href="#c48" x="772" y="36"/>
<use href="#c51" x="760" y="571"/>
<use href="#c48" x="766" y="571"/>
<use href="#c48" x="772" y="571"/>
<use href="#c51" x="807" y="36"/>
<use href="#c50" x="813" y="36"/>
<use href="#c48" x="819" y="36"/>
<use href="#c51" x="807" y="571"/>
<use href="#c50" x="813" y="571"/>
<use href="#c48" x="819" y="571"/>
<use href="#c51" x="854" y="36"/>
<use href="#c52" x="860" y="36"/>
<use href="#c48" x="866" y="36"/>
<use href="#c51" x="854" y="571"/>
<use href="#c52" x="860" y="571"/>
<use href="#c48" x="866" y="571"/>
<use href="#c51" x="902" y="36"/>
<use href="#c54" x="908" y="36"/>
<use href="#c48" x="914" y="36"/>
<use href="#c51" x="902" y="571"/>
<use href="#c54" x="908" y="571"/>
<use href="#c48" x="914" y="571"/>
<use href="#c51" x="949" y="36"/>
<use href="#c56" x="955" y="36"/>
<use href="#c48" x="961" y="36"/>
<use href="#c51" x="949" y="571"/>
<use href="#c56" x="955" y="571"/>
<use href="#c48" x="961" y="571"/>
<use href="#c52" x="997" y="36"/>
<use href="#c48" x="1003" y="36"/>
<use href="#c48" x="1009" y="36"/>
<use href="#c52" x="997" y="571"/>
<use href="#c48" x="1003" y="571"/>
<use href="#c48" x="1009" y="571"/>
<use href="#c52" x="1044" y="36"/>
<use href="#c50" x="1050" y="36"/>
<use href="#c48" x="1056" y="36"/>
<use href="#c52" x="1044" y="571"/>
<use href="#c50" x="1050" y="571"/>
<use href="#c48" x="1056" y="571"/>
<use href="#c50" x="48" y="279"/>
<use href="#c50" x="1064" y="279"/>
<use href="#c52" x="48" y="256"/>
<use href="#c52" x="1064" y="256"/>
<use href="#c54" x="48" y="232"/>
<use href="#c54" x="1064" y="232"/>
<use href="#c56" x="48" y="209"/>
<use href="#c56" x="1064" y="209"/>
<use href="#c49" x="42" y="186"/>
<use href="#c48" x="48" y="186"/>
<use href="#c49" x="1064" y="186"/>
<use href="#c48" x="1070" y="186"/>
<use href="#c49" x="42" y="163"/>
<use href="#c50" x="48" y="163"/>
<use href="#c49" x="1064" y="163"/>
<use href="#c50" x="1070" y="163"/>
<use href="#c49" x="42" y="139"/>
<use href="#c52" x="48" y="139"/>
<use href="#c49" x="1064" y="139"/>
<use href="#c52" x="1070" y="139"/>
<use href="#c49" x="42" y="116"/>
<use href="#c54" x="48" y="116"/>
<use href="#c49" x="1064" y="116"/>
<use href="#c54" x="1070" y="116"/>
<use href="#c49" x="42" y="93"/>
<use href="#c56" x="48" y="93"/>
<use href="#c49" x="1064" y="93"/>
<use href="#c56" x="1070" y="93"/>
<use href="#c50" x="42" y="70"/>
<use href="#c48" x="48" y="70"/>
<use href="#c50" x="1064" y="70"/>
<use href="#c48" x="1070" y="70"/>
<use href="#c50" x="42" y="47"/>
<use href="#c50" x="48" y="47"/>
<use href="#c50" x="1064" y="47"/>
<use href="#c50" x="1070" y="47"/>
<use href="#c68" x="42" y="560"/>
<use href="#c67" x="48" y="560"/>
<use href="#c68" x="1064" y="560"/>
<use href="#c67" x="1070" y="560"/>
<use href="#c50" x="48" y="537"/>
<use href="#c50" x="1064" y="537"/>
<use href="#c52" x="48" y="514"/>
<use href="#c52" x="1064" y="514"/>
<use href="#c54" x="48" y="490"/>
<use href="#c54" x="1064" y="490"/>
<use href="#c56" x="48" y="467"/>
<use href="#c56" x="1064" y="467"/>
<use href="#c49" x="42" y="444"/>
<use href="#c48" x="48" y="444"/>
<use href="#c49" x="1064" y="444"/>
<use href="#c48" x="1070" y="444"/>
<use href="#c49" x="42" y="421"/>
<use href="#c50" x="48" y="421"/>
<use href="#c49" x="1064" y="421"/>
<use href="#c50" x="1070" y="421"/>
<use href="#c49" x="42" y="397"/>
<use href="#c52" x="48" y="397"/>
<use href="#c49" x="1064" y="397"/>
<use href="#c52" x="1070" y="397"/>
<use href="#c49" x="42" y="374"/>
<use href="#c54" x="48" y="374"/>
<use href="#c49" x="1064" y="374"/>
<use href="#c54" x="1070" y="374"/>
<use href="#c49" x="42" y="351"/>
<use href="#c56" x="48" y="351"/>
<use href="#c49" x="1064" y="351"/>
<use href="#c56" x="1070" y="351"/>
<use href="#c50" x="42" y="328"/>
<use href="#c48" x="48" y="328"/>
<use href="#c50" x="1064" y="328"/>
<use href="#c48" x="1070" y="328"/>
<use href="#c50" x="42" y="305"/>
<use href="#c50" x="48" y="305"/>
<use href="#c50" x="1064" y="305"/>
<use href="#c50" x="1070" y="305"/>
<use href="#c43" x="1110" y="104"/>
<use href="#c48" x="1116" y="104"/>
<use href="#c45" x="1110" y="137"/>
<use href="#c49" x="1116" y="137"/>
<use href="#c48" x="1122" y="137"/>
<use href="#c45" x="1110" y="170"/>
<use href="#c50" x="1116" y="170"/>
<use href="#c48" x="1122" y="170"/>
<use href="#c45" x="1110" y="204"/>
<use href="#c51" x="1116" y="204"/>
<use href="#c48" x="1122" y="204"/>
<use href="#c45" x="1110" y="237"/>
<use href="#c52" x="1116" y="237"/>
<use href="#c48" x="1122" y="237"/>
<use href="#c45" x="1110" y="270"/>
<use href="#c53" x="1116" y="270"/>
<use href="#c48" x="1122" y="270"/>
<use href="#c45" x="1110" y="304"/>
<use href="#c54" x="1116" y="304"/>
<use href="#c48" x="1122" y="304"/>
<use href="#c45" x="1110" y="337"/>
<use href="#c55" x="1116" y="337"/>
<use href="#c48" x="1122" y="337"/>
<use href="#c45" x="1110" y="370"/>
<use href="#c56" x="1116" y="370"/>
<use href="#c48" x="1122" y="370"/>
<use href="#c45" x="1110" y="403"/>
<use href="#c57" x="1116" y="403"/>
<use href="#c48" x="1122" y="403"/>
<use href="#c45" x="1110" y="436"/>
<use href="#c49" x="1116" y="436"/>
<use href="#c48" x="1122" y="436"/>
<use href="#c48" x="1128" y="436"/>
<use href="#c45" x="1110" y="470"/>
<use href="#c49" x="1116" y="470"/>
<use href="#c49" x="1122" y="470"/>
<use href="#c48" x="1128" y="470"/>
<use href="#c45" x="1110" y="503"/>
<use href="#c49" x="1116" y="503"/>
<use href="#c50" x="1122" y="503"/>
<use href="#c48" x="1128" y="503"/>
<use href="#c100" x="1101" y="521"/>
<use href="#c66" x="1107" y="521"/>
<use href="#c70" x="1113" y="521"/>
<use href="#c83" x="1119" y="521"/>
<use href="#c84" x="534" y="589"/>
<use href="#c105" x="540" y="589"/>
<use href="#c109" x="546" y="589"/>
<use href="#c101" x="552" y="589"/>
<use href="#c40" x="564" y="589"/>
<use href="#c115" x="570" y="589"/>
<use href="#c41" x="576" y="589"/>
<g transform="translate(11,353) rotate(-90)">
<use href="#c70" x="0" y="0"/>
<use href="#c114" x="6" y="0"/>
<use href="#c101" x="12" y="0"/>
<use href="#c113" x="18" y="0"/>
<use href="#c117" x="24" y="0"/>
<use href="#c101" x="30" y="0"/>
<use href="#c110" x="36" y="0"/>
<use href="#c99" x="42" y="0"/>
<use href="#c121" x="48" y="0"/>
<use href="#c40" x="60" y="0"/>
<use href="#c107" x="66" y="0"/>
<use href="#c72" x="72" y="0"/>
<use href="#c122" x="78" y="0"/>
<use href="#c41" x="84" y="0"/>
</g></g>
<text class="t" x="376.4" y="10.3" textLength="50.0" lengthAdjust="spacingAndGlyphs">19-rattez_</text>
<text class="t" x="426.9" y="10.3" textLength="25.7" lengthAdjust="spacingAndGlyphs">and_</text>
<text class="t" x="453.5" y="10.3" textLength="31.2" lengthAdjust="spacingAndGlyphs">costa_</text>
<text class="t" x="485.3" y="10.3" textLength="44.7" lengthAdjust="spacingAndGlyphs">pantazis-</text>
<text class="t" x="530.6" y="10.3" textLength="50.4" lengthAdjust="spacingAndGlyphs">serenade_</text>
<text class="t" x="581.4" y="10.3" textLength="21.6" lengthAdjust="spacingAndGlyphs">(alf_</text>
<text class="t" x="603.4" y="10.3" textLength="45.2" lengthAdjust="spacingAndGlyphs">graham_</text>
<text class="t" x="648.9" y="10.3" textLength="61.1" lengthAdjust="spacingAndGlyphs">remix).flac:</text>
<text class="t" x="712.8" y="10.3" textLength="27.0" lengthAdjust="spacingAndGlyphs">MPEG</text>
<text class="t" x="743.5" y="10.3" textLength="25.1" lengthAdjust="spacingAndGlyphs">95%</text>
<text class="t" x="838.9" y="610.2" textLength="45.4" lengthAdjust="spacingAndGlyphs">Produced</text>
<text class="t" x="888.8" y="610.2" textLength="10.9" lengthAdjust="spacingAndGlyphs">by</text>
<text class="t" x="903.7" y="610.2" textLength="19.8" lengthAdjust="spacingAndGlyphs">SOX</text>
<text class="t" x="927.4" y="610.2" textLength="11.2" lengthAdjust="spacingAndGlyphs">on</text>
<text class="t" x="942.8" y="610.2" textLength="36.7" lengthAdjust="spacingAndGlyphs">request</text>
<text class="t" x="983.8" y="610.2" textLength="10.8" lengthAdjust="spacingAndGlyphs">by</text>
<text class="t" x="999.1" y="610.2" textLength="53.4" lengthAdjust="spacingAndGlyphs">AUCDTECT</text>
<text class="t" x="1058.1" y="610.2" textLength="25.9" lengthAdjust="spacingAndGlyphs">TASK</text>
<text class="t" x="1088.9" y="610.2" textLength="50.6" lengthAdjust="spacingAndGlyphs">MANAGER</text>
</svg></body></html>
